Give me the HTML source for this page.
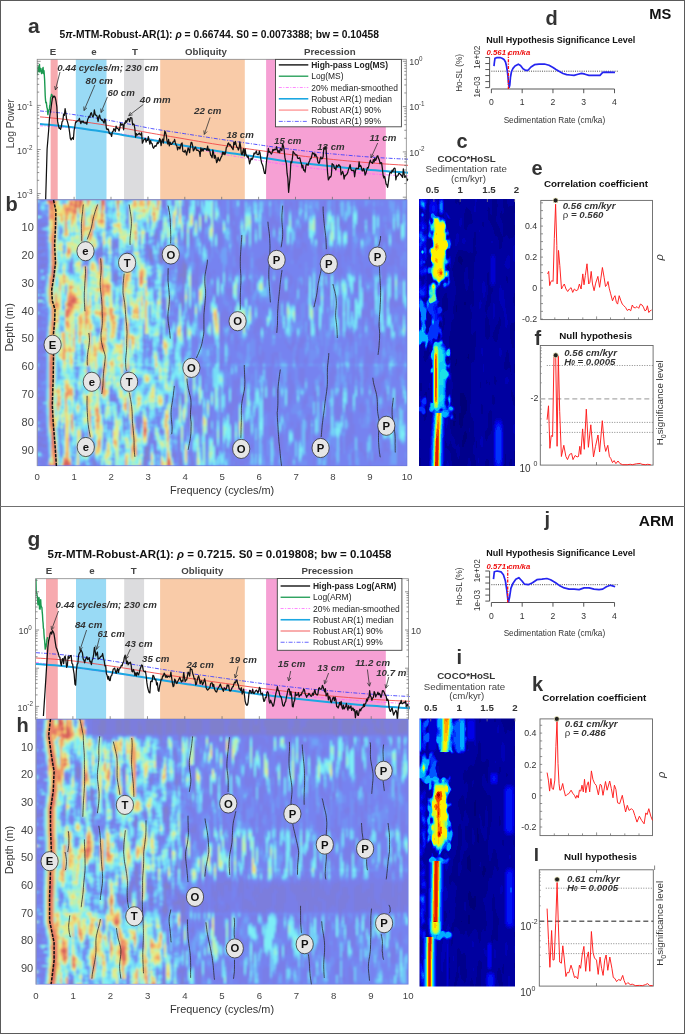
<!DOCTYPE html>
<html><head><meta charset="utf-8"><style>
html,body{margin:0;padding:0;background:#fff;}
body{width:685px;height:1034px;overflow:hidden;}
svg{display:block;font-family:"Liberation Sans",sans-serif;opacity:0.999;}
</style></head><body>
<svg width="685" height="1034" viewBox="0 0 685 1034">
<rect x="0.00" y="0.00" width="685.00" height="1034.00" fill="#fff"/>
<rect x="50.60" y="59.30" width="7.10" height="140.50" fill="#f7aaaf"/>
<rect x="75.80" y="59.30" width="30.70" height="140.50" fill="#99daf5"/>
<rect x="124.00" y="59.30" width="19.90" height="140.50" fill="#dcdcde"/>
<rect x="160.20" y="59.30" width="84.60" height="140.50" fill="#f9cba8"/>
<rect x="266.10" y="59.30" width="119.70" height="140.50" fill="#f6a0d4"/>
<text x="52.9" y="54.6" font-size="9.7" text-anchor="middle" font-weight="bold" font-style="normal" fill="#444">E</text>
<text x="94.0" y="54.6" font-size="9.7" text-anchor="middle" font-weight="bold" font-style="normal" fill="#444">e</text>
<text x="134.9" y="54.6" font-size="9.7" text-anchor="middle" font-weight="bold" font-style="normal" fill="#444">T</text>
<text x="206.0" y="54.6" font-size="9.7" text-anchor="middle" font-weight="bold" font-style="normal" fill="#444">Obliquity</text>
<text x="329.8" y="54.6" font-size="9.7" text-anchor="middle" font-weight="bold" font-style="normal" fill="#444">Precession</text>
<clipPath id="clipa"><rect x="37.2" y="59.3" width="371.6" height="140.5"/></clipPath>
<g clip-path="url(#clipa)">
<path d="M40.00,125.78 L44.66,126.00 L49.32,126.25 L53.97,126.55 L58.63,126.88 L63.29,127.24 L67.95,127.63 L72.61,128.05 L77.27,128.50 L81.92,128.98 L86.58,129.49 L91.24,130.01 L95.90,130.56 L100.56,131.13 L105.22,131.72 L109.87,132.33 L114.53,132.96 L119.19,133.60 L123.85,134.26 L128.51,134.98 L133.16,135.75 L137.82,136.57 L142.48,137.42 L147.14,138.32 L151.80,139.24 L156.46,140.19 L161.11,141.17 L165.77,142.16 L170.43,143.16 L175.09,144.18 L179.75,145.20 L184.41,146.22 L189.06,147.24 L193.72,148.25 L198.38,149.25 L203.04,150.23 L207.70,151.18 L212.35,152.11 L217.01,153.01 L221.67,153.88 L226.33,154.73 L230.99,155.58 L235.65,156.41 L240.30,157.24 L244.96,158.05 L249.62,158.86 L254.28,159.65 L258.94,160.42 L263.59,161.19 L268.25,161.94 L272.91,162.67 L277.57,163.39 L282.23,164.08 L286.89,164.77 L291.54,165.43 L296.20,166.07 L300.86,166.69 L305.52,167.30 L310.18,167.88 L314.84,168.44 L319.49,168.99 L324.15,169.52 L328.81,170.03 L333.47,170.53 L338.13,171.01 L342.78,171.47 L347.44,171.92 L352.10,172.34 L356.76,172.75 L361.42,173.14 L366.08,173.51 L370.73,173.86 L375.39,174.19 L380.05,174.50 L384.71,174.78 L389.37,175.04 L394.03,175.28 L398.68,175.49 L403.34,175.68 L408.00,175.84" stroke="#ff5cff" stroke-width="0.8" fill="none" stroke-linejoin="round" stroke-dasharray="3,1.5,1,1.5" stroke-linecap="butt"/>
<path d="M40.00,124.05 L44.66,124.40 L49.32,124.79 L53.97,125.21 L58.63,125.66 L63.29,126.14 L67.95,126.67 L72.61,127.25 L77.27,127.87 L81.92,128.53 L86.58,129.20 L91.24,129.90 L95.90,130.60 L100.56,131.30 L105.22,132.02 L109.87,132.77 L114.53,133.55 L119.19,134.33 L123.85,135.14 L128.51,135.94 L133.16,136.75 L137.82,137.55 L142.48,138.36 L147.14,139.17 L151.80,139.99 L156.46,140.81 L161.11,141.65 L165.77,142.49 L170.43,143.32 L175.09,144.15 L179.75,144.95 L184.41,145.75 L189.06,146.53 L193.72,147.32 L198.38,148.09 L203.04,148.85 L207.70,149.61 L212.35,150.35 L217.01,151.07 L221.67,151.79 L226.33,152.48 L230.99,153.15 L235.65,153.81 L240.30,154.47 L244.96,155.13 L249.62,155.79 L254.28,156.48 L258.94,157.18 L263.59,157.89 L268.25,158.60 L272.91,159.30 L277.57,159.99 L282.23,160.66 L286.89,161.29 L291.54,161.89 L296.20,162.46 L300.86,163.02 L305.52,163.55 L310.18,164.07 L314.84,164.57 L319.49,165.06 L324.15,165.55 L328.81,166.03 L333.47,166.51 L338.13,166.97 L342.78,167.43 L347.44,167.88 L352.10,168.31 L356.76,168.74 L361.42,169.16 L366.08,169.56 L370.73,169.95 L375.39,170.34 L380.05,170.70 L384.71,171.06 L389.37,171.41 L394.03,171.74 L398.68,172.06 L403.34,172.36 L408.00,172.65" stroke="#1ba7e2" stroke-width="2.0" fill="none" stroke-linejoin="round" stroke-linecap="butt"/>
<path d="M40.00,116.86 L44.66,117.27 L49.32,117.71 L53.97,118.18 L58.63,118.67 L63.29,119.19 L67.95,119.74 L72.61,120.33 L77.27,120.94 L81.92,121.58 L86.58,122.24 L91.24,122.92 L95.90,123.61 L100.56,124.32 L105.22,125.05 L109.87,125.81 L114.53,126.61 L119.19,127.42 L123.85,128.25 L128.51,129.09 L133.16,129.93 L137.82,130.77 L142.48,131.62 L147.14,132.47 L151.80,133.30 L156.46,134.11 L161.11,134.91 L165.77,135.71 L170.43,136.50 L175.09,137.28 L179.75,138.08 L184.41,138.88 L189.06,139.69 L193.72,140.50 L198.38,141.31 L203.04,142.12 L207.70,142.91 L212.35,143.68 L217.01,144.43 L221.67,145.15 L226.33,145.84 L230.99,146.50 L235.65,147.16 L240.30,147.80 L244.96,148.44 L249.62,149.08 L254.28,149.73 L258.94,150.38 L263.59,151.02 L268.25,151.66 L272.91,152.29 L277.57,152.92 L282.23,153.53 L286.89,154.14 L291.54,154.73 L296.20,155.31 L300.86,155.88 L305.52,156.44 L310.18,156.99 L314.84,157.53 L319.49,158.05 L324.15,158.56 L328.81,159.05 L333.47,159.53 L338.13,159.99 L342.78,160.45 L347.44,160.89 L352.10,161.31 L356.76,161.73 L361.42,162.13 L366.08,162.52 L370.73,162.90 L375.39,163.26 L380.05,163.60 L384.71,163.93 L389.37,164.25 L394.03,164.54 L398.68,164.82 L403.34,165.08 L408.00,165.33" stroke="#f24848" stroke-width="0.9" fill="none" stroke-linejoin="round" stroke-linecap="butt"/>
<path d="M40.00,110.95 L44.66,111.34 L49.32,111.76 L53.97,112.22 L58.63,112.71 L63.29,113.22 L67.95,113.80 L72.61,114.44 L77.27,115.12 L81.92,115.85 L86.58,116.59 L91.24,117.36 L95.90,118.13 L100.56,118.91 L105.22,119.69 L109.87,120.51 L114.53,121.35 L119.19,122.22 L123.85,123.10 L128.51,124.00 L133.16,124.90 L137.82,125.81 L142.48,126.77 L147.14,127.74 L151.80,128.59 L156.46,129.36 L161.11,130.10 L165.77,130.81 L170.43,131.50 L175.09,132.20 L179.75,132.92 L184.41,133.65 L189.06,134.39 L193.72,135.13 L198.38,135.87 L203.04,136.61 L207.70,137.34 L212.35,138.07 L217.01,138.78 L221.67,139.48 L226.33,140.17 L230.99,140.85 L235.65,141.52 L240.30,142.18 L244.96,142.84 L249.62,143.51 L254.28,144.17 L258.94,144.85 L263.59,145.52 L268.25,146.19 L272.91,146.86 L277.57,147.51 L282.23,148.14 L286.89,148.76 L291.54,149.35 L296.20,149.92 L300.86,150.48 L305.52,151.03 L310.18,151.57 L314.84,152.08 L319.49,152.58 L324.15,153.06 L328.81,153.53 L333.47,153.97 L338.13,154.40 L342.78,154.83 L347.44,155.24 L352.10,155.63 L356.76,156.02 L361.42,156.39 L366.08,156.74 L370.73,157.08 L375.39,157.41 L380.05,157.72 L384.71,158.01 L389.37,158.28 L394.03,158.54 L398.68,158.78 L403.34,159.00 L408.00,159.20" stroke="#4040ff" stroke-width="0.9" fill="none" stroke-linejoin="round" stroke-dasharray="4,1.5,1,1.5" stroke-linecap="butt"/>
<path d="M37.40,75.22 L37.70,68.30 L38.00,66.64 L38.30,67.38 L38.60,71.31 L38.90,71.07 L39.20,71.69 L39.50,64.35 L39.80,71.73 L40.10,67.89 L40.40,70.00 L40.70,68.58 L41.00,68.68 L41.30,72.00 L41.60,73.54 L41.90,70.81 L42.20,70.98 L42.50,72.90 L42.80,68.64 L43.10,67.49 L43.40,73.59 L43.70,72.34 L44.00,70.71 L44.30,74.71 L44.60,79.57 L44.90,86.91 L45.20,95.47 L45.50,99.80 L45.80,102.69 L46.10,102.10 L46.40,102.63 L46.70,105.94 L47.00,107.94 L47.30,108.52 L47.60,111.85 L47.90,114.61 L48.20,112.40 L48.50,110.18 L48.80,110.65 L49.10,109.82 L49.40,109.80 L49.70,105.64 L50.00,105.27 L50.30,101.73 L50.60,97.53 L50.90,96.93 L51.20,96.18 L51.50,94.32 L51.80,96.41 L52.10,95.42 L52.40,94.46" stroke="#1a9a50" stroke-width="1.4" fill="none" stroke-linejoin="round"/>
<path d="M45.60,201.00 L46.35,176.00 L47.10,149.00 L47.85,140.00 L48.60,131.00 L49.35,119.86 L50.10,113.75 L50.85,109.47 L51.60,103.37 L52.35,98.60 L53.10,96.01 L53.85,97.07 L54.60,96.20 L55.35,97.77 L56.10,101.70 L56.85,106.87 L57.60,121.40 L58.35,125.04 L59.10,128.32 L59.85,127.99 L60.60,129.41 L61.35,126.37 L62.10,121.66 L62.85,120.88 L63.60,114.05 L64.35,115.34 L65.10,108.68 L65.85,113.15 L66.60,119.10 L67.35,121.43 L68.10,124.09 L68.85,127.08 L69.60,132.40 L70.35,138.56 L71.10,139.97 L71.85,138.41 L72.60,137.64 L73.35,139.33 L74.10,130.42 L74.85,126.70 L75.60,121.98 L76.35,122.07 L77.10,120.80 L77.85,120.81 L78.60,120.15 L79.35,118.41 L80.10,121.29 L80.85,123.62 L81.60,121.18 L82.35,122.18 L83.10,120.95 L83.85,122.79 L84.60,122.77 L85.35,123.23 L86.10,122.40 L86.85,124.21 L87.60,119.74 L88.35,118.10 L89.10,116.23 L89.85,117.18 L90.60,113.63 L91.35,112.67 L92.10,115.23 L92.85,116.98 L93.60,115.75 L94.35,109.96 L95.10,114.06 L95.85,115.27 L96.60,115.31 L97.35,117.36 L98.10,121.33 L98.85,116.48 L99.60,115.05 L100.35,118.63 L101.10,119.21 L101.85,120.34 L102.60,119.89 L103.35,121.99 L104.10,123.04 L104.85,118.88 L105.60,120.76 L106.35,128.22 L107.10,129.78 L107.85,128.85 L108.60,129.92 L109.35,133.68 L110.10,133.71 L110.85,134.13 L111.60,136.44 L112.35,131.83 L113.10,131.37 L113.85,128.64 L114.60,129.75 L115.35,131.37 L116.10,126.09 L116.85,128.18 L117.60,128.40 L118.35,128.94 L119.10,130.91 L119.85,127.98 L120.60,123.11 L121.35,125.13 L122.10,123.98 L122.85,124.44 L123.60,129.78 L124.35,123.21 L125.10,123.41 L125.85,120.59 L126.60,122.29 L127.35,120.28 L128.10,118.52 L128.85,119.02 L129.60,121.54 L130.35,117.67 L131.10,117.76 L131.85,118.15 L132.60,124.77 L133.35,123.91 L134.10,124.38 L134.85,128.87 L135.60,137.08 L136.35,133.56 L137.10,135.05 L137.85,134.62 L138.60,133.81 L139.35,133.08 L140.10,134.65 L140.85,134.76 L141.60,132.74 L142.35,143.21 L143.10,141.39 L143.85,139.72 L144.60,139.12 L145.35,138.51 L146.10,142.02 L146.85,140.06 L147.60,140.35 L148.35,136.55 L149.10,140.37 L149.85,144.17 L150.60,140.58 L151.35,143.24 L152.10,143.56 L152.85,147.12 L153.60,148.25 L154.35,146.75 L155.10,145.65 L155.85,146.39 L156.60,144.81 L157.35,142.46 L158.10,143.53 L158.85,142.31 L159.60,138.50 L160.35,139.86 L161.10,145.55 L161.85,140.96 L162.60,139.10 L163.35,143.21 L164.10,136.47 L164.85,131.12 L165.60,132.81 L166.35,135.74 L167.10,141.54 L167.85,144.19 L168.60,139.49 L169.35,145.91 L170.10,142.17 L170.85,144.41 L171.60,144.48 L172.35,143.44 L173.10,141.89 L173.85,141.59 L174.60,139.40 L175.35,142.75 L176.10,144.97 L176.85,145.99 L177.60,149.87 L178.35,147.44 L179.10,147.00 L179.85,148.96 L180.60,146.50 L181.35,143.44 L182.10,142.95 L182.85,151.28 L183.60,151.52 L184.35,152.16 L185.10,150.14 L185.85,151.85 L186.60,155.01 L187.35,151.44 L188.10,147.84 L188.85,149.31 L189.60,152.66 L190.35,146.76 L191.10,142.27 L191.85,142.65 L192.60,145.70 L193.35,150.89 L194.10,149.90 L194.85,147.71 L195.60,147.07 L196.35,149.96 L197.10,150.44 L197.85,150.00 L198.60,151.02 L199.35,151.40 L200.10,156.38 L200.85,147.82 L201.60,151.06 L202.35,148.93 L203.10,151.12 L203.85,148.59 L204.60,148.62 L205.35,148.84 L206.10,149.00 L206.85,150.38 L207.60,146.17 L208.35,150.52 L209.10,149.19 L209.85,151.17 L210.60,155.01 L211.35,155.96 L212.10,157.73 L212.85,150.00 L213.60,153.23 L214.35,158.25 L215.10,155.25 L215.85,157.98 L216.60,162.71 L217.35,161.14 L218.10,157.34 L218.85,160.07 L219.60,160.95 L220.35,159.03 L221.10,157.16 L221.85,156.03 L222.60,152.04 L223.35,154.23 L224.10,152.30 L224.85,154.69 L225.60,152.65 L226.35,147.24 L227.10,146.98 L227.85,143.64 L228.60,142.86 L229.35,145.22 L230.10,144.52 L230.85,145.78 L231.60,147.56 L232.35,148.21 L233.10,149.66 L233.85,142.17 L234.60,144.64 L235.35,141.48 L236.10,144.63 L236.85,147.15 L237.60,147.65 L238.35,149.99 L239.10,148.24 L239.85,141.99 L240.60,146.43 L241.35,153.89 L242.10,154.85 L242.85,151.51 L243.60,148.76 L244.35,155.82 L245.10,148.92 L245.85,154.12 L246.60,155.61 L247.35,157.27 L248.10,155.96 L248.85,159.25 L249.60,163.94 L250.35,161.09 L251.10,158.05 L251.85,159.70 L252.60,158.60 L253.35,156.08 L254.10,153.01 L254.85,153.84 L255.60,152.52 L256.35,150.98 L257.10,154.35 L257.85,154.69 L258.60,154.69 L259.35,151.03 L260.10,153.55 L260.85,159.09 L261.60,162.98 L262.35,164.56 L263.10,166.81 L263.85,170.53 L264.60,173.50 L265.35,173.51 L266.10,165.47 L266.85,158.20 L267.60,155.10 L268.35,148.34 L269.10,152.16 L269.85,151.90 L270.60,152.94 L271.35,154.05 L272.10,152.68 L272.85,149.42 L273.60,150.65 L274.35,149.22 L275.10,149.74 L275.85,149.41 L276.60,146.56 L277.35,150.31 L278.10,152.47 L278.85,150.54 L279.60,152.78 L280.35,148.51 L281.10,149.24 L281.85,150.59 L282.60,143.56 L283.35,146.01 L284.10,149.35 L284.85,157.15 L285.60,160.79 L286.35,163.51 L287.10,173.47 L287.85,178.24 L288.60,192.33 L289.35,184.75 L290.10,177.54 L290.85,161.95 L291.60,162.87 L292.35,158.69 L293.10,151.34 L293.85,152.88 L294.60,153.21 L295.35,154.80 L296.10,154.77 L296.85,154.80 L297.60,158.16 L298.35,158.42 L299.10,157.98 L299.85,157.97 L300.60,161.50 L301.35,163.44 L302.10,167.81 L302.85,165.18 L303.60,170.28 L304.35,169.95 L305.10,172.06 L305.85,166.07 L306.60,164.09 L307.35,164.27 L308.10,165.34 L308.85,162.33 L309.60,160.96 L310.35,158.54 L311.10,158.59 L311.85,155.40 L312.60,152.64 L313.35,153.73 L314.10,153.24 L314.85,156.44 L315.60,154.17 L316.35,155.98 L317.10,157.28 L317.85,161.95 L318.60,163.10 L319.35,163.06 L320.10,159.18 L320.85,156.84 L321.60,158.91 L322.35,158.43 L323.10,156.81 L323.85,147.61 L324.60,149.18 L325.35,146.56 L326.10,149.51 L326.85,161.10 L327.60,173.17 L328.35,179.86 L329.10,178.74 L329.85,176.77 L330.60,177.16 L331.35,175.20 L332.10,163.61 L332.85,164.60 L333.60,164.88 L334.35,168.43 L335.10,167.99 L335.85,169.97 L336.60,165.18 L337.35,166.73 L338.10,165.82 L338.85,164.56 L339.60,166.24 L340.35,166.17 L341.10,174.82 L341.85,173.35 L342.60,171.37 L343.35,173.73 L344.10,179.03 L344.85,175.46 L345.60,175.83 L346.35,174.38 L347.10,173.99 L347.85,171.92 L348.60,169.13 L349.35,167.18 L350.10,164.67 L350.85,168.98 L351.60,170.52 L352.35,170.26 L353.10,170.89 L353.85,170.05 L354.60,176.78 L355.35,171.33 L356.10,168.47 L356.85,168.40 L357.60,168.61 L358.35,168.73 L359.10,161.90 L359.85,166.59 L360.60,165.49 L361.35,167.25 L362.10,170.82 L362.85,170.97 L363.60,168.41 L364.35,170.37 L365.10,175.03 L365.85,173.37 L366.60,170.71 L367.35,167.68 L368.10,168.12 L368.85,165.63 L369.60,162.10 L370.35,160.15 L371.10,162.38 L371.85,162.54 L372.60,163.37 L373.35,159.70 L374.10,162.03 L374.85,158.20 L375.60,160.40 L376.35,158.71 L377.10,156.08 L377.85,155.82 L378.60,158.58 L379.35,160.13 L380.10,163.70 L380.85,162.65 L381.60,162.92 L382.35,168.45 L383.10,175.29 L383.85,177.97 L384.60,176.31 L385.35,179.87 L386.10,184.02 L386.85,184.92 L387.60,187.30 L388.35,182.44 L389.10,176.33 L389.85,172.86 L390.60,172.31 L391.35,173.14 L392.10,170.08 L392.85,171.59 L393.60,168.82 L394.35,168.08 L395.10,168.55 L395.85,179.93 L396.60,176.15 L397.35,176.18 L398.10,175.29 L398.85,173.17 L399.60,173.63 L400.35,174.28 L401.10,175.01 L401.85,176.11 L402.60,177.47 L403.35,168.97 L404.10,173.81 L404.85,177.36 L405.60,175.92 L406.35,176.90 L407.10,180.55 L407.85,178.87" stroke="#111" stroke-width="1.25" fill="none" stroke-linejoin="round"/>
</g>
<rect x="37.2" y="59.3" width="369.1" height="140.5" fill="none" stroke="#888" stroke-width="0.8"/>
<line x1="37.20" y1="197.87" x2="39.20" y2="197.87" stroke="#666" stroke-width="0.7"/>
<line x1="37.20" y1="195.62" x2="39.20" y2="195.62" stroke="#666" stroke-width="0.7"/>
<line x1="37.20" y1="193.60" x2="40.70" y2="193.60" stroke="#666" stroke-width="0.7"/>
<line x1="37.20" y1="180.32" x2="39.20" y2="180.32" stroke="#666" stroke-width="0.7"/>
<line x1="37.20" y1="172.56" x2="39.20" y2="172.56" stroke="#666" stroke-width="0.7"/>
<line x1="37.20" y1="167.05" x2="39.20" y2="167.05" stroke="#666" stroke-width="0.7"/>
<line x1="37.20" y1="162.78" x2="39.20" y2="162.78" stroke="#666" stroke-width="0.7"/>
<line x1="37.20" y1="159.28" x2="39.20" y2="159.28" stroke="#666" stroke-width="0.7"/>
<line x1="37.20" y1="156.33" x2="39.20" y2="156.33" stroke="#666" stroke-width="0.7"/>
<line x1="37.20" y1="153.77" x2="39.20" y2="153.77" stroke="#666" stroke-width="0.7"/>
<line x1="37.20" y1="151.52" x2="39.20" y2="151.52" stroke="#666" stroke-width="0.7"/>
<line x1="37.20" y1="149.50" x2="40.70" y2="149.50" stroke="#666" stroke-width="0.7"/>
<line x1="37.20" y1="136.22" x2="39.20" y2="136.22" stroke="#666" stroke-width="0.7"/>
<line x1="37.20" y1="128.46" x2="39.20" y2="128.46" stroke="#666" stroke-width="0.7"/>
<line x1="37.20" y1="122.95" x2="39.20" y2="122.95" stroke="#666" stroke-width="0.7"/>
<line x1="37.20" y1="118.68" x2="39.20" y2="118.68" stroke="#666" stroke-width="0.7"/>
<line x1="37.20" y1="115.18" x2="39.20" y2="115.18" stroke="#666" stroke-width="0.7"/>
<line x1="37.20" y1="112.23" x2="39.20" y2="112.23" stroke="#666" stroke-width="0.7"/>
<line x1="37.20" y1="109.67" x2="39.20" y2="109.67" stroke="#666" stroke-width="0.7"/>
<line x1="37.20" y1="107.42" x2="39.20" y2="107.42" stroke="#666" stroke-width="0.7"/>
<line x1="37.20" y1="105.40" x2="40.70" y2="105.40" stroke="#666" stroke-width="0.7"/>
<line x1="37.20" y1="92.12" x2="39.20" y2="92.12" stroke="#666" stroke-width="0.7"/>
<line x1="37.20" y1="84.36" x2="39.20" y2="84.36" stroke="#666" stroke-width="0.7"/>
<line x1="37.20" y1="78.85" x2="39.20" y2="78.85" stroke="#666" stroke-width="0.7"/>
<line x1="37.20" y1="74.58" x2="39.20" y2="74.58" stroke="#666" stroke-width="0.7"/>
<line x1="37.20" y1="71.08" x2="39.20" y2="71.08" stroke="#666" stroke-width="0.7"/>
<line x1="37.20" y1="68.13" x2="39.20" y2="68.13" stroke="#666" stroke-width="0.7"/>
<line x1="37.20" y1="65.57" x2="39.20" y2="65.57" stroke="#666" stroke-width="0.7"/>
<line x1="37.20" y1="63.32" x2="39.20" y2="63.32" stroke="#666" stroke-width="0.7"/>
<line x1="37.20" y1="61.30" x2="40.70" y2="61.30" stroke="#666" stroke-width="0.7"/>
<line x1="406.30" y1="199.27" x2="404.30" y2="199.27" stroke="#666" stroke-width="0.7"/>
<line x1="406.30" y1="197.20" x2="402.80" y2="197.20" stroke="#666" stroke-width="0.7"/>
<line x1="406.30" y1="183.56" x2="404.30" y2="183.56" stroke="#666" stroke-width="0.7"/>
<line x1="406.30" y1="175.59" x2="404.30" y2="175.59" stroke="#666" stroke-width="0.7"/>
<line x1="406.30" y1="169.93" x2="404.30" y2="169.93" stroke="#666" stroke-width="0.7"/>
<line x1="406.30" y1="165.54" x2="404.30" y2="165.54" stroke="#666" stroke-width="0.7"/>
<line x1="406.30" y1="161.95" x2="404.30" y2="161.95" stroke="#666" stroke-width="0.7"/>
<line x1="406.30" y1="158.92" x2="404.30" y2="158.92" stroke="#666" stroke-width="0.7"/>
<line x1="406.30" y1="156.29" x2="404.30" y2="156.29" stroke="#666" stroke-width="0.7"/>
<line x1="406.30" y1="153.97" x2="404.30" y2="153.97" stroke="#666" stroke-width="0.7"/>
<line x1="406.30" y1="151.90" x2="402.80" y2="151.90" stroke="#666" stroke-width="0.7"/>
<line x1="406.30" y1="138.26" x2="404.30" y2="138.26" stroke="#666" stroke-width="0.7"/>
<line x1="406.30" y1="130.29" x2="404.30" y2="130.29" stroke="#666" stroke-width="0.7"/>
<line x1="406.30" y1="124.63" x2="404.30" y2="124.63" stroke="#666" stroke-width="0.7"/>
<line x1="406.30" y1="120.24" x2="404.30" y2="120.24" stroke="#666" stroke-width="0.7"/>
<line x1="406.30" y1="116.65" x2="404.30" y2="116.65" stroke="#666" stroke-width="0.7"/>
<line x1="406.30" y1="113.62" x2="404.30" y2="113.62" stroke="#666" stroke-width="0.7"/>
<line x1="406.30" y1="110.99" x2="404.30" y2="110.99" stroke="#666" stroke-width="0.7"/>
<line x1="406.30" y1="108.67" x2="404.30" y2="108.67" stroke="#666" stroke-width="0.7"/>
<line x1="406.30" y1="106.60" x2="402.80" y2="106.60" stroke="#666" stroke-width="0.7"/>
<line x1="406.30" y1="92.96" x2="404.30" y2="92.96" stroke="#666" stroke-width="0.7"/>
<line x1="406.30" y1="84.99" x2="404.30" y2="84.99" stroke="#666" stroke-width="0.7"/>
<line x1="406.30" y1="79.33" x2="404.30" y2="79.33" stroke="#666" stroke-width="0.7"/>
<line x1="406.30" y1="74.94" x2="404.30" y2="74.94" stroke="#666" stroke-width="0.7"/>
<line x1="406.30" y1="71.35" x2="404.30" y2="71.35" stroke="#666" stroke-width="0.7"/>
<line x1="406.30" y1="68.32" x2="404.30" y2="68.32" stroke="#666" stroke-width="0.7"/>
<line x1="406.30" y1="65.69" x2="404.30" y2="65.69" stroke="#666" stroke-width="0.7"/>
<line x1="406.30" y1="63.37" x2="404.30" y2="63.37" stroke="#666" stroke-width="0.7"/>
<line x1="406.30" y1="61.30" x2="402.80" y2="61.30" stroke="#666" stroke-width="0.7"/>
<line x1="74.10" y1="199.80" x2="74.10" y2="196.80" stroke="#666" stroke-width="0.7"/>
<line x1="111.00" y1="199.80" x2="111.00" y2="196.80" stroke="#666" stroke-width="0.7"/>
<line x1="147.90" y1="199.80" x2="147.90" y2="196.80" stroke="#666" stroke-width="0.7"/>
<line x1="184.80" y1="199.80" x2="184.80" y2="196.80" stroke="#666" stroke-width="0.7"/>
<line x1="221.70" y1="199.80" x2="221.70" y2="196.80" stroke="#666" stroke-width="0.7"/>
<line x1="258.60" y1="199.80" x2="258.60" y2="196.80" stroke="#666" stroke-width="0.7"/>
<line x1="295.50" y1="199.80" x2="295.50" y2="196.80" stroke="#666" stroke-width="0.7"/>
<line x1="332.40" y1="199.80" x2="332.40" y2="196.80" stroke="#666" stroke-width="0.7"/>
<line x1="369.30" y1="199.80" x2="369.30" y2="196.80" stroke="#666" stroke-width="0.7"/>
<rect x="275.50" y="59.40" width="125.90" height="67.40" fill="#fff" stroke="#444" stroke-width="0.9"/>
<line x1="278.80" y1="64.90" x2="308.30" y2="64.90" stroke="#000" stroke-width="1.3"/>
<text x="311.2" y="67.9" font-size="8.45" text-anchor="start" font-weight="bold" font-style="normal" fill="#222">High-pass Log(MS)</text>
<line x1="278.80" y1="76.20" x2="308.30" y2="76.20" stroke="#1a9a50" stroke-width="1.3"/>
<text x="311.2" y="79.2" font-size="8.45" text-anchor="start" font-weight="normal" font-style="normal" fill="#222">Log(MS)</text>
<line x1="278.80" y1="87.50" x2="308.30" y2="87.50" stroke="#ff6cff" stroke-width="0.8" stroke-dasharray="3,1.5,1,1.5"/>
<text x="311.2" y="90.5" font-size="8.45" text-anchor="start" font-weight="normal" font-style="normal" fill="#222">20% median-smoothed</text>
<line x1="278.80" y1="98.80" x2="308.30" y2="98.80" stroke="#1ba7e2" stroke-width="1.6"/>
<text x="311.2" y="101.8" font-size="8.45" text-anchor="start" font-weight="normal" font-style="normal" fill="#222">Robust AR(1) median</text>
<line x1="278.80" y1="110.10" x2="308.30" y2="110.10" stroke="#ffa0a0" stroke-width="1.5"/>
<text x="311.2" y="113.1" font-size="8.45" text-anchor="start" font-weight="normal" font-style="normal" fill="#222">Robust AR(1) 90%</text>
<line x1="278.80" y1="121.40" x2="308.30" y2="121.40" stroke="#4040ff" stroke-width="0.8" stroke-dasharray="4,1.5,1,1.5"/>
<text x="311.2" y="124.4" font-size="8.45" text-anchor="start" font-weight="normal" font-style="normal" fill="#222">Robust AR(1) 99%</text>
<text x="17.0" y="109.8" font-size="9.0" text-anchor="start" font-weight="normal" font-style="normal" fill="#444">10</text>
<text x="26.8" y="105.6" font-size="6.3" text-anchor="start" font-weight="normal" font-style="normal" fill="#444">-1</text>
<text x="17.0" y="153.9" font-size="9.0" text-anchor="start" font-weight="normal" font-style="normal" fill="#444">10</text>
<text x="26.8" y="149.7" font-size="6.3" text-anchor="start" font-weight="normal" font-style="normal" fill="#444">-2</text>
<text x="17.0" y="197.7" font-size="9.0" text-anchor="start" font-weight="normal" font-style="normal" fill="#444">10</text>
<text x="26.8" y="193.5" font-size="6.3" text-anchor="start" font-weight="normal" font-style="normal" fill="#444">-3</text>
<text x="409.2" y="65.0" font-size="9.0" text-anchor="start" font-weight="normal" font-style="normal" fill="#444">10</text>
<text x="419.0" y="60.8" font-size="6.3" text-anchor="start" font-weight="normal" font-style="normal" fill="#444">0</text>
<text x="409.2" y="110.0" font-size="9.0" text-anchor="start" font-weight="normal" font-style="normal" fill="#444">10</text>
<text x="419.0" y="105.8" font-size="6.3" text-anchor="start" font-weight="normal" font-style="normal" fill="#444">-1</text>
<text x="409.2" y="155.6" font-size="9.0" text-anchor="start" font-weight="normal" font-style="normal" fill="#444">10</text>
<text x="419.0" y="151.4" font-size="6.3" text-anchor="start" font-weight="normal" font-style="normal" fill="#444">-2</text>
<text x="57.2" y="70.7" font-size="9.7" text-anchor="start" font-weight="bold" font-style="italic" fill="#333">0.44 cycles/m; 230 cm</text>
<text x="85.5" y="83.8" font-size="9.7" text-anchor="start" font-weight="bold" font-style="italic" fill="#333">80 cm</text>
<text x="107.4" y="95.5" font-size="9.7" text-anchor="start" font-weight="bold" font-style="italic" fill="#333">60 cm</text>
<text x="139.8" y="103.1" font-size="9.7" text-anchor="start" font-weight="bold" font-style="italic" fill="#333">40 mm</text>
<text x="194.0" y="113.9" font-size="9.7" text-anchor="start" font-weight="bold" font-style="italic" fill="#333">22 cm</text>
<text x="226.4" y="138.1" font-size="9.7" text-anchor="start" font-weight="bold" font-style="italic" fill="#333">18 cm</text>
<text x="274.0" y="143.9" font-size="9.7" text-anchor="start" font-weight="bold" font-style="italic" fill="#333">15 cm</text>
<text x="317.2" y="149.8" font-size="9.7" text-anchor="start" font-weight="bold" font-style="italic" fill="#333">13 cm</text>
<text x="369.5" y="141.0" font-size="9.7" text-anchor="start" font-weight="bold" font-style="italic" fill="#333">11 cm</text>
<line x1="60.00" y1="72.00" x2="55.40" y2="90.00" stroke="#333" stroke-width="0.8"/>
<path d="M54.61,86.08 L55.40,90.00 L57.98,86.94" stroke="#333" stroke-width="0.8" fill="none" stroke-linejoin="round"/>
<line x1="94.80" y1="85.00" x2="84.00" y2="110.50" stroke="#333" stroke-width="0.8"/>
<path d="M83.80,106.50 L84.00,110.50 L87.01,107.86" stroke="#333" stroke-width="0.8" fill="none" stroke-linejoin="round"/>
<line x1="107.40" y1="96.90" x2="101.00" y2="112.50" stroke="#333" stroke-width="0.8"/>
<path d="M100.76,108.51 L101.00,112.50 L103.98,109.83" stroke="#333" stroke-width="0.8" fill="none" stroke-linejoin="round"/>
<line x1="143.30" y1="104.50" x2="128.70" y2="115.70" stroke="#333" stroke-width="0.8"/>
<path d="M130.50,112.13 L128.70,115.70 L132.62,114.89" stroke="#333" stroke-width="0.8" fill="none" stroke-linejoin="round"/>
<line x1="210.10" y1="117.50" x2="204.30" y2="134.40" stroke="#333" stroke-width="0.8"/>
<path d="M203.82,130.43 L204.30,134.40 L207.11,131.56" stroke="#333" stroke-width="0.8" fill="none" stroke-linejoin="round"/>
<line x1="377.70" y1="143.00" x2="371.00" y2="157.80" stroke="#333" stroke-width="0.8"/>
<path d="M370.90,153.80 L371.00,157.80 L374.07,155.24" stroke="#333" stroke-width="0.8" fill="none" stroke-linejoin="round"/>
<text x="28.0" y="32.6" font-size="21" text-anchor="start" font-weight="bold" font-style="normal" fill="#333">a</text>
<text x="59.4" y="38.2" font-size="10.3" text-anchor="start" font-weight="bold" font-style="normal" fill="#111">5<tspan font-style="italic">π</tspan>-MTM-Robust-AR(1): <tspan font-style="italic">ρ</tspan> = 0.66744. S0 = 0.0073388; bw = 0.10458</text>
<text x="13.7" y="123.6" font-size="10.3" text-anchor="middle" font-weight="normal" font-style="normal" fill="#444" transform="rotate(-90 13.7 123.6)">Log Power</text>
<defs><clipPath id="spb"><rect x="37" y="200" width="370" height="266"/></clipPath><filter id="blurspb" x="-2%" y="-2%" width="104%" height="104%"><feGaussianBlur stdDeviation="0.8"/></filter></defs>
<g clip-path="url(#spb)"><g filter="url(#blurspb)">
<rect x="35" y="198" width="374" height="270" fill="#7683f0"/>
<path stroke="#7f7fcd" stroke-width="2" d="M38 398v2M42 250v2M94 460v6M100 374v2M100 378v2M102 248v2M114 242v6M114 398v2M116 274v6M124 378v4M126 378v2M140 420v4M144 458v8M146 448v6M146 456v4M148 446v14M150 250v8M150 438v2M152 256v4M156 234v4M160 250v2M160 254v8M162 250v12M164 256v2M168 324v4M174 454v2M178 402v2M180 274v2M180 460v4M182 274v2M182 298v8M184 262v22M186 236v8M186 264v12M186 330v4M190 412v8"/>
<path stroke="#7c7ddd" stroke-width="2" d="M38 230v4M38 238v2M38 244v2M38 252v2M38 316v4M38 338v2M38 352v2M38 374v4M38 384v2M38 402v2M38 410v4M38 436v2M38 444v2M40 224v2M40 230v4M40 238v2M40 244v2M40 250v4M40 258v2M40 266v2M40 304v2M40 316v4M40 336v4M40 370v2M40 398v2M40 410v4M40 436v2M40 442v4M42 224v2M42 232v2M42 238v2M42 244v2M42 258v2M42 264v4M42 304v2M42 336v2M42 370v2M42 432v2M42 438v2M42 444v2M44 224v2M44 232v2M44 238v2M44 244v2M44 250v2M44 258v2M44 264v4M44 350v2M44 358v2M44 396v2M44 424v2M44 432v2M44 444v4M46 224v2M46 258v2M46 264v2M46 444v4M72 262v2M82 434v4M82 440v2M82 444v2M84 464v2M88 254v6M94 458v2M96 464v2M98 252v4M100 254v2M100 376v2M102 246v2M102 250v6M104 440v2M112 398v2M114 248v2M114 274v2M114 278v2M116 280v2M118 406v2M124 382v4M124 428v2M126 376v2M126 380v2M128 254v2M138 420v8M140 418v2M140 424v4M144 338v4M144 346v2M144 456v2M146 248v2M146 446v2M146 454v2M146 462v4M148 246v4M150 248v2M150 258v2M150 434v4M150 440v2M152 252v4M152 260v2M154 442v2M156 232v2M156 238v2M156 242v2M156 450v4M160 252v2M162 284v2M162 430v2M164 200v6M164 250v2M164 258v2M164 284v2M164 300v4M164 306v2M166 318v2M166 324v4M170 268v2M170 302v4M170 372v2M172 252v2M174 452v2M174 456v2M178 260v2M178 264v2M178 274v8M178 394v2M178 398v4M178 404v2M180 268v6M180 276v4M180 298v2M180 442v8M180 452v8M180 464v2M182 264v10M182 276v2M182 294v4M182 306v2M182 394v10M182 460v6M184 260v2M184 284v4M186 200v8M186 234v2M186 244v2M186 276v2M186 326v4M186 334v2M188 418v2M190 234v4M190 410v2M190 420v6M192 234v6M192 412v2M192 460v6M194 412v10M196 280v4M236 462v4"/>
<path stroke="#797ee8" stroke-width="2" d="M38 210v4M38 220v2M38 224v4M38 234v4M38 246v2M38 250v2M38 256v4M38 266v8M38 292v2M38 298v2M38 304v2M38 336v2M38 346v2M38 350v2M38 356v4M38 372v2M38 378v2M38 382v2M38 386v2M38 392v2M38 396v2M38 400v2M38 404v4M38 414v6M38 442v2M38 446v2M38 450v2M38 456v2M38 460v2M40 220v4M40 226v2M40 236v2M40 242v2M40 256v2M40 262v4M40 286v2M40 292v2M40 296v4M40 310v2M40 320v8M40 330v6M40 344v10M40 356v4M40 372v8M40 384v4M40 390v4M40 396v2M40 402v4M40 416v4M40 432v2M40 438v4M40 446v2M40 450v2M40 460v2M42 218v2M42 222v2M42 226v2M42 230v2M42 236v2M42 240v4M42 252v2M42 256v2M42 260v4M42 280v4M42 286v2M42 292v2M42 298v2M42 316v4M42 324v2M42 330v6M42 338v2M42 344v10M42 356v4M42 362v2M42 366v2M42 372v2M42 378v2M42 396v4M42 404v2M42 410v4M42 416v2M42 424v4M42 436v2M42 440v4M42 446v2M42 450v2M42 458v8M44 222v2M44 230v2M44 236v2M44 240v4M44 246v4M44 256v2M44 260v4M44 272v2M44 280v8M44 304v2M44 318v2M44 324v2M44 332v2M44 336v4M44 344v4M44 352v2M44 356v2M44 370v4M44 376v2M44 392v2M44 398v4M44 412v2M44 416v2M44 422v2M44 426v2M44 430v2M44 436v6M44 450v4M44 458v8M46 218v2M46 222v2M46 232v2M46 244v2M46 250v2M46 256v2M46 262v2M46 266v2M46 270v4M46 318v2M46 324v4M46 430v4M46 436v6M46 452v2M46 456v6M46 464v2M64 430v2M72 260v2M72 264v6M76 390v2M76 396v2M82 348v8M82 438v2M82 442v2M88 260v2M98 256v4M100 248v2M100 252v2M100 372v2M100 380v2M104 442v2M108 226v2M108 422v2M110 394v4M112 394v2M112 422v2M114 240v2M114 250v2M114 254v2M114 276v2M114 396v2M114 400v2M116 244v2M116 272v2M116 398v2M118 240v2M118 244v2M118 254v2M118 278v2M118 408v4M124 376v2M124 418v4M124 424v4M126 254v2M126 370v2M126 374v2M126 382v4M128 210v2M128 256v2M132 246v6M134 266v2M134 378v2M134 384v2M138 418v2M138 428v2M140 416v2M144 330v6M144 342v2M144 348v2M144 354v2M146 234v2M146 238v2M146 244v4M146 254v4M146 460v2M148 238v2M148 244v2M148 250v6M148 278v2M148 408v4M150 260v2M150 282v4M150 316v2M150 346v10M150 442v2M152 250v2M152 262v2M152 348v2M152 434v4M154 440v2M156 230v2M156 240v2M156 296v2M156 442v4M160 228v2M160 248v2M160 262v2M160 350v2M160 430v2M162 200v2M162 220v2M162 262v2M162 300v2M162 336v2M162 356v2M162 432v2M164 206v2M164 252v4M164 274v2M164 280v4M164 298v2M164 304v2M164 308v2M166 204v2M166 260v4M166 316v2M166 328v2M168 318v2M168 322v2M168 328v2M170 264v2M170 300v2M170 306v2M170 310v2M170 370v2M170 374v2M172 250v2M172 254v6M174 252v2M174 256v12M174 302v2M174 316v2M174 338v4M174 408v2M174 448v4M174 458v2M176 310v2M176 320v2M176 384v2M176 454v4M178 258v2M178 262v2M178 266v8M178 282v2M178 396v2M178 408v2M178 436v4M178 444v2M180 234v4M180 260v8M180 280v2M180 294v4M180 436v6M180 450v2M182 260v4M182 278v6M182 292v2M182 352v6M182 404v2M182 458v2M184 230v2M184 238v6M184 258v2M184 288v6M184 300v6M184 332v2M186 208v2M186 212v2M186 230v4M186 246v2M186 278v2M186 320v6M186 336v2M186 340v2M186 430v2M188 202v14M188 302v10M188 410v8M188 420v6M190 232v2M190 238v6M190 258v2M190 310v12M190 390v2M190 394v2M190 406v4M190 426v10M190 452v4M192 232v2M192 240v6M192 274v12M192 306v16M192 390v8M192 406v6M192 452v8M194 274v12M194 408v4M194 422v2M194 462v4M196 204v14M196 254v10M196 266v14M196 284v4M196 338v8M196 410v4M198 208v14M198 258v28M198 406v20M198 430v2M200 200v10M200 320v2M200 406v16M200 428v10M202 216v28M202 306v22M202 368v18M202 402v10M204 216v14M204 306v6M204 318v6M206 270v40M206 436v2M208 216v6M208 244v6M208 266v16M208 420v14M210 242v12M210 272v6M210 412v22M212 296v2M212 328v12M214 240v2M214 270v4M214 288v6M216 284v18M216 436v18M218 200v2M218 228v20M218 298v6M218 450v4M220 200v6M220 230v22M220 260v2M220 280v16M220 316v26M220 360v4M220 366v2M220 388v24M220 432v8M222 232v14M222 312v34M222 354v10M222 366v2M222 416v4M224 308v14M224 336v4M226 210v6M226 268v26M226 310v14M226 448v4M228 252v4M228 288v8M228 312v12M228 338v4M228 362v2M228 386v4M228 406v6M230 200v20M230 288v12M230 320v18M230 356v8M230 404v18M232 208v20M232 288v12M232 314v18M232 392v24M232 422v16M232 440v26M234 214v6M234 226v18M234 268v12M234 302v26M234 380v30M234 424v8M234 438v22M236 220v42M236 270v2M236 336v14M236 380v26M236 460v2M238 232v2M238 244v26M238 294v4M238 340v4M238 378v10M238 396v8M238 442v6M238 456v4M240 254v10M240 378v6M240 460v6M242 200v14M242 254v16M242 460v6M244 208v2M244 252v12M244 386v2M244 394v8M244 426v8M244 460v6M246 244v24M246 286v6M246 386v14M246 424v14M246 444v18M248 236v8M248 256v40M248 422v14M248 452v12M250 280v14M250 426v8M250 444v14M252 230v16M252 444v4M254 284v6M254 326v8M256 260v6M256 322v16M258 226v10M258 258v12M258 300v6M258 318v14M258 336v24M258 434v8M260 258v14M260 318v12M260 342v2M260 356v8M262 226v12M262 256v16M262 320v6M262 350v14M262 366v4M264 232v8M264 254v22M264 306v4M264 324v4M264 352v8M264 386v24M264 438v12M266 232v10M266 252v24M266 398v12M268 208v10M268 232v4M268 254v12M268 368v20M268 398v14M270 218v14M270 256v8M270 366v46M270 426v10M272 214v16M272 354v10M272 366v24M272 420v16M274 216v8M274 284v12M274 352v12M274 426v20M276 220v12M276 242v12M276 276v24M276 326v8M276 352v4M276 374v20M276 406v2M276 434v18M278 222v12M278 246v8M278 278v22M278 306v6M278 326v6M278 352v8M278 390v4M278 438v16M280 286v32M280 436v16M282 288v12M282 434v16M284 204v6M284 234v8M284 274v4M284 284v16M286 200v16M286 230v24M286 270v6M286 292v10M286 340v4M286 452v2M288 206v12M288 246v6M288 272v4M288 284v16M288 344v4M288 374v10M288 394v12M288 460v6M290 200v6M290 244v2M290 274v12M290 346v4M290 372v32M290 456v10M292 202v8M292 276v8M292 298v4M292 342v10M292 380v20M292 422v4M294 244v16M294 336v10M294 384v10M296 200v10M296 248v16M296 280v14M296 334v2M296 356v6M296 428v10M298 200v10M298 228v8M298 248v12M298 304v10M298 344v20M298 422v20M300 232v6M300 248v8M300 264v4M300 284v4M300 338v10M300 368v14M300 424v14M302 224v16M302 242v12M302 338v10M302 368v18M304 226v6M304 242v6M304 276v12M304 336v8M304 360v2M304 368v16M304 400v8M306 224v8M306 244v8M306 290v4M306 358v6M306 394v10M306 418v2M306 432v10M308 278v14M308 326v6M308 414v26M310 322v16M310 414v20M314 304v4M314 384v12M314 434v14M314 458v8M316 288v12M316 326v8M316 392v18M316 438v22M318 218v6M318 238v16M318 298v16M318 328v8M320 200v58M320 382v6M320 426v16M322 206v6M322 216v18M322 242v16M322 382v4M322 430v26M324 200v36M324 278v10M324 430v10M326 200v12M326 244v16M326 288v2M326 424v10M328 246v12M328 274v6M328 290v6M328 350v2M328 424v8M328 454v12M330 284v12M330 372v24M330 424v4M330 450v16M332 206v4M332 252v4M332 360v2M332 368v18M334 248v14M334 310v2M334 366v18M334 456v10M336 200v26M336 268v4M336 370v4M336 398v22M338 200v12M338 252v24M338 398v20M340 214v12M340 254v30M340 328v2M340 390v8M340 406v14M340 440v2M342 220v14M342 268v6M342 388v8M342 442v12M344 224v6M344 254v2M344 346v2M346 224v4M346 250v12M346 306v6M346 332v4M346 406v8M346 434v16M348 218v6M348 242v14M348 330v8M348 380v10M348 404v16M348 430v16M350 236v24M350 334v12M350 398v8M350 412v32M352 264v2M352 300v10M352 332v10M352 412v30M352 454v6M354 310v2M354 358v6M354 366v18M354 424v10M354 450v16M356 282v10M358 220v12M358 248v8M358 280v12M358 368v12M360 206v28M360 252v12M360 404v8M360 442v10M362 208v24M362 262v12M362 312v4M362 402v12M362 442v10M364 208v12M364 224v2M364 228v4M364 292v10M364 308v18M364 366v4M364 380v6M364 406v6M364 450v6M366 210v6M366 268v6M366 292v10M366 310v6M366 346v18M366 366v16M366 452v8M368 208v20M368 266v12M368 294v24M368 346v18M368 366v12M370 212v12M370 250v10M370 268v10M370 292v4M370 302v20M370 354v10M370 430v2M370 460v6M372 248v14M372 274v4M372 292v16M372 318v12M372 352v12M372 382v14M372 402v2M372 422v18M374 256v6M374 300v8M374 326v6M374 336v6M374 352v8M374 380v10M374 420v20M374 452v10M376 208v2M376 330v18M376 380v14M376 424v12M376 454v6M378 254v4M378 332v18M378 380v16M380 240v6M380 342v18M380 378v14M380 420v14M380 458v2M382 232v18M382 266v14M382 376v6M382 410v22M382 452v10M384 228v14M384 260v20M384 296v16M384 372v8M384 392v6M384 408v4M384 442v10M386 236v6M386 262v16M386 294v8M386 392v10M386 442v10M388 222v6M388 262v4M388 330v8M388 406v6M388 448v4M390 254v12M390 300v10M390 406v8M390 452v2M392 248v18M392 272v34M394 248v16M394 286v6M394 296v12M394 420v10M396 222v20M396 250v8M396 302v6M396 346v4M396 396v6M398 232v12M398 256v12M398 302v4M398 344v10M398 368v12M398 394v28M398 440v26M400 226v18M400 298v8M400 342v6M400 370v2M402 270v6M402 302v4M402 316v6M402 346v6M402 462v4M404 272v4M406 210v6M406 334v8M406 374v6M406 464v2"/>
<path stroke="#738ff3" stroke-width="2" d="M38 202v2M38 208v2M38 218v2M38 260v2M38 274v2M38 280v4M38 288v2M38 306v4M38 342v2M38 362v2M38 366v4M38 426v2M38 430v2M38 464v2M40 204v2M40 270v2M40 278v2M40 284v2M40 312v2M40 342v2M40 422v2M40 430v2M40 458v2M42 200v2M42 212v4M42 254v2M42 284v2M42 306v4M42 314v2M42 328v2M42 342v2M42 382v4M42 388v2M42 406v2M42 428v4M42 456v2M44 200v2M44 214v2M44 252v4M44 270v2M44 288v2M44 308v2M44 314v2M44 322v2M44 328v2M44 364v2M44 388v2M44 404v2M44 410v2M46 204v2M46 210v2M46 214v2M46 230v2M46 234v2M46 274v2M46 278v4M46 310v2M46 370v10M46 384v6M46 414v10M48 218v6M48 248v10M48 264v4M48 308v2M48 312v4M48 442v8M58 378v2M60 232v2M60 370v2M60 422v2M60 428v2M60 432v2M60 440v8M62 230v2M62 446v4M62 454v2M64 246v2M64 250v2M64 306v2M64 432v2M70 262v4M72 258v2M72 272v2M72 456v2M74 464v2M76 356v4M76 362v2M76 366v4M76 384v2M76 446v4M78 372v4M82 264v2M82 358v4M82 430v4M82 446v4M82 464v2M84 260v2M84 436v2M86 258v8M88 366v2M88 370v2M88 374v2M88 432v4M90 252v2M90 256v2M90 374v2M90 378v2M90 458v2M92 252v4M92 462v4M94 442v2M94 454v2M96 250v2M96 256v4M96 460v2M98 236v2M98 262v2M98 328v2M98 332v2M98 374v4M98 464v2M100 236v4M100 246v2M100 256v2M100 370v2M100 384v4M100 460v2M102 406v4M102 412v2M104 418v2M104 436v2M106 206v4M106 212v2M106 248v6M106 256v2M106 440v2M108 222v4M108 228v2M108 420v2M108 424v2M108 428v2M110 390v2M110 400v2M112 246v2M112 262v2M112 266v6M112 388v2M112 392v2M112 416v6M112 426v2M112 458v2M114 208v2M114 238v2M114 256v2M114 270v2M114 294v2M114 300v2M114 464v2M116 284v2M118 238v2M118 256v2M118 270v2M118 274v2M118 334v2M118 398v4M118 412v2M120 278v2M120 296v4M120 302v2M120 322v2M120 326v2M120 334v2M120 406v2M120 434v2M122 268v6M122 278v2M122 320v2M122 446v2M124 254v2M124 374v2M124 416v2M124 430v2M124 446v2M124 450v2M126 200v2M126 258v4M126 428v2M128 208v2M128 216v2M128 220v2M128 226v2M128 250v2M128 258v4M128 306v4M128 370v2M128 376v4M128 386v4M128 414v4M128 422v4M130 250v4M130 256v2M132 244v2M132 254v4M134 262v4M134 270v2M136 280v6M136 288v4M136 354v4M136 378v2M136 416v4M136 422v6M138 378v2M138 382v4M138 430v2M140 242v2M140 250v2M140 378v4M140 412v4M140 430v2M144 324v2M144 358v6M144 366v2M144 450v4M146 232v2M146 240v4M146 260v2M146 340v4M148 232v2M148 240v2M148 258v2M148 336v6M148 346v2M148 352v4M148 368v2M148 442v2M148 462v4M150 220v4M150 244v2M150 262v2M150 286v2M150 308v6M150 320v2M150 340v2M150 358v6M150 366v2M150 450v2M150 454v2M150 458v2M152 276v4M152 284v2M152 338v2M152 342v2M152 350v4M152 368v2M152 428v4M154 238v2M154 258v2M154 264v2M154 268v2M154 272v2M154 278v2M154 282v2M154 292v6M154 322v2M154 420v2M154 434v6M154 448v4M156 228v2M156 268v2M156 272v4M156 290v4M156 378v2M156 410v4M156 416v4M156 422v2M156 440v2M156 456v6M156 464v2M158 224v4M158 238v2M158 254v4M158 348v4M158 412v2M158 424v2M160 230v12M160 246v2M160 338v4M160 344v4M160 352v2M160 358v2M160 412v2M160 422v2M160 426v4M160 432v2M160 458v2M162 210v8M162 226v4M162 278v4M162 286v2M162 290v2M162 302v4M162 308v2M162 314v4M162 328v2M162 332v2M162 340v4M162 348v4M162 358v2M162 412v2M162 428v2M162 434v2M164 208v2M164 242v6M164 262v2M164 270v4M164 286v2M164 290v2M164 314v4M164 408v2M166 212v2M166 240v2M166 244v2M166 266v10M166 300v10M166 314v2M166 320v2M166 332v2M166 394v2M166 402v2M168 208v2M168 262v2M168 278v4M168 330v4M168 396v2M170 220v2M170 252v6M170 276v4M170 294v2M170 314v2M170 320v2M170 326v2M170 356v4M170 376v4M170 422v2M172 200v4M172 244v6M172 262v6M172 272v2M172 276v2M172 280v2M172 304v8M172 314v2M172 320v2M172 324v2M172 354v2M172 400v2M172 406v2M172 410v6M172 418v4M172 424v2M172 432v2M172 438v2M172 448v6M174 200v2M174 204v2M174 248v2M174 270v4M174 298v2M174 314v2M174 320v2M174 336v2M174 346v2M174 352v2M174 356v4M174 406v2M174 412v2M174 420v4M174 436v4M174 444v2M174 462v2M176 258v8M176 280v4M176 306v2M176 326v2M176 336v2M176 388v2M176 394v2M176 398v6M176 410v2M176 416v2M176 450v2M176 462v2M178 232v2M178 236v4M178 286v2M178 298v2M178 302v6M178 312v4M178 384v8M178 414v2M178 434v2M178 458v2M178 462v4M180 228v4M180 242v2M180 252v2M180 284v2M180 290v2M180 430v4M182 206v8M182 242v4M182 254v4M182 284v4M182 312v4M182 392v2M182 452v4M184 200v6M184 214v2M184 226v2M184 232v2M184 246v10M184 326v2M184 336v2M184 346v2M184 394v2M184 428v8M184 442v4M186 216v4M186 222v2M186 260v2M186 280v2M186 314v4M186 350v2M186 418v4M188 218v2M188 258v10M188 292v8M188 314v2M188 344v2M188 380v4M188 388v4M188 404v2M188 428v4M188 450v2M188 454v2M188 464v2M190 262v2M190 308v2M190 376v4M190 400v4M190 438v10M190 460v4M192 250v12M192 270v4M192 288v4M192 296v4M192 322v2M192 336v2M192 378v2M192 386v2M192 400v2M192 404v2M192 414v2M192 438v12M194 220v8M194 262v8M194 288v2M194 302v4M194 312v2M194 318v2M194 336v2M194 356v4M194 398v4M194 404v2M194 428v4M194 434v2M194 452v4M196 218v2M196 248v4M196 292v10M196 334v2M196 362v2M196 366v4M196 392v2M196 400v6M196 416v6M196 426v2M196 452v4M198 206v2M198 226v4M198 250v4M198 300v2M198 306v2M198 320v8M198 336v4M198 348v2M198 358v2M198 364v2M198 370v16M198 396v2M200 232v2M200 238v2M200 256v2M200 276v10M200 314v2M200 330v2M200 338v2M200 356v2M200 364v2M200 442v4M202 214v2M202 248v4M202 260v6M202 278v4M202 340v8M202 356v4M202 364v2M202 388v2M202 418v2M202 428v6M202 450v8M204 202v2M204 264v2M204 272v2M204 300v2M204 344v4M204 362v2M204 366v2M204 396v2M206 226v2M206 234v4M206 346v4M206 362v2M206 366v4M206 378v6M206 392v12M206 448v10M208 226v2M208 234v4M208 284v4M208 344v4M208 376v16M208 396v2M208 440v12M210 258v4M210 284v12M210 304v18M210 336v2M210 344v12M210 358v4M210 366v2M210 374v10M210 394v10M210 434v2M212 248v10M212 286v2M212 298v2M212 320v4M212 344v4M212 350v6M212 364v6M212 378v12M212 406v2M212 434v4M214 200v10M214 224v8M214 338v2M214 344v2M214 362v4M214 388v10M214 428v12M216 232v2M216 248v4M216 302v2M216 348v6M216 358v6M216 428v4M216 458v2M218 204v2M218 222v2M218 250v4M218 296v2M220 212v4M220 218v4M220 254v4M220 414v4M222 218v6M222 248v2M222 262v2M222 296v2M222 412v2M222 444v4M222 450v2M224 234v4M224 246v2M224 294v10M224 326v2M224 330v4M224 364v2M224 372v2M224 384v4M224 392v2M224 410v6M226 224v2M226 240v8M226 264v2M226 300v6M226 326v2M226 336v6M226 368v18M226 416v2M228 242v2M228 276v6M228 302v4M228 334v2M228 346v2M228 356v4M228 372v6M228 412v2M228 448v2M228 452v6M230 226v4M230 252v4M230 270v4M230 282v2M230 306v6M230 372v14M230 402v2M230 454v12M232 240v6M232 274v6M232 282v4M232 340v4M232 374v2M234 200v8M234 222v2M234 256v10M234 280v2M234 366v8M234 462v2M236 200v16M236 274v2M236 302v4M236 362v2M236 374v2M236 420v2M236 444v8M236 454v4M238 208v8M238 234v2M238 240v2M238 272v2M238 286v4M238 328v6M238 352v6M238 364v2M238 426v10M240 222v4M240 228v2M240 240v8M240 284v12M240 328v10M240 352v8M240 364v2M242 216v2M242 246v2M242 274v2M242 284v2M242 290v4M242 324v8M242 338v8M242 354v10M242 366v6M242 374v2M242 394v2M242 404v6M242 412v2M242 452v2M244 220v4M244 270v4M244 280v2M244 306v2M244 340v2M244 364v2M244 390v2M246 296v2M246 338v2M246 356v4M246 372v2M246 404v2M246 422v2M248 202v2M248 230v2M248 330v2M248 342v2M248 366v2M248 372v6M248 380v2M248 442v2M248 450v2M250 200v2M250 248v2M250 270v4M250 324v2M250 342v10M250 354v4M250 360v6M250 380v4M250 392v4M250 422v2M250 460v2M250 464v2M252 216v10M252 252v6M252 268v6M252 282v10M252 296v8M252 314v2M252 322v4M252 328v2M252 338v20M252 364v2M252 374v6M252 410v2M252 436v2M252 450v2M254 214v8M254 292v2M254 300v22M254 340v16M254 362v2M254 386v4M254 398v2M254 418v2M256 224v4M256 274v4M256 296v4M256 304v2M256 318v2M256 362v8M256 408v2M256 422v2M258 204v8M258 224v2M258 276v6M258 292v2M258 364v2M258 380v8M258 408v4M258 418v4M260 240v2M260 298v4M260 346v8M260 374v2M260 386v4M260 394v2M262 214v8M262 274v2M262 298v4M262 326v2M262 342v2M262 374v2M262 440v4M262 464v2M264 200v6M264 216v10M264 284v2M264 298v2M264 332v6M264 362v2M264 382v2M264 416v10M264 456v4M266 200v6M266 220v8M266 282v4M266 298v4M266 314v4M266 320v6M266 330v4M266 364v2M266 378v2M266 414v12M268 276v2M268 298v6M268 312v4M268 364v2M268 440v16M268 462v4M270 216v2M270 282v6M270 296v6M270 306v2M270 364v2M270 438v2M270 444v22M272 294v8M272 310v2M272 330v16M274 202v2M274 226v2M274 252v20M274 280v2M274 304v12M274 326v6M274 344v2M274 382v4M274 396v2M274 448v2M274 456v2M276 200v12M276 310v8M276 360v4M276 366v2M276 416v8M278 204v12M278 236v2M278 240v2M278 364v2M278 372v16M278 414v10M278 428v6M278 462v2M280 208v8M280 226v2M280 244v2M280 334v4M280 352v12M280 374v8M280 390v2M280 416v6M280 432v2M280 454v2M282 228v2M282 278v6M282 300v2M282 322v2M282 358v4M282 372v4M282 384v2M282 398v10M282 412v2M282 456v10M284 312v2M284 330v2M284 360v2M284 392v18M284 418v2M284 430v4M286 306v8M286 324v2M286 336v2M286 360v4M286 382v4M286 406v2M286 414v6M286 422v6M288 278v4M288 300v2M288 338v4M288 364v2M288 412v10M288 442v10M290 208v2M290 234v2M290 290v2M290 304v2M290 338v6M290 364v2M290 428v2M292 220v6M292 246v4M292 260v4M292 324v2M292 332v2M292 364v2M292 408v6M292 428v2M292 442v2M294 216v2M294 228v2M294 324v8M294 348v12M294 368v2M294 404v10M294 438v4M294 456v2M296 218v2M296 228v4M296 298v6M296 314v16M296 344v6M296 364v30M296 404v10M298 216v2M298 226v2M298 240v4M298 278v10M298 322v6M298 338v4M298 380v6M298 404v8M298 414v4M298 446v18M300 200v2M300 218v2M300 222v2M300 228v2M300 276v2M300 280v2M300 320v8M300 334v2M300 364v2M300 384v4M300 394v8M300 404v6M300 416v4M300 462v4M302 200v2M302 214v6M302 276v2M302 284v2M302 304v22M302 328v4M302 364v2M302 396v2M302 410v14M302 458v8M304 214v8M304 302v16M304 388v2M304 394v2M304 414v4M304 454v2M304 460v6M306 262v24M306 320v2M306 332v4M306 342v6M306 354v2M306 390v2M306 420v2M306 428v2M306 452v4M306 460v6M308 200v12M308 228v4M308 268v2M308 294v4M308 304v2M308 334v2M308 340v2M308 350v2M308 364v2M308 404v2M310 200v2M310 274v2M310 320v2M310 350v14M310 396v12M312 200v2M312 246v4M312 268v6M312 288v8M312 302v2M312 340v24M312 396v12M312 434v10M314 200v12M314 236v8M314 246v8M314 256v12M314 310v2M314 318v2M314 338v6M314 350v10M314 364v2M314 400v2M316 200v2M316 220v14M316 248v32M316 302v2M316 310v2M316 336v10M316 348v10M316 364v2M316 378v2M316 390v2M318 200v2M318 210v2M318 278v4M318 342v6M318 354v4M318 364v2M318 376v4M318 434v2M318 452v2M320 274v6M320 288v2M320 292v4M320 304v2M320 332v8M320 364v6M320 374v6M320 412v10M320 446v2M322 262v10M322 318v4M322 332v14M322 364v2M322 420v2M322 460v6M324 242v2M324 248v4M324 258v20M324 294v4M324 324v8M324 356v6M324 372v2M324 418v2M324 442v2M326 222v2M326 274v2M326 330v4M326 336v24M326 364v2M326 368v4M326 386v2M326 390v8M326 464v2M328 200v2M328 232v2M328 282v6M328 306v2M328 312v2M328 330v2M328 338v8M328 364v2M328 394v4M328 450v2M330 248v4M330 314v2M330 336v4M330 364v2M330 396v2M330 406v2M330 430v2M330 440v4M332 212v2M332 248v2M332 268v4M332 330v4M332 438v8M332 448v12M334 200v14M334 284v14M334 312v2M334 328v2M334 344v8M334 390v14M334 414v4M334 438v10M336 240v2M336 248v4M336 280v2M336 340v2M336 350v4M336 364v2M336 376v6M336 420v2M336 438v14M336 458v8M338 244v2M338 278v2M338 300v4M338 338v2M338 344v12M338 360v2M338 394v2M338 464v2M340 200v4M340 206v6M340 226v2M340 248v2M340 298v8M340 332v4M340 342v6M340 356v4M340 362v4M340 374v12M340 420v2M340 448v2M342 218v2M342 276v2M342 296v2M342 328v8M342 356v6M342 382v2M342 412v2M342 430v6M344 200v2M344 220v2M344 230v2M344 248v2M344 338v2M344 362v4M344 374v2M344 416v16M344 436v18M346 204v6M346 246v2M346 278v2M346 302v2M346 320v2M346 330v2M346 346v6M346 368v14M346 404v2M346 416v2M348 266v6M348 282v6M348 294v2M348 342v10M348 422v2M348 426v2M348 454v6M350 200v2M350 266v4M350 292v8M350 308v10M350 330v2M350 352v6M350 364v2M350 374v10M350 450v4M352 272v2M352 294v4M352 310v2M352 346v12M352 364v2M352 448v4M354 200v2M354 242v22M354 270v4M354 282v2M354 316v2M354 334v2M354 392v2M354 412v2M356 206v2M356 234v2M356 244v4M356 330v2M356 336v6M356 354v10M356 366v4M356 376v4M356 464v2M358 238v4M358 298v4M358 320v8M358 364v2M358 448v10M360 272v2M360 318v2M360 326v8M360 338v8M360 358v4M360 372v4M360 382v8M360 418v6M362 250v4M362 286v2M362 334v2M362 356v4M362 396v2M362 424v4M364 238v4M364 246v10M364 418v10M366 218v2M366 234v6M366 246v4M366 282v4M366 318v4M366 334v4M366 398v6M366 414v14M368 200v4M368 232v4M368 244v2M368 282v2M368 290v2M368 326v10M368 398v2M368 414v2M368 424v4M368 436v2M368 458v4M370 200v4M370 232v6M370 242v4M370 282v6M370 340v10M370 384v2M370 396v2M370 408v14M370 452v2M372 282v6M372 316v2M372 450v2M372 460v2M374 200v2M374 206v4M374 236v2M374 244v4M374 268v6M374 280v16M374 366v10M374 392v2M374 404v2M376 216v2M376 228v6M376 248v6M376 266v8M376 324v2M376 358v6M376 376v2M378 200v6M378 246v2M378 268v6M378 282v2M378 290v4M378 316v2M378 374v2M378 410v10M378 424v4M378 438v12M380 260v14M380 280v2M380 286v8M380 322v2M380 366v6M380 408v2M380 438v10M382 202v4M382 284v2M382 332v2M382 350v14M382 370v4M382 394v4M382 404v4M384 216v6M384 242v4M384 248v6M384 284v2M384 290v4M384 316v4M384 336v12M384 356v4M384 364v2M384 418v2M386 216v6M386 224v10M386 286v4M386 304v10M386 320v8M386 352v6M386 364v2M386 378v2M386 388v2M386 438v2M388 230v8M388 272v2M388 342v12M388 364v2M388 378v4M388 400v2M388 414v2M388 432v2M388 438v2M390 208v14M390 228v2M390 246v4M390 272v2M390 298v2M390 312v2M390 346v10M390 374v26M390 418v4M390 440v2M390 456v10M392 200v2M392 212v12M392 340v2M392 350v6M392 368v8M392 388v6M392 396v6M392 426v2M392 464v2M394 200v2M394 272v8M394 314v10M394 340v18M394 366v4M394 386v2M394 410v2M394 434v8M394 464v2M396 210v4M396 220v2M396 266v8M396 300v2M396 312v4M396 322v6M396 352v10M396 404v8M396 432v4M396 464v2M398 202v4M398 290v8M398 314v22M398 364v2M398 424v2M398 434v4M400 212v8M400 280v2M400 294v2M400 324v2M400 336v2M400 352v10M400 364v2M400 376v4M400 404v2M400 440v2M402 218v6M402 240v2M402 256v10M402 326v2M402 336v2M402 364v2M402 374v4M402 388v2M402 404v6M404 240v2M404 252v8M404 278v2M404 306v2M404 312v2M404 338v6M404 360v4M404 366v14M404 398v2M404 402v10M404 420v2M404 444v2M406 200v8M406 220v6M406 242v6M406 252v16M406 292v2M406 310v2M406 324v2M406 330v2M406 354v8M406 368v4M406 388v2M406 404v6M406 424v12M406 452v6"/>
<path stroke="#70a0f6" stroke-width="2" d="M38 290v2M38 302v2M38 328v4M38 388v2M38 394v2M40 200v4M40 206v4M40 290v2M40 294v2M40 428v2M42 210v2M42 216v2M42 228v2M42 272v2M42 454v2M44 210v4M44 296v2M44 300v2M44 306v2M44 354v2M44 382v2M46 206v4M46 212v2M46 226v2M46 282v4M46 300v4M46 306v2M46 354v2M46 380v4M46 390v12M46 404v10M48 204v2M48 210v4M48 216v2M48 232v2M48 236v4M48 242v6M48 268v6M48 310v2M48 316v10M48 436v6M48 462v4M58 362v16M58 428v2M60 226v6M60 234v6M60 270v2M60 368v2M60 376v2M60 424v2M60 448v8M62 228v2M62 232v2M62 326v6M62 444v2M62 456v2M64 202v2M64 248v2M64 252v2M64 308v2M64 318v2M64 424v4M64 434v2M66 286v8M68 270v2M70 272v2M70 434v4M70 440v2M72 438v2M72 458v4M72 464v2M74 272v2M74 418v2M74 452v2M74 456v6M76 332v2M76 352v4M76 372v6M76 386v4M76 400v2M76 416v4M76 424v2M76 450v4M78 366v2M78 370v2M78 376v2M78 390v6M80 464v2M82 356v2M82 450v2M82 462v2M84 248v2M84 256v4M84 262v2M84 352v2M84 432v2M84 438v2M84 460v2M86 256v2M86 464v2M88 250v2M88 268v6M88 378v2M88 382v4M88 430v2M88 460v2M90 250v2M90 258v2M90 372v2M90 380v2M90 438v2M90 454v4M90 462v4M92 250v2M92 376v4M92 442v4M92 448v2M92 456v2M94 252v2M94 376v4M94 426v2M94 446v4M94 452v2M96 328v4M98 232v4M98 238v2M98 334v2M98 380v4M98 462v2M100 240v6M100 328v4M100 368v2M100 388v2M100 456v2M100 462v2M102 242v2M102 256v2M102 368v4M102 404v2M102 410v2M104 252v4M104 404v10M104 424v2M104 432v4M104 464v2M106 202v4M106 228v2M106 258v6M106 422v2M106 438v2M108 208v2M108 218v4M108 230v2M108 234v2M108 254v2M108 258v2M110 222v2M110 228v2M110 388v2M110 392v2M110 424v6M112 220v2M112 240v6M112 248v2M112 254v2M112 258v4M112 272v10M112 386v2M112 430v8M114 210v2M114 258v12M114 282v2M114 290v4M114 302v2M114 390v4M114 454v2M114 460v4M116 238v2M116 248v2M116 252v4M116 268v2M116 392v2M116 402v2M118 248v4M118 258v2M118 272v2M118 280v6M118 328v2M118 332v2M118 336v4M118 414v2M120 276v2M120 282v2M120 294v2M120 304v2M120 312v2M120 318v2M120 330v4M120 336v4M120 404v2M120 408v4M120 432v2M120 436v4M120 446v2M120 452v2M122 258v2M122 266v2M122 274v2M122 280v4M122 300v2M122 318v2M122 322v4M122 328v2M122 444v2M124 256v4M124 338v2M124 432v2M124 444v2M124 448v2M126 220v4M126 250v2M126 262v2M126 418v4M126 426v2M128 200v2M128 206v2M128 224v2M128 246v2M128 264v2M128 310v2M128 374v2M128 380v2M128 384v2M128 426v4M130 312v2M130 324v2M132 252v2M134 260v2M134 268v2M134 328v2M134 354v2M134 376v2M134 386v4M136 286v2M136 358v4M136 366v2M136 380v6M138 380v2M138 432v2M140 236v6M140 244v2M140 248v2M140 252v2M140 382v4M140 432v2M142 256v2M142 366v2M142 378v2M142 412v2M142 416v4M142 422v2M144 222v4M144 244v2M144 248v4M144 254v4M144 364v2M144 368v2M144 392v2M144 446v4M144 454v2M146 222v8M146 262v2M146 334v2M146 338v2M146 344v2M146 348v10M146 366v2M146 388v6M146 408v2M148 242v2M148 260v2M148 276v2M148 286v2M148 334v2M148 344v2M148 350v2M148 356v2M148 366v2M148 388v2M148 406v2M148 416v4M148 438v4M150 216v4M150 224v4M150 238v2M150 264v2M150 276v2M150 306v2M150 318v2M150 322v2M150 422v2M150 426v2M150 430v2M150 452v2M150 456v2M150 460v2M152 236v4M152 242v6M152 268v4M152 274v2M152 280v2M152 286v2M152 322v4M152 354v2M152 420v2M152 426v2M154 234v2M154 240v2M154 244v2M154 254v4M154 266v2M154 270v2M154 280v2M154 286v6M154 298v2M154 318v2M154 324v2M154 368v2M154 372v2M154 418v2M154 424v10M154 452v2M156 246v4M156 260v8M156 270v2M156 276v4M156 300v4M156 322v2M156 376v2M156 414v2M156 420v2M156 462v2M158 222v2M158 240v2M158 258v6M158 290v2M158 346v2M158 378v2M158 382v4M158 408v4M158 414v2M158 426v2M158 450v2M158 458v2M160 242v4M160 264v2M160 334v2M160 414v2M160 450v2M160 456v2M160 460v4M162 208v2M162 218v2M162 246v2M162 264v2M162 274v4M162 288v2M162 292v6M162 312v2M162 326v2M162 330v2M162 352v2M162 360v2M162 408v4M162 414v4M164 210v4M164 264v6M164 288v2M164 294v2M164 406v2M164 430v4M164 454v2M166 214v2M166 246v6M166 254v2M166 276v6M166 298v2M166 334v2M166 404v2M168 210v6M168 220v2M168 260v2M168 264v4M168 276v2M168 378v2M168 394v2M168 398v4M170 218v2M170 224v2M170 250v2M170 280v2M170 328v2M170 354v2M170 360v6M170 420v2M170 436v2M172 204v2M172 238v2M172 242v2M172 270v2M172 274v2M172 278v2M172 282v2M172 300v2M172 312v2M172 326v2M172 350v2M172 356v8M172 398v2M172 402v4M172 416v2M172 426v6M172 440v8M172 456v2M174 238v2M174 242v6M174 274v4M174 280v4M174 296v2M174 332v2M174 364v4M174 384v2M174 398v8M174 424v4M174 434v2M174 442v2M176 228v2M176 256v2M176 266v4M176 272v8M176 284v16M176 302v4M176 328v6M176 342v2M176 378v2M176 390v4M176 396v2M176 404v4M176 418v2M176 436v4M176 444v6M176 464v2M178 208v8M178 240v6M178 248v4M178 288v4M178 300v2M178 316v6M178 380v4M178 416v2M178 430v4M180 246v6M180 286v4M180 302v2M180 388v8M180 428v2M182 214v2M182 240v2M182 246v8M182 346v2M182 362v2M182 408v2M184 220v2M184 224v2M184 310v2M184 320v2M184 324v2M184 338v8M184 358v4M184 424v4M184 446v4M184 464v2M186 252v2M186 258v2M186 282v2M186 312v2M186 352v4M186 440v2M188 256v2M188 268v2M188 288v4M188 316v4M188 340v4M188 346v6M188 392v6M188 402v2M188 432v4M188 456v8M190 200v6M190 228v2M190 264v2M190 324v2M190 348v2M190 356v2M190 362v2M190 366v2M190 372v4M192 262v8M192 292v4M192 324v2M192 334v2M192 358v2M192 376v2M192 402v2M194 216v2M194 236v2M194 290v2M194 298v4M194 320v2M194 360v2M194 396v2M194 402v2M194 432v2M194 436v2M196 236v12M196 302v2M196 330v4M196 364v2M196 370v14M196 390v2M196 428v6M196 456v10M198 230v8M198 246v4M198 302v4M198 328v8M198 350v2M198 356v2M198 394v2M198 432v2M200 212v2M200 240v2M200 254v2M200 312v2M200 332v6M200 340v4M200 354v2M200 374v2M200 404v2M200 446v2M202 212v2M202 252v8M202 282v2M202 304v2M202 348v8M202 420v8M202 434v2M202 444v6M202 458v2M204 204v2M204 214v2M204 244v2M204 262v2M204 298v2M204 348v14M204 364v2M206 222v2M206 228v6M206 248v2M206 260v2M206 350v12M206 364v2M206 384v8M206 404v12M206 458v8M208 228v6M208 348v2M208 356v8M208 366v10M208 398v2M208 452v14M210 218v2M210 224v2M210 240v2M210 362v4M210 436v2M212 246v2M212 278v2M212 284v2M212 300v2M212 314v6M212 348v2M212 370v8M212 390v2M212 420v2M212 428v2M212 464v2M214 294v2M214 336v2M214 366v2M214 444v2M216 220v2M216 246v2M216 344v2M216 410v2M218 206v2M218 218v4M218 276v2M218 310v2M218 412v8M218 446v2M220 216v2M220 370v2M220 450v2M220 464v2M222 250v12M222 282v2M222 294v2M222 370v2M222 452v2M224 248v24M224 286v8M224 328v2M224 374v10M224 408v2M224 416v2M224 444v8M224 464v2M226 226v2M226 238v2M226 248v16M226 328v2M226 332v4M226 342v2M226 362v4M226 418v2M226 438v2M226 458v2M228 200v14M228 224v4M228 240v2M228 326v2M228 330v4M228 348v8M228 458v8M230 230v14M230 248v4M230 274v4M230 280v2M230 386v2M230 442v2M232 280v2M232 334v6M232 364v4M234 298v2M234 364v2M236 300v2M236 364v2M236 372v2M236 442v2M236 452v2M238 206v2M238 236v4M238 274v2M238 284v2M238 300v2M240 226v2M240 304v2M240 402v2M240 438v2M242 218v2M242 236v10M242 276v2M242 282v2M242 332v6M242 364v2M242 376v2M242 446v6M244 224v8M244 246v2M244 274v2M244 338v2M246 200v2M246 234v2M246 320v12M246 336v2M246 360v4M246 366v6M246 406v2M248 204v4M248 306v4M248 344v20M248 382v2M248 444v6M250 202v4M250 246v2M250 274v2M250 278v2M250 304v2M250 358v2M250 384v8M250 396v4M250 418v4M250 462v2M252 258v10M252 274v8M252 316v6M252 412v4M252 434v2M252 452v2M252 464v2M254 200v2M254 294v6M254 364v2M254 400v2M254 416v2M254 458v8M256 200v2M256 222v2M256 228v2M256 242v2M256 290v6M256 306v2M256 370v18M256 424v4M256 440v14M256 464v2M258 212v6M258 222v2M258 290v2M258 406v2M260 200v2M260 278v2M260 294v4M260 376v4M260 382v4M260 396v2M262 200v2M262 212v2M262 296v2M262 338v4M262 436v4M262 444v20M264 286v2M264 296v2M264 366v4M264 380v2M264 460v6M266 286v2M266 296v2M266 318v2M266 380v6M268 278v2M268 288v10M268 326v2M270 200v2M270 206v10M270 288v8M270 322v2M270 440v4M272 312v18M272 436v2M274 228v2M274 236v2M274 272v4M274 316v10M274 334v2M274 338v6M274 386v2M274 450v6M276 364v2M278 238v2M278 424v4M280 242v2M280 364v2M280 382v8M280 456v4M280 462v4M282 200v4M282 222v6M282 302v2M282 316v6M282 362v2M282 366v6M282 386v2M282 396v2M282 414v2M282 424v2M284 314v2M284 328v2M284 362v2M284 366v26M284 420v10M286 276v2M286 290v2M286 326v2M286 334v2M286 366v16M286 386v2M288 224v2M288 244v2M288 336v2M290 210v2M290 232v2M290 336v2M290 444v2M292 226v2M292 244v2M292 304v2M292 318v2M292 326v6M292 430v2M294 230v2M294 240v2M294 304v2M294 322v2M294 360v4M294 366v2M294 458v2M294 464v2M296 220v8M296 440v2M296 456v2M298 218v2M298 224v2M298 288v2M298 298v2M298 336v2M298 386v4M298 402v2M298 412v2M300 202v6M300 216v2M300 224v4M300 278v2M300 328v6M300 388v6M300 410v6M300 440v2M302 202v8M302 212v2M302 278v6M302 326v2M302 388v2M302 394v2M302 424v22M302 456v2M304 390v4M304 418v2M306 200v4M306 220v2M306 322v10M306 348v6M306 378v4M306 388v2M306 422v6M308 298v6M308 336v4M308 342v8M310 202v4M310 208v8M310 238v2M310 364v2M312 202v14M312 244v2M312 304v2M312 336v4M312 364v2M312 420v4M312 426v8M314 212v2M314 244v2M314 268v4M314 300v2M314 312v6M314 320v4M314 336v2M314 414v2M316 202v6M316 238v2M316 246v2M316 304v6M316 346v2M316 380v10M316 416v2M316 434v2M318 202v8M318 348v6M318 380v6M318 396v6M318 432v2M318 454v12M320 280v2M320 286v2M320 330v2M320 448v10M320 464v2M322 272v2M322 314v4M324 244v4M324 362v2M324 366v6M324 400v2M324 416v2M324 444v16M326 224v2M326 236v2M326 284v2M326 334v2M326 372v14M326 440v2M326 452v12M328 202v10M328 308v4M328 332v6M328 438v4M328 448v2M330 200v10M330 230v2M330 246v2M330 316v20M330 398v2M330 402v4M330 432v8M332 214v2M332 246v2M332 272v2M332 310v8M332 388v2M332 436v2M334 214v2M334 240v2M334 314v2M334 326v2M334 418v10M334 436v2M336 242v6M336 282v2M336 336v4M336 342v8M336 382v6M336 394v2M336 436v2M336 452v6M338 214v2M338 280v2M338 296v2M338 316v2M338 336v2M338 362v2M338 368v20M338 392v2M338 420v2M338 462v2M340 204v2M340 228v2M340 246v2M340 348v8M340 434v2M342 200v2M342 216v2M342 278v2M342 294v2M342 362v2M342 366v16M342 414v2M342 428v2M344 202v18M344 246v2M344 278v2M344 336v2M344 376v12M344 412v4M344 432v4M346 210v2M346 220v2M346 230v2M346 244v2M346 280v2M346 300v2M346 322v8M346 352v10M346 366v2M346 382v6M346 418v2M346 428v2M348 200v2M348 216v2M348 272v2M348 280v2M348 296v2M348 326v2M348 352v10M348 368v4M348 424v2M350 202v4M350 214v2M350 270v4M350 288v4M350 300v8M350 318v4M350 328v2M350 454v12M352 274v2M352 326v2M354 202v4M354 236v6M354 274v2M354 318v2M354 332v2M354 410v2M356 208v2M356 224v2M356 236v8M356 342v12M356 364v2M356 380v6M356 396v2M356 436v2M356 450v14M358 318v2M358 458v8M360 274v2M360 334v4M360 362v2M360 366v6M362 238v2M362 248v2M362 308v2M362 360v4M362 366v22M362 394v2M364 242v4M366 200v6M366 232v2M366 240v6M366 322v4M366 332v2M368 236v8M368 284v2M368 288v2M368 400v14M368 416v8M368 438v4M368 452v6M370 238v4M370 386v4M370 394v2M370 434v2M370 450v2M372 310v6M372 452v8M374 202v4M374 210v4M374 234v2M374 274v6M374 364v2M374 394v10M376 218v10M376 234v2M376 246v2M376 274v2M376 314v10M376 366v10M378 214v2M378 228v18M378 274v2M378 294v2M378 314v2M378 364v10M378 420v4M380 274v2M380 278v2M380 294v2M380 364v2M380 396v2M380 404v4M382 286v2M382 364v6M382 398v6M384 246v2M384 286v4M384 320v6M384 332v4M384 348v8M384 420v4M384 438v2M386 380v8M386 424v2M388 274v4M388 326v2M388 382v4M388 394v6M388 416v2M388 434v4M390 200v8M390 230v4M390 274v2M390 356v6M390 370v4M390 422v2M390 438v2M392 202v10M392 322v2M392 338v2M392 356v4M392 366v2M392 394v2M392 450v14M394 202v12M394 230v2M394 330v2M394 338v2M394 358v6M394 408v2M394 442v22M396 214v6M396 316v6M396 362v4M396 412v6M396 426v6M396 436v28M398 206v4M398 228v2M398 426v8M400 282v12M400 326v10M400 406v2M402 328v2M402 334v2M402 378v10M402 442v2M404 200v14M404 238v2M404 304v2M404 314v2M404 336v2M404 364v2M404 380v6M404 422v2M404 442v2M406 294v2M406 308v2M406 326v4M406 362v2M406 366v2M406 390v2"/>
<path stroke="#71c4f7" stroke-width="2" d="M38 452v2M40 452v2M42 202v4M42 276v4M42 294v2M44 204v2M44 278v2M44 302v2M44 402v2M46 200v2M46 286v14M48 206v4M48 214v2M48 230v2M48 234v2M48 240v2M48 276v2M48 306v2M48 326v6M48 428v8M50 454v4M58 360v2M58 430v6M60 264v6M60 318v2M60 324v6M60 366v2M60 372v4M60 378v2M60 412v2M60 420v2M60 426v2M60 456v8M62 202v2M62 238v2M62 318v2M62 376v4M62 388v2M62 406v2M62 430v2M62 434v6M62 442v2M64 200v2M64 240v2M64 244v2M64 300v6M64 436v4M66 294v2M68 260v10M70 234v2M70 260v2M70 274v2M70 442v4M72 254v4M72 436v2M72 440v2M72 446v10M72 462v2M74 232v2M74 262v2M74 268v4M74 274v2M74 362v2M74 366v4M74 372v2M74 396v2M74 410v8M74 446v6M74 462v2M76 314v2M76 324v8M76 334v4M76 346v2M76 350v2M76 370v2M76 378v2M76 382v2M76 414v2M76 420v4M76 444v2M76 454v4M78 214v4M78 222v2M78 254v2M78 258v2M78 274v2M78 354v2M78 378v2M78 396v4M78 416v2M78 420v2M78 424v2M80 350v2M80 354v2M80 366v4M80 392v4M80 398v6M80 414v4M80 420v2M80 454v4M80 460v4M82 260v2M82 266v2M82 342v2M82 388v6M82 402v4M82 408v2M82 428v2M84 246v2M84 250v4M84 350v2M84 354v2M84 360v2M84 430v2M84 440v2M86 248v2M86 252v4M86 388v2M86 408v2M86 432v4M86 460v4M88 266v2M88 274v6M88 388v2M88 428v2M90 368v4M90 382v2M90 440v4M90 446v8M92 248v2M92 256v2M92 334v2M92 416v2M92 438v4M92 446v2M92 454v2M94 250v2M94 254v2M94 302v2M94 316v8M94 374v2M94 380v4M94 428v2M94 436v6M94 450v2M96 228v2M96 232v2M96 248v2M96 260v2M96 322v6M96 334v2M96 458v2M98 202v2M98 240v2M98 246v2M98 264v2M98 322v6M98 370v4M98 460v2M100 230v6M100 298v6M100 326v2M100 332v2M100 398v2M100 458v2M102 236v6M102 372v2M102 400v4M104 248v4M104 414v4M104 426v4M104 450v2M104 462v2M106 200v2M106 216v2M106 222v6M106 230v2M106 234v4M106 246v2M106 420v2M106 432v6M106 442v4M108 200v2M108 206v2M108 210v4M108 216v2M108 232v2M108 248v4M108 256v2M108 260v4M108 322v6M108 342v2M108 418v2M108 430v4M110 200v2M110 208v2M110 218v4M110 224v2M110 230v6M110 262v4M110 344v4M110 386v2M110 404v2M110 420v2M112 208v6M112 218v2M112 222v2M112 226v4M112 234v6M112 250v2M112 256v2M112 346v2M112 384v2M112 404v2M112 412v4M112 462v4M114 200v2M114 204v4M114 236v2M114 284v2M114 422v4M114 452v2M114 456v2M116 220v2M116 250v2M116 266v2M116 286v2M116 312v2M116 374v2M116 390v2M118 234v4M118 264v6M118 324v4M118 330v2M118 416v2M120 254v2M120 270v2M120 280v2M120 284v2M120 292v2M120 306v6M120 314v4M120 402v2M120 412v2M120 430v2M120 440v2M120 444v2M120 450v2M120 454v2M122 248v2M122 260v2M122 296v4M122 304v2M122 326v2M122 380v6M122 416v2M122 448v6M124 200v4M124 252v2M124 260v2M124 318v2M124 336v2M124 342v2M124 370v4M124 414v2M124 434v2M124 452v2M126 202v14M126 218v2M126 224v4M126 246v2M126 264v2M126 422v4M128 204v2M128 228v2M128 266v2M128 302v4M128 312v2M128 372v2M128 382v2M128 390v2M128 402v2M128 432v2M130 200v2M130 246v2M130 308v4M130 314v2M130 318v6M130 346v2M130 366v4M130 388v2M130 424v6M130 432v2M130 436v4M132 266v2M132 270v2M132 276v4M132 324v2M132 378v2M132 384v2M132 394v4M134 212v10M134 256v4M134 272v2M134 278v2M134 294v4M134 324v2M134 330v2M134 356v4M134 390v6M134 402v2M134 416v2M136 266v2M136 276v2M136 292v6M136 328v4M136 350v4M136 362v2M136 376v2M136 414v2M136 428v2M138 220v2M138 226v4M138 288v2M138 356v2M138 414v2M138 434v2M138 450v6M140 228v4M140 234v2M140 246v2M140 254v4M140 352v2M140 376v2M140 410v2M142 250v6M142 338v4M142 346v2M142 352v12M142 368v2M142 380v4M142 406v2M142 410v2M142 414v2M142 424v4M142 462v4M144 226v2M144 246v2M144 252v2M144 258v4M144 296v4M144 320v4M144 388v4M144 394v2M144 406v2M146 230v2M146 264v2M146 336v2M146 358v2M146 368v2M146 384v4M146 394v2M146 406v2M146 410v2M146 444v2M148 262v4M148 274v2M148 288v2M148 348v2M148 358v6M148 370v2M148 384v4M148 390v2M148 404v2M148 422v2M148 436v2M150 228v2M150 236v2M150 242v2M150 288v2M150 304v2M150 324v2M150 338v2M150 364v2M150 370v4M150 384v2M150 410v2M150 418v4M150 424v2M150 428v2M152 240v2M152 266v2M152 272v2M152 336v2M152 356v8M152 366v2M152 370v4M152 418v2M152 424v2M152 444v4M154 230v4M154 300v2M154 320v2M154 348v2M154 370v2M154 376v4M154 416v2M156 226v2M156 254v6M156 284v2M156 288v2M156 304v2M156 346v4M156 382v6M156 392v2M156 402v2M156 406v2M156 424v2M158 220v2M158 242v2M158 248v6M158 284v2M158 288v2M158 294v4M158 342v4M158 352v4M158 374v4M158 386v2M158 454v4M158 460v6M160 216v4M160 284v2M160 326v8M160 360v2M160 384v6M160 408v2M160 434v2M160 464v2M162 230v2M162 266v8M162 310v2M162 318v2M162 322v4M162 344v4M162 362v2M162 384v6M162 406v2M162 418v2M162 424v4M162 436v4M164 214v2M164 240v2M164 318v2M164 354v4M164 394v2M164 398v2M164 402v4M164 410v4M164 434v2M164 438v2M164 450v4M164 456v2M166 234v4M166 252v2M166 282v4M166 290v4M166 296v2M166 406v4M168 204v2M168 216v4M168 258v2M168 282v4M168 290v2M168 314v2M168 334v2M168 372v4M168 380v2M168 402v2M170 222v2M170 246v4M170 288v6M170 330v6M170 350v4M170 380v2M170 412v4M170 418v2M170 424v8M170 434v2M170 442v2M172 208v2M172 220v2M172 236v2M172 240v2M172 284v4M172 328v2M172 348v2M172 352v2M172 364v4M172 370v4M172 392v2M172 396v2M174 206v2M174 234v4M174 278v2M174 284v6M174 294v2M174 322v2M174 368v4M174 380v4M174 386v12M174 428v2M174 432v2M174 440v2M174 464v2M176 218v10M176 252v4M176 270v2M176 300v2M176 344v4M176 360v2M176 376v2M176 434v2M176 440v4M178 206v2M178 228v4M178 246v2M178 322v2M178 378v2M178 418v2M178 428v2M180 348v8M180 386v2M180 396v4M180 426v2M182 202v4M182 238v2M182 316v2M182 328v2M182 344v2M182 388v4M182 410v2M182 416v8M182 450v2M184 216v4M184 222v2M184 312v4M184 318v2M184 322v2M184 376v6M184 390v4M184 404v2M184 422v2M184 460v4M186 254v4M186 304v8M186 356v2M186 416v2M188 220v2M188 248v8M188 270v4M188 286v2M188 320v2M188 352v12M188 366v2M188 376v4M188 398v4M188 436v8M188 448v2M190 206v2M190 266v2M190 306v2M190 340v8M190 350v6M190 358v4M190 364v2M190 368v4M192 226v2M192 326v2M192 416v2M192 436v2M194 214v2M194 228v4M194 234v2M194 292v6M194 322v2M194 334v2M194 362v2M194 394v2M194 438v2M194 450v2M196 318v6M196 326v4M196 384v6M196 450v2M198 200v6M198 238v8M198 352v4M198 386v2M198 392v2M200 230v2M200 242v2M200 246v8M200 286v2M200 310v2M200 344v4M200 352v2M200 448v4M202 200v2M202 208v4M202 330v2M202 338v2M202 398v2M202 436v8M202 460v2M204 206v2M204 246v2M204 260v2M204 274v2M204 296v2M204 398v2M204 408v6M206 250v4M206 258v2M206 416v2M208 214v2M208 326v2M208 332v2M208 350v6M208 364v2M208 416v2M210 322v2M210 334v2M212 242v4M212 280v4M212 312v2M212 404v2M212 422v6M212 438v2M212 462v2M214 296v2M214 334v2M214 386v2M216 200v2M216 234v2M216 304v2M216 340v4M216 460v6M218 208v2M218 216v2M218 278v2M218 294v2M218 340v2M218 348v14M218 390v8M218 408v4M218 420v2M218 444v2M218 456v2M218 464v2M220 372v2M220 384v2M220 452v4M220 458v6M222 292v2M222 372v2M222 388v8M222 408v4M222 464v2M224 220v2M224 232v2M224 272v2M224 282v4M224 394v2M224 406v2M224 418v4M224 442v2M224 452v12M226 228v10M226 330v2M226 344v2M226 356v6M226 420v2M226 460v2M228 214v2M228 222v2M228 228v4M228 234v6M228 328v2M228 414v2M228 446v2M230 244v4M230 278v2M230 388v2M230 400v2M230 424v2M230 440v2M232 368v6M236 276v2M236 306v2M236 322v2M236 366v6M236 422v2M236 440v2M238 200v2M238 282v2M238 326v2M240 326v2M242 220v2M242 234v2M242 278v4M242 306v2M242 378v8M242 392v2M242 414v2M242 442v4M244 244v2M244 276v4M244 336v2M246 202v10M246 298v2M246 308v12M246 332v4M246 364v2M246 408v4M246 420v2M248 208v4M248 310v4M248 328v2M248 364v2M248 384v4M248 418v2M250 206v6M250 244v2M250 276v2M250 400v2M250 406v12M252 416v8M252 432v2M252 454v10M254 202v12M254 402v4M254 412v4M256 202v2M256 230v4M256 240v2M256 308v4M256 316v2M256 388v4M256 404v4M256 428v12M256 454v10M258 218v4M258 282v2M258 388v2M258 404v2M260 202v8M260 222v2M260 238v2M260 292v2M260 380v2M260 398v4M260 438v16M260 464v2M262 202v10M262 292v4M262 328v2M262 336v2M262 376v12M262 392v8M262 434v2M264 288v8M264 364v2M264 370v10M266 288v8M266 386v2M266 396v2M268 280v8M270 202v4M270 308v2M270 320v2M272 438v4M272 462v4M274 230v6M274 276v4M274 336v2M274 388v8M280 228v4M280 234v8M280 422v2M280 430v2M280 460v2M282 204v8M282 218v4M282 304v12M282 364v2M282 388v2M282 394v2M282 416v2M282 422v2M284 364v2M286 278v2M286 328v6M286 364v2M286 388v2M286 404v2M288 302v2M288 334v2M290 212v2M290 306v2M290 322v14M290 430v2M290 442v2M292 228v2M292 232v12M292 306v2M292 432v2M292 440v2M294 232v8M294 364v2M294 460v4M296 442v14M298 220v4M298 290v8M298 328v2M298 334v2M298 390v6M298 400v2M300 208v4M300 214v2M300 442v2M300 460v2M302 210v2M302 390v2M302 446v2M302 452v4M304 420v34M306 204v8M306 218v2M306 382v6M310 206v2M310 216v2M310 276v2M310 318v2M312 216v4M312 242v2M312 424v2M314 214v2M314 234v2M314 272v2M314 298v2M314 324v4M314 334v2M314 402v12M316 244v2M316 418v2M316 432v2M318 386v10M318 402v30M320 282v4M320 328v2M320 458v6M322 274v2M322 286v2M322 312v2M324 364v2M324 402v4M324 412v4M324 460v6M326 226v10M326 276v8M326 442v4M326 448v4M328 212v2M328 230v2M328 442v6M330 210v2M330 222v8M330 232v2M330 400v2M332 274v2M332 306v4M332 318v6M332 326v4M332 390v8M332 406v10M332 434v2M334 216v4M334 316v10M334 428v8M336 284v2M336 334v2M336 388v6M336 422v6M336 434v2M338 216v2M338 240v4M338 282v4M338 294v2M338 318v2M338 334v2M338 364v4M338 388v4M338 422v2M338 438v24M340 230v2M340 244v2M340 422v2M340 432v2M342 202v14M342 280v2M342 290v4M342 364v2M342 416v6M342 426v2M344 232v2M344 244v2M344 332v4M344 388v4M344 408v4M346 212v8M346 282v2M346 296v4M346 362v4M346 388v4M346 402v2M346 420v8M348 202v14M348 274v6M348 298v2M348 324v2M348 362v2M348 366v2M350 206v8M350 286v2M350 322v6M352 292v2M352 312v4M352 324v2M354 206v6M354 228v8M354 276v2M354 280v2M354 320v4M354 328v4M354 394v2M354 406v4M356 210v2M356 298v2M356 328v2M356 386v4M356 438v12M358 302v2M358 314v4M360 276v4M360 316v2M360 364v2M362 246v2M362 288v4M362 306v2M362 364v2M362 388v6M366 220v6M366 228v4M366 326v6M368 286v2M368 442v10M370 390v4M370 436v14M374 214v2M376 236v2M376 244v2M376 276v2M376 310v4M376 364v2M378 216v2M378 226v2M378 276v6M378 296v18M380 276v2M380 296v26M380 398v6M382 288v2M384 326v6M384 424v4M386 426v2M388 278v6M388 302v6M388 386v8M388 418v14M390 234v2M390 244v2M390 276v2M390 296v2M390 314v2M390 326v2M390 362v2M390 366v4M390 424v4M392 324v2M392 336v2M392 360v4M392 428v2M392 444v6M394 214v4M394 228v2M394 336v2M394 364v2M394 388v2M394 402v6M396 274v2M396 298v2M396 418v8M398 210v4M398 226v2M400 408v12M400 438v2M402 238v2M402 330v4M402 410v16M402 440v2M404 214v8M404 236v2M404 280v2M404 302v2M404 316v4M404 386v4M404 394v4M404 424v2M404 440v2M406 296v2M406 306v2M406 364v2M406 392v4M406 402v2"/>
<path stroke="#76ddf7" stroke-width="2" d="M38 364v2M38 422v2M38 454v2M42 208v2M42 270v2M44 202v2M44 206v4M44 228v2M44 276v2M44 294v2M46 228v2M46 402v2M48 226v2M48 274v2M48 278v4M48 302v4M48 332v56M48 416v12M50 250v14M50 266v2M50 310v4M50 442v12M56 280v6M56 380v4M56 410v6M58 234v6M58 252v4M58 270v2M58 352v2M58 380v4M58 426v2M58 436v10M60 224v2M60 262v2M60 272v2M60 316v2M60 322v2M60 330v4M60 336v2M60 362v4M60 418v2M60 464v2M62 200v2M62 226v2M62 234v4M62 262v4M62 270v4M62 302v2M62 306v2M62 316v2M62 320v6M62 382v4M62 390v2M62 394v2M62 400v4M62 408v2M62 428v2M62 432v2M62 440v2M64 238v2M64 242v2M64 298v2M64 316v2M64 320v2M64 326v6M64 376v4M64 418v2M64 422v2M64 440v2M64 446v8M66 200v4M66 240v2M66 246v2M66 260v2M66 270v2M66 284v2M68 222v2M68 272v2M68 360v2M68 368v6M70 232v2M70 258v2M70 372v2M70 402v4M70 408v4M70 432v2M70 446v2M72 274v2M72 376v4M72 442v4M74 234v2M74 254v2M74 258v4M74 266v2M74 276v2M74 358v2M74 364v2M74 370v2M74 374v4M74 382v4M74 398v2M74 408v2M74 454v2M76 258v2M76 274v2M76 320v4M76 338v2M76 344v2M76 348v2M76 360v2M76 364v2M76 380v2M76 402v2M76 412v2M76 426v4M76 436v8M76 458v6M78 220v2M78 224v2M78 256v2M78 276v6M78 350v2M78 358v2M78 362v2M78 380v2M78 388v2M78 414v2M78 418v2M78 422v2M80 222v4M80 352v2M80 358v2M80 370v4M80 390v2M80 396v2M80 404v2M80 412v2M80 418v2M80 424v2M80 450v4M80 458v2M82 248v2M82 256v4M82 262v2M82 268v2M82 362v2M82 366v2M82 380v2M82 384v4M82 398v4M82 406v2M82 410v8M82 420v8M82 452v2M82 460v2M84 240v2M84 244v2M84 254v2M84 344v2M84 348v2M84 356v4M84 388v2M84 408v2M84 428v2M84 458v2M86 214v2M86 236v12M86 250v2M86 354v2M86 384v2M86 392v2M86 406v2M86 426v6M86 436v2M88 248v2M88 280v6M88 294v8M88 386v2M88 426v2M88 438v2M88 462v4M90 260v2M90 272v2M90 366v2M90 444v2M92 296v4M92 302v4M92 316v2M92 332v2M92 338v2M92 342v2M92 374v2M92 380v2M92 418v6M92 450v4M94 230v4M94 256v4M94 296v2M94 300v2M94 304v2M94 384v2M94 392v2M94 396v2M94 416v2M94 422v4M94 434v2M96 226v2M96 230v2M96 234v4M96 320v2M96 332v2M96 374v6M98 200v2M98 230v2M98 242v4M98 266v4M98 320v2M98 336v2M98 368v2M98 384v4M98 458v2M100 228v2M100 322v4M100 366v2M100 390v2M100 394v4M100 400v2M100 406v2M102 228v4M102 366v2M102 398v2M102 414v2M102 446v6M102 456v2M104 430v2M104 452v2M104 460v2M106 214v2M106 218v4M106 232v2M106 238v2M106 244v2M106 264v2M106 268v2M106 380v2M106 400v2M106 404v2M106 424v6M106 446v4M108 202v4M108 214v2M108 236v2M108 252v2M108 264v2M108 302v4M108 330v2M108 336v2M108 344v2M108 358v2M108 366v2M108 372v2M108 434v4M110 206v2M110 210v4M110 258v2M110 342v2M110 348v4M110 402v2M110 416v4M110 430v8M110 458v2M112 214v4M112 232v2M112 252v2M112 348v2M112 378v4M112 402v2M112 408v4M112 438v6M112 446v4M112 454v4M112 460v2M114 202v2M114 212v2M114 220v2M114 286v4M114 304v2M114 388v2M114 402v2M114 416v6M114 450v2M116 208v2M116 218v2M116 236v2M116 256v10M116 290v2M116 294v4M116 310v2M116 366v2M116 370v4M116 388v2M116 404v6M118 260v4M118 286v2M118 300v4M118 312v2M118 320v2M118 340v2M118 372v4M118 394v4M120 256v2M120 266v2M120 272v4M120 286v6M120 372v4M120 380v2M120 414v4M120 442v2M120 448v2M120 456v2M122 216v2M122 250v4M122 262v4M122 284v2M122 302v2M122 312v6M122 330v2M122 378v2M122 386v2M122 404v4M122 410v6M122 418v4M122 426v6M122 442v2M122 454v2M124 204v6M124 226v2M124 248v4M124 266v6M124 316v2M124 320v4M124 340v2M124 344v16M124 362v2M124 368v2M124 390v2M124 412v2M124 440v4M124 454v2M124 460v6M126 216v2M126 244v2M126 248v2M126 266v2M126 390v2M126 416v2M126 430v4M126 450v2M128 202v2M128 242v4M128 248v2M128 298v4M128 400v2M128 404v10M128 430v2M130 248v2M130 258v2M130 306v2M130 326v4M130 344v2M130 348v2M130 370v2M130 378v2M130 386v2M130 390v2M130 430v2M130 434v2M130 440v2M130 462v2M132 200v2M132 272v2M132 282v2M132 322v2M132 326v6M132 358v2M132 376v2M132 382v2M132 392v2M132 398v2M134 248v4M134 274v4M134 282v2M134 290v2M134 322v2M134 326v2M134 332v2M134 360v2M134 396v6M134 418v4M136 264v2M136 268v8M136 320v4M136 326v2M136 332v2M136 344v2M136 348v2M136 364v2M136 374v2M136 386v4M136 412v2M138 222v4M138 242v2M138 250v2M138 278v2M138 286v2M138 290v2M138 328v4M138 352v4M138 358v4M138 366v2M138 374v4M138 386v4M138 412v2M138 444v4M140 220v2M140 224v4M140 310v2M140 318v4M140 340v2M140 350v2M140 354v4M140 366v4M140 374v2M140 386v4M140 434v2M140 450v4M142 220v6M142 248v2M142 258v4M142 336v2M142 342v4M142 348v2M142 370v2M142 374v4M142 388v6M142 408v2M142 444v4M142 458v4M144 220v2M144 228v2M144 288v2M144 292v4M144 300v2M144 370v2M144 384v4M144 396v4M144 404v2M146 220v2M146 266v2M146 360v6M146 412v4M148 228v4M148 364v2M148 372v2M148 392v2M148 420v2M148 424v4M148 434v2M150 212v4M150 230v6M150 240v2M150 270v2M150 274v2M150 290v2M150 298v4M150 336v2M150 382v2M150 386v4M150 408v2M150 412v4M150 464v2M152 222v2M152 288v2M152 316v6M152 326v2M152 330v4M152 364v2M152 374v2M152 410v2M152 414v4M152 448v2M154 246v8M154 302v2M154 306v2M154 314v4M154 326v2M154 336v6M154 346v2M154 366v2M154 374v2M154 408v8M154 454v2M154 460v2M154 464v2M156 222v4M156 250v4M156 280v2M156 286v2M156 306v4M156 318v4M156 324v2M156 336v10M156 350v2M156 374v2M156 380v2M156 388v4M156 394v2M156 398v2M156 404v2M156 426v2M156 436v4M158 244v4M158 268v2M158 272v2M158 276v4M158 286v2M158 292v2M158 336v2M158 356v4M158 372v2M158 380v2M158 388v2M158 430v2M158 444v2M158 448v2M160 210v6M160 266v4M160 312v4M160 322v4M160 382v2M160 410v2M160 448v2M162 232v2M162 242v4M162 320v2M162 364v4M162 382v2M162 390v2M162 420v2M162 452v4M164 216v2M164 238v2M164 328v2M164 332v2M164 358v4M164 372v2M164 388v6M164 396v2M164 400v2M164 414v4M164 428v2M164 436v2M164 448v2M166 216v2M166 286v2M166 294v2M166 336v2M166 392v2M166 448v10M168 200v4M168 206v2M168 222v2M168 238v2M168 242v4M168 256v2M168 286v4M168 292v2M168 336v2M168 356v2M168 376v2M168 382v2M168 392v2M170 200v6M170 216v2M170 226v2M170 238v2M170 242v4M170 282v6M170 336v4M170 348v2M170 382v2M170 396v2M170 416v2M170 432v2M170 438v4M170 444v2M170 448v2M172 206v2M172 210v10M172 222v4M172 288v2M172 296v4M172 330v4M172 338v2M172 368v2M172 374v2M172 394v2M172 458v2M174 208v2M174 240v2M174 290v4M174 324v2M174 330v2M174 372v2M174 378v2M174 430v2M176 230v2M176 250v2M176 348v4M176 362v2M176 366v4M176 374v2M176 420v10M176 432v2M178 202v4M178 216v4M178 324v2M178 350v2M178 360v2M178 366v2M178 370v2M178 376v2M178 424v4M180 226v2M180 304v4M180 344v4M180 356v2M180 378v4M180 384v2M180 400v4M182 200v2M182 216v4M182 236v2M182 318v4M182 324v4M182 330v2M182 364v4M182 370v2M182 374v8M182 412v4M182 444v6M184 316v2M184 362v2M184 372v4M184 382v8M184 450v10M186 284v4M186 302v2M186 358v2M186 414v2M188 246v2M188 274v2M188 280v6M188 322v2M188 338v2M188 364v2M188 368v8M188 444v4M190 208v4M190 226v2M190 268v2M190 304v2M190 326v2M190 338v2M192 200v6M192 328v6M192 360v2M192 374v2M192 418v2M192 434v2M194 210v4M194 232v2M194 324v10M194 392v2M194 440v2M196 220v2M196 304v2M196 316v2M196 324v2M196 434v2M196 446v4M198 388v4M198 434v2M200 214v2M200 244v2M200 308v2M200 348v4M200 376v4M200 452v4M202 202v6M202 336v2M202 390v2M202 462v4M204 208v6M204 248v4M204 256v4M204 276v2M204 294v2M204 400v2M204 406v2M206 254v4M206 432v2M208 200v2M208 328v4M210 200v2M210 216v2M210 226v2M210 238v2M210 438v2M210 464v2M212 240v2M212 302v2M212 392v2M212 460v2M214 298v6M214 332v2M214 368v18M214 446v2M216 202v6M216 236v2M216 244v2M216 338v2M216 364v20M216 408v2M218 210v2M218 280v2M218 292v2M218 312v2M218 338v2M218 342v6M218 362v2M218 366v8M218 384v6M218 398v10M218 422v4M218 442v2M218 458v6M220 456v2M222 284v2M222 290v2M222 374v2M222 386v2M222 396v12M222 454v4M222 462v2M224 274v8M224 396v10M224 422v2M224 440v2M226 346v10M226 422v2M226 434v4M226 462v4M228 216v6M228 232v2M228 416v4M228 440v6M230 390v10M230 426v2M230 438v2M234 282v2M234 296v2M236 298v2M236 308v2M236 320v2M236 424v2M236 438v2M238 202v4M238 276v6M238 302v2M240 306v2M240 324v2M240 404v2M242 222v2M242 232v2M242 322v2M242 386v6M242 416v2M242 440v2M244 232v2M244 334v2M246 212v2M246 232v2M246 306v2M246 412v8M248 212v2M248 228v2M248 314v2M248 326v2M248 388v2M248 414v4M250 212v2M250 232v12M250 402v4M252 424v8M254 406v6M256 204v6M256 220v2M256 234v6M256 312v4M256 392v12M258 284v6M258 390v2M258 402v2M260 210v4M260 218v4M260 224v14M260 402v20M260 430v8M260 454v4M262 276v2M262 330v2M262 334v2M262 388v4M262 400v18M262 430v4M266 388v8M268 316v2M268 324v2M270 310v2M272 442v20M280 232v2M280 424v6M282 212v6M282 390v4M282 418v4M284 316v6M284 324v4M286 280v10M286 390v14M288 226v2M288 242v2M288 320v8M288 332v2M290 214v2M290 230v2M290 308v2M290 318v4M290 432v2M290 440v2M292 230v2M292 308v2M292 316v2M292 434v6M294 306v2M294 320v2M298 330v4M298 396v4M300 212v2M300 444v4M300 458v2M302 392v2M302 448v4M306 212v6M310 218v2M310 236v2M310 278v4M312 238v4M312 306v2M312 334v2M314 232v2M314 274v16M314 292v6M314 328v6M316 240v4M316 420v12M320 306v2M320 326v2M322 276v2M322 280v6M322 288v4M322 306v6M324 406v6M326 446v2M328 214v2M328 228v2M330 212v2M330 234v2M330 244v2M332 216v2M332 244v2M332 300v6M332 324v2M332 398v8M332 416v18M334 220v6M334 238v2M336 286v14M336 330v4M336 428v6M338 218v22M338 286v8M338 320v14M338 424v4M338 436v2M340 232v4M340 242v2M340 424v8M342 282v2M342 286v4M342 422v4M344 234v2M344 242v2M344 280v2M344 298v14M344 316v16M344 392v6M344 402v6M346 232v2M346 242v2M346 284v4M346 294v2M346 392v10M348 300v24M348 364v2M350 274v2M350 282v4M352 276v2M352 290v2M352 316v8M354 212v2M354 222v6M354 278v2M354 324v4M354 396v10M356 212v2M356 220v4M356 324v4M356 390v6M358 304v2M358 308v6M360 280v20M360 314v2M362 240v2M362 244v2M362 292v14M366 226v2M374 230v4M376 238v6M376 278v12M376 300v10M378 218v8M382 290v2M382 300v14M382 330v2M384 428v10M386 428v2M386 436v2M388 284v18M388 308v8M388 324v2M390 236v4M390 242v2M390 278v18M390 316v2M390 324v2M390 364v2M390 428v2M390 436v2M392 326v10M392 364v2M392 430v2M392 440v4M394 218v10M394 332v4M394 390v12M396 276v2M396 290v8M398 214v12M400 420v18M402 224v2M402 236v2M402 426v4M402 438v2M404 222v14M404 298v4M404 320v4M404 334v2M404 390v4M404 426v6M404 436v4M406 298v8M406 396v6"/>
<path stroke="#7deef6" stroke-width="2" d="M38 294v2M38 300v2M38 312v2M40 216v2M40 454v2M42 206v2M42 300v2M46 202v2M48 228v2M48 282v2M48 388v12M48 408v8M50 244v6M50 264v2M50 268v4M50 308v2M50 314v6M50 438v4M56 278v2M56 350v8M56 360v20M56 384v4M56 398v2M58 226v8M58 242v2M58 250v2M58 256v4M58 272v2M58 278v8M58 350v2M58 356v4M58 422v4M58 446v6M60 200v4M60 252v2M60 256v6M60 320v2M60 360v2M60 380v4M60 410v2M60 414v4M62 240v2M62 260v2M62 266v4M62 290v12M62 304v2M62 308v2M62 360v6M62 368v8M62 380v2M62 386v2M62 392v2M62 398v2M62 404v2M62 410v2M62 424v2M62 458v4M64 254v8M64 294v4M64 310v2M64 322v4M64 390v2M64 402v2M64 406v2M64 442v4M66 244v2M66 248v4M66 262v2M66 266v4M66 272v2M66 296v4M66 372v2M68 236v6M68 274v2M68 364v4M68 400v4M70 228v2M70 236v6M70 276v4M70 368v4M70 374v6M70 400v2M70 406v2M70 412v2M70 426v6M70 448v4M70 456v2M72 232v4M72 276v2M72 372v4M72 382v2M74 228v2M74 256v2M74 264v2M74 278v2M74 356v2M74 378v2M74 386v2M74 390v2M74 400v4M74 406v2M74 420v2M74 436v6M74 444v2M76 232v2M76 254v4M76 260v2M76 272v2M76 276v6M76 316v4M76 340v4M76 404v2M76 410v2M76 430v6M76 464v2M78 218v2M78 250v4M78 272v2M78 314v2M78 344v4M78 352v2M78 356v2M78 384v4M78 400v2M80 226v4M80 232v4M80 250v2M80 254v2M80 274v2M80 278v4M80 344v6M80 356v2M80 360v4M80 374v2M80 408v4M80 422v2M80 446v4M82 250v6M82 270v2M82 308v2M82 336v2M82 340v2M82 368v6M82 382v2M82 394v4M82 418v2M82 454v2M82 458v2M84 242v2M84 292v6M84 336v2M84 346v2M84 366v2M84 372v2M84 376v2M84 380v2M84 384v4M84 404v4M84 426v2M84 442v4M86 212v2M86 350v4M86 356v2M86 380v2M86 386v2M86 390v2M86 410v2M86 424v2M88 212v2M88 286v8M88 390v4M88 424v2M88 440v2M88 456v4M90 208v2M90 212v2M90 248v2M90 262v2M90 276v6M90 284v2M90 384v2M92 258v2M92 300v2M92 308v2M92 314v2M92 318v2M92 336v2M92 340v2M92 410v4M92 424v2M94 234v2M94 260v2M94 294v2M94 298v2M94 306v4M94 314v2M94 324v2M94 334v2M94 368v4M94 386v6M94 398v2M94 418v2M94 430v4M96 200v4M96 222v4M96 262v2M96 318v2M96 380v4M96 396v2M96 436v4M96 442v4M96 456v2M98 228v2M98 302v2M98 318v2M98 338v4M98 356v8M98 456v2M100 206v2M100 296v2M100 320v2M100 354v2M100 358v2M100 362v4M100 392v2M100 402v4M100 454v2M102 232v2M102 354v2M102 358v8M102 374v2M102 416v6M102 440v6M102 452v4M102 464v2M104 246v2M104 256v4M104 262v2M104 268v2M104 400v4M106 240v2M106 270v2M106 274v2M106 376v4M106 402v2M106 406v2M106 418v2M106 430v2M106 464v2M108 244v4M108 316v2M108 320v2M108 332v4M108 338v4M108 352v6M108 360v2M108 364v2M108 368v2M108 374v2M108 396v2M108 416v2M110 202v4M110 214v4M110 254v2M110 260v2M110 268v2M110 352v4M110 358v2M110 408v2M110 440v2M112 200v2M112 204v4M112 224v2M112 230v2M112 282v2M112 288v2M112 344v2M112 350v2M112 382v2M112 406v2M112 444v2M112 450v4M114 214v6M114 234v2M114 306v2M114 346v2M114 404v2M114 414v2M114 426v2M114 448v2M116 210v4M116 216v2M116 234v2M116 288v2M116 292v2M116 298v2M116 302v2M116 336v6M116 354v4M116 360v4M116 368v2M116 376v2M116 380v2M116 410v2M118 232v2M118 292v6M118 310v2M118 322v2M118 342v2M118 368v4M118 392v2M118 418v2M120 204v8M120 240v2M120 244v2M120 248v2M120 252v2M120 268v2M120 340v4M120 368v4M120 376v4M120 398v4M120 426v4M120 458v6M122 206v10M122 218v6M122 226v2M122 240v8M122 286v4M122 292v4M122 308v4M122 332v8M122 388v2M122 402v2M122 408v2M122 422v4M122 432v4M122 440v2M122 456v2M122 462v4M124 210v4M124 222v2M124 228v2M124 262v2M124 272v2M124 314v2M124 324v12M124 360v2M124 366v2M124 392v2M124 436v2M124 456v4M126 228v2M126 268v2M126 352v12M126 392v2M126 434v2M126 448v2M128 230v4M128 236v4M128 296v2M128 314v2M128 398v2M128 434v4M128 450v2M130 202v2M130 244v2M130 260v2M130 316v2M130 330v2M130 340v4M130 350v4M130 358v6M130 374v4M130 382v4M130 420v4M130 442v4M130 448v6M130 458v4M130 464v2M132 258v4M132 264v2M132 274v2M132 280v2M132 294v2M132 308v2M132 320v2M132 332v2M132 366v2M132 374v2M132 380v2M132 386v4M132 400v2M134 210v2M134 222v2M134 240v4M134 246v2M134 254v2M134 280v2M134 284v2M134 288v2M134 292v2M134 298v2M134 320v2M134 350v4M134 362v2M134 366v2M134 374v2M134 404v2M134 408v2M134 414v2M136 212v2M136 220v2M136 250v2M136 260v4M136 298v2M136 324v2M136 334v2M136 346v2M136 368v2M136 372v2M136 390v4M136 402v2M136 430v2M136 462v2M138 212v2M138 230v2M138 234v2M138 240v2M138 244v6M138 266v4M138 280v6M138 322v6M138 332v2M138 350v2M138 362v4M138 368v2M138 436v2M138 442v2M138 448v2M138 456v8M140 222v2M140 232v2M140 288v4M140 302v8M140 314v2M140 322v4M140 338v2M140 342v8M140 358v6M140 370v2M140 390v2M140 406v4M140 436v2M140 444v2M142 218v2M142 226v2M142 244v2M142 288v2M142 324v2M142 328v8M142 350v2M142 364v2M142 384v4M142 394v2M142 400v2M142 404v2M142 428v4M142 436v2M142 440v4M142 448v6M142 456v2M144 218v2M144 238v6M144 262v2M144 284v2M144 290v2M144 302v2M144 318v2M144 372v2M144 382v2M144 400v2M144 408v2M144 444v2M146 200v2M146 206v2M146 218v2M146 278v2M146 370v4M146 396v4M146 404v2M148 224v4M148 268v6M148 290v2M148 306v12M148 394v2M148 402v2M148 432v2M150 210v2M150 268v2M150 294v4M150 326v2M150 330v4M150 380v2M150 390v2M150 406v2M150 416v2M150 462v2M152 220v2M152 224v2M152 230v2M152 290v12M152 314v2M152 328v2M152 334v2M152 376v8M152 412v2M152 450v2M154 228v2M154 304v2M154 308v2M154 312v2M154 328v6M154 342v4M154 350v2M154 358v8M154 380v4M154 456v4M154 462v2M156 200v4M156 282v2M156 310v2M156 314v4M156 326v2M156 372v2M156 396v2M156 400v2M158 264v4M158 274v2M158 280v4M158 298v2M158 320v4M158 326v2M158 338v4M158 360v2M158 368v4M158 392v2M158 406v2M158 428v2M158 442v2M158 446v2M160 280v4M160 286v2M160 306v6M160 316v6M160 362v2M160 390v4M160 406v2M160 436v4M160 446v2M162 240v2M162 372v4M162 380v2M162 392v2M162 422v2M162 450v2M164 220v2M164 324v4M164 330v2M164 334v4M164 350v4M164 362v2M164 366v2M164 374v2M164 380v8M164 458v2M166 230v4M166 288v2M166 390v2M168 224v2M168 240v2M168 246v10M168 294v2M168 310v4M168 338v4M168 350v2M168 354v2M168 358v2M168 366v6M170 208v2M170 212v4M170 228v4M170 236v2M170 340v2M170 346v2M170 384v2M170 392v4M170 398v4M170 408v4M170 446v2M172 226v4M172 234v2M172 290v2M172 294v2M172 334v4M172 340v8M172 376v4M172 390v2M174 232v2M174 326v4M174 374v4M176 216v2M176 232v4M176 248v2M176 352v8M176 364v2M176 370v4M176 430v2M178 200v2M178 220v2M178 226v2M178 338v12M178 352v8M178 362v2M178 368v2M178 372v4M178 420v4M180 224v2M180 308v2M180 342v2M180 358v4M180 374v4M180 382v2M180 424v2M182 220v2M182 232v4M182 322v2M182 332v2M182 342v2M182 368v2M182 372v2M182 382v6M182 424v2M182 442v2M184 364v4M184 370v2M184 406v2M186 288v2M186 360v2M186 412v2M186 442v2M186 464v2M188 222v2M188 234v12M188 276v4M188 324v4M188 336v2M190 212v2M190 270v2M190 300v4M192 206v6M192 362v2M192 420v2M194 200v10M194 390v2M194 442v8M196 234v2M196 314v2M196 436v4M196 442v4M198 436v2M200 228v2M200 306v2M200 380v6M200 402v2M200 456v4M200 464v2M202 284v2M202 302v2M202 332v4M202 392v6M204 252v4M204 278v2M204 288v6M204 402v4M204 414v2M204 436v6M204 464v2M206 200v12M206 220v2M208 202v12M208 400v2M208 414v2M210 202v12M210 324v2M210 332v2M210 440v6M210 462v2M212 200v2M212 238v2M212 304v2M212 310v2M212 394v2M212 402v2M212 440v2M212 458v2M214 304v4M214 328v4M214 448v12M214 462v4M216 208v4M216 218v2M216 238v6M216 306v2M216 336v2M216 384v4M216 406v2M218 212v4M218 282v10M218 336v2M218 364v2M218 374v10M218 426v4M218 438v4M220 374v2M220 382v2M222 286v4M222 376v2M222 382v4M222 458v4M224 222v2M224 230v2M224 424v2M224 436v4M226 424v4M226 430v4M228 420v20M230 428v10M234 284v2M234 294v2M236 278v2M236 296v2M236 310v4M236 318v2M236 426v6M236 436v2M238 304v2M240 308v2M240 406v2M240 436v2M242 224v2M242 228v4M242 308v2M242 418v2M242 434v6M244 234v2M244 242v2M244 308v2M246 214v2M246 230v2M246 300v6M248 214v2M248 226v2M248 316v10M248 390v10M248 406v8M250 214v2M250 228v4M250 306v2M250 322v2M256 210v4M256 218v2M258 392v10M260 214v4M260 280v2M260 290v2M260 422v8M260 458v6M262 278v4M262 290v2M262 332v2M262 418v12M268 322v2M270 312v8M284 322v2M288 228v14M288 304v2M288 318v2M288 328v4M290 216v4M290 228v2M290 310v2M290 314v4M290 434v6M292 310v6M294 308v2M300 448v10M310 220v2M310 230v6M310 282v22M310 316v2M312 220v4M312 230v8M312 320v14M314 216v2M314 290v2M320 308v18M322 278v2M322 292v4M322 300v6M328 216v6M328 224v4M330 214v2M330 220v2M330 236v8M332 218v4M332 242v2M332 276v24M334 226v12M336 300v30M338 428v8M340 236v6M342 284v2M344 236v6M344 282v2M344 292v6M344 312v4M344 398v4M346 234v2M346 238v4M346 288v6M350 276v6M352 278v12M354 214v8M356 214v6M356 300v24M358 306v2M360 300v14M362 242v2M374 216v14M376 290v10M382 292v8M382 314v16M386 430v6M388 316v8M390 240v2M390 318v6M390 430v6M392 432v8M396 278v2M396 286v4M402 226v10M402 430v8M404 282v16M404 324v4M404 332v2M404 432v4"/>
<path stroke="#9bf0d5" stroke-width="2" d="M38 200v2M38 216v2M40 300v2M48 284v4M48 296v6M48 400v8M50 232v2M50 242v2M50 272v2M50 306v2M50 320v2M50 434v4M50 458v2M54 288v6M56 276v2M56 286v2M56 330v4M56 348v2M56 358v2M56 388v2M56 394v4M56 400v4M56 406v4M56 416v2M56 428v4M58 216v10M58 240v2M58 246v2M58 260v4M58 266v4M58 276v2M58 286v2M58 290v4M58 328v4M58 342v4M58 384v2M58 420v2M58 452v6M60 222v2M60 240v2M60 254v2M60 310v2M60 314v2M60 334v2M60 338v6M60 358v2M60 384v2M60 406v2M62 204v2M62 224v2M62 246v2M62 252v2M62 258v2M62 286v4M62 310v2M62 314v2M62 344v4M62 366v2M62 396v2M62 412v2M62 422v2M62 462v2M64 222v2M64 226v2M64 230v2M64 236v2M64 262v2M64 286v2M64 292v2M64 312v4M64 372v4M64 382v4M64 388v2M64 398v4M64 404v2M64 408v2M64 416v2M64 420v2M64 454v2M66 238v2M66 242v2M66 256v4M66 264v2M66 274v2M66 300v2M66 332v2M66 336v4M66 360v2M66 368v4M66 376v4M68 200v2M68 220v2M68 224v4M68 258v2M68 332v2M68 338v6M68 352v8M68 362v2M68 374v4M68 404v2M70 220v8M70 230v2M70 380v4M70 418v2M70 422v4M70 452v4M72 252v2M72 278v2M72 334v4M72 340v6M72 368v4M72 380v2M72 384v2M72 406v6M72 434v2M74 226v2M74 230v2M74 236v2M74 240v2M74 252v2M74 280v2M74 314v2M74 352v4M74 360v2M74 380v2M74 388v2M74 392v4M74 404v2M74 422v4M74 432v2M74 442v2M76 234v2M76 240v2M76 268v2M76 282v2M76 290v2M76 310v4M76 406v4M78 212v2M78 226v4M78 232v2M78 242v2M78 248v2M78 260v2M78 282v2M78 312v2M78 336v4M78 342v2M78 348v2M78 360v2M78 364v2M78 382v2M78 402v2M78 412v2M78 426v4M80 230v2M80 236v4M80 248v2M80 252v2M80 256v4M80 282v2M80 364v2M80 376v6M80 386v4M80 406v2M80 426v4M80 442v4M82 242v6M82 272v2M82 282v2M82 286v4M82 304v2M82 310v2M82 338v2M82 364v2M82 374v6M82 456v2M84 238v2M84 286v2M84 290v2M84 298v8M84 338v2M84 362v2M84 368v2M84 374v2M84 382v2M84 390v4M84 410v8M84 424v2M84 450v2M84 456v2M86 200v4M86 208v4M86 216v10M86 336v2M86 348v2M86 358v2M86 366v4M86 382v2M86 394v2M86 402v4M86 414v4M86 458v2M88 214v2M88 244v4M88 302v4M88 330v2M88 422v2M88 450v2M88 454v2M90 206v2M90 210v2M90 264v2M90 270v2M90 282v2M90 286v2M90 290v2M90 388v2M92 200v4M92 242v2M92 246v2M92 260v2M92 272v2M92 276v4M92 284v2M92 290v2M92 294v2M92 306v2M92 310v4M92 320v4M92 330v2M92 344v2M92 348v2M92 370v4M92 382v2M92 402v4M92 408v2M92 426v4M94 200v4M94 236v2M94 248v2M94 272v2M94 276v4M94 284v4M94 290v4M94 326v8M94 362v6M94 372v2M94 394v2M94 400v6M94 412v2M94 420v2M96 220v2M96 238v2M96 278v4M96 284v4M96 302v2M96 316v2M96 336v6M96 370v2M96 384v2M96 392v2M96 400v2M96 434v2M96 440v2M98 226v2M98 270v2M98 292v2M98 298v4M98 306v2M98 316v2M98 352v4M98 364v4M98 388v2M100 200v6M100 208v4M100 294v2M100 304v6M100 318v2M100 334v2M100 352v2M100 356v2M100 360v2M100 408v6M102 234v2M102 356v2M102 376v2M102 396v2M102 422v2M102 438v2M102 458v6M104 228v4M104 260v2M104 264v2M104 272v6M104 356v2M104 398v2M104 454v6M106 242v2M106 272v2M106 296v10M106 386v2M106 396v4M106 408v4M108 238v2M108 268v4M108 296v6M108 306v2M108 318v2M108 328v2M108 346v4M108 362v2M108 370v2M108 376v6M108 394v2M108 398v4M108 404v2M108 414v2M108 438v4M108 458v2M108 464v2M110 236v2M110 256v2M110 266v2M110 270v2M110 280v2M110 326v6M110 338v2M110 356v2M110 366v2M110 372v2M110 378v2M110 384v2M110 406v2M110 410v6M110 438v2M110 442v2M110 456v2M112 202v2M112 284v4M112 290v10M112 342v2M112 352v6M112 374v4M114 222v2M114 228v2M114 312v2M114 338v6M114 354v4M114 374v2M114 384v4M114 406v8M114 428v2M116 204v4M116 214v2M116 222v2M116 228v2M116 232v2M116 300v2M116 304v6M116 314v2M116 332v4M116 342v2M116 358v2M116 364v2M116 378v2M116 382v6M116 412v4M116 456v10M118 220v2M118 288v4M118 298v2M118 304v6M118 314v2M118 318v2M118 354v2M118 362v2M118 366v2M118 378v4M118 388v4M118 460v6M120 216v2M120 220v2M120 238v2M120 242v2M120 246v2M120 250v2M120 258v2M120 264v2M120 362v2M120 382v6M120 418v2M120 464v2M122 202v4M122 224v2M122 290v2M122 306v2M122 374v4M122 398v4M122 436v4M122 458v4M124 214v8M124 224v2M124 244v4M124 264v2M124 394v2M124 410v2M124 438v2M126 242v2M126 292v4M126 348v4M126 366v4M126 414v2M126 436v2M126 444v4M126 452v2M128 240v2M128 268v2M128 294v2M128 316v2M128 396v2M128 448v2M130 224v8M130 262v2M130 266v2M130 282v2M130 286v2M130 294v2M130 332v2M130 354v4M130 364v2M130 380v2M130 446v2M130 454v4M132 202v2M132 262v2M132 268v2M132 284v4M132 290v2M132 296v2M132 306v2M132 312v2M132 318v2M132 354v4M132 360v4M132 368v2M132 390v2M132 402v2M132 440v2M132 462v2M134 244v2M134 286v2M134 300v2M134 334v2M134 348v2M134 406v2M134 412v2M134 422v2M134 462v2M136 214v6M136 248v2M136 256v4M136 340v4M136 370v2M136 394v8M136 404v2M136 408v4M136 432v2M136 458v4M138 200v2M138 208v2M138 236v4M138 264v2M138 270v8M138 294v2M138 320v2M138 334v2M138 370v4M138 390v2M138 410v2M140 212v2M140 258v4M140 294v4M140 300v2M140 312v2M140 316v2M140 328v6M140 336v2M140 364v2M140 372v2M140 392v2M140 446v4M140 454v4M142 212v2M142 228v2M142 246v2M142 262v2M142 320v4M142 326v2M142 372v2M142 396v4M142 402v2M142 432v4M142 438v2M144 234v4M144 266v2M144 286v2M144 304v6M144 314v2M144 374v2M144 378v4M144 402v2M144 410v4M146 202v2M146 214v4M146 268v2M146 284v2M146 382v2M146 416v2M146 442v2M148 214v4M148 222v2M148 266v2M148 296v6M148 318v10M148 382v2M148 396v6M148 428v2M150 208v2M150 266v2M150 272v2M150 292v2M150 302v2M150 328v2M150 334v2M150 374v4M150 402v4M152 200v2M152 216v2M152 226v4M152 232v4M152 304v10M152 384v2M152 402v8M154 200v2M154 226v2M154 310v2M154 352v4M154 402v6M156 204v4M156 312v2M156 328v4M156 368v4M156 430v2M156 434v2M158 218v2M158 270v2M158 310v2M158 318v2M158 324v2M158 328v4M158 362v2M158 366v2M158 390v2M158 394v2M158 404v2M158 432v2M158 440v2M160 206v4M160 270v4M160 276v4M160 288v4M160 296v2M160 304v2M160 364v2M160 380v2M160 444v2M162 234v6M162 368v4M162 378v2M162 394v2M162 440v2M162 448v2M164 218v2M164 222v8M164 232v6M164 320v4M164 338v2M164 364v2M164 370v2M164 376v4M164 418v2M164 440v4M164 446v2M164 460v2M166 218v4M166 226v4M166 338v2M166 356v6M166 366v2M166 372v4M166 378v2M166 438v2M166 442v2M166 446v2M166 458v4M168 226v2M168 296v2M168 342v2M168 348v2M168 352v2M168 360v6M168 384v4M168 390v2M168 404v2M168 422v2M170 206v2M170 210v2M170 232v4M170 240v2M170 342v4M170 386v2M170 390v2M170 402v2M170 450v2M172 230v4M172 292v2M172 380v2M172 384v6M172 460v2M174 210v2M174 228v4M176 200v6M176 236v2M176 244v4M178 222v4M178 336v2M178 364v2M180 206v2M180 310v12M180 340v2M180 362v2M180 366v2M180 370v4M180 404v2M180 422v2M182 222v2M182 228v4M182 334v8M182 438v4M184 368v2M184 420v2M186 290v4M186 300v2M186 384v6M186 402v10M188 224v6M188 232v2M188 328v8M190 214v2M190 218v2M190 272v4M190 286v14M190 328v2M190 336v2M192 212v2M192 370v4M192 422v6M192 430v4M194 364v2M194 378v8M194 388v2M196 222v2M196 232v2M196 306v2M196 440v2M198 438v10M198 450v2M200 216v2M200 226v2M200 288v2M200 304v2M200 386v2M200 398v4M200 460v4M202 286v2M202 300v2M204 280v8M204 432v4M204 442v22M206 212v4M206 218v2M206 418v2M206 426v6M208 402v2M208 410v4M210 214v2M210 228v2M210 236v2M210 326v6M210 446v6M210 458v4M212 202v22M212 236v2M212 306v4M212 396v6M212 442v10M212 454v4M214 324v4M214 460v2M216 212v6M216 334v2M216 388v18M218 314v4M218 334v2M218 430v8M220 376v6M222 378v4M224 224v4M224 426v10M226 428v2M234 286v8M236 280v4M236 288v8M236 314v4M236 432v4M238 306v12M238 324v2M240 310v4M240 322v2M240 408v12M240 434v2M242 226v2M242 310v2M242 420v2M242 428v6M244 236v6M244 332v2M246 216v8M246 226v4M248 216v10M248 400v6M250 216v4M250 224v4M250 308v4M250 320v2M256 214v4M260 282v2M262 282v2M268 318v4M288 306v2M288 314v4M290 220v8M290 312v2M294 310v2M294 316v4M310 222v8M310 304v12M312 224v6M312 308v2M312 318v2M314 218v2M314 230v2M322 296v4M328 222v2M330 216v4M332 222v10M332 240v2M344 284v8M346 236v2M396 280v6M404 328v4"/>
<path stroke="#baf1b2" stroke-width="2" d="M38 428v2M48 288v8M50 222v4M50 228v4M50 274v2M50 322v4M50 432v2M50 460v2M52 460v2M54 284v4M54 294v8M54 396v14M56 270v6M56 288v4M56 328v2M56 334v4M56 342v4M56 392v2M56 426v2M56 432v8M58 244v2M58 248v2M58 264v2M58 274v2M58 288v2M58 294v4M58 324v4M58 332v2M58 336v6M58 346v4M58 354v2M58 386v2M58 412v2M58 458v8M60 204v2M60 242v2M60 250v2M60 274v2M60 312v2M60 344v2M60 386v4M60 408v2M62 206v2M62 242v2M62 250v2M62 256v2M62 274v2M62 284v2M62 312v2M62 342v2M62 418v2M62 426v2M64 216v2M64 220v2M64 224v2M64 228v2M64 232v2M64 264v2M64 270v2M64 288v4M64 368v4M64 380v2M64 386v2M64 392v6M64 410v6M64 456v2M66 236v2M66 252v2M66 278v2M66 282v2M66 306v2M66 334v2M66 340v4M66 364v4M66 374v2M68 202v2M68 228v2M68 276v2M68 284v8M68 334v4M68 344v2M68 378v2M68 398v2M68 406v8M70 214v6M70 244v2M70 256v2M70 280v2M70 318v2M70 364v4M70 384v2M70 396v4M70 414v4M70 420v2M72 228v2M72 236v2M72 240v2M72 246v6M72 322v12M72 338v2M72 346v2M72 352v2M72 366v2M72 386v2M72 402v4M72 412v2M72 432v2M74 224v2M74 238v2M74 242v2M74 246v2M74 250v2M74 282v4M74 288v4M74 318v6M74 326v2M74 426v6M74 434v2M76 222v4M76 228v2M76 238v2M76 242v2M76 250v4M76 262v2M76 266v2M76 270v2M76 284v6M78 208v4M78 234v2M78 238v4M78 244v4M78 266v6M78 284v2M78 296v2M78 320v2M78 324v8M78 334v2M78 340v2M78 448v4M80 214v4M80 220v2M80 240v8M80 260v2M80 270v4M80 276v2M80 284v6M80 296v2M80 304v2M80 308v6M80 384v2M80 436v6M82 214v2M82 274v2M82 278v4M82 284v2M82 290v12M82 306v2M82 312v2M84 200v2M84 236v2M84 282v4M84 288v2M84 306v4M84 316v4M84 324v2M84 328v8M84 340v4M84 364v2M84 370v2M84 378v2M84 398v6M84 420v4M84 446v4M84 454v2M86 206v2M86 232v4M86 338v2M86 344v4M86 360v2M86 372v2M86 376v2M86 400v2M86 412v2M86 422v2M86 438v2M86 456v2M88 208v4M88 216v2M88 222v4M88 242v2M88 326v2M88 338v8M88 420v2M88 442v2M90 204v2M90 214v4M90 224v2M90 230v2M90 246v2M90 266v4M90 274v2M90 288v2M90 296v2M90 316v2M90 362v4M90 386v2M90 390v4M90 404v2M92 204v4M92 240v2M92 244v2M92 280v4M92 286v4M92 292v2M92 346v2M92 350v4M92 364v2M92 368v2M92 384v2M92 396v4M92 406v2M92 414v2M92 430v2M94 204v6M94 212v2M94 274v2M94 280v2M94 310v4M94 360v2M94 406v6M94 414v2M96 204v2M96 240v4M96 246v2M96 264v2M96 274v2M96 282v2M96 292v2M96 304v6M96 342v2M96 372v2M96 386v6M96 398v2M96 402v2M96 446v2M96 454v2M98 286v2M98 294v4M98 304v2M98 308v2M98 350v2M98 390v4M98 454v2M100 212v2M100 226v2M100 286v2M100 292v2M100 336v2M100 422v2M100 430v2M100 452v2M102 394v2M102 424v2M102 432v6M104 210v4M104 244v2M104 266v2M104 270v2M104 332v2M104 354v2M104 358v2M106 266v2M106 276v2M106 322v2M106 326v2M106 342v2M106 374v2M106 382v4M106 412v6M106 450v4M106 460v4M108 240v4M108 272v4M108 310v2M108 314v2M108 350v2M108 384v6M108 410v4M108 460v4M110 246v6M110 272v8M110 322v4M110 332v4M110 340v2M110 360v2M110 368v2M110 374v2M110 380v2M110 444v8M110 454v2M110 460v2M110 464v2M112 300v4M112 338v4M112 358v2M112 370v4M114 226v2M114 232v2M114 310v2M114 344v2M114 348v4M114 358v4M114 366v8M114 380v4M114 446v2M116 200v4M116 318v4M116 328v4M116 352v2M116 416v4M116 450v6M118 228v4M118 316v2M118 352v2M118 360v2M118 364v2M118 376v2M118 386v2M118 420v6M118 436v24M120 202v2M120 212v4M120 218v2M120 234v2M120 260v4M120 354v2M120 360v2M120 366v2M120 388v2M120 420v6M122 200v2M122 228v4M122 234v2M122 238v2M122 342v2M122 354v2M122 358v2M124 230v6M124 242v2M124 274v2M124 312v2M124 364v2M124 396v2M124 400v2M126 230v4M126 238v4M126 296v6M126 344v4M126 364v2M126 394v2M126 412v2M126 440v4M128 234v2M128 282v2M128 286v4M128 318v2M128 394v2M128 438v4M128 444v2M128 452v2M128 458v2M128 462v4M130 204v20M130 232v2M130 236v8M130 264v2M130 284v2M130 288v2M130 296v10M130 338v2M130 372v2M130 418v2M132 232v12M132 288v2M132 292v2M132 298v4M132 310v2M132 314v2M132 350v4M132 364v2M132 370v2M132 404v2M132 438v2M132 442v2M132 460v2M132 464v2M134 208v2M134 224v6M134 234v2M134 238v2M134 252v2M134 302v2M134 318v2M134 364v2M134 372v2M134 410v2M134 456v6M134 464v2M136 208v4M136 246v2M136 254v2M136 300v4M136 318v2M136 336v4M136 406v2M136 456v2M136 464v2M138 202v2M138 206v2M138 214v6M138 232v2M138 254v4M138 260v4M138 292v2M138 296v2M138 302v2M138 338v4M138 344v2M138 348v2M138 392v4M138 408v2M138 438v4M138 464v2M140 208v2M140 218v2M140 262v8M140 286v2M140 292v2M140 298v2M140 326v2M140 334v2M140 394v2M140 440v4M140 458v2M142 208v2M142 214v4M142 230v2M142 234v2M142 238v6M142 264v2M142 290v6M142 310v2M142 318v2M142 454v2M144 216v2M144 230v2M144 264v2M144 278v2M144 310v4M144 316v2M144 376v2M144 414v2M144 442v2M146 204v2M146 208v2M146 212v2M146 270v8M146 282v2M146 296v4M146 400v4M148 212v2M148 218v4M148 292v4M148 304v2M148 328v6M148 374v2M148 430v2M150 206v2M150 378v2M150 392v4M150 398v2M152 202v10M152 218v2M152 302v2M152 386v2M152 398v2M152 452v2M152 460v2M154 202v2M154 222v4M154 334v2M154 356v2M154 384v4M154 398v2M156 210v2M156 220v2M156 332v4M156 352v4M156 428v2M156 432v2M158 214v4M158 300v2M158 304v6M158 312v6M158 332v4M158 364v2M158 398v2M158 402v2M158 434v6M160 204v2M160 274v2M160 292v4M160 298v4M160 366v2M160 372v4M160 378v2M160 394v2M160 440v4M162 376v2M162 396v2M162 404v2M162 446v2M162 456v2M164 230v2M164 348v2M164 368v2M164 420v8M164 444v2M166 222v4M166 340v2M166 354v2M166 362v4M166 368v2M166 376v2M166 380v4M166 388v2M166 434v4M166 440v2M166 444v2M168 228v10M168 298v12M168 344v4M168 388v2M168 406v4M168 420v2M170 388v2M170 404v4M170 452v4M172 382v2M172 462v2M176 206v4M176 214v2M176 238v2M176 242v2M178 326v2M180 202v4M180 208v6M180 322v4M180 336v4M180 364v2M180 368v2M180 406v16M182 224v4M182 426v12M184 408v2M184 418v2M186 294v2M186 298v2M186 380v4M186 390v12M186 444v2M186 462v2M188 230v2M190 216v2M190 220v6M190 276v10M190 330v2M190 334v2M192 214v2M192 224v2M192 364v6M192 428v2M194 366v2M194 376v2M194 386v2M196 224v8M196 308v6M198 448v2M198 452v6M198 464v2M200 218v8M200 300v4M200 388v10M202 288v12M204 416v2M204 426v6M206 216v2M206 420v6M208 404v6M210 230v6M210 452v6M212 224v4M212 232v4M212 452v2M214 308v2M214 320v4M216 308v2M216 332v2M218 318v6M218 332v2M224 228v2M236 284v4M238 318v6M240 314v8M240 420v2M240 430v4M242 312v4M242 320v2M242 422v6M244 310v4M244 322v10M246 224v2M250 220v4M250 312v8M260 284v6M262 284v6M288 308v6M294 312v4M312 310v8M314 220v10M332 232v8"/>
<path stroke="#e0ed8c" stroke-width="2" d="M50 220v2M50 226v2M50 234v4M50 240v2M50 304v2M50 326v4M50 430v2M52 458v2M52 462v2M54 282v2M54 302v2M54 384v12M54 410v6M56 240v14M56 268v2M56 312v8M56 322v6M56 338v2M56 346v2M56 404v2M56 418v4M56 440v2M58 200v6M58 210v4M58 298v4M58 322v2M58 334v2M58 410v2M58 414v6M60 206v6M60 216v6M60 246v2M60 276v2M60 292v6M60 302v2M60 306v4M60 346v2M60 350v4M60 356v2M60 394v2M62 208v2M62 222v2M62 244v2M62 248v2M62 254v2M62 276v8M62 338v4M62 348v4M62 414v4M62 420v2M62 464v2M64 214v2M64 218v2M64 234v2M64 266v2M64 272v2M64 284v2M64 364v4M66 254v2M66 302v2M66 318v2M66 328v4M66 344v4M66 352v8M66 362v2M66 428v6M68 230v4M68 244v2M68 278v2M68 282v2M68 292v2M68 330v2M68 346v2M68 380v4M68 414v6M70 242v2M70 246v2M70 254v2M70 282v2M70 316v2M70 320v4M70 328v2M70 332v2M70 340v6M70 352v4M70 360v2M70 386v2M70 458v2M72 226v2M72 230v2M72 238v2M72 244v2M72 280v2M72 284v2M72 314v8M72 348v2M72 354v4M72 364v2M72 396v2M72 400v2M74 222v2M74 244v2M74 248v2M74 310v4M74 316v2M74 324v2M76 216v6M76 226v2M76 230v2M76 236v2M76 244v4M76 264v2M76 292v2M76 304v2M76 308v2M78 230v2M78 236v2M78 264v2M78 286v2M78 290v6M78 304v2M78 308v4M78 316v4M78 322v2M78 332v2M78 404v2M78 410v2M78 438v10M78 452v6M80 218v2M80 264v6M80 290v6M80 298v4M80 306v2M80 342v2M80 382v2M80 430v6M82 208v2M82 216v4M82 302v2M82 328v4M82 334v2M84 202v2M84 268v8M84 278v4M84 310v6M84 320v4M84 326v2M84 394v4M84 418v2M84 452v2M86 204v2M86 226v2M86 230v2M86 332v2M86 362v4M86 374v2M86 398v2M86 418v4M88 206v2M88 218v4M88 230v2M88 236v2M88 240v2M88 324v2M88 328v2M88 332v6M88 346v6M88 394v2M88 416v4M88 444v2M88 448v2M88 452v2M90 202v2M90 218v6M90 242v4M90 292v4M90 298v2M90 308v2M90 314v2M90 318v2M90 330v2M90 356v6M90 394v6M90 402v2M90 406v2M92 208v2M92 212v2M92 238v2M92 270v2M92 274v2M92 326v4M92 354v4M92 362v2M92 366v2M92 392v2M92 400v2M92 432v4M94 210v2M94 228v2M94 238v2M94 242v2M94 262v2M94 270v2M94 282v2M94 288v2M94 336v8M94 356v4M96 244v2M96 266v8M96 276v2M96 288v4M96 294v4M96 300v2M96 314v2M96 344v2M96 368v2M96 394v2M96 404v2M96 416v2M96 422v2M96 426v8M96 448v2M98 210v10M98 224v2M98 274v2M98 278v4M98 284v2M98 310v2M98 314v2M98 342v6M98 394v10M98 430v2M98 434v6M100 214v4M100 224v2M100 276v8M100 290v2M100 310v2M100 316v2M100 350v2M100 414v2M100 424v6M100 432v4M100 450v2M102 226v2M102 352v2M102 378v2M102 426v6M104 216v4M104 224v4M104 232v8M104 278v2M104 330v2M104 334v2M104 352v2M106 278v2M106 294v2M106 306v2M106 324v2M106 344v2M106 372v2M106 388v2M106 454v2M106 458v2M108 266v2M108 276v6M108 308v2M108 312v2M108 382v2M108 390v4M108 402v2M108 406v4M108 442v2M108 456v2M110 238v8M110 252v2M110 282v2M110 296v12M110 320v2M110 336v2M110 364v2M110 370v2M110 376v2M110 382v2M110 452v2M110 462v2M112 304v4M112 368v2M114 230v2M114 308v2M114 352v2M114 362v4M114 376v4M114 430v2M114 436v2M114 444v2M116 226v2M116 230v2M116 316v2M116 324v4M116 346v6M116 420v20M116 448v2M118 216v4M118 222v2M118 348v4M118 356v4M118 382v4M118 426v10M120 200v2M120 222v2M120 232v2M120 236v2M120 344v2M120 348v2M120 356v4M120 364v2M120 390v8M122 232v2M122 236v2M122 340v2M122 348v2M122 356v2M122 360v4M122 372v2M122 390v8M124 236v2M124 240v2M124 276v2M124 310v2M124 398v2M124 402v2M126 234v4M126 270v2M126 288v4M126 302v10M126 332v12M126 396v2M126 410v2M126 454v2M128 270v2M128 284v2M128 290v4M128 320v2M128 348v12M128 392v2M128 442v2M128 446v2M128 454v4M128 460v2M130 234v2M130 276v6M130 290v4M130 334v2M130 416v2M132 204v12M132 226v6M132 304v2M132 316v2M132 334v2M132 346v4M132 372v2M132 406v2M134 230v2M134 236v2M134 304v4M134 344v4M134 368v4M134 424v2M134 454v2M136 222v2M136 228v2M136 242v4M136 314v2M136 434v2M136 442v2M138 204v2M138 210v2M138 252v2M138 258v2M138 298v2M138 304v2M138 318v2M138 336v2M138 342v2M138 346v2M138 396v2M138 400v2M138 406v2M140 206v2M140 214v4M140 396v2M140 400v2M140 404v2M140 438v2M140 460v4M142 206v2M142 236v2M142 266v2M142 286v2M142 306v4M142 312v6M144 206v2M144 212v4M144 232v2M144 268v2M144 276v2M144 280v4M144 416v2M144 440v2M146 210v2M146 280v2M146 288v2M146 330v4M146 374v2M146 418v2M146 438v4M148 210v2M148 302v2M148 376v2M150 204v2M150 396v2M150 400v2M152 212v4M152 388v4M152 394v2M152 400v2M152 454v2M154 204v2M154 390v6M154 400v2M156 212v6M156 366v2M158 210v4M158 302v2M158 396v2M158 400v2M160 200v4M160 302v2M160 368v2M160 376v2M160 404v2M162 398v2M162 402v2M162 442v4M162 458v2M164 340v2M164 462v4M166 370v2M166 384v4M166 410v4M166 430v4M166 462v4M168 412v2M168 418v2M168 424v4M168 442v2M168 448v2M170 456v2M172 464v2M174 212v2M174 224v4M176 210v4M176 240v2M178 328v2M178 334v2M180 200v2M180 214v2M180 222v2M184 410v8M186 296v2M186 362v2M186 378v2M186 446v4M186 460v2M190 332v2M192 216v4M192 222v2M194 368v8M198 458v6M200 290v2M200 296v4M204 424v2M212 228v4M214 310v2M214 316v4M216 330v2M218 324v8M240 422v8M242 316v4M244 314v8"/>
<path stroke="#efd976" stroke-width="2" d="M48 202v2M50 238v2M50 276v2M50 330v2M50 334v12M50 428v2M52 220v8M52 456v2M54 280v2M54 380v4M54 416v4M56 204v6M56 234v6M56 254v4M56 266v2M56 292v2M56 310v2M56 340v2M56 390v2M56 422v4M56 442v2M58 206v4M58 214v2M58 310v2M58 316v4M58 388v2M58 394v2M60 212v2M60 244v2M60 248v2M60 278v4M60 290v2M60 298v4M60 304v2M60 348v2M60 390v4M60 400v2M62 210v4M62 332v6M62 352v8M64 210v4M64 268v2M64 360v4M66 276v2M66 280v2M66 308v2M66 326v2M66 348v2M66 380v4M66 390v2M66 412v16M66 434v18M68 204v2M68 216v4M68 234v2M68 242v2M68 246v2M68 256v2M68 280v2M68 294v2M68 318v2M68 328v2M68 348v4M68 396v2M68 420v18M70 212v2M70 284v2M70 324v4M70 330v2M70 336v4M70 346v2M70 356v4M70 362v2M70 460v2M72 214v2M72 224v2M72 242v2M72 282v2M72 288v4M72 312v2M72 350v2M72 358v2M72 362v2M72 398v2M72 430v2M74 220v2M74 286v2M74 292v2M74 308v2M74 328v10M74 346v6M76 214v2M76 248v2M76 294v2M76 306v2M78 262v2M78 288v2M78 300v2M78 306v2M78 408v2M78 430v8M78 458v8M80 262v2M80 302v2M80 314v2M82 206v2M82 210v4M82 220v4M82 276v2M82 314v4M82 324v4M82 332v2M84 204v4M84 232v4M84 266v2M84 276v2M86 288v12M86 328v4M86 334v2M86 340v4M86 370v2M86 378v2M86 396v2M86 440v2M86 454v2M88 226v2M88 232v4M88 238v2M88 306v4M88 316v2M88 352v2M88 412v4M88 446v2M90 200v2M90 226v4M90 240v2M90 300v6M90 310v4M90 320v4M90 348v8M90 400v2M90 408v2M90 428v10M92 210v2M92 236v2M92 262v2M92 324v2M92 358v4M92 386v6M92 394v2M92 436v2M94 214v2M94 240v2M94 246v2M94 264v6M94 344v2M94 352v2M96 218v2M96 298v2M96 310v2M96 346v2M96 356v12M96 406v2M96 418v2M96 424v2M96 450v4M98 222v2M98 272v2M98 276v2M98 282v2M98 290v2M98 348v2M98 404v4M98 432v2M98 452v2M100 218v2M100 274v2M100 284v2M100 338v4M100 416v6M100 436v2M100 448v2M102 224v2M102 334v2M102 380v2M104 206v4M104 214v2M104 222v2M104 240v4M104 280v4M104 296v4M104 326v4M104 336v2M104 340v2M104 360v4M104 396v2M106 280v4M106 292v2M106 310v2M106 316v6M106 332v2M106 336v2M106 340v2M106 346v14M106 368v4M106 392v4M106 456v2M108 282v2M108 294v2M108 444v6M108 452v4M110 292v4M110 316v4M110 362v2M112 322v14M112 360v2M112 366v2M114 224v2M114 314v2M114 334v4M114 432v4M114 438v2M116 224v2M116 322v2M116 344v2M116 446v2M118 210v4M118 226v2M118 344v4M120 224v8M120 346v2M120 350v4M122 346v2M122 350v4M122 368v4M124 238v2M124 278v4M124 308v2M124 406v4M126 272v2M126 312v6M126 330v2M126 400v2M126 438v2M128 272v2M128 280v2M128 322v2M128 346v2M128 360v4M130 270v4M130 336v2M130 392v12M130 412v4M132 216v10M132 302v2M132 344v2M132 408v6M132 436v2M132 444v2M132 458v2M134 206v2M134 232v2M134 308v2M134 314v2M134 336v2M134 340v2M134 426v2M134 452v2M136 200v2M136 206v2M136 226v2M136 240v2M136 252v2M136 304v4M136 316v2M136 436v4M136 444v2M138 300v2M138 306v2M138 314v2M138 402v4M140 210v2M140 270v2M140 402v2M142 210v2M142 232v2M142 268v2M142 284v2M142 296v6M144 200v4M144 208v2M144 270v6M144 418v4M144 438v2M146 286v2M146 292v4M146 318v12M146 376v6M146 420v2M146 436v2M148 206v4M148 380v2M150 200v4M152 392v2M152 396v2M152 456v4M152 464v2M154 206v2M154 210v2M154 388v2M154 396v2M156 208v2M156 218v2M156 356v8M160 370v2M160 396v4M160 402v2M162 400v2M162 460v2M164 342v6M166 342v2M166 348v6M166 428v2M168 410v2M168 414v2M168 428v2M168 444v4M168 450v2M174 214v2M174 218v6M178 330v4M180 218v4M180 326v4M180 332v4M186 364v4M186 376v2M186 450v10M192 220v2M200 292v4M204 418v6M214 312v4M216 310v2M216 326v4"/>
<path stroke="#f2b969" stroke-width="2" d="M50 210v4M50 218v2M50 278v2M50 302v2M50 332v2M50 346v10M50 426v2M50 462v2M52 228v4M52 262v2M52 288v12M52 452v4M52 464v2M54 304v2M54 332v20M54 360v20M54 420v4M56 200v2M56 210v8M56 228v6M56 258v8M56 294v2M56 306v4M56 320v2M56 444v4M58 302v2M58 308v2M58 312v4M58 392v2M58 396v6M58 406v2M60 214v2M60 282v8M60 354v2M60 396v4M60 402v4M62 214v4M62 220v2M64 204v6M64 274v2M64 278v2M64 282v2M64 332v2M66 204v4M66 304v2M66 320v2M66 324v2M66 350v2M66 384v6M66 404v8M66 452v6M68 206v2M68 214v2M68 254v2M68 296v2M68 320v2M68 384v4M68 438v20M70 200v2M70 248v2M70 290v2M70 314v2M70 334v2M70 388v2M70 394v2M72 206v2M72 212v2M72 216v8M72 292v2M72 310v2M72 360v2M72 388v2M72 414v2M72 418v2M72 428v2M74 200v4M74 218v2M74 304v4M74 340v6M76 296v2M78 202v2M78 298v2M78 302v2M78 406v2M80 212v2M80 324v8M80 336v6M82 224v6M82 318v6M84 208v4M84 230v2M86 228v2M86 266v2M86 282v6M86 300v4M86 324v4M86 450v2M88 204v2M88 310v6M88 318v6M88 354v4M88 396v2M88 406v6M90 232v2M90 324v6M90 338v10M90 410v2M90 422v6M92 214v2M92 222v2M92 264v6M94 216v2M94 226v2M94 244v2M94 346v6M94 354v2M96 206v2M96 216v2M96 348v6M96 412v4M96 420v2M98 204v6M98 220v2M98 288v2M98 312v2M98 428v2M98 440v12M100 222v2M100 270v4M100 288v2M100 314v2M100 344v2M100 438v2M100 446v2M102 322v12M102 336v2M102 340v2M102 382v4M104 220v2M104 288v2M104 300v6M104 310v2M104 322v4M104 342v2M104 348v2M104 366v4M106 288v2M106 308v2M106 330v2M106 334v2M106 338v2M106 360v4M106 366v2M106 390v2M108 292v2M108 450v2M110 284v2M110 288v4M110 314v2M112 320v2M112 336v2M112 364v2M114 318v4M114 324v2M114 328v6M114 440v4M116 440v2M116 444v2M118 208v2M118 214v2M118 224v2M122 344v2M122 366v2M124 282v26M124 404v2M126 284v4M126 318v12M126 398v2M126 402v2M126 456v4M128 276v2M128 324v4M128 342v4M128 364v6M130 268v2M130 274v2M130 404v8M132 338v6M132 414v8M132 434v2M132 446v2M132 452v6M134 200v4M134 312v2M134 316v2M134 338v2M134 342v2M134 428v10M134 450v2M136 202v4M136 224v2M136 230v2M136 234v2M136 308v6M136 440v2M136 446v2M138 308v4M138 398v2M140 200v6M140 272v4M140 284v2M140 398v2M140 464v2M142 200v6M142 302v4M144 204v2M144 424v2M144 436v2M146 290v2M146 300v18M146 424v2M148 378v2M152 462v2M154 208v2M154 216v2M154 220v2M156 364v2M158 206v2M160 400v2M162 462v4M166 344v4M166 414v6M166 422v2M166 426v2M168 416v2M168 430v2M168 434v4M168 440v2M168 452v2M170 458v2M174 216v2M180 216v2M180 330v2M186 372v4M216 312v2M216 320v6"/>
<path stroke="#f09e66" stroke-width="2" d="M50 204v2M50 208v2M50 214v4M50 280v22M50 356v6M50 422v4M52 210v4M52 218v2M52 232v4M52 254v8M52 264v2M52 286v2M52 300v20M52 330v16M52 448v4M54 204v30M54 278v2M54 306v16M54 328v4M54 352v8M54 424v4M56 202v2M56 218v10M56 296v6M56 448v2M58 304v4M58 320v2M58 390v2M58 408v2M62 218v2M64 276v2M64 280v2M64 334v14M64 458v4M66 212v6M66 220v2M66 232v4M66 316v2M66 322v2M66 392v2M66 398v6M68 210v4M68 248v2M68 298v4M68 306v2M68 326v2M68 388v4M68 394v2M68 458v2M70 206v2M70 210v2M70 250v4M70 288v2M70 312v2M70 348v4M70 390v4M72 200v2M72 208v4M72 294v2M72 308v2M72 390v6M72 416v2M74 206v4M74 214v4M74 294v2M74 338v2M78 200v2M78 204v4M80 210v2M80 316v8M80 334v2M82 204v2M82 230v12M84 212v8M84 226v4M86 268v6M86 278v4M86 304v4M86 316v2M86 452v2M88 202v2M88 228v2M88 358v8M88 398v8M90 306v2M90 332v6M90 412v10M92 216v6M92 224v2M92 232v4M94 218v8M96 208v8M96 312v2M96 354v2M96 408v4M98 408v2M98 412v2M98 422v6M100 220v2M100 258v4M100 264v6M100 312v2M100 342v2M100 346v4M100 440v2M100 444v2M102 210v2M102 218v2M102 222v2M102 258v2M102 304v8M102 318v4M102 338v2M102 350v2M102 386v4M104 204v2M104 284v4M104 290v6M104 306v4M104 316v6M104 338v2M104 350v2M104 364v2M104 370v8M104 390v6M106 284v2M106 290v2M106 312v4M106 328v2M106 364v2M110 286v2M110 308v6M112 308v8M112 318v2M112 362v2M114 316v2M114 326v2M116 442v2M118 206v2M122 364v2M126 274v10M126 406v4M126 460v6M128 274v2M128 278v2M128 328v14M132 336v2M132 422v12M132 448v4M134 204v2M134 310v2M134 438v12M136 236v4M136 448v8M138 312v2M138 316v2M140 276v8M142 270v2M144 210v2M144 422v2M144 426v2M146 422v2M146 426v2M146 434v2M148 200v2M148 204v2M154 218v2M158 204v2M158 208v2M166 420v2M166 424v2M168 432v2M168 438v2M168 454v4M186 368v4M216 314v6"/>
<path stroke="#eb8569" stroke-width="2" d="M50 206v2M50 362v22M50 388v14M50 418v4M50 464v2M52 204v4M52 214v4M52 236v18M52 266v4M52 282v4M52 320v10M52 346v10M52 444v4M54 234v6M54 242v18M54 276v2M54 322v6M54 428v4M54 448v18M56 302v2M56 450v14M58 402v2M64 348v12M66 208v4M66 218v2M66 222v10M66 310v4M66 394v4M66 458v2M68 250v4M68 308v2M68 316v2M68 322v4M68 392v2M70 202v4M70 208v2M70 286v2M70 292v4M70 298v2M70 306v6M70 462v4M72 202v4M72 286v2M72 296v2M72 424v4M74 204v2M74 212v2M76 208v2M76 212v2M76 300v4M80 208v2M80 332v2M82 202v2M84 220v6M86 274v4M86 308v8M86 318v6M86 442v4M86 448v2M90 234v6M92 226v6M98 410v2M98 414v6M100 262v2M100 442v2M102 212v2M102 216v2M102 260v8M102 272v12M102 300v4M102 314v4M102 342v2M102 348v2M102 390v4M104 202v2M104 312v4M104 344v4M104 378v4M104 388v2M106 286v2M108 284v2M108 288v4M112 316v2M114 322v2M118 204v2M126 404v2M136 232v2M142 272v4M142 280v4M144 428v2M144 432v4M146 432v2M148 202v2M154 212v4M158 200v4M170 460v2"/>
<path stroke="#e27263" stroke-width="2" d="M48 200v2M50 384v4M50 402v16M52 208v2M52 270v12M52 356v88M54 200v4M54 240v2M54 260v8M54 272v4M54 432v16M56 304v2M56 464v2M58 404v2M64 462v2M66 314v2M68 208v2M68 302v2M68 312v4M68 460v2M70 296v2M70 300v4M72 298v2M72 302v6M72 420v4M74 210v2M74 296v2M74 302v2M76 210v2M76 298v2M82 200v2M86 446v2M88 200v2M98 420v2M102 206v4M102 214v2M102 220v2M102 268v4M102 284v16M102 312v2M102 344v4M104 200v2M104 382v6M108 286v2M142 276v4M144 430v2M146 428v2M168 458v2M170 462v4"/>
<path stroke="#d6605a" stroke-width="2" d="M50 200v4M52 200v4M54 268v4M64 464v2M66 460v6M68 304v2M68 310v2M68 462v4M70 304v2M72 300v2M74 298v4M76 200v8M80 200v8M102 200v6M118 200v4M146 430v2M168 460v6"/>
</g></g>
<rect x="37.2" y="199.8" width="369.8" height="266" fill="none" stroke="#6a78d8" stroke-width="0.6"/>
<line x1="37.30" y1="199.50" x2="37.30" y2="466.00" stroke="#9a9aa8" stroke-width="0.9"/>
<g fill="none" stroke="#262626" stroke-width="0.75" stroke-linejoin="round">
<path d="M83.3,204.5 83.0,206.9 82.8,209.3 82.6,211.7 82.3,214.1 82.0,216.5 81.8,218.9 81.6,221.3 81.4,223.7 81.4,226.1 81.4,228.5 81.4,230.9 81.5,233.3 81.7,235.7 81.7,238.1 81.7,240.5 81.8,241.3"/>
<path d="M97.6,204.5 96.8,206.9 95.9,209.3 95.1,211.7 94.4,214.1 93.7,216.5 93.1,218.9 92.6,221.3 92.2,223.7 91.7,226.1 91.1,228.5 90.3,230.9 89.5,233.3 88.6,235.7 87.7,238.1 87.2,239.5"/>
<path d="M129.1,204.5 129.5,206.9 129.9,209.3 130.3,211.7 130.7,214.1 131.0,216.5 131.3,218.9 131.4,221.3 131.4,223.7 131.3,226.1 131.1,228.5 130.8,230.9 130.6,233.3 130.3,235.7 130.1,238.1 130.0,240.5 130.0,242.9 130.1,244.9"/>
<path d="M85.3,266.4 85.4,268.8 85.5,271.2 85.5,273.6 85.3,276.0 85.2,278.4 85.0,280.8 84.8,283.2 84.7,285.6 84.6,288.0 84.5,290.4 84.3,292.8 84.3,295.2 84.3,297.6 84.3,300.0 84.4,302.4 84.6,304.8 84.7,307.2 84.8,309.6 85.0,311.3"/>
<path d="M100.6,258.4 100.8,260.8 101.0,263.2 101.1,265.6 101.2,268.0 101.1,270.4 101.0,272.8 100.8,275.2 100.5,277.6 100.3,280.0 100.2,282.4 100.2,284.8 100.3,287.2 100.5,289.6 100.8,292.0 101.1,294.4 101.3,296.8 101.6,299.2 101.8,301.6 101.9,304.0 102.1,306.4 102.1,308.8 102.1,311.2 102.2,313.6 102.3,316.0 102.3,318.4 102.3,320.8 102.3,323.2 102.1,325.6 101.9,328.0 101.5,330.4 101.1,332.8 101.0,335.2 101.1,337.6 101.2,340.0 101.6,342.4 102.1,344.8 102.7,347.2 103.4,349.6 104.2,352.0 104.9,354.4 105.3,356.8 105.1,359.2 104.9,361.6 104.6,364.0 104.3,366.4 104.0,368.8 103.7,371.2 103.5,373.6 103.3,376.0 103.2,378.4 103.1,380.8 103.0,383.2 102.9,385.6 102.6,388.0 102.3,390.4 102.0,392.8 101.7,394.0"/>
<path d="M124.2,273.6 123.9,276.0 123.7,278.4 123.5,280.8 123.2,283.2 123.1,285.6 123.0,288.0 123.0,290.4 123.0,292.8 123.3,295.2 123.8,297.6 124.2,300.0 124.6,302.4 124.9,304.8 125.1,307.2 125.3,309.6 125.4,312.0 125.6,314.4 125.8,316.8 126.0,319.2 126.2,321.6 126.5,324.0 126.7,326.4 126.8,328.8 127.0,331.2 127.0,333.6 126.9,336.0 126.8,338.4 126.7,340.8 126.7,343.2 126.7,345.6 126.6,348.0 126.5,350.4 126.3,352.8 126.0,355.2 125.8,357.6 125.6,360.0 125.6,362.4 125.7,364.8 125.8,367.2 126.2,369.6 126.6,370.7"/>
<path d="M88.8,333.0 89.2,335.4 89.4,337.8 89.5,340.2 89.3,342.6 89.0,345.0 88.7,347.4 88.2,349.8 87.9,352.2 87.6,354.6 87.3,357.0 87.3,359.4 87.2,361.8 87.3,364.2 87.5,365.3"/>
<path d="M87.1,395.8 87.1,398.2 87.0,400.6 87.0,403.0 87.0,405.4 87.1,407.8 87.2,410.2 87.3,412.6 87.5,415.0 87.6,417.4 87.7,419.8 87.9,422.2 88.2,424.6 88.5,427.0 88.9,429.4 89.4,431.8 89.8,434.2 90.3,436.6 90.6,437.1"/>
<path d="M129.2,392.3 129.7,394.7 130.1,397.1 130.6,399.5 131.0,401.9 131.4,404.3 131.7,406.7 131.9,409.1 132.1,411.5 132.2,413.9 132.3,416.3 132.3,418.7 132.4,421.1 132.6,423.5 132.8,425.9 133.1,428.3 133.3,430.7 133.5,433.1 133.7,435.5 133.9,437.9 134.0,440.3 134.1,442.7 134.1,445.1 134.1,447.5 134.2,449.9 134.4,452.3 134.6,454.7 134.9,456.9"/>
<path d="M168.0,205.6 168.6,208.0 169.0,210.4 169.5,212.8 169.8,215.2 170.0,217.6 170.2,220.0 170.3,222.4 170.4,224.8 170.5,227.2 170.6,229.6 170.7,232.0 170.7,234.4 170.8,236.8 170.8,239.2 170.7,241.6 170.6,243.5"/>
<path d="M168.2,268.2 168.1,270.6 168.1,273.0 168.0,275.4 168.0,277.8 168.0,280.2 168.2,282.6 168.4,285.0 168.6,287.4 168.9,289.8 169.1,292.2 169.2,294.6 169.4,297.0 169.4,299.4 169.3,301.8 169.1,304.2 168.8,306.6 168.5,309.0 168.2,311.4 168.0,313.8 167.9,316.2 168.0,318.6 168.1,321.0 168.4,323.4 168.8,325.8 169.2,328.2 169.5,330.6 169.8,333.0 170.0,335.4 170.2,337.8 170.3,338.5"/>
<path d="M207.4,259.7 207.3,262.1 207.0,264.5 206.5,266.9 206.1,269.3 205.6,271.7 205.2,274.1 204.9,276.5 204.8,278.9 204.8,281.3 204.9,283.7 205.1,286.1 205.4,288.5 205.6,290.9 205.6,293.3 205.6,295.7 205.4,298.1 205.2,300.5 205.0,302.9 204.8,305.3 204.5,307.7 204.3,310.1 204.1,312.5 203.9,314.9 203.9,317.3 203.9,319.7 203.9,322.1 203.9,324.5 203.9,326.9 203.9,329.3 203.9,331.7 203.7,334.1 203.3,336.5 202.8,338.9 202.4,341.3 201.9,343.7 201.2,346.1 200.4,348.5 199.4,350.9 198.5,353.3 197.4,355.7 196.4,358.0"/>
<path d="M187.0,378.6 187.1,381.0 187.4,383.4 187.8,385.8 188.2,388.2 188.8,390.6 189.4,393.0 190.0,395.4 190.6,397.8 190.9,400.2 191.0,402.6 191.0,405.0 190.9,407.4 190.7,409.8 190.5,412.2 190.5,414.6 190.5,417.0 190.7,419.4 191.1,421.8 191.2,424.2 191.1,426.6 191.0,429.0 191.0,431.4 190.9,433.8 190.6,436.2 190.3,438.6 189.9,441.0 189.4,443.4 188.9,445.8 188.5,448.2 188.2,449.8"/>
<path d="M174.3,385.9 174.1,388.3 173.8,390.7 173.5,393.1 173.3,395.5 172.9,397.9 172.6,400.3 172.2,402.7 171.8,405.1 171.4,407.5 171.2,409.9 171.1,412.3 171.1,414.7 171.2,417.1 171.4,419.5 171.7,421.9 171.9,424.3 172.1,426.7 172.1,429.1 172.0,431.5 171.7,433.9 171.3,434.3"/>
<path d="M241.8,235.0 241.7,237.4 241.5,239.8 241.3,242.2 241.2,244.6 241.0,247.0 240.9,249.4 240.7,251.8 240.6,254.2 240.4,256.6 240.3,259.0 240.3,261.4 240.3,263.8 240.3,266.2 240.4,268.6 240.6,271.0 240.7,273.4 240.9,275.8 240.9,278.2 240.9,280.6 240.9,283.0 240.7,285.4 240.6,287.8 240.5,290.2 240.4,292.6 240.3,295.0 240.3,297.4 240.3,299.8 240.3,302.2 240.3,304.6 240.3,307.0 240.2,309.4 240.2,310.0"/>
<path d="M244.3,365.0 244.3,367.4 244.4,369.8 244.5,372.2 244.6,374.6 244.7,377.0 244.8,379.4 244.9,381.8 244.8,384.2 244.7,386.6 244.5,389.0 244.1,391.4 243.6,393.8 243.1,396.2 242.6,398.6 242.1,401.0 241.8,403.4 241.5,405.8 241.4,408.2 241.4,410.6 241.3,413.0 241.4,415.4 241.4,417.8 241.3,420.2 241.3,422.6 241.2,425.0 241.1,427.4 241.1,429.8 241.0,432.2 241.0,434.6 240.9,437.0 240.9,437.9"/>
<path d="M267.9,221.7 268.1,224.1 268.3,226.5 268.7,228.9 269.0,231.3 269.3,233.7 269.5,236.1 269.7,238.5 269.8,240.9 269.9,243.3 270.0,245.7 270.0,248.1 269.9,250.5 269.9,252.9 269.8,255.3 269.8,257.7 269.7,260.1 269.5,262.5 269.3,264.9 269.1,267.3 268.9,269.7 268.8,272.1 268.8,274.5 268.8,276.9 268.9,279.3 269.0,281.7 269.1,284.1 269.3,286.5 269.5,288.9 269.6,291.3 269.8,293.7 270.0,296.1 270.1,298.5 270.3,300.9 270.4,302.4"/>
<path d="M282.7,205.6 282.5,208.0 282.3,210.4 282.1,212.8 281.9,215.2 281.9,217.6 281.9,220.0 282.0,222.4 282.2,224.8 282.4,227.2 282.6,229.6 282.7,232.0 282.7,234.4 282.6,236.8 282.4,239.2 282.0,241.6 281.7,244.0 281.3,246.4 281.1,247.3"/>
<path d="M282.0,270.1 281.7,272.5 281.3,274.9 281.0,277.3 280.7,279.7 280.4,282.1 280.1,284.5 279.9,286.9 279.7,289.3 279.4,291.7 279.2,294.1 278.9,296.5 278.7,298.9 278.4,301.3 278.2,303.7 278.0,306.1 277.9,308.5 277.7,310.9 277.6,313.3 277.6,315.7 277.5,318.1 277.5,320.5 277.5,322.9 277.4,325.3 277.2,327.7 277.0,330.1 276.8,332.5 276.6,333.0"/>
<path d="M280.3,369.5 280.0,371.9 279.6,374.3 279.3,376.7 279.0,379.1 278.7,381.5 278.4,383.9 278.2,386.3 278.0,388.7 277.9,391.1 277.9,393.5 277.9,395.9 277.9,398.3 277.9,400.7 277.9,403.1 277.8,405.5 277.7,407.9 277.5,410.3 277.2,412.7 277.3,415.1 277.4,417.5 277.5,419.9 277.7,422.3 277.8,424.7 278.0,427.1 278.1,429.5 278.2,431.9 278.4,434.3 278.6,436.7 278.8,439.1 278.9,441.5 279.2,443.9 279.5,446.3 279.7,448.7 280.0,451.1 280.2,453.5 280.4,455.9 280.6,458.3 280.9,460.7 281.2,463.1 281.5,465.5 281.7,466.0"/>
<path d="M323.1,206.5 323.1,208.9 323.2,211.3 323.3,213.7 323.5,216.1 323.7,218.5 323.9,220.9 324.2,223.3 324.4,225.7 324.7,228.1 325.0,230.5 325.3,232.9 325.6,235.3 325.8,237.7 326.0,240.1 326.1,242.5 326.2,244.9 326.3,247.3 326.3,249.2"/>
<path d="M321.6,266.3 321.3,268.7 320.9,271.1 320.4,273.5 319.8,275.9 319.3,278.3 318.8,280.7 318.3,283.1 317.9,285.5 317.6,287.9 317.3,290.3 317.0,292.7 316.6,295.1 316.1,297.5 315.6,299.9 315.1,302.3 314.5,304.7 314.0,307.1 313.8,307.1"/>
<path d="M332.9,284.0 333.5,286.4 334.1,288.8 334.8,291.2 335.3,293.6 335.8,296.0 336.1,298.4 336.3,300.8 336.4,303.2 336.3,305.6 336.1,308.0 335.8,310.4 335.7,312.8 335.6,315.2 335.7,317.6 336.0,320.0 336.3,322.4 336.6,324.8 336.8,327.2 337.0,329.6 337.1,332.0 337.2,334.4 337.3,336.8 337.3,338.0"/>
<path d="M380.6,236.0 380.5,238.4 380.1,240.8 379.5,243.2 378.8,245.6 378.0,246.4"/>
<path d="M379.4,266.3 379.5,268.7 379.6,271.1 379.7,273.5 379.8,275.9 380.0,278.3 380.1,280.7 380.2,283.1 380.4,285.5 380.5,287.9 380.6,290.3 380.6,292.7 380.6,295.1 380.5,297.5 380.5,299.9 380.4,302.3 380.2,304.7 380.1,307.1 380.0,309.5 379.8,311.9 379.6,314.3 379.4,316.7 379.3,319.1 379.2,321.5 379.1,323.9 379.1,326.3 379.3,328.7 379.5,331.1 379.7,333.5 379.6,335.9 379.6,338.3 379.4,340.7 379.2,343.1 379.1,345.5 378.9,347.9 378.6,350.3 378.3,352.7 378.0,354.9"/>
<path d="M328.8,353.1 328.7,355.5 328.5,357.9 328.2,360.3 328.0,362.7 327.7,365.1 327.5,367.5 327.4,369.9 327.4,372.3 327.3,374.7 327.4,377.1 327.4,379.5 327.4,381.9 327.3,384.3 327.2,386.7 326.9,389.1 326.6,391.5 326.3,393.9 325.9,396.3 325.6,398.7 325.2,401.1 324.9,403.5 324.6,405.9 324.4,408.3 324.1,410.7 323.8,413.1 323.4,415.5 323.1,417.9 322.8,420.3 322.5,422.7 322.2,425.1 322.0,427.5 321.8,429.9 321.6,432.3 321.4,434.7 321.2,437.0"/>
<path d="M372.8,377.7 373.1,380.1 373.5,382.5 374.0,384.9 374.7,387.3 375.3,389.7 376.0,392.1 376.5,394.5 376.9,396.9 377.2,399.3 377.3,401.7 377.4,404.1 377.4,406.5 377.4,408.9 377.6,411.3 377.9,413.7 378.3,416.1 378.8,418.5 379.2,420.9 379.2,423.3 379.1,425.7 378.9,428.1 378.8,430.5 378.6,432.9 378.5,435.3 378.5,437.7 378.5,440.1 378.6,442.5 378.8,444.9 378.9,447.3 379.2,449.7 379.4,452.1 379.8,454.5 380.1,456.9 380.5,457.1"/>
<path d="M393.3,397.8 393.1,400.2 392.8,402.6 392.5,405.0 392.2,407.4 392.1,409.8 392.1,412.2 392.1,414.6 392.3,417.0 392.6,419.4 393.0,421.8 393.4,424.2 393.8,426.6 394.2,429.0 394.6,431.4 394.9,433.8 395.1,436.2 395.2,438.6 395.2,441.0 395.1,443.4 395.2,445.8 395.2,448.2 395.2,450.6 395.3,452.5"/>
</g>
<path d="M53.5,200.0 55.9,210.8 55.5,226.9 54.6,244.9 55.5,262.8 54.0,275.4 51.7,289.8 52.3,300.6 55.0,309.5 54.6,322.1 53.5,333.0 53.5,354.5 53.2,377.9 52.3,404.8 53.2,422.8 55.0,444.3 56.4,466.0" fill="none" stroke="#111" stroke-width="1.5" stroke-dasharray="3.3,1.1"/>
<ellipse cx="85.5" cy="251.2" rx="8.6" ry="9.6" fill="#e6e6e6" stroke="#333" stroke-width="0.8"/>
<text x="85.5" y="255.2" font-size="11.3" text-anchor="middle" font-weight="bold" font-style="normal" fill="#111">e</text>
<ellipse cx="127.1" cy="262.8" rx="8.6" ry="9.6" fill="#e6e6e6" stroke="#333" stroke-width="0.8"/>
<text x="127.1" y="266.8" font-size="11.3" text-anchor="middle" font-weight="bold" font-style="normal" fill="#111">T</text>
<ellipse cx="170.8" cy="254.5" rx="8.6" ry="9.6" fill="#e6e6e6" stroke="#333" stroke-width="0.8"/>
<text x="170.8" y="258.5" font-size="11.3" text-anchor="middle" font-weight="bold" font-style="normal" fill="#111">O</text>
<ellipse cx="276.6" cy="259.9" rx="8.6" ry="9.6" fill="#e6e6e6" stroke="#333" stroke-width="0.8"/>
<text x="276.6" y="263.9" font-size="11.3" text-anchor="middle" font-weight="bold" font-style="normal" fill="#111">P</text>
<ellipse cx="328.8" cy="263.9" rx="8.6" ry="9.6" fill="#e6e6e6" stroke="#333" stroke-width="0.8"/>
<text x="328.8" y="267.9" font-size="11.3" text-anchor="middle" font-weight="bold" font-style="normal" fill="#111">P</text>
<ellipse cx="377.4" cy="256.6" rx="8.6" ry="9.6" fill="#e6e6e6" stroke="#333" stroke-width="0.8"/>
<text x="377.4" y="260.6" font-size="11.3" text-anchor="middle" font-weight="bold" font-style="normal" fill="#111">P</text>
<ellipse cx="237.6" cy="321.2" rx="8.6" ry="9.6" fill="#e6e6e6" stroke="#333" stroke-width="0.8"/>
<text x="237.6" y="325.2" font-size="11.3" text-anchor="middle" font-weight="bold" font-style="normal" fill="#111">O</text>
<ellipse cx="52.6" cy="344.7" rx="8.6" ry="9.6" fill="#e6e6e6" stroke="#333" stroke-width="0.8"/>
<text x="52.6" y="348.7" font-size="11.3" text-anchor="middle" font-weight="bold" font-style="normal" fill="#111">E</text>
<ellipse cx="91.8" cy="381.8" rx="8.6" ry="9.6" fill="#e6e6e6" stroke="#333" stroke-width="0.8"/>
<text x="91.8" y="385.8" font-size="11.3" text-anchor="middle" font-weight="bold" font-style="normal" fill="#111">e</text>
<ellipse cx="129.1" cy="381.8" rx="8.6" ry="9.6" fill="#e6e6e6" stroke="#333" stroke-width="0.8"/>
<text x="129.1" y="385.8" font-size="11.3" text-anchor="middle" font-weight="bold" font-style="normal" fill="#111">T</text>
<ellipse cx="191.4" cy="367.9" rx="8.6" ry="9.6" fill="#e6e6e6" stroke="#333" stroke-width="0.8"/>
<text x="191.4" y="371.9" font-size="11.3" text-anchor="middle" font-weight="bold" font-style="normal" fill="#111">O</text>
<ellipse cx="386.3" cy="425.8" rx="8.6" ry="9.6" fill="#e6e6e6" stroke="#333" stroke-width="0.8"/>
<text x="386.3" y="429.8" font-size="11.3" text-anchor="middle" font-weight="bold" font-style="normal" fill="#111">P</text>
<ellipse cx="85.8" cy="447.0" rx="8.6" ry="9.6" fill="#e6e6e6" stroke="#333" stroke-width="0.8"/>
<text x="85.8" y="451.0" font-size="11.3" text-anchor="middle" font-weight="bold" font-style="normal" fill="#111">e</text>
<ellipse cx="241.2" cy="448.9" rx="8.6" ry="9.6" fill="#e6e6e6" stroke="#333" stroke-width="0.8"/>
<text x="241.2" y="452.9" font-size="11.3" text-anchor="middle" font-weight="bold" font-style="normal" fill="#111">O</text>
<ellipse cx="320.6" cy="448.0" rx="8.6" ry="9.6" fill="#e6e6e6" stroke="#333" stroke-width="0.8"/>
<text x="320.6" y="452.0" font-size="11.3" text-anchor="middle" font-weight="bold" font-style="normal" fill="#111">P</text>
<text x="33.8" y="231.2" font-size="11.0" text-anchor="end" font-weight="normal" font-style="normal" fill="#444">10</text>
<text x="33.8" y="259.0" font-size="11.0" text-anchor="end" font-weight="normal" font-style="normal" fill="#444">20</text>
<text x="33.8" y="286.8" font-size="11.0" text-anchor="end" font-weight="normal" font-style="normal" fill="#444">30</text>
<text x="33.8" y="314.6" font-size="11.0" text-anchor="end" font-weight="normal" font-style="normal" fill="#444">40</text>
<text x="33.8" y="342.4" font-size="11.0" text-anchor="end" font-weight="normal" font-style="normal" fill="#444">50</text>
<text x="33.8" y="370.2" font-size="11.0" text-anchor="end" font-weight="normal" font-style="normal" fill="#444">60</text>
<text x="33.8" y="398.0" font-size="11.0" text-anchor="end" font-weight="normal" font-style="normal" fill="#444">70</text>
<text x="33.8" y="425.8" font-size="11.0" text-anchor="end" font-weight="normal" font-style="normal" fill="#444">80</text>
<text x="33.8" y="453.6" font-size="11.0" text-anchor="end" font-weight="normal" font-style="normal" fill="#444">90</text>
<text x="37.2" y="480.2" font-size="9.6" text-anchor="middle" font-weight="normal" font-style="normal" fill="#444">0</text>
<text x="74.2" y="480.2" font-size="9.6" text-anchor="middle" font-weight="normal" font-style="normal" fill="#444">1</text>
<text x="111.2" y="480.2" font-size="9.6" text-anchor="middle" font-weight="normal" font-style="normal" fill="#444">2</text>
<text x="148.1" y="480.2" font-size="9.6" text-anchor="middle" font-weight="normal" font-style="normal" fill="#444">3</text>
<text x="185.1" y="480.2" font-size="9.6" text-anchor="middle" font-weight="normal" font-style="normal" fill="#444">4</text>
<text x="222.1" y="480.2" font-size="9.6" text-anchor="middle" font-weight="normal" font-style="normal" fill="#444">5</text>
<text x="259.1" y="480.2" font-size="9.6" text-anchor="middle" font-weight="normal" font-style="normal" fill="#444">6</text>
<text x="296.1" y="480.2" font-size="9.6" text-anchor="middle" font-weight="normal" font-style="normal" fill="#444">7</text>
<text x="333.0" y="480.2" font-size="9.6" text-anchor="middle" font-weight="normal" font-style="normal" fill="#444">8</text>
<text x="370.0" y="480.2" font-size="9.6" text-anchor="middle" font-weight="normal" font-style="normal" fill="#444">9</text>
<text x="407.0" y="480.2" font-size="9.6" text-anchor="middle" font-weight="normal" font-style="normal" fill="#444">10</text>
<text x="222.1" y="494.2" font-size="10.9" text-anchor="middle" font-weight="normal" font-style="normal" fill="#333">Frequency (cycles/m)</text>
<text x="12.6" y="327.4" font-size="10.9" text-anchor="middle" font-weight="normal" font-style="normal" fill="#333" transform="rotate(-90 12.6 327.4)">Depth (m)</text>
<text x="5.6" y="210.7" font-size="20" text-anchor="start" font-weight="bold" font-style="normal" fill="#333">b</text>
<defs><clipPath id="spc"><rect x="419" y="199" width="96" height="267"/></clipPath><filter id="blurspc" x="-2%" y="-2%" width="104%" height="104%"><feGaussianBlur stdDeviation="0.5"/></filter></defs>
<g clip-path="url(#spc)"><g filter="url(#blurspc)">
<rect x="417" y="197" width="100" height="271" fill="#0000a0"/>
<path stroke="#000078" stroke-width="1" d="M453.5 421v5M454.5 413v5M454.5 421v5M455.5 363v3M455.5 414v5M455.5 421v1M456.5 305v7M456.5 359v5M458.5 257v5M459.5 256v7M459.5 413v12M460.5 256v8M460.5 393v13M460.5 413v15M461.5 257v8M461.5 393v35M462.5 259v3M462.5 393v33M462.5 440v7M463.5 393v25M463.5 435v12M464.5 302v3M464.5 395v20M464.5 432v12M465.5 302v3M465.5 397v17M465.5 431v11M466.5 400v11M466.5 433v6M467.5 357v1M468.5 354v5"/>
<path stroke="#00008c" stroke-width="1" d="M419.5 383v7M419.5 438v3M419.5 457v9M420.5 383v8M420.5 439v1M420.5 458v8M421.5 383v8M423.5 356v2M423.5 415v2M424.5 351v10M424.5 394v1M424.5 415v6M425.5 351v11M425.5 392v3M425.5 414v6M426.5 351v9M426.5 392v5M426.5 406v11M427.5 348v11M428.5 347v9M428.5 388v2M429.5 352v2M430.5 385v2M430.5 388v1M438.5 336v2M439.5 323v3M439.5 335v3M440.5 322v5M441.5 323v4M442.5 298v10M442.5 326v5M443.5 296v17M443.5 315v15M444.5 294v18M444.5 318v7M445.5 293v18M445.5 441v7M446.5 293v18M446.5 443v5M447.5 268v1M447.5 298v12M447.5 357v4M447.5 446v3M448.5 265v5M448.5 357v4M448.5 446v4M449.5 267v1M449.5 336v11M449.5 444v7M450.5 331v17M450.5 358v2M450.5 420v9M450.5 441v12M451.5 322v51M451.5 420v14M451.5 444v17M452.5 268v3M452.5 320v62M452.5 389v13M452.5 420v16M452.5 447v19M453.5 265v12M453.5 306v8M453.5 319v87M453.5 412v3M453.5 420v1M453.5 426v11M453.5 448v18M454.5 262v19M454.5 301v106M454.5 411v2M454.5 418v3M454.5 426v13M454.5 449v17M455.5 199v4M455.5 257v29M455.5 295v68M455.5 366v48M455.5 419v2M455.5 422v22M455.5 449v17M456.5 199v5M456.5 254v51M456.5 312v47M456.5 364v82M456.5 453v13M457.5 199v3M457.5 252v193M457.5 457v9M458.5 199v4M458.5 250v7M458.5 262v182M458.5 459v7M459.5 199v6M459.5 250v6M459.5 263v150M459.5 425v22M459.5 456v10M460.5 199v5M460.5 250v6M460.5 264v129M460.5 406v7M460.5 428v38M461.5 250v7M461.5 265v128M461.5 428v38M462.5 250v9M462.5 262v131M462.5 426v14M462.5 447v19M463.5 251v142M463.5 418v17M463.5 447v19M464.5 213v16M464.5 251v21M464.5 284v18M464.5 305v90M464.5 415v17M464.5 444v22M465.5 209v21M465.5 251v17M465.5 289v13M465.5 305v92M465.5 414v17M465.5 442v24M466.5 207v23M466.5 251v16M466.5 291v109M466.5 411v22M466.5 439v27M467.5 208v19M467.5 252v15M467.5 290v67M467.5 358v106M468.5 209v16M468.5 253v26M468.5 286v68M468.5 359v99M469.5 210v14M469.5 253v175M469.5 432v26M470.5 211v13M470.5 252v53M470.5 309v95M470.5 413v48M471.5 214v10M471.5 253v51M471.5 312v7M471.5 334v29M471.5 417v49M472.5 220v3M472.5 253v54M472.5 335v27M472.5 418v48M473.5 238v41M473.5 291v15M473.5 333v29M473.5 421v24M473.5 454v12M474.5 232v30M474.5 332v28M474.5 437v5M474.5 455v11M475.5 232v13M475.5 247v9M475.5 331v16M475.5 460v6M476.5 251v3M476.5 441v7M480.5 382v6M481.5 404v10M482.5 222v4M482.5 405v9M483.5 222v5M485.5 305v7M485.5 318v19M485.5 431v8M485.5 461v5M486.5 301v13M486.5 315v24M486.5 380v4M486.5 430v11M486.5 459v7M487.5 210v1M487.5 273v12M487.5 295v15M487.5 317v23M487.5 382v1M487.5 428v11M487.5 459v7M488.5 207v13M488.5 272v35M488.5 319v20M488.5 413v23M488.5 460v6M489.5 208v13M489.5 285v21M489.5 325v12M489.5 382v3M489.5 411v24M490.5 214v9M490.5 287v16M490.5 410v24M491.5 215v10M491.5 288v6M491.5 411v20M492.5 199v28M492.5 288v4M492.5 336v1M492.5 395v9M493.5 199v31M493.5 332v7M493.5 395v10M494.5 199v35M494.5 330v11M494.5 376v8M494.5 397v7M495.5 199v37M495.5 327v15M495.5 377v8M496.5 199v17M496.5 222v14M496.5 325v17M496.5 380v2M497.5 204v3M497.5 224v13M497.5 324v16M498.5 226v14M498.5 321v13M499.5 228v21M499.5 317v12M500.5 213v5M500.5 232v17M500.5 319v7M501.5 211v9M501.5 234v14M502.5 214v9M502.5 236v6M503.5 199v9M503.5 213v24M504.5 199v38M504.5 362v7M504.5 464v2M505.5 199v37M505.5 357v13M505.5 454v12M506.5 199v36M506.5 276v5M506.5 352v18M507.5 204v32M507.5 277v6M507.5 350v19M508.5 207v31M508.5 353v15M509.5 206v33M509.5 362v6M509.5 462v4M510.5 206v32M510.5 325v14M510.5 365v7M510.5 459v7M511.5 206v32M511.5 323v21M511.5 374v1M511.5 390v7M511.5 459v7M512.5 206v32M512.5 323v25M512.5 392v9M513.5 205v32M513.5 297v6M513.5 323v25M513.5 395v10M514.5 203v10M514.5 225v10M514.5 293v13M514.5 322v9M514.5 364v9M514.5 397v9M514.5 451v12"/>
<path stroke="#0000b5" stroke-width="1" d="M419.5 206v2M419.5 222v2M419.5 226v5M419.5 259v1M419.5 273v2M419.5 279v2M419.5 310v1M419.5 346v5M419.5 396v4M419.5 406v1M420.5 208v1M420.5 214v2M420.5 217v5M420.5 275v1M420.5 279v2M420.5 314v3M420.5 321v1M420.5 326v1M420.5 345v3M420.5 396v3M420.5 402v1M420.5 405v1M420.5 412v1M421.5 212v1M421.5 276v1M421.5 281v4M421.5 398v1M421.5 413v1M422.5 209v2M422.5 276v1M422.5 284v2M422.5 298v2M422.5 397v1M422.5 414v1M423.5 211v2M423.5 275v1M423.5 284v1M423.5 298v1M424.5 212v10M424.5 231v3M424.5 264v2M424.5 275v1M424.5 279v5M424.5 297v1M424.5 344v1M424.5 346v1M424.5 396v1M424.5 414v1M425.5 210v4M425.5 215v4M425.5 221v2M425.5 230v4M425.5 260v1M425.5 263v1M425.5 265v1M425.5 275v8M425.5 297v1M425.5 302v1M425.5 349v1M425.5 396v1M425.5 409v1M425.5 413v1M426.5 204v6M426.5 222v3M426.5 229v5M426.5 242v5M426.5 259v2M426.5 265v1M426.5 274v6M426.5 281v5M426.5 290v1M426.5 294v3M426.5 300v1M426.5 327v2M426.5 332v1M426.5 349v1M426.5 398v1M426.5 404v1M427.5 199v4M427.5 233v6M427.5 255v2M427.5 267v1M427.5 273v1M427.5 299v1M427.5 346v1M428.5 219v2M428.5 225v2M428.5 250v4M428.5 266v1M428.5 284v1M428.5 343v1M429.5 200v5M429.5 212v6M429.5 248v1M429.5 254v1M429.5 266v1M429.5 343v2M429.5 355v4M429.5 383v5M429.5 402v2M429.5 448v13M430.5 199v2M430.5 260v1M430.5 274v1M430.5 324v1M430.5 345v1M430.5 353v1M430.5 359v1M430.5 368v1M430.5 374v1M430.5 401v1M430.5 412v1M430.5 431v6M431.5 199v1M431.5 219v3M431.5 282v1M431.5 345v1M431.5 362v1M431.5 418v6M432.5 199v1M433.5 199v1M433.5 281v1M433.5 339v4M434.5 199v1M434.5 281v1M434.5 339v2M435.5 199v1M435.5 340v1M436.5 199v2M436.5 282v1M436.5 340v1M437.5 199v6M437.5 212v4M437.5 298v1M437.5 339v2M438.5 200v4M438.5 209v4M438.5 300v1M438.5 303v1M438.5 306v1M438.5 334v1M438.5 340v1M439.5 214v1M439.5 301v1M439.5 306v1M439.5 315v1M439.5 326v1M439.5 339v1M440.5 285v1M440.5 306v1M440.5 314v2M440.5 327v1M441.5 316v1M441.5 321v1M441.5 328v1M441.5 338v1M442.5 214v1M442.5 282v1M442.5 284v3M442.5 309v2M442.5 320v1M442.5 333v4M442.5 339v1M443.5 199v1M443.5 213v1M443.5 342v1M444.5 210v9M444.5 288v1M444.5 435v26M445.5 212v7M445.5 288v1M445.5 345v1M445.5 419v5M446.5 212v1M446.5 215v6M446.5 225v1M446.5 267v1M446.5 281v1M446.5 287v1M446.5 347v1M446.5 357v1M446.5 384v11M446.5 400v1M446.5 404v1M446.5 418v10M446.5 464v2M447.5 213v1M447.5 217v1M447.5 238v1M447.5 249v1M447.5 279v2M447.5 369v1M447.5 380v1M447.5 396v1M447.5 400v1M447.5 405v1M447.5 418v7M447.5 461v5M448.5 218v1M448.5 238v1M448.5 286v1M448.5 370v1M448.5 417v1M448.5 463v3M449.5 216v1M449.5 233v2M449.5 237v1M449.5 249v1M449.5 256v1M449.5 264v2M449.5 270v1M449.5 285v1M449.5 347v1M449.5 357v1M449.5 368v1M449.5 371v1M449.5 379v1M449.5 417v1M450.5 218v1M450.5 238v1M450.5 248v1M450.5 256v2M450.5 264v4M450.5 280v3M450.5 349v1M450.5 356v1M450.5 363v3M450.5 373v2M450.5 379v1M450.5 394v1M450.5 419v1M451.5 240v6M451.5 398v4M452.5 412v2M452.5 419v1M453.5 406v1M453.5 416v3M454.5 408v2M455.5 239v7M456.5 234v12M457.5 233v11M458.5 234v8M459.5 220v6M460.5 218v9M461.5 218v7M462.5 239v4M463.5 238v6M464.5 238v6M465.5 240v2M474.5 206v6M475.5 199v13M476.5 199v3M478.5 458v5M479.5 230v2M479.5 302v7M480.5 300v8M480.5 439v6M481.5 302v2M481.5 348v6M481.5 436v11M482.5 283v10M482.5 348v8M482.5 437v10M483.5 281v17M483.5 364v8M484.5 282v15M485.5 286v6M490.5 256v28M491.5 241v2M491.5 254v4M491.5 282v4M492.5 241v2M492.5 254v2M492.5 284v2M493.5 254v2M493.5 284v2M493.5 303v16M493.5 425v40M494.5 254v4M494.5 282v4M494.5 304v13M494.5 421v3M495.5 256v28M495.5 419v2M496.5 418v2M497.5 418v2M498.5 418v2M499.5 288v13M499.5 348v8M499.5 418v2M500.5 285v19M500.5 348v9M500.5 418v2M501.5 288v18M501.5 350v5M501.5 419v2M502.5 290v18M502.5 421v3M503.5 290v21M503.5 425v40M504.5 264v1M504.5 299v18M505.5 261v6M505.5 308v19M505.5 378v6M506.5 258v10M506.5 314v14M506.5 377v7M507.5 256v13M507.5 320v5M507.5 377v7M508.5 255v14M508.5 379v3M509.5 256v12M513.5 246v15M513.5 425v8M514.5 245v17M514.5 424v10"/>
<path stroke="#0000cf" stroke-width="1" d="M419.5 199v2M419.5 204v2M419.5 224v2M419.5 231v1M419.5 249v10M419.5 260v3M419.5 264v9M419.5 281v7M419.5 296v2M419.5 329v1M419.5 411v1M420.5 207v1M420.5 222v2M420.5 226v4M420.5 250v2M420.5 267v2M420.5 274v1M420.5 281v5M420.5 317v1M420.5 320v1M420.5 327v2M420.5 399v3M421.5 208v1M421.5 217v5M421.5 248v2M421.5 267v1M421.5 275v1M421.5 285v2M421.5 297v2M421.5 399v1M422.5 212v1M422.5 217v4M422.5 246v3M422.5 255v3M422.5 266v3M422.5 275v1M422.5 286v1M422.5 297v1M422.5 398v1M423.5 210v1M423.5 217v6M423.5 231v3M423.5 245v1M423.5 254v6M423.5 264v4M423.5 274v1M423.5 285v1M423.5 297v1M423.5 301v1M423.5 397v1M423.5 414v1M424.5 210v2M424.5 222v2M424.5 229v2M424.5 234v1M424.5 255v5M424.5 266v1M424.5 274v1M424.5 284v1M424.5 296v1M424.5 302v1M424.5 343v1M425.5 199v1M425.5 209v1M425.5 223v2M425.5 228v2M425.5 234v1M425.5 243v2M425.5 258v2M425.5 261v2M425.5 266v1M425.5 274v1M425.5 283v3M425.5 295v2M425.5 303v2M425.5 405v1M425.5 410v1M426.5 199v5M426.5 225v4M426.5 234v2M426.5 239v3M426.5 247v2M426.5 253v6M426.5 266v1M426.5 273v1M426.5 286v4M426.5 291v3M426.5 314v4M426.5 320v1M426.5 348v1M426.5 399v1M426.5 403v1M427.5 310v1M427.5 345v1M428.5 221v4M428.5 227v5M428.5 238v1M428.5 285v1M428.5 296v1M428.5 331v1M428.5 342v1M429.5 205v7M429.5 218v1M429.5 238v1M429.5 253v1M429.5 313v1M429.5 341v2M429.5 404v3M429.5 411v1M429.5 461v5M430.5 201v3M430.5 213v2M430.5 217v4M430.5 256v4M430.5 266v1M430.5 283v1M430.5 344v1M430.5 354v1M430.5 358v1M430.5 373v1M430.5 437v10M431.5 200v2M431.5 246v1M431.5 264v2M431.5 276v1M431.5 317v2M431.5 344v1M431.5 360v2M431.5 424v6M432.5 200v1M432.5 243v1M432.5 279v1M432.5 343v2M432.5 413v4M433.5 200v1M434.5 200v1M434.5 341v1M435.5 200v2M435.5 215v1M435.5 281v2M436.5 201v3M436.5 213v3M436.5 283v1M436.5 290v5M437.5 205v7M437.5 288v1M437.5 299v1M437.5 304v3M437.5 338v1M438.5 204v5M438.5 287v1M438.5 302v1M438.5 315v2M439.5 199v1M439.5 213v1M439.5 216v1M439.5 286v1M439.5 314v1M439.5 316v1M439.5 321v1M439.5 333v1M439.5 340v1M440.5 214v1M440.5 284v1M440.5 313v1M440.5 316v1M440.5 320v1M440.5 335v5M441.5 214v1M441.5 217v1M441.5 282v1M441.5 307v1M441.5 312v1M441.5 317v1M441.5 320v1M441.5 329v1M441.5 337v1M441.5 339v1M441.5 409v1M442.5 217v1M442.5 281v1M443.5 200v2M443.5 211v2M443.5 281v2M443.5 287v1M443.5 462v4M444.5 344v1M444.5 423v12M445.5 219v1M445.5 279v3M445.5 418v1M446.5 213v2M446.5 226v1M446.5 266v1M446.5 268v1M446.5 278v1M446.5 348v1M446.5 383v1M446.5 395v2M446.5 399v1M446.5 405v1M447.5 214v1M447.5 216v1M447.5 229v1M447.5 235v1M447.5 258v1M447.5 278v1M447.5 281v1M447.5 286v1M447.5 348v1M447.5 364v1M447.5 368v1M447.5 379v1M447.5 417v1M448.5 215v1M448.5 230v1M448.5 235v1M448.5 258v1M448.5 368v1M448.5 378v1M448.5 395v1M449.5 217v2M449.5 238v1M449.5 257v1M449.5 263v1M449.5 271v1M449.5 284v1M449.5 363v1M449.5 372v1M449.5 378v1M449.5 394v1M450.5 239v1M450.5 258v6M450.5 355v1M450.5 375v4M450.5 395v1M450.5 413v2M451.5 405v1M451.5 412v2M451.5 419v1M452.5 411v1M452.5 414v1M453.5 410v1M491.5 258v24M492.5 256v28M493.5 256v28M494.5 258v24M494.5 424v8M494.5 458v8M495.5 421v3M496.5 420v2M497.5 420v2M498.5 420v1M499.5 420v2M500.5 420v2M501.5 421v3M502.5 424v8M502.5 458v8"/>
<path stroke="#0000e9" stroke-width="1" d="M419.5 201v3M419.5 232v1M419.5 239v4M419.5 246v3M419.5 263v1M419.5 288v3M419.5 293v3M419.5 298v1M419.5 309v1M419.5 345v1M420.5 199v1M420.5 206v1M420.5 224v2M420.5 230v1M420.5 248v2M420.5 252v9M420.5 265v2M420.5 269v2M420.5 272v2M420.5 286v2M420.5 296v2M420.5 313v1M420.5 318v2M420.5 406v1M420.5 411v1M421.5 207v1M421.5 213v1M421.5 216v1M421.5 222v9M421.5 246v2M421.5 254v5M421.5 266v1M421.5 268v2M421.5 274v1M421.5 287v2M421.5 296v1M421.5 343v1M421.5 400v1M421.5 402v4M421.5 412v1M422.5 199v1M422.5 208v1M422.5 221v3M422.5 229v3M422.5 244v2M422.5 249v1M422.5 254v1M422.5 258v2M422.5 264v2M422.5 269v1M422.5 273v2M422.5 287v2M422.5 296v1M422.5 300v1M423.5 199v1M423.5 209v1M423.5 213v1M423.5 216v1M423.5 223v2M423.5 229v2M423.5 234v1M423.5 243v2M423.5 246v4M423.5 260v1M423.5 263v1M423.5 268v1M423.5 273v1M423.5 286v2M423.5 296v1M423.5 342v1M424.5 199v1M424.5 209v1M424.5 224v5M424.5 235v1M424.5 242v5M424.5 253v2M424.5 260v1M424.5 263v1M424.5 267v1M424.5 273v1M424.5 285v2M424.5 289v2M424.5 295v1M424.5 303v1M424.5 397v1M424.5 405v3M425.5 200v2M425.5 206v3M425.5 225v3M425.5 235v1M425.5 241v2M425.5 245v2M425.5 254v4M425.5 267v1M425.5 273v1M425.5 286v9M425.5 305v2M425.5 321v3M425.5 348v1M425.5 397v1M425.5 404v1M425.5 411v2M426.5 236v3M426.5 249v4M426.5 267v2M426.5 272v1M426.5 301v1M426.5 313v1M426.5 318v2M426.5 333v1M426.5 400v3M427.5 268v1M427.5 272v1M427.5 333v1M428.5 232v1M428.5 237v1M428.5 286v4M428.5 294v2M428.5 297v1M428.5 311v1M429.5 219v1M429.5 284v1M429.5 327v1M430.5 204v9M430.5 215v2M430.5 221v1M430.5 238v1M430.5 247v1M430.5 255v1M430.5 314v1M430.5 325v1M430.5 342v2M430.5 355v1M430.5 357v1M430.5 447v12M431.5 202v11M431.5 218v1M431.5 222v1M431.5 239v1M431.5 263v1M431.5 275v1M431.5 315v2M431.5 319v1M431.5 343v1M431.5 351v1M431.5 367v1M431.5 373v1M431.5 412v1M431.5 430v6M432.5 201v5M432.5 211v2M432.5 220v1M432.5 242v1M432.5 244v2M432.5 339v4M432.5 345v2M432.5 417v6M433.5 201v4M433.5 212v1M433.5 280v1M433.5 338v1M434.5 201v5M434.5 211v3M435.5 202v13M435.5 307v3M435.5 339v1M436.5 204v9M436.5 284v1M436.5 289v1M436.5 295v1M436.5 306v7M436.5 339v1M437.5 287v1M437.5 300v1M437.5 303v1M437.5 307v1M437.5 314v5M437.5 337v1M437.5 341v1M438.5 286v1M438.5 301v1M438.5 307v1M438.5 314v1M438.5 317v1M438.5 333v1M438.5 341v1M439.5 200v1M439.5 212v1M439.5 317v4M439.5 327v1M440.5 199v1M440.5 213v1M440.5 217v1M440.5 317v3M440.5 328v1M440.5 334v1M440.5 409v2M441.5 199v1M441.5 213v1M441.5 318v2M441.5 330v2M441.5 335v2M441.5 410v1M442.5 199v1M442.5 213v1M442.5 340v1M443.5 202v9M443.5 218v1M443.5 343v1M443.5 437v25M444.5 280v2M444.5 287v1M444.5 345v1M444.5 418v5M445.5 220v1M445.5 278v1M445.5 287v1M445.5 346v2M445.5 401v3M446.5 227v4M446.5 250v8M446.5 265v1M446.5 269v1M446.5 282v1M446.5 286v1M446.5 349v1M446.5 363v1M446.5 382v1M446.5 397v2M446.5 406v1M447.5 215v1M447.5 264v1M447.5 282v1M447.5 356v1M447.5 367v1M447.5 370v1M447.5 378v1M447.5 397v3M447.5 406v2M448.5 216v2M448.5 231v1M448.5 263v1M448.5 270v1M448.5 285v1M448.5 364v1M448.5 371v1M448.5 377v1M448.5 402v3M449.5 258v1M449.5 262v1M449.5 272v6M449.5 356v1M449.5 367v1M449.5 373v1M449.5 377v1M449.5 416v1M450.5 240v1M450.5 247v1M450.5 350v2M450.5 354v1M450.5 396v1M450.5 403v3M450.5 412v1M450.5 415v2M450.5 418v1M451.5 414v1M452.5 406v1M452.5 418v1M453.5 407v1M494.5 432v26M495.5 424v4M495.5 462v4M496.5 422v3M496.5 465v1M497.5 422v2M498.5 421v2M499.5 422v2M500.5 422v3M500.5 465v1M501.5 424v4M501.5 462v4M502.5 432v26"/>
<path stroke="#0019f3" stroke-width="1" d="M419.5 233v1M419.5 237v2M419.5 243v3M419.5 291v2M419.5 299v2M419.5 308v1M420.5 200v1M420.5 205v1M420.5 231v1M420.5 241v1M420.5 246v2M420.5 261v4M420.5 271v1M420.5 288v2M420.5 294v2M420.5 298v1M420.5 312v1M420.5 329v1M420.5 344v1M421.5 199v1M421.5 231v1M421.5 244v2M421.5 250v1M421.5 253v1M421.5 259v2M421.5 264v2M421.5 270v4M421.5 289v1M421.5 295v1M421.5 299v1M421.5 323v4M421.5 401v1M421.5 406v1M421.5 411v1M422.5 207v1M422.5 224v3M422.5 232v3M422.5 242v2M422.5 260v4M422.5 270v3M422.5 289v2M422.5 295v1M422.5 342v1M422.5 399v1M422.5 403v4M422.5 413v1M423.5 200v1M423.5 208v1M423.5 225v2M423.5 235v1M423.5 242v1M423.5 250v1M423.5 253v1M423.5 269v4M423.5 288v4M423.5 295v1M423.5 302v1M423.5 398v1M423.5 404v4M424.5 200v2M424.5 208v1M424.5 236v1M424.5 241v1M424.5 247v1M424.5 252v1M424.5 268v2M424.5 272v1M424.5 287v2M424.5 291v4M424.5 304v2M424.5 342v1M424.5 404v1M424.5 408v1M424.5 413v1M425.5 202v4M425.5 236v5M425.5 247v1M425.5 253v1M425.5 268v1M425.5 272v1M425.5 320v1M425.5 324v1M425.5 330v3M426.5 269v3M426.5 302v1M426.5 304v4M426.5 312v1M426.5 347v1M427.5 269v3M427.5 300v1M427.5 309v1M427.5 344v1M428.5 233v1M428.5 267v1M428.5 273v1M428.5 290v4M428.5 332v1M428.5 341v1M429.5 225v6M429.5 273v1M430.5 254v1M430.5 273v1M430.5 284v1M430.5 340v2M430.5 356v1M430.5 369v1M430.5 372v1M430.5 402v1M430.5 459v7M431.5 213v1M431.5 223v1M431.5 232v2M431.5 238v1M431.5 262v1M431.5 266v1M431.5 314v1M431.5 320v5M431.5 341v2M431.5 359v1M431.5 402v1M431.5 436v9M432.5 206v5M432.5 219v1M432.5 221v2M432.5 232v2M432.5 241v1M432.5 246v1M432.5 278v1M432.5 282v1M432.5 316v2M432.5 347v3M432.5 373v30M432.5 412v1M432.5 423v6M433.5 205v7M433.5 306v5M433.5 343v1M433.5 413v2M434.5 206v5M434.5 214v1M434.5 280v1M434.5 282v1M434.5 304v10M434.5 338v1M435.5 283v1M435.5 304v3M435.5 310v11M435.5 341v1M436.5 281v1M436.5 288v1M436.5 296v1M436.5 304v2M436.5 313v8M436.5 341v1M437.5 283v2M437.5 301v2M437.5 308v6M437.5 319v1M437.5 336v1M438.5 216v1M438.5 313v1M438.5 318v2M438.5 324v3M438.5 332v1M439.5 201v3M439.5 209v3M439.5 285v1M439.5 313v1M439.5 328v1M439.5 332v1M440.5 200v1M440.5 212v1M440.5 218v1M440.5 283v1M440.5 333v1M440.5 340v1M441.5 218v1M441.5 281v1M441.5 308v1M441.5 311v1M441.5 332v3M442.5 200v1M442.5 212v1M442.5 218v1M442.5 409v1M442.5 464v2M443.5 280v1M443.5 283v1M443.5 286v1M443.5 344v2M443.5 426v11M444.5 219v1M444.5 279v1M444.5 282v1M444.5 346v1M445.5 221v2M445.5 266v2M445.5 282v1M445.5 348v2M445.5 359v2M445.5 390v2M445.5 399v2M445.5 404v1M446.5 231v1M446.5 236v3M446.5 258v1M446.5 277v1M446.5 356v1M446.5 380v2M446.5 407v1M447.5 230v1M447.5 239v1M447.5 259v1M447.5 277v1M447.5 285v1M447.5 408v1M448.5 234v1M448.5 239v1M448.5 259v1M448.5 348v1M448.5 356v1M448.5 367v1M448.5 396v1M448.5 405v1M448.5 416v1M449.5 239v1M449.5 248v1M449.5 259v3M449.5 278v3M449.5 283v1M449.5 348v1M449.5 364v1M449.5 366v1M449.5 374v3M449.5 395v1M449.5 413v3M450.5 241v1M450.5 246v1M450.5 352v2M450.5 397v1M450.5 402v1M450.5 411v1M450.5 417v1M451.5 411v1M451.5 415v1M452.5 415v1M453.5 408v2M495.5 428v34M496.5 425v5M496.5 460v5M497.5 424v3M497.5 463v3M498.5 423v3M498.5 464v2M499.5 424v3M499.5 463v3M500.5 425v5M500.5 460v5M501.5 428v34"/>
<path stroke="#0033fc" stroke-width="1" d="M419.5 234v3M419.5 301v3M419.5 307v1M419.5 330v1M419.5 407v4M420.5 201v4M420.5 232v2M420.5 238v3M420.5 242v4M420.5 290v4M420.5 299v1M420.5 407v4M421.5 200v1M421.5 206v1M421.5 214v2M421.5 232v2M421.5 240v4M421.5 261v3M421.5 290v5M421.5 321v2M421.5 407v4M422.5 200v1M422.5 213v1M422.5 216v1M422.5 227v2M422.5 235v2M422.5 241v1M422.5 291v4M422.5 400v3M422.5 407v6M423.5 201v1M423.5 207v1M423.5 214v2M423.5 227v2M423.5 236v2M423.5 241v1M423.5 261v2M423.5 292v3M423.5 303v1M423.5 399v5M423.5 408v6M424.5 202v1M424.5 207v1M424.5 237v4M424.5 248v4M424.5 261v2M424.5 270v2M424.5 306v1M424.5 398v6M424.5 409v4M425.5 248v5M425.5 269v3M425.5 307v1M425.5 325v1M425.5 329v1M425.5 333v1M425.5 347v1M425.5 398v6M426.5 303v1M426.5 308v4M426.5 334v1M427.5 308v1M427.5 334v1M427.5 343v1M428.5 234v1M428.5 236v1M428.5 298v1M428.5 307v4M428.5 333v6M428.5 340v1M429.5 220v1M429.5 224v1M429.5 231v1M429.5 237v1M429.5 249v1M429.5 252v1M429.5 267v1M429.5 285v1M429.5 303v10M429.5 328v13M429.5 407v1M429.5 410v1M430.5 222v1M430.5 230v3M430.5 237v1M430.5 267v1M430.5 304v10M430.5 326v14M430.5 370v2M431.5 231v1M431.5 234v1M431.5 247v1M431.5 274v1M431.5 283v1M431.5 304v10M431.5 325v16M431.5 445v15M432.5 231v1M432.5 234v1M432.5 240v1M432.5 303v13M432.5 318v1M432.5 325v14M432.5 365v2M432.5 429v7M433.5 213v1M433.5 282v1M433.5 303v3M433.5 311v8M433.5 325v13M433.5 411v2M433.5 415v7M434.5 302v2M434.5 314v24M435.5 280v1M435.5 302v2M435.5 321v18M436.5 216v1M436.5 285v3M436.5 301v3M436.5 321v18M437.5 216v1M437.5 282v1M437.5 285v2M437.5 320v16M438.5 285v1M438.5 308v5M438.5 320v4M438.5 327v5M439.5 204v5M439.5 217v1M439.5 307v6M439.5 329v3M439.5 341v1M439.5 410v1M440.5 201v1M440.5 211v1M440.5 219v1M440.5 282v1M440.5 307v6M440.5 329v4M440.5 411v1M441.5 200v1M441.5 212v1M441.5 219v1M441.5 309v2M441.5 340v1M441.5 408v1M442.5 201v2M442.5 210v2M442.5 341v1M442.5 344v2M442.5 410v1M442.5 438v26M443.5 219v1M443.5 285v1M443.5 346v1M443.5 417v9M444.5 220v1M444.5 347v1M445.5 265v1M445.5 268v2M445.5 277v1M445.5 286v1M445.5 350v1M445.5 357v2M445.5 361v1M445.5 388v2M445.5 392v7M445.5 405v1M446.5 235v1M446.5 264v1M446.5 270v1M446.5 283v1M446.5 285v1M446.5 350v1M446.5 364v1M446.5 367v3M446.5 379v1M446.5 408v2M446.5 417v1M447.5 231v1M447.5 234v1M447.5 263v1M447.5 270v1M447.5 283v2M447.5 349v1M447.5 365v2M447.5 409v1M448.5 232v2M448.5 248v1M448.5 260v3M448.5 277v4M448.5 284v1M448.5 376v1M448.5 401v1M448.5 406v2M449.5 281v2M449.5 365v1M449.5 404v3M449.5 411v2M450.5 242v1M450.5 245v1M450.5 398v4M451.5 406v1M451.5 416v1M451.5 418v1M452.5 410v1M452.5 416v2M496.5 430v30M497.5 427v36M498.5 426v38M499.5 427v36M500.5 430v30"/>
<path stroke="#0058ff" stroke-width="1" d="M419.5 304v3M419.5 344v1M420.5 234v4M420.5 300v1M420.5 311v1M421.5 201v1M421.5 205v1M421.5 234v6M421.5 300v1M421.5 316v1M421.5 320v1M421.5 327v2M421.5 342v1M422.5 201v1M422.5 206v1M422.5 237v2M422.5 301v1M422.5 322v3M422.5 341v1M423.5 238v1M423.5 304v3M423.5 341v1M424.5 203v4M424.5 307v1M424.5 320v4M424.5 331v2M424.5 341v1M425.5 308v1M425.5 319v1M425.5 326v1M425.5 328v1M425.5 342v3M425.5 346v1M426.5 346v1M427.5 301v1M427.5 306v2M428.5 235v1M428.5 268v1M428.5 272v1M428.5 299v1M428.5 301v2M428.5 305v2M428.5 339v1M429.5 221v1M429.5 223v1M429.5 232v1M429.5 250v2M429.5 286v1M429.5 296v1M429.5 408v1M430.5 223v1M430.5 228v2M430.5 233v1M430.5 253v1M430.5 285v1M430.5 403v1M430.5 411v1M431.5 217v1M431.5 235v3M431.5 267v1M431.5 303v1M431.5 352v1M431.5 358v1M431.5 368v1M431.5 372v1M431.5 460v6M432.5 213v1M432.5 218v1M432.5 235v1M432.5 264v2M432.5 277v1M432.5 319v1M432.5 324v1M432.5 360v5M432.5 367v1M432.5 372v1M432.5 411v1M432.5 436v14M433.5 279v1M433.5 302v1M433.5 319v1M433.5 324v1M433.5 344v1M433.5 410v1M433.5 422v9M434.5 342v1M434.5 410v6M435.5 284v1M435.5 301v1M436.5 297v2M436.5 300v1M439.5 218v1M439.5 284v1M439.5 409v1M439.5 411v2M440.5 202v2M440.5 209v2M440.5 408v1M440.5 412v1M441.5 201v2M441.5 210v2M441.5 345v1M441.5 411v1M441.5 453v13M442.5 203v7M442.5 219v1M442.5 280v1M442.5 342v2M442.5 346v1M442.5 408v1M442.5 424v14M443.5 284v1M443.5 347v1M443.5 409v1M444.5 286v1M444.5 348v2M444.5 401v4M444.5 409v1M444.5 417v1M445.5 223v1M445.5 229v3M445.5 264v1M445.5 270v1M445.5 351v1M445.5 356v1M445.5 362v1M445.5 381v7M445.5 406v4M445.5 417v1M446.5 232v1M446.5 234v1M446.5 239v1M446.5 259v1M446.5 284v1M446.5 355v1M446.5 366v1M447.5 232v2M447.5 260v1M447.5 371v1M447.5 377v1M447.5 416v1M448.5 276v1M448.5 281v3M448.5 365v2M448.5 372v1M448.5 397v1M448.5 400v1M448.5 408v4M448.5 414v2M449.5 240v1M449.5 396v1M449.5 403v1M449.5 410v1M450.5 243v2M450.5 406v1M450.5 410v1M451.5 410v1M451.5 417v1M452.5 407v1"/>
<path stroke="#0083ff" stroke-width="1" d="M419.5 331v1M420.5 301v10M420.5 330v1M421.5 202v3M421.5 251v2M421.5 301v15M421.5 317v3M421.5 329v2M422.5 202v1M422.5 205v1M422.5 214v2M422.5 239v2M422.5 250v1M422.5 253v1M422.5 302v20M422.5 325v2M423.5 202v1M423.5 206v1M423.5 239v2M423.5 251v2M423.5 307v23M424.5 308v12M424.5 324v7M425.5 309v10M425.5 327v1M425.5 334v1M425.5 341v1M425.5 345v1M426.5 345v1M427.5 302v4M427.5 335v2M427.5 342v1M428.5 269v3M428.5 300v1M428.5 303v2M429.5 222v1M429.5 233v4M429.5 268v5M429.5 287v3M429.5 295v1M429.5 297v1M429.5 409v1M430.5 224v4M430.5 234v3M430.5 248v1M430.5 252v1M430.5 268v5M430.5 286v1M430.5 303v1M430.5 404v3M431.5 214v3M431.5 224v1M431.5 230v1M431.5 273v1M431.5 284v1M431.5 411v1M432.5 214v4M432.5 223v1M432.5 230v1M432.5 236v1M432.5 239v1M432.5 320v1M432.5 323v1M432.5 350v1M432.5 450v13M433.5 214v3M433.5 231v2M433.5 320v1M433.5 323v1M433.5 345v1M433.5 431v7M434.5 215v2M434.5 283v1M434.5 409v1M434.5 416v2M434.5 420v4M435.5 216v2M435.5 290v4M435.5 410v3M436.5 217v1M436.5 299v1M436.5 411v2M437.5 217v1M437.5 342v1M437.5 411v2M438.5 217v1M438.5 283v2M438.5 342v1M438.5 410v3M439.5 219v1M439.5 283v1M440.5 204v5M440.5 220v1M440.5 341v1M441.5 203v7M441.5 341v1M441.5 344v1M441.5 346v1M441.5 407v1M441.5 412v1M441.5 434v19M442.5 347v1M442.5 407v1M442.5 411v1M442.5 416v8M443.5 220v1M443.5 279v1M443.5 348v2M443.5 407v2M443.5 410v1M444.5 278v1M444.5 283v3M444.5 350v3M444.5 388v7M444.5 398v3M444.5 405v4M444.5 410v2M445.5 283v3M445.5 352v4M445.5 363v1M445.5 380v1M445.5 410v2M446.5 233v1M446.5 249v1M446.5 263v1M446.5 351v1M446.5 365v1M446.5 370v1M446.5 378v1M446.5 410v2M446.5 416v1M447.5 240v1M447.5 248v1M447.5 261v2M447.5 271v1M447.5 276v1M447.5 410v3M447.5 415v1M448.5 240v8M448.5 271v5M448.5 373v1M448.5 375v1M448.5 398v2M448.5 412v2M449.5 241v7M449.5 349v1M449.5 355v1M449.5 397v1M449.5 402v1M449.5 409v1M452.5 409v1"/>
<path stroke="#00afff" stroke-width="1" d="M419.5 332v12M420.5 331v13M421.5 331v11M422.5 203v2M422.5 327v1M422.5 332v9M423.5 203v3M423.5 330v11M424.5 333v8M425.5 335v6M426.5 335v10M427.5 337v5M429.5 290v1M429.5 294v1M430.5 249v1M430.5 287v2M430.5 407v4M431.5 261v1M431.5 268v1M431.5 353v1M431.5 357v1M431.5 403v1M431.5 410v1M432.5 237v2M432.5 247v1M432.5 263v1M432.5 266v1M432.5 276v1M432.5 283v1M432.5 321v2M432.5 359v1M432.5 368v1M432.5 410v1M432.5 463v3M433.5 217v1M433.5 219v3M433.5 230v1M433.5 233v2M433.5 321v2M433.5 346v1M433.5 409v1M433.5 438v4M434.5 217v1M434.5 279v1M434.5 301v1M434.5 418v2M434.5 424v3M435.5 285v1M435.5 288v2M435.5 294v1M436.5 280v1M439.5 342v1M439.5 408v1M440.5 344v3M440.5 406v2M441.5 220v1M441.5 343v1M441.5 347v2M441.5 406v1M441.5 429v5M442.5 348v2M442.5 404v3M442.5 412v4M443.5 350v4M443.5 387v8M443.5 399v8M443.5 411v6M444.5 221v1M444.5 353v10M444.5 379v9M444.5 395v3M444.5 412v5M445.5 224v1M445.5 228v1M445.5 232v1M445.5 251v3M445.5 255v4M445.5 263v1M445.5 271v1M445.5 364v1M445.5 366v4M445.5 379v1M445.5 412v5M446.5 260v1M446.5 276v1M446.5 352v1M446.5 354v1M446.5 412v4M447.5 241v1M447.5 275v1M447.5 355v1M447.5 376v1M447.5 413v2M448.5 374v1M449.5 398v1M449.5 400v2M449.5 407v2M450.5 407v3M451.5 407v3M452.5 408v1"/>
<path stroke="#0bccf5" stroke-width="1" d="M422.5 328v4M429.5 291v3M429.5 302v1M430.5 250v2M430.5 289v1M430.5 295v3M431.5 225v1M431.5 229v1M431.5 269v1M431.5 272v1M431.5 285v1M431.5 354v3M431.5 369v3M431.5 404v6M432.5 224v1M432.5 229v1M432.5 267v1M432.5 302v1M432.5 351v8M432.5 369v3M432.5 403v7M433.5 229v1M433.5 235v1M433.5 243v3M433.5 278v1M433.5 283v1M433.5 347v62M433.5 442v6M434.5 343v3M434.5 408v1M434.5 427v3M435.5 279v1M435.5 286v2M435.5 295v1M435.5 300v1M435.5 342v3M435.5 409v1M435.5 413v3M436.5 342v3M436.5 409v2M437.5 281v1M437.5 343v3M437.5 408v3M438.5 218v1M438.5 343v4M438.5 407v3M439.5 220v1M439.5 343v5M439.5 363v16M439.5 385v12M439.5 402v6M440.5 281v1M440.5 342v2M440.5 347v2M440.5 362v10M440.5 385v10M440.5 402v4M440.5 456v10M441.5 280v1M441.5 342v1M441.5 349v1M441.5 362v8M441.5 385v9M441.5 401v5M441.5 424v5M442.5 220v1M442.5 350v4M442.5 361v8M442.5 385v10M442.5 400v4M443.5 354v15M443.5 379v8M443.5 395v4M444.5 263v8M444.5 363v1M444.5 365v4M445.5 227v1M445.5 254v1M445.5 259v4M445.5 272v1M445.5 276v1M445.5 365v1M445.5 378v1M446.5 261v2M446.5 271v1M446.5 353v1M446.5 377v1M447.5 272v1M447.5 350v2M447.5 372v1M448.5 349v3M448.5 354v2M449.5 350v5M449.5 399v1"/>
<path stroke="#1de2e6" stroke-width="1" d="M422.5 251v2M429.5 298v1M430.5 290v2M430.5 294v1M431.5 226v3M431.5 270v2M431.5 286v6M431.5 295v2M432.5 225v1M432.5 228v1M432.5 275v1M433.5 218v1M433.5 222v1M433.5 228v1M433.5 236v1M433.5 242v1M433.5 246v1M433.5 264v2M433.5 448v8M434.5 284v1M434.5 430v4M435.5 296v1M435.5 345v1M435.5 408v1M435.5 416v4M436.5 345v1M436.5 408v1M438.5 282v1M438.5 347v3M438.5 404v3M439.5 282v1M439.5 348v15M439.5 379v6M439.5 397v5M440.5 221v1M440.5 349v13M440.5 372v13M440.5 395v7M440.5 442v14M441.5 350v12M441.5 370v15M441.5 394v7M441.5 418v6M442.5 279v1M442.5 354v7M442.5 369v16M442.5 395v5M443.5 221v1M443.5 369v10M444.5 222v1M444.5 261v2M444.5 271v2M444.5 277v1M444.5 364v1M444.5 369v10M445.5 225v2M445.5 233v1M445.5 250v1M445.5 370v8M446.5 371v6M447.5 247v1M447.5 273v2M447.5 352v3M447.5 373v3M448.5 352v2"/>
<path stroke="#3df2c5" stroke-width="1" d="M430.5 292v2M430.5 298v1M431.5 248v1M431.5 254v2M431.5 292v3M431.5 297v1M431.5 302v1M432.5 226v2M432.5 262v1M432.5 268v2M432.5 274v1M432.5 284v1M432.5 290v6M433.5 223v5M433.5 237v1M433.5 241v1M433.5 263v1M433.5 266v1M433.5 277v1M433.5 293v1M433.5 301v1M433.5 456v10M434.5 230v1M434.5 278v1M434.5 289v6M434.5 346v1M434.5 407v1M434.5 434v4M435.5 297v3M435.5 420v4M436.5 279v1M437.5 346v1M437.5 407v1M438.5 219v1M438.5 350v54M439.5 221v1M440.5 434v8M441.5 221v1M441.5 413v5M443.5 278v1M444.5 258v3M444.5 273v2M444.5 276v1M445.5 234v6M445.5 273v3M446.5 240v1M447.5 242v1"/>
<path stroke="#7af684" stroke-width="1" d="M429.5 299v3M430.5 299v4M431.5 253v1M431.5 256v1M431.5 260v1M431.5 298v4M432.5 248v1M432.5 270v4M432.5 288v2M432.5 296v6M433.5 238v1M433.5 240v1M433.5 247v1M433.5 267v1M433.5 276v1M433.5 289v4M433.5 294v7M434.5 218v1M434.5 227v3M434.5 231v2M434.5 277v1M434.5 285v1M434.5 288v1M434.5 295v6M434.5 347v6M434.5 403v4M434.5 438v12M435.5 218v1M435.5 278v1M435.5 346v2M435.5 406v2M435.5 424v6M436.5 218v1M436.5 346v1M436.5 407v1M436.5 413v2M437.5 218v1M437.5 347v2M437.5 405v2M439.5 453v13M440.5 425v9M441.5 279v1M442.5 221v1M443.5 262v7M444.5 223v1M444.5 229v4M444.5 256v2M444.5 275v1M446.5 272v1M446.5 275v1"/>
<path stroke="#b6fa44" stroke-width="1" d="M432.5 285v1M432.5 287v1M433.5 239v1M433.5 248v1M433.5 268v2M433.5 275v1M433.5 284v1M433.5 288v1M434.5 219v8M434.5 233v3M434.5 263v4M434.5 286v2M434.5 353v1M434.5 402v1M434.5 450v10M435.5 277v1M435.5 348v4M435.5 404v2M435.5 430v7M436.5 278v1M436.5 347v5M436.5 404v3M436.5 415v10M437.5 280v1M437.5 349v9M437.5 398v7M438.5 220v1M439.5 222v1M439.5 436v17M440.5 222v1M440.5 280v1M440.5 413v12M441.5 222v1M442.5 222v1M442.5 278v1M443.5 222v1M443.5 258v4M443.5 269v5M443.5 276v2M444.5 228v1M444.5 233v1M444.5 250v3M444.5 254v2M447.5 243v1M447.5 246v1"/>
<path stroke="#daf522" stroke-width="1" d="M431.5 252v1M431.5 257v1M431.5 259v1M432.5 286v1M433.5 262v1M433.5 270v5M434.5 236v3M434.5 242v5M434.5 262v1M434.5 267v2M434.5 275v2M434.5 354v2M434.5 400v2M434.5 460v3M435.5 223v9M435.5 264v4M435.5 276v1M435.5 352v1M435.5 403v1M435.5 437v1M436.5 276v2M436.5 352v1M436.5 403v1M436.5 425v1M437.5 278v2M437.5 358v40M438.5 221v1M438.5 281v1M439.5 223v1M439.5 281v1M439.5 433v3M440.5 223v2M440.5 279v1M441.5 223v2M441.5 278v1M442.5 223v1M442.5 258v11M442.5 277v1M443.5 223v1M443.5 230v3M443.5 236v5M443.5 255v3M443.5 274v2M444.5 224v1M444.5 227v1M444.5 234v7M444.5 253v1M445.5 240v1M445.5 249v1M446.5 248v1M446.5 273v2"/>
<path stroke="#fef001" stroke-width="1" d="M431.5 249v3M431.5 258v1M432.5 249v13M433.5 249v13M433.5 285v1M433.5 287v1M434.5 239v3M434.5 247v15M434.5 269v6M434.5 356v44M434.5 463v3M435.5 219v4M435.5 232v12M435.5 250v8M435.5 262v2M435.5 268v8M435.5 438v1M436.5 219v14M436.5 235v8M436.5 251v7M436.5 263v13M436.5 353v1M436.5 402v1M436.5 426v2M437.5 219v24M437.5 250v9M437.5 263v7M437.5 274v4M437.5 413v3M438.5 222v23M438.5 249v20M438.5 276v5M439.5 224v44M439.5 277v4M439.5 429v4M440.5 225v43M440.5 277v2M441.5 225v43M441.5 276v2M442.5 224v34M442.5 269v2M442.5 275v2M443.5 224v6M443.5 233v3M443.5 241v14M444.5 225v2M444.5 241v9M445.5 241v8M446.5 241v7M447.5 244v2"/>
<path stroke="#ffc900" stroke-width="1" d="M433.5 286v1M435.5 244v2M435.5 248v2M435.5 258v2M435.5 261v1M435.5 353v1M435.5 402v1M435.5 439v2M436.5 233v2M436.5 243v1M436.5 249v2M436.5 258v1M436.5 262v1M436.5 428v1M437.5 243v2M437.5 248v2M437.5 259v4M437.5 270v4M437.5 416v4M438.5 245v4M438.5 269v3M438.5 273v3M439.5 268v2M439.5 275v2M439.5 416v13M440.5 268v1M440.5 275v2M441.5 268v2M441.5 275v1M442.5 271v1M442.5 273v2"/>
<path stroke="#ffa200" stroke-width="1" d="M435.5 246v2M435.5 260v1M435.5 354v1M435.5 401v1M435.5 441v5M436.5 244v2M436.5 248v1M436.5 259v3M436.5 354v2M436.5 400v2M436.5 429v3M437.5 245v3M437.5 420v4M438.5 272v1M438.5 413v9M438.5 460v6M439.5 270v2M439.5 273v2M439.5 413v3M440.5 269v2M441.5 270v1M442.5 272v1"/>
<path stroke="#fb7600" stroke-width="1" d="M435.5 355v4M435.5 397v4M435.5 446v6M436.5 246v2M436.5 356v12M436.5 388v12M436.5 432v2M437.5 424v5M438.5 422v8M438.5 450v10M439.5 272v1M440.5 271v1M440.5 274v1M441.5 271v1M441.5 274v1"/>
<path stroke="#f24700" stroke-width="1" d="M435.5 359v38M435.5 452v10M436.5 368v20M436.5 434v4M437.5 429v7M438.5 430v20M440.5 272v2M441.5 272v2"/>
<path stroke="#e31a00" stroke-width="1" d="M435.5 462v4M436.5 438v28M437.5 436v30"/>
</g></g>
<text x="462.0" y="148.1" font-size="20" text-anchor="middle" font-weight="bold" font-style="normal" fill="#333">c</text>
<text x="466.5" y="161.5" font-size="9.7" text-anchor="middle" font-weight="bold" font-style="normal" fill="#333">COCO*HoSL</text>
<text x="466.2" y="172.3" font-size="9.7" text-anchor="middle" font-weight="normal" font-style="normal" fill="#444">Sedimentation rate</text>
<text x="468.6" y="182.2" font-size="9.7" text-anchor="middle" font-weight="normal" font-style="normal" fill="#444">(cm/kyr)</text>
<text x="432.4" y="193.4" font-size="9.7" text-anchor="middle" font-weight="bold" font-style="normal" fill="#333">0.5</text>
<line x1="433.90" y1="199.00" x2="433.90" y2="202.00" stroke="#888" stroke-width="0.7"/>
<text x="460.3" y="193.4" font-size="9.7" text-anchor="middle" font-weight="bold" font-style="normal" fill="#333">1</text>
<line x1="460.20" y1="199.00" x2="460.20" y2="202.00" stroke="#888" stroke-width="0.7"/>
<text x="489.0" y="193.4" font-size="9.7" text-anchor="middle" font-weight="bold" font-style="normal" fill="#333">1.5</text>
<line x1="487.40" y1="199.00" x2="487.40" y2="202.00" stroke="#888" stroke-width="0.7"/>
<text x="516.5" y="193.4" font-size="9.7" text-anchor="middle" font-weight="bold" font-style="normal" fill="#333">2</text>
<line x1="514.60" y1="199.00" x2="514.60" y2="202.00" stroke="#888" stroke-width="0.7"/>
<text x="560.8" y="42.6" font-size="9.0" text-anchor="middle" font-weight="bold" font-style="normal" fill="#111">Null Hypothesis Significance Level</text>
<line x1="489.60" y1="57.50" x2="489.60" y2="87.60" stroke="#444" stroke-width="0.9"/>
<line x1="485.30" y1="57.50" x2="489.60" y2="57.50" stroke="#444" stroke-width="0.9"/>
<line x1="485.30" y1="63.52" x2="489.60" y2="63.52" stroke="#444" stroke-width="0.9"/>
<line x1="485.30" y1="69.54" x2="489.60" y2="69.54" stroke="#444" stroke-width="0.9"/>
<line x1="485.30" y1="75.56" x2="489.60" y2="75.56" stroke="#444" stroke-width="0.9"/>
<line x1="485.30" y1="81.58" x2="489.60" y2="81.58" stroke="#444" stroke-width="0.9"/>
<line x1="485.30" y1="87.60" x2="489.60" y2="87.60" stroke="#444" stroke-width="0.9"/>
<line x1="491.40" y1="89.00" x2="614.50" y2="89.00" stroke="#444" stroke-width="0.9"/>
<line x1="491.40" y1="89.00" x2="491.40" y2="93.20" stroke="#444" stroke-width="0.9"/>
<text x="491.4" y="105.4" font-size="8.6" text-anchor="middle" font-weight="normal" font-style="normal" fill="#333">0</text>
<line x1="522.18" y1="89.00" x2="522.18" y2="93.20" stroke="#444" stroke-width="0.9"/>
<text x="522.2" y="105.4" font-size="8.6" text-anchor="middle" font-weight="normal" font-style="normal" fill="#333">1</text>
<line x1="552.96" y1="89.00" x2="552.96" y2="93.20" stroke="#444" stroke-width="0.9"/>
<text x="553.0" y="105.4" font-size="8.6" text-anchor="middle" font-weight="normal" font-style="normal" fill="#333">2</text>
<line x1="583.74" y1="89.00" x2="583.74" y2="93.20" stroke="#444" stroke-width="0.9"/>
<text x="583.7" y="105.4" font-size="8.6" text-anchor="middle" font-weight="normal" font-style="normal" fill="#333">3</text>
<line x1="614.52" y1="89.00" x2="614.52" y2="93.20" stroke="#444" stroke-width="0.9"/>
<text x="614.5" y="105.4" font-size="8.6" text-anchor="middle" font-weight="normal" font-style="normal" fill="#333">4</text>
<text x="554.4" y="122.7" font-size="8.2" text-anchor="middle" font-weight="normal" font-style="normal" fill="#333">Sedimentation Rate (cm/ka)</text>
<text x="461.7" y="72.9" font-size="8.2" text-anchor="middle" font-weight="normal" font-style="normal" fill="#333" transform="rotate(-90 461.7 72.9)">Ho-SL (%)</text>
<text x="479.8" y="57.2" font-size="8.2" text-anchor="middle" font-weight="normal" font-style="normal" fill="#333" transform="rotate(-90 479.8 57.2)">1e+02</text>
<text x="479.8" y="87.0" font-size="8.2" text-anchor="middle" font-weight="normal" font-style="normal" fill="#333" transform="rotate(-90 479.8 87.0)">1e-03</text>
<line x1="491.40" y1="71.20" x2="619.00" y2="71.20" stroke="#222" stroke-width="0.8" stroke-dasharray="1,1.2"/>
<path d="M494.0,66.2 494.3,63.0 495.0,58.2 497.0,57.6 500.0,57.5 502.0,58.3 504.0,59.5 505.5,62.0 506.5,66.0 507.3,71.0 508.0,77.0 508.6,84.0 509.2,87.2 509.8,85.0 510.5,77.0 511.5,71.5 513.0,68.4 515.0,66.0 518.3,64.2 520.5,65.5 523.0,68.8 525.8,70.4 528.0,70.3 531.0,67.0 534.5,64.7 539.0,64.2 544.4,64.0 549.0,65.3 553.0,67.5 556.0,69.5 559.0,71.3 563.0,73.5 566.7,74.6 570.0,75.0 574.0,75.4 578.0,74.3 581.6,73.4 585.0,74.2 589.0,75.4 595.0,75.4 600.0,75.3 602.7,72.4 606.0,72.2 615.0,72.3" fill="none" stroke="#2525f0" stroke-width="1.7" stroke-linejoin="round"/>
<line x1="508.40" y1="52.50" x2="508.40" y2="89.00" stroke="#ff1111" stroke-width="1.3" stroke-dasharray="3,1.3,1.2,1.3"/>
<text x="486.5" y="55.2" font-size="7.8" text-anchor="start" font-weight="bold" font-style="italic" fill="#ee1111">0.561 cm/ka</text>
<text x="551.5" y="25.3" font-size="20" text-anchor="middle" font-weight="bold" font-style="normal" fill="#333">d</text>
<text x="660.3" y="19.2" font-size="14.7" text-anchor="middle" font-weight="bold" font-style="normal" fill="#111">MS</text>
<rect x="540.8" y="200.4" width="111.70000000000005" height="119.20000000000002" fill="none" stroke="#666" stroke-width="0.9"/>
<line x1="540.80" y1="319.10" x2="543.00" y2="319.10" stroke="#666" stroke-width="0.7"/>
<line x1="540.80" y1="311.35" x2="543.00" y2="311.35" stroke="#666" stroke-width="0.7"/>
<line x1="540.80" y1="303.60" x2="543.00" y2="303.60" stroke="#666" stroke-width="0.7"/>
<line x1="540.80" y1="295.85" x2="543.00" y2="295.85" stroke="#666" stroke-width="0.7"/>
<line x1="540.80" y1="288.10" x2="543.00" y2="288.10" stroke="#666" stroke-width="0.7"/>
<line x1="540.80" y1="280.35" x2="543.00" y2="280.35" stroke="#666" stroke-width="0.7"/>
<line x1="540.80" y1="272.60" x2="543.00" y2="272.60" stroke="#666" stroke-width="0.7"/>
<line x1="540.80" y1="264.85" x2="543.00" y2="264.85" stroke="#666" stroke-width="0.7"/>
<line x1="540.80" y1="257.10" x2="543.00" y2="257.10" stroke="#666" stroke-width="0.7"/>
<line x1="540.80" y1="249.35" x2="543.00" y2="249.35" stroke="#666" stroke-width="0.7"/>
<line x1="540.80" y1="241.60" x2="543.00" y2="241.60" stroke="#666" stroke-width="0.7"/>
<line x1="540.80" y1="233.85" x2="543.00" y2="233.85" stroke="#666" stroke-width="0.7"/>
<line x1="540.80" y1="226.10" x2="543.00" y2="226.10" stroke="#666" stroke-width="0.7"/>
<line x1="540.80" y1="218.35" x2="543.00" y2="218.35" stroke="#666" stroke-width="0.7"/>
<line x1="540.80" y1="210.60" x2="543.00" y2="210.60" stroke="#666" stroke-width="0.7"/>
<line x1="540.80" y1="202.85" x2="543.00" y2="202.85" stroke="#666" stroke-width="0.7"/>
<text x="537.2" y="229.3" font-size="8.8" text-anchor="end" font-weight="normal" font-style="normal" fill="#333">0.4</text>
<text x="537.2" y="260.3" font-size="8.8" text-anchor="end" font-weight="normal" font-style="normal" fill="#333">0.2</text>
<text x="537.2" y="291.3" font-size="8.8" text-anchor="end" font-weight="normal" font-style="normal" fill="#333">0</text>
<text x="537.2" y="322.3" font-size="8.8" text-anchor="end" font-weight="normal" font-style="normal" fill="#333">-0.2</text>
<line x1="554.80" y1="319.60" x2="554.80" y2="317.40" stroke="#666" stroke-width="0.7"/>
<line x1="568.50" y1="319.60" x2="568.50" y2="317.40" stroke="#666" stroke-width="0.7"/>
<line x1="582.80" y1="319.60" x2="582.80" y2="317.40" stroke="#666" stroke-width="0.7"/>
<line x1="596.60" y1="319.60" x2="596.60" y2="316.40" stroke="#666" stroke-width="0.7"/>
<line x1="610.50" y1="319.60" x2="610.50" y2="317.40" stroke="#666" stroke-width="0.7"/>
<line x1="624.40" y1="319.60" x2="624.40" y2="317.40" stroke="#666" stroke-width="0.7"/>
<line x1="638.50" y1="319.60" x2="638.50" y2="317.40" stroke="#666" stroke-width="0.7"/>
<path d="M547.6,273.9 548.7,271.4 549.7,285.6 550.9,281.5 552.1,280.6 553.1,281.5 554.3,238.6 555.6,204.2 556.8,245.4 557.1,284.0 558.5,250.4 559.8,265.5 561.5,289.0 562.7,286.5 564.3,284.0 566.0,289.0 567.7,291.5 569.4,289.0 571.1,287.7 572.7,292.4 574.4,289.0 576.1,290.7 577.8,289.8 579.4,284.0 581.1,289.0 582.8,273.9 584.0,284.8 585.3,275.6 587.0,263.8 588.7,284.0 589.9,282.3 591.2,271.4 592.5,284.0 594.1,290.7 595.7,283.1 597.9,276.4 599.6,287.3 600.8,278.9 602.4,267.5 604.1,277.3 605.5,286.5 606.8,284.8 608.0,281.5 609.2,288.2 610.5,293.2 612.5,300.8 613.9,297.4 615.0,295.7 616.4,302.4 617.6,304.1 619.2,295.7 620.9,300.8 622.3,304.1 623.9,305.8 625.6,307.5 627.3,310.5 629.0,309.2 630.7,310.8 632.3,305.0 633.7,307.5 635.4,307.8 637.0,306.6 638.7,308.3 640.4,304.1 642.1,305.0 643.4,307.1 644.9,310.8 646.3,310.0 647.4,305.8 648.8,312.5 650.1,310.8 651.6,310.0" fill="none" stroke="#ff1a1a" stroke-width="0.95" stroke-linejoin="round"/>
<circle cx="555.6" cy="200.4" r="2.5" fill="#222" stroke="#f3efc0" stroke-width="0.7"/>
<text x="562.7" y="208.8" font-size="9.7" text-anchor="start" font-weight="bold" font-style="italic" fill="#333">0.56 cm/kyr</text>
<text x="562.7" y="217.7" font-size="9.7" text-anchor="start" font-weight="bold" font-style="italic" fill="#333"><tspan font-weight="normal" font-style="normal">ρ</tspan> = 0.560</text>
<text x="663.5" y="257.3" font-size="11" text-anchor="middle" font-weight="normal" font-style="italic" fill="#333" transform="rotate(-90 663.5 257.3)">ρ</text>
<text x="537.1" y="175.1" font-size="20" text-anchor="middle" font-weight="bold" font-style="normal" fill="#333">e</text>
<text x="596.0" y="187.1" font-size="9.8" text-anchor="middle" font-weight="bold" font-style="normal" fill="#111">Correlation coefficient</text>
<rect x="540.3" y="345.5" width="112.80000000000007" height="119.60000000000002" fill="none" stroke="#666" stroke-width="0.9"/>
<line x1="546.80" y1="365.50" x2="653.10" y2="365.50" stroke="#555" stroke-width="0.7" stroke-dasharray="1,1.5"/>
<line x1="546.80" y1="422.40" x2="653.10" y2="422.40" stroke="#555" stroke-width="0.7" stroke-dasharray="1,1.5"/>
<line x1="546.80" y1="432.40" x2="653.10" y2="432.40" stroke="#555" stroke-width="0.7" stroke-dasharray="1,1.5"/>
<line x1="540.30" y1="398.90" x2="653.10" y2="398.90" stroke="#aaa" stroke-width="1.4" stroke-dasharray="5,3"/>
<line x1="540.30" y1="382.82" x2="541.90" y2="382.82" stroke="#777" stroke-width="0.6"/>
<line x1="540.30" y1="373.42" x2="541.90" y2="373.42" stroke="#777" stroke-width="0.6"/>
<line x1="540.30" y1="366.75" x2="541.90" y2="366.75" stroke="#777" stroke-width="0.6"/>
<line x1="540.30" y1="361.58" x2="541.90" y2="361.58" stroke="#777" stroke-width="0.6"/>
<line x1="540.30" y1="357.35" x2="541.90" y2="357.35" stroke="#777" stroke-width="0.6"/>
<line x1="540.30" y1="353.77" x2="541.90" y2="353.77" stroke="#777" stroke-width="0.6"/>
<line x1="540.30" y1="350.67" x2="541.90" y2="350.67" stroke="#777" stroke-width="0.6"/>
<line x1="540.30" y1="347.94" x2="541.90" y2="347.94" stroke="#777" stroke-width="0.6"/>
<line x1="540.30" y1="445.17" x2="541.90" y2="445.17" stroke="#777" stroke-width="0.6"/>
<line x1="540.30" y1="433.51" x2="541.90" y2="433.51" stroke="#777" stroke-width="0.6"/>
<line x1="540.30" y1="425.24" x2="541.90" y2="425.24" stroke="#777" stroke-width="0.6"/>
<line x1="540.30" y1="418.83" x2="541.90" y2="418.83" stroke="#777" stroke-width="0.6"/>
<line x1="540.30" y1="413.59" x2="541.90" y2="413.59" stroke="#777" stroke-width="0.6"/>
<line x1="540.30" y1="409.15" x2="541.90" y2="409.15" stroke="#777" stroke-width="0.6"/>
<line x1="540.30" y1="405.32" x2="541.90" y2="405.32" stroke="#777" stroke-width="0.6"/>
<line x1="540.30" y1="401.93" x2="541.90" y2="401.93" stroke="#777" stroke-width="0.6"/>
<line x1="596.50" y1="465.10" x2="596.50" y2="462.10" stroke="#666" stroke-width="0.8"/>
<path d="M547.1,419.7 548.5,405.8 549.9,448.3 551.2,435.6 552.6,436.5 554.0,355.9 555.7,356.3 557.1,446.3 558.3,355.9 559.7,411.5 561.4,456.5 563.8,445.3 565.9,456.5 567.5,459.6 569.6,454.4 571.6,453.4 573.0,459.6 575.1,455.5 577.1,456.9 578.5,456.5 579.8,446.3 580.8,454.4 582.6,428.9 584.3,449.3 586.3,409.1 588.4,447.3 590.8,424.8 593.5,456.9 595.5,446.3 598.0,435.0 599.6,452.0 602.3,420.7 604.3,444.2 605.7,451.4 607.8,445.3 609.4,456.5 610.8,458.5 612.5,462.6 614.1,460.6 615.9,463.6 618.0,461.0 620.0,463.6 622.7,464.7 627.2,464.7 630.3,464.3 632.3,464.7 636.4,463.8 640.5,463.4 641.9,464.3 645.6,464.7 647.6,464.3 650.7,464.7" fill="none" stroke="#ff1a1a" stroke-width="0.95" stroke-linejoin="round"/>
<circle cx="555.7" cy="355.3" r="2.5" fill="#222" stroke="#f3efc0" stroke-width="0.7"/>
<text x="564.2" y="355.6" font-size="9.7" text-anchor="start" font-weight="bold" font-style="italic" fill="#333">0.56 cm/kyr</text>
<text x="564.2" y="364.5" font-size="9.7" text-anchor="start" font-weight="bold" font-style="italic" fill="#333">H<tspan font-size="6.5">0</tspan> = 0.0005</text>
<text x="663.3" y="402.8" font-size="9.8" text-anchor="middle" font-weight="normal" font-style="normal" fill="#333" transform="rotate(-90 663.3 402.8)">H<tspan font-size="7" dy="3">0</tspan><tspan dy="-3">significance level</tspan></text>
<text x="537.8" y="344.8" font-size="20" text-anchor="middle" font-weight="bold" font-style="normal" fill="#333">f</text>
<text x="595.7" y="338.5" font-size="9.8" text-anchor="middle" font-weight="bold" font-style="normal" fill="#111">Null hypothesis</text>
<text x="538.3" y="401.1" font-size="8.8" text-anchor="end" font-weight="normal" font-style="normal" fill="#333">-2</text>
<text x="519.5" y="471.8" font-size="10" text-anchor="start" font-weight="normal" font-style="normal" fill="#333">10</text>
<text x="533.6" y="466.3" font-size="7" text-anchor="start" font-weight="normal" font-style="normal" fill="#333">0</text>
<rect x="46.00" y="578.70" width="11.80" height="140.50" fill="#f7aaaf"/>
<rect x="76.00" y="578.70" width="30.10" height="140.50" fill="#99daf5"/>
<rect x="124.20" y="578.70" width="19.90" height="140.50" fill="#dcdcde"/>
<rect x="160.10" y="578.70" width="84.70" height="140.50" fill="#f9cba8"/>
<rect x="266.10" y="578.70" width="119.70" height="140.50" fill="#f6a0d4"/>
<text x="49.0" y="573.5" font-size="9.7" text-anchor="middle" font-weight="bold" font-style="normal" fill="#444">E</text>
<text x="91.9" y="573.5" font-size="9.7" text-anchor="middle" font-weight="bold" font-style="normal" fill="#444">e</text>
<text x="133.6" y="573.5" font-size="9.7" text-anchor="middle" font-weight="bold" font-style="normal" fill="#444">T</text>
<text x="202.3" y="573.5" font-size="9.7" text-anchor="middle" font-weight="bold" font-style="normal" fill="#444">Obliquity</text>
<text x="327.3" y="573.5" font-size="9.7" text-anchor="middle" font-weight="bold" font-style="normal" fill="#444">Precession</text>
<clipPath id="clipg"><rect x="35.6" y="578.7" width="375.4" height="140.5"/></clipPath>
<g clip-path="url(#clipg)">
<path d="M36.00,662.47 L40.73,663.12 L45.47,663.77 L50.20,664.42 L54.94,665.07 L59.67,665.73 L64.41,666.38 L69.14,667.03 L73.87,667.68 L78.61,668.34 L83.34,668.99 L88.08,669.64 L92.81,670.30 L97.54,670.95 L102.28,671.60 L107.01,672.26 L111.75,672.92 L116.48,673.59 L121.22,674.25 L125.95,674.92 L130.68,675.58 L135.42,676.24 L140.15,676.90 L144.89,677.55 L149.62,678.20 L154.35,678.84 L159.09,679.47 L163.82,680.10 L168.56,680.71 L173.29,681.32 L178.03,681.91 L182.76,682.51 L187.49,683.09 L192.23,683.68 L196.96,684.25 L201.70,684.83 L206.43,685.39 L211.16,685.95 L215.90,686.51 L220.63,687.06 L225.37,687.61 L230.10,688.15 L234.84,688.69 L239.57,689.22 L244.30,689.75 L249.04,690.27 L253.77,690.79 L258.51,691.30 L263.24,691.81 L267.97,692.31 L272.71,692.81 L277.44,693.31 L282.18,693.80 L286.91,694.29 L291.65,694.77 L296.38,695.25 L301.11,695.73 L305.85,696.21 L310.58,696.67 L315.32,697.13 L320.05,697.57 L324.78,697.99 L329.52,698.39 L334.25,698.78 L338.99,699.16 L343.72,699.54 L348.46,699.90 L353.19,700.26 L357.92,700.60 L362.66,700.94 L367.39,701.27 L372.13,701.59 L376.86,701.89 L381.59,702.19 L386.33,702.47 L391.06,702.74 L395.80,703.00 L400.53,703.25 L405.27,703.48 L410.00,703.69" stroke="#ff5cff" stroke-width="0.8" fill="none" stroke-linejoin="round" stroke-dasharray="3,1.5,1,1.5" stroke-linecap="butt"/>
<path d="M36.00,664.03 L40.73,664.31 L45.47,664.63 L50.20,664.98 L54.94,665.35 L59.67,665.75 L64.41,666.18 L69.14,666.66 L73.87,667.20 L78.61,667.77 L83.34,668.38 L88.08,669.01 L92.81,669.65 L97.54,670.29 L102.28,670.93 L107.01,671.59 L111.75,672.27 L116.48,672.97 L121.22,673.69 L125.95,674.42 L130.68,675.16 L135.42,675.91 L140.15,676.66 L144.89,677.43 L149.62,678.19 L154.35,678.95 L159.09,679.70 L163.82,680.46 L168.56,681.20 L173.29,681.93 L178.03,682.67 L182.76,683.41 L187.49,684.15 L192.23,684.88 L196.96,685.61 L201.70,686.32 L206.43,687.02 L211.16,687.71 L215.90,688.39 L220.63,689.06 L225.37,689.72 L230.10,690.38 L234.84,691.03 L239.57,691.67 L244.30,692.30 L249.04,692.93 L253.77,693.55 L258.51,694.16 L263.24,694.76 L267.97,695.35 L272.71,695.93 L277.44,696.51 L282.18,697.08 L286.91,697.63 L291.65,698.18 L296.38,698.71 L301.11,699.24 L305.85,699.75 L310.58,700.24 L315.32,700.73 L320.05,701.21 L324.78,701.67 L329.52,702.13 L334.25,702.57 L338.99,703.01 L343.72,703.43 L348.46,703.85 L353.19,704.25 L357.92,704.64 L362.66,705.03 L367.39,705.40 L372.13,705.76 L376.86,706.10 L381.59,706.44 L386.33,706.76 L391.06,707.06 L395.80,707.36 L400.53,707.63 L405.27,707.90 L410.00,708.15" stroke="#1ba7e2" stroke-width="2.0" fill="none" stroke-linejoin="round" stroke-linecap="butt"/>
<path d="M36.00,658.01 L40.73,658.27 L45.47,658.56 L50.20,658.88 L54.94,659.23 L59.67,659.60 L64.41,660.01 L69.14,660.49 L73.87,661.02 L78.61,661.60 L83.34,662.22 L88.08,662.86 L92.81,663.51 L97.54,664.17 L102.28,664.81 L107.01,665.48 L111.75,666.17 L116.48,666.88 L121.22,667.61 L125.95,668.36 L130.68,669.11 L135.42,669.88 L140.15,670.64 L144.89,671.41 L149.62,672.18 L154.35,672.95 L159.09,673.70 L163.82,674.45 L168.56,675.18 L173.29,675.90 L178.03,676.61 L182.76,677.32 L187.49,678.02 L192.23,678.72 L196.96,679.41 L201.70,680.09 L206.43,680.77 L211.16,681.44 L215.90,682.11 L220.63,682.78 L225.37,683.44 L230.10,684.10 L234.84,684.75 L239.57,685.40 L244.30,686.04 L249.04,686.68 L253.77,687.31 L258.51,687.93 L263.24,688.54 L267.97,689.14 L272.71,689.73 L277.44,690.31 L282.18,690.88 L286.91,691.44 L291.65,691.98 L296.38,692.52 L301.11,693.04 L305.85,693.54 L310.58,694.04 L315.32,694.52 L320.05,694.99 L324.78,695.44 L329.52,695.88 L334.25,696.30 L338.99,696.72 L343.72,697.12 L348.46,697.51 L353.19,697.89 L357.92,698.26 L362.66,698.61 L367.39,698.96 L372.13,699.28 L376.86,699.59 L381.59,699.89 L386.33,700.17 L391.06,700.44 L395.80,700.69 L400.53,700.93 L405.27,701.14 L410.00,701.34" stroke="#f24848" stroke-width="0.9" fill="none" stroke-linejoin="round" stroke-linecap="butt"/>
<path d="M36.00,652.71 L40.73,653.01 L45.47,653.35 L50.20,653.71 L54.94,654.10 L59.67,654.51 L64.41,654.95 L69.14,655.43 L73.87,655.95 L78.61,656.51 L83.34,657.09 L88.08,657.70 L92.81,658.32 L97.54,658.95 L102.28,659.59 L107.01,660.26 L111.75,660.97 L116.48,661.71 L121.22,662.47 L125.95,663.25 L130.68,664.05 L135.42,664.85 L140.15,665.66 L144.89,666.47 L149.62,667.28 L154.35,668.08 L159.09,668.86 L163.82,669.62 L168.56,670.36 L173.29,671.08 L178.03,671.78 L182.76,672.46 L187.49,673.14 L192.23,673.82 L196.96,674.48 L201.70,675.15 L206.43,675.81 L211.16,676.47 L215.90,677.14 L220.63,677.81 L225.37,678.47 L230.10,679.14 L234.84,679.81 L239.57,680.47 L244.30,681.12 L249.04,681.77 L253.77,682.41 L258.51,683.04 L263.24,683.66 L267.97,684.27 L272.71,684.87 L277.44,685.45 L282.18,686.01 L286.91,686.56 L291.65,687.09 L296.38,687.60 L301.11,688.10 L305.85,688.57 L310.58,689.04 L315.32,689.49 L320.05,689.93 L324.78,690.37 L329.52,690.80 L334.25,691.22 L338.99,691.63 L343.72,692.03 L348.46,692.43 L353.19,692.81 L357.92,693.19 L362.66,693.55 L367.39,693.90 L372.13,694.24 L376.86,694.57 L381.59,694.89 L386.33,695.19 L391.06,695.49 L395.80,695.77 L400.53,696.04 L405.27,696.29 L410.00,696.53" stroke="#4040ff" stroke-width="0.9" fill="none" stroke-linejoin="round" stroke-dasharray="4,1.5,1,1.5" stroke-linecap="butt"/>
<path d="M35.90,577.35 L36.20,591.87 L36.50,592.49 L36.80,593.16 L37.10,595.68 L37.40,597.12 L37.70,601.67 L38.00,604.91 L38.30,603.88 L38.60,602.32 L38.90,597.44 L39.20,599.42 L39.50,608.91 L39.80,607.70 L40.10,609.11 L40.40,604.97 L40.70,599.79 L41.00,605.61 L41.30,606.06 L41.60,607.18 L41.90,607.46 L42.20,611.92 L42.50,614.94 L42.80,620.49 L43.10,623.11 L43.40,628.57 L43.70,628.75 L44.00,634.20 L44.30,638.10 L44.60,640.12 L44.90,644.64 L45.20,649.17 L45.50,648.42 L45.80,647.14 L46.10,646.69 L46.40,643.40 L46.70,642.19 L47.00,639.30 L47.30,638.30 L47.60,637.18" stroke="#1a9a50" stroke-width="1.4" fill="none" stroke-linejoin="round"/>
<path d="M43.40,716.00 L44.15,704.59 L44.90,693.17 L45.65,681.76 L46.40,669.73 L47.15,657.66 L47.90,647.05 L48.65,640.50 L49.40,637.78 L50.15,633.52 L50.90,632.09 L51.65,634.11 L52.40,630.72 L53.15,631.82 L53.90,633.45 L54.65,638.14 L55.40,643.15 L56.15,647.52 L56.90,649.29 L57.65,651.53 L58.40,653.51 L59.15,656.90 L59.90,657.09 L60.65,663.23 L61.40,665.44 L62.15,659.15 L62.90,658.55 L63.65,663.71 L64.40,657.04 L65.15,656.02 L65.90,660.44 L66.65,667.33 L67.40,665.17 L68.15,656.05 L68.90,658.29 L69.65,657.12 L70.40,655.63 L71.15,655.50 L71.90,663.31 L72.65,664.10 L73.40,669.75 L74.15,674.15 L74.90,684.05 L75.65,685.19 L76.40,670.52 L77.15,664.52 L77.90,663.27 L78.65,655.03 L79.40,653.02 L80.15,652.17 L80.90,649.52 L81.65,651.14 L82.40,652.70 L83.15,658.87 L83.90,660.14 L84.65,662.78 L85.40,659.72 L86.15,658.44 L86.90,656.77 L87.65,659.54 L88.40,659.21 L89.15,657.64 L89.90,661.56 L90.65,661.48 L91.40,664.60 L92.15,660.29 L92.90,658.70 L93.65,654.35 L94.40,647.49 L95.15,651.00 L95.90,655.85 L96.65,653.99 L97.40,652.05 L98.15,659.20 L98.90,658.29 L99.65,658.37 L100.40,656.83 L101.15,656.21 L101.90,656.08 L102.65,653.51 L103.40,658.02 L104.15,660.43 L104.90,665.86 L105.65,665.60 L106.40,673.79 L107.15,675.58 L107.90,679.24 L108.65,676.37 L109.40,680.33 L110.15,680.63 L110.90,676.02 L111.65,675.70 L112.40,672.96 L113.15,669.33 L113.90,668.79 L114.65,668.05 L115.40,670.88 L116.15,673.41 L116.90,670.51 L117.65,668.29 L118.40,672.49 L119.15,669.14 L119.90,668.58 L120.65,666.98 L121.40,665.27 L122.15,665.90 L122.90,662.66 L123.65,661.77 L124.40,657.13 L125.15,655.19 L125.90,658.57 L126.65,663.62 L127.40,661.22 L128.15,664.75 L128.90,662.80 L129.65,663.16 L130.40,662.21 L131.15,665.12 L131.90,671.28 L132.65,671.89 L133.40,669.51 L134.15,671.26 L134.90,675.41 L135.65,672.92 L136.40,675.80 L137.15,672.34 L137.90,673.99 L138.65,674.79 L139.40,672.00 L140.15,669.02 L140.90,667.00 L141.65,664.91 L142.40,665.42 L143.15,669.68 L143.90,671.17 L144.65,671.77 L145.40,671.21 L146.15,675.76 L146.90,682.90 L147.65,687.51 L148.40,690.40 L149.15,692.63 L149.90,692.79 L150.65,681.42 L151.40,680.94 L152.15,681.69 L152.90,675.43 L153.65,675.76 L154.40,678.08 L155.15,679.88 L155.90,679.71 L156.65,684.99 L157.40,682.77 L158.15,690.46 L158.90,691.34 L159.65,685.98 L160.40,683.02 L161.15,679.25 L161.90,679.44 L162.65,675.98 L163.40,676.05 L164.15,673.21 L164.90,674.35 L165.65,677.22 L166.40,675.68 L167.15,677.40 L167.90,675.94 L168.65,676.35 L169.40,676.89 L170.15,676.73 L170.90,672.14 L171.65,677.75 L172.40,682.97 L173.15,686.64 L173.90,685.75 L174.65,679.05 L175.40,680.27 L176.15,682.96 L176.90,683.49 L177.65,681.50 L178.40,680.28 L179.15,678.72 L179.90,677.42 L180.65,680.02 L181.40,681.99 L182.15,680.42 L182.90,681.20 L183.65,672.54 L184.40,676.96 L185.15,681.54 L185.90,679.89 L186.65,679.89 L187.40,676.02 L188.15,672.10 L188.90,673.13 L189.65,676.06 L190.40,668.54 L191.15,669.34 L191.90,669.42 L192.65,673.17 L193.40,675.48 L194.15,678.95 L194.90,678.46 L195.65,684.79 L196.40,684.04 L197.15,680.47 L197.90,677.63 L198.65,675.76 L199.40,678.83 L200.15,683.74 L200.90,681.01 L201.65,680.75 L202.40,684.61 L203.15,683.55 L203.90,681.44 L204.65,678.75 L205.40,682.08 L206.15,687.70 L206.90,689.27 L207.65,690.08 L208.40,689.37 L209.15,688.40 L209.90,687.60 L210.65,683.68 L211.40,682.85 L212.15,682.82 L212.90,686.61 L213.65,684.41 L214.40,688.75 L215.15,690.64 L215.90,691.64 L216.65,692.02 L217.40,689.56 L218.15,688.02 L218.90,687.11 L219.65,685.56 L220.40,684.14 L221.15,686.86 L221.90,688.11 L222.65,689.43 L223.40,691.35 L224.15,687.87 L224.90,688.32 L225.65,689.53 L226.40,688.87 L227.15,684.86 L227.90,685.95 L228.65,685.05 L229.40,690.67 L230.15,691.03 L230.90,690.62 L231.65,688.87 L232.40,686.95 L233.15,686.75 L233.90,683.97 L234.65,682.11 L235.40,682.95 L236.15,680.42 L236.90,680.10 L237.65,683.62 L238.40,685.34 L239.15,688.85 L239.90,688.77 L240.65,690.61 L241.40,687.74 L242.15,694.02 L242.90,691.95 L243.65,689.02 L244.40,694.55 L245.15,701.09 L245.90,703.89 L246.65,705.16 L247.40,705.23 L248.15,702.02 L248.90,694.12 L249.65,690.36 L250.40,690.68 L251.15,693.11 L251.90,692.90 L252.65,689.18 L253.40,693.13 L254.15,693.53 L254.90,691.92 L255.65,690.91 L256.40,690.09 L257.15,691.07 L257.90,693.08 L258.65,691.07 L259.40,687.31 L260.15,688.58 L260.90,694.03 L261.65,693.97 L262.40,693.05 L263.15,698.03 L263.90,701.46 L264.65,700.62 L265.40,697.36 L266.15,697.72 L266.90,692.71 L267.65,691.70 L268.40,693.33 L269.15,701.17 L269.90,703.22 L270.65,700.11 L271.40,702.37 L272.15,703.80 L272.90,706.33 L273.65,705.43 L274.40,701.71 L275.15,697.24 L275.90,693.46 L276.65,690.44 L277.40,686.56 L278.15,690.62 L278.90,690.97 L279.65,694.68 L280.40,696.54 L281.15,696.88 L281.90,700.34 L282.65,704.63 L283.40,706.09 L284.15,705.74 L284.90,702.64 L285.65,701.63 L286.40,697.33 L287.15,694.03 L287.90,690.12 L288.65,688.70 L289.40,689.54 L290.15,695.22 L290.90,691.63 L291.65,696.06 L292.40,706.33 L293.15,706.91 L293.90,701.97 L294.65,700.45 L295.40,692.28 L296.15,695.30 L296.90,695.06 L297.65,694.92 L298.40,692.71 L299.15,696.77 L299.90,695.49 L300.65,694.55 L301.40,694.89 L302.15,692.03 L302.90,691.95 L303.65,688.89 L304.40,689.69 L305.15,693.80 L305.90,695.38 L306.65,697.32 L307.40,695.25 L308.15,695.21 L308.90,693.29 L309.65,694.46 L310.40,695.28 L311.15,696.46 L311.90,695.60 L312.65,693.22 L313.40,695.15 L314.15,691.86 L314.90,689.70 L315.65,693.79 L316.40,694.20 L317.15,695.05 L317.90,693.96 L318.65,688.43 L319.40,687.75 L320.15,689.08 L320.90,689.03 L321.65,688.91 L322.40,685.29 L323.15,686.98 L323.90,689.42 L324.65,691.88 L325.40,688.66 L326.15,695.98 L326.90,694.19 L327.65,693.24 L328.40,699.81 L329.15,696.69 L329.90,697.19 L330.65,701.65 L331.40,702.56 L332.15,699.97 L332.90,697.96 L333.65,697.11 L334.40,700.59 L335.15,697.06 L335.90,699.88 L336.65,706.37 L337.40,706.86 L338.15,708.02 L338.90,705.77 L339.65,702.38 L340.40,704.88 L341.15,701.35 L341.90,706.96 L342.65,709.02 L343.40,705.02 L344.15,708.93 L344.90,707.59 L345.65,706.59 L346.40,703.34 L347.15,707.61 L347.90,710.07 L348.65,705.56 L349.40,708.13 L350.15,707.90 L350.90,705.84 L351.65,710.49 L352.40,708.19 L353.15,708.22 L353.90,710.81 L354.65,709.45 L355.40,717.79 L356.15,711.58 L356.90,710.54 L357.65,715.17 L358.40,715.32 L359.15,711.12 L359.90,709.19 L360.65,710.87 L361.40,708.56 L362.15,707.73 L362.90,707.51 L363.65,704.07 L364.40,706.51 L365.15,703.52 L365.90,703.18 L366.65,699.10 L367.40,700.99 L368.15,697.35 L368.90,697.65 L369.65,690.64 L370.40,695.89 L371.15,697.06 L371.90,700.35 L372.65,697.93 L373.40,697.25 L374.15,691.52 L374.90,693.09 L375.65,696.89 L376.40,695.07 L377.15,694.35 L377.90,692.11 L378.65,694.66 L379.40,693.34 L380.15,694.74 L380.90,697.40 L381.65,695.51 L382.40,690.92 L383.15,690.57 L383.90,691.84 L384.65,693.41 L385.40,695.43 L386.15,696.05 L386.90,700.54 L387.65,699.12 L388.40,701.12 L389.15,707.88 L389.90,710.78 L390.65,711.43 L391.40,708.87 L392.15,707.92 L392.90,712.07 L393.65,715.04 L394.40,712.94 L395.15,711.81 L395.90,710.24 L396.65,712.16 L397.40,720.17 L398.15,710.13 L398.90,706.21 L399.65,703.15 L400.40,703.53 L401.15,700.39 L401.90,703.52 L402.65,703.59 L403.40,703.00 L404.15,702.18 L404.90,702.92 L405.65,701.11 L406.40,706.77 L407.15,705.37 L407.90,704.08 L408.65,706.75 L409.40,707.27" stroke="#111" stroke-width="1.25" fill="none" stroke-linejoin="round"/>
</g>
<rect x="35.6" y="578.7" width="372.9" height="140.5" fill="none" stroke="#888" stroke-width="0.8"/>
<line x1="35.60" y1="717.90" x2="37.60" y2="717.90" stroke="#666" stroke-width="0.7"/>
<line x1="35.60" y1="714.87" x2="37.60" y2="714.87" stroke="#666" stroke-width="0.7"/>
<line x1="35.60" y1="712.32" x2="37.60" y2="712.32" stroke="#666" stroke-width="0.7"/>
<line x1="35.60" y1="710.10" x2="37.60" y2="710.10" stroke="#666" stroke-width="0.7"/>
<line x1="35.60" y1="708.15" x2="37.60" y2="708.15" stroke="#666" stroke-width="0.7"/>
<line x1="35.60" y1="706.40" x2="39.10" y2="706.40" stroke="#666" stroke-width="0.7"/>
<line x1="35.60" y1="694.90" x2="37.60" y2="694.90" stroke="#666" stroke-width="0.7"/>
<line x1="35.60" y1="688.17" x2="37.60" y2="688.17" stroke="#666" stroke-width="0.7"/>
<line x1="35.60" y1="683.40" x2="37.60" y2="683.40" stroke="#666" stroke-width="0.7"/>
<line x1="35.60" y1="679.70" x2="37.60" y2="679.70" stroke="#666" stroke-width="0.7"/>
<line x1="35.60" y1="676.67" x2="37.60" y2="676.67" stroke="#666" stroke-width="0.7"/>
<line x1="35.60" y1="674.12" x2="37.60" y2="674.12" stroke="#666" stroke-width="0.7"/>
<line x1="35.60" y1="671.90" x2="37.60" y2="671.90" stroke="#666" stroke-width="0.7"/>
<line x1="35.60" y1="669.95" x2="37.60" y2="669.95" stroke="#666" stroke-width="0.7"/>
<line x1="35.60" y1="668.20" x2="39.10" y2="668.20" stroke="#666" stroke-width="0.7"/>
<line x1="35.60" y1="656.70" x2="37.60" y2="656.70" stroke="#666" stroke-width="0.7"/>
<line x1="35.60" y1="649.97" x2="37.60" y2="649.97" stroke="#666" stroke-width="0.7"/>
<line x1="35.60" y1="645.20" x2="37.60" y2="645.20" stroke="#666" stroke-width="0.7"/>
<line x1="35.60" y1="641.50" x2="37.60" y2="641.50" stroke="#666" stroke-width="0.7"/>
<line x1="35.60" y1="638.47" x2="37.60" y2="638.47" stroke="#666" stroke-width="0.7"/>
<line x1="35.60" y1="635.92" x2="37.60" y2="635.92" stroke="#666" stroke-width="0.7"/>
<line x1="35.60" y1="633.70" x2="37.60" y2="633.70" stroke="#666" stroke-width="0.7"/>
<line x1="35.60" y1="631.75" x2="37.60" y2="631.75" stroke="#666" stroke-width="0.7"/>
<line x1="35.60" y1="630.00" x2="39.10" y2="630.00" stroke="#666" stroke-width="0.7"/>
<line x1="35.60" y1="618.50" x2="37.60" y2="618.50" stroke="#666" stroke-width="0.7"/>
<line x1="35.60" y1="611.77" x2="37.60" y2="611.77" stroke="#666" stroke-width="0.7"/>
<line x1="35.60" y1="607.00" x2="37.60" y2="607.00" stroke="#666" stroke-width="0.7"/>
<line x1="35.60" y1="603.30" x2="37.60" y2="603.30" stroke="#666" stroke-width="0.7"/>
<line x1="35.60" y1="600.27" x2="37.60" y2="600.27" stroke="#666" stroke-width="0.7"/>
<line x1="35.60" y1="597.72" x2="37.60" y2="597.72" stroke="#666" stroke-width="0.7"/>
<line x1="35.60" y1="595.50" x2="37.60" y2="595.50" stroke="#666" stroke-width="0.7"/>
<line x1="35.60" y1="593.55" x2="37.60" y2="593.55" stroke="#666" stroke-width="0.7"/>
<line x1="35.60" y1="591.80" x2="39.10" y2="591.80" stroke="#666" stroke-width="0.7"/>
<line x1="35.60" y1="580.30" x2="37.60" y2="580.30" stroke="#666" stroke-width="0.7"/>
<line x1="408.50" y1="717.90" x2="406.50" y2="717.90" stroke="#666" stroke-width="0.7"/>
<line x1="408.50" y1="714.87" x2="406.50" y2="714.87" stroke="#666" stroke-width="0.7"/>
<line x1="408.50" y1="712.32" x2="406.50" y2="712.32" stroke="#666" stroke-width="0.7"/>
<line x1="408.50" y1="710.10" x2="406.50" y2="710.10" stroke="#666" stroke-width="0.7"/>
<line x1="408.50" y1="708.15" x2="406.50" y2="708.15" stroke="#666" stroke-width="0.7"/>
<line x1="408.50" y1="706.40" x2="405.00" y2="706.40" stroke="#666" stroke-width="0.7"/>
<line x1="408.50" y1="694.90" x2="406.50" y2="694.90" stroke="#666" stroke-width="0.7"/>
<line x1="408.50" y1="688.17" x2="406.50" y2="688.17" stroke="#666" stroke-width="0.7"/>
<line x1="408.50" y1="683.40" x2="406.50" y2="683.40" stroke="#666" stroke-width="0.7"/>
<line x1="408.50" y1="679.70" x2="406.50" y2="679.70" stroke="#666" stroke-width="0.7"/>
<line x1="408.50" y1="676.67" x2="406.50" y2="676.67" stroke="#666" stroke-width="0.7"/>
<line x1="408.50" y1="674.12" x2="406.50" y2="674.12" stroke="#666" stroke-width="0.7"/>
<line x1="408.50" y1="671.90" x2="406.50" y2="671.90" stroke="#666" stroke-width="0.7"/>
<line x1="408.50" y1="669.95" x2="406.50" y2="669.95" stroke="#666" stroke-width="0.7"/>
<line x1="408.50" y1="668.20" x2="405.00" y2="668.20" stroke="#666" stroke-width="0.7"/>
<line x1="408.50" y1="656.70" x2="406.50" y2="656.70" stroke="#666" stroke-width="0.7"/>
<line x1="408.50" y1="649.97" x2="406.50" y2="649.97" stroke="#666" stroke-width="0.7"/>
<line x1="408.50" y1="645.20" x2="406.50" y2="645.20" stroke="#666" stroke-width="0.7"/>
<line x1="408.50" y1="641.50" x2="406.50" y2="641.50" stroke="#666" stroke-width="0.7"/>
<line x1="408.50" y1="638.47" x2="406.50" y2="638.47" stroke="#666" stroke-width="0.7"/>
<line x1="408.50" y1="635.92" x2="406.50" y2="635.92" stroke="#666" stroke-width="0.7"/>
<line x1="408.50" y1="633.70" x2="406.50" y2="633.70" stroke="#666" stroke-width="0.7"/>
<line x1="408.50" y1="631.75" x2="406.50" y2="631.75" stroke="#666" stroke-width="0.7"/>
<line x1="408.50" y1="630.00" x2="405.00" y2="630.00" stroke="#666" stroke-width="0.7"/>
<line x1="408.50" y1="618.50" x2="406.50" y2="618.50" stroke="#666" stroke-width="0.7"/>
<line x1="408.50" y1="611.77" x2="406.50" y2="611.77" stroke="#666" stroke-width="0.7"/>
<line x1="408.50" y1="607.00" x2="406.50" y2="607.00" stroke="#666" stroke-width="0.7"/>
<line x1="408.50" y1="603.30" x2="406.50" y2="603.30" stroke="#666" stroke-width="0.7"/>
<line x1="408.50" y1="600.27" x2="406.50" y2="600.27" stroke="#666" stroke-width="0.7"/>
<line x1="408.50" y1="597.72" x2="406.50" y2="597.72" stroke="#666" stroke-width="0.7"/>
<line x1="408.50" y1="595.50" x2="406.50" y2="595.50" stroke="#666" stroke-width="0.7"/>
<line x1="408.50" y1="593.55" x2="406.50" y2="593.55" stroke="#666" stroke-width="0.7"/>
<line x1="408.50" y1="591.80" x2="405.00" y2="591.80" stroke="#666" stroke-width="0.7"/>
<line x1="408.50" y1="580.30" x2="406.50" y2="580.30" stroke="#666" stroke-width="0.7"/>
<line x1="72.89" y1="719.20" x2="72.89" y2="716.20" stroke="#666" stroke-width="0.7"/>
<line x1="110.18" y1="719.20" x2="110.18" y2="716.20" stroke="#666" stroke-width="0.7"/>
<line x1="147.47" y1="719.20" x2="147.47" y2="716.20" stroke="#666" stroke-width="0.7"/>
<line x1="184.76" y1="719.20" x2="184.76" y2="716.20" stroke="#666" stroke-width="0.7"/>
<line x1="222.05" y1="719.20" x2="222.05" y2="716.20" stroke="#666" stroke-width="0.7"/>
<line x1="259.34" y1="719.20" x2="259.34" y2="716.20" stroke="#666" stroke-width="0.7"/>
<line x1="296.63" y1="719.20" x2="296.63" y2="716.20" stroke="#666" stroke-width="0.7"/>
<line x1="333.92" y1="719.20" x2="333.92" y2="716.20" stroke="#666" stroke-width="0.7"/>
<line x1="371.21" y1="719.20" x2="371.21" y2="716.20" stroke="#666" stroke-width="0.7"/>
<rect x="277.30" y="578.50" width="124.60" height="71.80" fill="#fff" stroke="#444" stroke-width="0.9"/>
<line x1="280.60" y1="586.00" x2="310.10" y2="586.00" stroke="#000" stroke-width="1.3"/>
<text x="313.0" y="589.0" font-size="8.45" text-anchor="start" font-weight="bold" font-style="normal" fill="#222">High-pass Log(ARM)</text>
<line x1="280.60" y1="597.25" x2="310.10" y2="597.25" stroke="#1a9a50" stroke-width="1.3"/>
<text x="313.0" y="600.2" font-size="8.45" text-anchor="start" font-weight="normal" font-style="normal" fill="#222">Log(ARM)</text>
<line x1="280.60" y1="608.50" x2="310.10" y2="608.50" stroke="#ff6cff" stroke-width="0.8" stroke-dasharray="3,1.5,1,1.5"/>
<text x="313.0" y="611.5" font-size="8.45" text-anchor="start" font-weight="normal" font-style="normal" fill="#222">20% median-smoothed</text>
<line x1="280.60" y1="619.75" x2="310.10" y2="619.75" stroke="#1ba7e2" stroke-width="1.6"/>
<text x="313.0" y="622.8" font-size="8.45" text-anchor="start" font-weight="normal" font-style="normal" fill="#222">Robust AR(1) median</text>
<line x1="280.60" y1="631.00" x2="310.10" y2="631.00" stroke="#f24848" stroke-width="0.9"/>
<text x="313.0" y="634.0" font-size="8.45" text-anchor="start" font-weight="normal" font-style="normal" fill="#222">Robust AR(1) 90%</text>
<line x1="280.60" y1="642.25" x2="310.10" y2="642.25" stroke="#4040ff" stroke-width="0.8" stroke-dasharray="4,1.5,1,1.5"/>
<text x="313.0" y="645.2" font-size="8.45" text-anchor="start" font-weight="normal" font-style="normal" fill="#222">Robust AR(1) 99%</text>
<text x="18.5" y="634.2" font-size="9.0" text-anchor="start" font-weight="normal" font-style="normal" fill="#444">10</text>
<text x="28.3" y="630.0" font-size="6.3" text-anchor="start" font-weight="normal" font-style="normal" fill="#444">0</text>
<text x="17.5" y="710.5" font-size="9.0" text-anchor="start" font-weight="normal" font-style="normal" fill="#444">10</text>
<text x="27.3" y="706.3" font-size="6.3" text-anchor="start" font-weight="normal" font-style="normal" fill="#444">-2</text>
<text x="55.6" y="608.0" font-size="9.7" text-anchor="start" font-weight="bold" font-style="italic" fill="#333">0.44 cycles/m; 230 cm</text>
<text x="74.9" y="628.0" font-size="9.7" text-anchor="start" font-weight="bold" font-style="italic" fill="#333">84 cm</text>
<text x="97.4" y="636.8" font-size="9.7" text-anchor="start" font-weight="bold" font-style="italic" fill="#333">61 cm</text>
<text x="125.1" y="647.3" font-size="9.7" text-anchor="start" font-weight="bold" font-style="italic" fill="#333">43 cm</text>
<text x="142.0" y="661.6" font-size="9.7" text-anchor="start" font-weight="bold" font-style="italic" fill="#333">35 cm</text>
<text x="186.4" y="668.3" font-size="9.7" text-anchor="start" font-weight="bold" font-style="italic" fill="#333">24 cm</text>
<text x="229.3" y="663.0" font-size="9.7" text-anchor="start" font-weight="bold" font-style="italic" fill="#333">19 cm</text>
<text x="277.8" y="667.4" font-size="9.7" text-anchor="start" font-weight="bold" font-style="italic" fill="#333">15 cm</text>
<text x="317.2" y="670.6" font-size="9.7" text-anchor="start" font-weight="bold" font-style="italic" fill="#333">13 cm</text>
<text x="355.2" y="666.2" font-size="9.7" text-anchor="start" font-weight="bold" font-style="italic" fill="#333">11.2 cm</text>
<text x="376.2" y="675.6" font-size="9.7" text-anchor="start" font-weight="bold" font-style="italic" fill="#333">10.7 m</text>
<line x1="58.50" y1="611.00" x2="51.50" y2="629.90" stroke="#333" stroke-width="0.8"/>
<path d="M51.12,625.92 L51.50,629.90 L54.38,627.13" stroke="#333" stroke-width="0.8" fill="none" stroke-linejoin="round"/>
<line x1="86.60" y1="630.00" x2="79.90" y2="650.30" stroke="#333" stroke-width="0.8"/>
<path d="M79.38,646.33 L79.90,650.30 L82.68,647.42" stroke="#333" stroke-width="0.8" fill="none" stroke-linejoin="round"/>
<line x1="99.40" y1="638.00" x2="96.50" y2="649.40" stroke="#333" stroke-width="0.8"/>
<path d="M95.70,645.48 L96.50,649.40 L99.07,646.34" stroke="#333" stroke-width="0.8" fill="none" stroke-linejoin="round"/>
<line x1="130.40" y1="649.00" x2="125.70" y2="659.00" stroke="#333" stroke-width="0.8"/>
<path d="M125.66,655.00 L125.70,659.00 L128.81,656.48" stroke="#333" stroke-width="0.8" fill="none" stroke-linejoin="round"/>
<line x1="238.10" y1="666.40" x2="235.20" y2="678.00" stroke="#333" stroke-width="0.8"/>
<path d="M234.39,674.08 L235.20,678.00 L237.76,674.93" stroke="#333" stroke-width="0.8" fill="none" stroke-linejoin="round"/>
<line x1="290.70" y1="671.00" x2="288.60" y2="681.00" stroke="#333" stroke-width="0.8"/>
<path d="M287.64,677.12 L288.60,681.00 L291.04,677.83" stroke="#333" stroke-width="0.8" fill="none" stroke-linejoin="round"/>
<line x1="328.60" y1="673.00" x2="324.50" y2="683.90" stroke="#333" stroke-width="0.8"/>
<path d="M324.14,679.92 L324.50,683.90 L327.40,681.14" stroke="#333" stroke-width="0.8" fill="none" stroke-linejoin="round"/>
<line x1="367.40" y1="669.50" x2="369.50" y2="686.20" stroke="#333" stroke-width="0.8"/>
<path d="M367.32,682.84 L369.50,686.20 L370.78,682.41" stroke="#333" stroke-width="0.8" fill="none" stroke-linejoin="round"/>
<line x1="388.80" y1="677.00" x2="385.80" y2="688.20" stroke="#333" stroke-width="0.8"/>
<path d="M385.05,684.27 L385.80,688.20 L388.41,685.17" stroke="#333" stroke-width="0.8" fill="none" stroke-linejoin="round"/>
<text x="411.0" y="634.2" font-size="9.0" text-anchor="start" font-weight="normal" font-style="normal" fill="#444">10</text>
<text x="27.5" y="545.5" font-size="21" text-anchor="start" font-weight="bold" font-style="normal" fill="#333">g</text>
<text x="47.5" y="557.6" font-size="11.5" text-anchor="start" font-weight="bold" font-style="normal" fill="#111">5<tspan font-style="italic">π</tspan>-MTM-Robust-AR(1): <tspan font-style="italic">ρ</tspan> = 0.7215. S0 = 0.019808; bw = 0.10458</text>
<defs><clipPath id="sph"><rect x="36" y="719" width="372" height="265"/></clipPath><filter id="blursph" x="-2%" y="-2%" width="104%" height="104%"><feGaussianBlur stdDeviation="0.8"/></filter></defs>
<g clip-path="url(#sph)"><g filter="url(#blursph)">
<rect x="34" y="717" width="376" height="270" fill="#7683f0"/>
<path stroke="#7f7fcd" stroke-width="2" d="M37 815v2M37 861v2M37 887v2M39 815v2M39 861v2M65 809v6M71 981v4M73 981v4M77 767v10M79 767v12M87 943v2M91 789v12M93 791v2M93 813v4M93 819v2M95 719v2M97 831v2M99 725v8M101 719v16M103 719v16M105 719v14M105 901v8M111 737v2M113 803v8M117 719v14M119 719v14M119 895v8M121 719v14M123 901v4M125 719v14M127 719v16M129 719v16M129 891v8M131 731v2M131 885v12M135 821v6M135 871v2M137 867v2M137 871v16M139 721v14M139 891v22M139 915v2M141 725v8M141 903v2M141 907v6M141 915v4M143 731v2M147 719v14M149 719v14M151 719v14M151 779v2M151 887v2M151 899v2M151 903v2M153 719v16M155 719v6M157 719v14M159 719v16M159 837v2M161 719v16M161 737v4M163 909v2M163 979v2M163 983v2M165 807v14M165 883v30M165 983v2M167 719v16M167 807v6M167 883v6M167 907v6M169 719v14M169 829v2M169 885v4M171 719v14M175 753v2M175 903v2M177 719v14M177 779v6M177 867v2M177 901v2M179 719v16M179 895v2M179 899v6M181 719v16M181 737v2M181 983v2M183 719v14M183 861v8M183 871v4M183 899v14M183 915v8M183 977v8M185 719v14M185 855v4M185 901v2M191 719v14M193 719v16M195 719v16M197 719v14M199 719v12M201 719v14M211 719v16M213 719v16M215 719v16M217 719v16M219 719v16M221 719v16M223 719v14M225 731v2M229 725v8M231 719v16M233 719v16M235 719v16M237 719v16M239 727v6M243 719v14M245 719v16M247 719v16M249 719v14M253 719v14M255 725v8M257 725v8M259 719v14M265 719v8M267 719v16M269 719v16M271 719v16M273 719v16M275 719v16M277 719v16M279 719v16M281 719v16M283 719v14M285 719v16M287 719v14M289 729v4M293 727v6M295 719v16M297 719v14M299 719v14M303 727v6M305 727v6M305 887v4M307 721v12M309 719v14M311 719v14M313 719v14M315 719v14M317 719v14M319 719v14M321 719v14M323 719v12M325 719v14M327 719v14M329 719v14M333 719v14M335 719v16M337 719v16M343 719v14M345 719v14M347 719v16M349 719v16M351 719v14M353 719v6M357 719v14M359 719v14M363 727v6M365 723v12M367 727v6M373 719v4M375 719v12M377 727v6M379 729v4M381 719v14M383 719v16M385 729v6M389 731v2M391 723v10M399 723v10M401 719v14M403 719v14M405 719v12M407 719v14"/>
<path stroke="#7c7ddd" stroke-width="2" d="M37 723v2M37 727v4M37 741v2M37 747v2M37 759v4M37 809v2M37 813v2M37 827v4M37 863v2M37 869v2M37 889v2M37 933v4M37 963v2M39 721v4M39 727v4M39 813v2M39 827v2M39 855v2M39 881v2M39 887v4M39 933v4M41 721v2M41 727v2M41 773v2M41 801v2M41 813v4M41 861v2M41 867v2M41 895v2M41 935v2M41 955v2M41 967v2M43 755v2M43 801v2M43 955v2M43 967v2M43 973v2M45 781v2M45 967v2M65 815v2M67 775v4M79 763v4M79 789v2M79 795v4M87 939v4M89 719v2M89 725v2M93 719v16M93 793v2M93 797v4M93 805v4M93 811v2M93 817v2M93 821v2M93 825v4M95 721v14M97 719v16M97 827v4M97 833v2M99 719v6M99 733v2M101 735v2M101 877v2M103 735v4M103 927v2M105 733v2M105 891v2M105 899v2M105 909v2M107 719v16M107 737v2M107 887v2M107 891v2M109 719v16M109 737v2M111 719v16M111 823v2M111 827v2M113 719v16M113 799v4M113 811v2M115 719v16M117 733v2M119 733v2M119 845v2M119 893v2M121 733v2M123 719v16M123 769v6M123 905v2M125 733v2M125 771v4M127 899v4M129 889v2M129 899v2M129 975v4M129 981v2M131 719v12M131 733v2M131 881v4M131 897v2M133 719v16M133 839v2M133 881v4M135 719v16M135 819v2M135 839v2M135 867v2M135 873v2M135 877v2M135 881v2M137 719v16M137 819v4M137 865v2M137 869v2M139 719v2M139 887v4M139 913v2M141 719v6M141 733v2M141 791v2M141 901v2M141 905v2M141 913v2M143 719v12M143 733v2M143 911v2M145 719v16M145 811v6M145 907v2M147 733v2M147 887v2M149 733v2M149 887v2M151 733v2M151 781v4M151 879v2M151 885v2M151 889v4M153 773v2M153 811v2M153 887v2M153 899v2M153 903v2M155 725v10M157 733v2M157 973v2M159 757v4M159 839v2M159 843v2M161 735v2M161 741v4M163 719v16M163 839v2M163 907v2M163 911v2M163 971v4M163 981v2M165 719v16M165 743v4M165 821v2M165 881v2M165 913v4M165 979v4M167 805v2M167 813v4M167 821v2M167 825v2M167 829v2M167 881v2M167 905v2M167 937v2M169 733v2M169 785v2M169 811v6M169 821v6M169 889v2M169 893v2M171 733v2M173 719v16M173 901v4M175 719v16M175 749v4M175 755v4M175 781v2M175 889v4M175 901v2M175 905v4M177 733v2M177 759v2M177 775v4M177 785v6M177 863v4M177 893v2M177 903v2M177 907v2M179 735v6M179 891v4M179 897v2M179 969v4M181 735v2M181 739v2M181 775v4M181 867v2M181 895v2M181 899v10M181 911v2M181 969v4M183 733v2M183 855v6M183 869v2M183 875v2M183 895v4M183 913v2M183 923v2M183 969v8M185 733v2M185 849v6M185 859v4M185 897v4M185 903v10M185 915v6M185 957v2M185 969v2M187 719v16M187 855v2M189 719v22M189 889v16M191 733v4M191 799v6M191 807v2M191 829v4M193 827v6M193 927v6M195 781v12M195 825v8M197 733v2M199 731v4M199 887v10M199 971v14M201 733v2M201 885v22M201 971v6M203 719v16M203 895v16M205 719v16M207 719v16M207 903v8M209 719v16M213 885v12M215 891v10M215 905v8M217 881v32M219 883v8M219 909v2M221 883v12M223 733v2M223 883v14M223 911v2M225 719v12M225 733v2M225 881v4M225 909v2M227 719v16M227 881v4M227 903v8M229 719v6M229 733v2M229 881v10M229 905v4M231 881v10M239 719v8M239 733v2M239 883v14M241 719v16M241 879v14M243 733v2M243 881v30M245 899v10M247 881v8M247 899v10M249 733v2M249 887v2M249 901v10M251 719v16M251 901v12M253 733v2M253 891v6M253 905v6M255 719v6M255 733v2M255 885v16M255 907v4M257 719v6M257 733v2M257 887v8M257 897v16M259 733v2M259 883v28M261 719v16M261 893v18M263 719v16M263 889v24M265 727v8M265 887v26M267 889v20M269 887v22M271 885v22M273 881v12M275 885v4M275 905v4M277 883v8M277 893v20M279 887v24M281 885v24M283 733v2M283 885v28M285 887v16M287 733v2M289 719v10M289 733v2M291 719v16M291 883v8M293 719v8M293 733v2M293 883v10M295 885v10M297 733v2M297 883v18M299 733v2M299 885v26M301 719v16M301 881v32M303 719v8M303 733v2M303 881v32M305 719v8M305 733v2M305 881v6M305 891v20M307 719v2M307 733v2M307 879v22M309 733v2M309 881v30M311 733v2M311 883v28M313 733v2M313 885v4M313 897v14M315 733v2M315 883v22M317 733v2M317 881v26M319 733v2M319 881v16M319 901v10M321 733v2M321 889v10M321 901v10M323 731v4M323 885v14M325 733v2M325 891v10M327 733v2M327 895v16M329 733v2M329 895v14M331 719v16M331 889v18M333 733v2M333 885v20M335 883v24M337 883v10M339 719v16M339 881v10M339 899v14M341 719v16M341 895v18M343 733v2M343 887v22M345 733v2M345 887v22M347 887v16M349 895v4M351 733v2M353 725v10M355 719v16M355 887v24M357 733v2M357 885v26M359 733v2M359 885v26M361 719v16M361 883v26M363 719v8M363 733v2M363 893v16M365 719v4M365 891v18M367 719v8M367 733v2M367 889v22M369 719v16M369 889v8M369 903v4M371 719v16M371 883v26M373 723v12M373 883v28M375 731v4M375 899v10M377 719v8M377 733v2M377 903v6M379 719v10M379 733v2M379 905v4M381 733v2M381 893v20M383 885v14M385 719v10M385 881v20M387 719v16M387 881v24M389 719v12M389 733v2M389 883v22M391 719v4M391 733v2M391 881v28M393 719v16M393 897v12M395 719v16M395 885v26M397 719v16M397 883v24M399 719v4M399 733v2M399 893v2M401 733v2M401 891v20M403 733v2M403 883v28M405 731v4M405 879v26M407 733v2M407 879v28"/>
<path stroke="#797ee8" stroke-width="2" d="M37 721v2M37 725v2M37 731v10M37 745v2M37 753v4M37 763v2M37 769v2M37 781v2M37 805v2M37 817v2M37 821v2M37 835v2M37 841v2M37 855v2M37 859v2M37 865v4M37 873v12M37 903v2M37 915v2M37 939v6M37 947v6M37 955v2M37 961v2M37 967v2M39 735v6M39 747v2M39 753v4M39 759v6M39 769v2M39 773v2M39 779v4M39 801v2M39 809v4M39 821v2M39 829v2M39 841v2M39 847v4M39 863v8M39 873v8M39 883v2M39 893v6M39 901v2M39 915v2M39 937v8M39 947v2M39 951v2M39 955v2M39 961v4M39 967v2M39 973v4M41 723v2M41 729v2M41 735v6M41 747v4M41 753v4M41 761v2M41 767v6M41 779v4M41 797v2M41 803v2M41 809v4M41 821v2M41 827v4M41 841v4M41 847v4M41 855v2M41 859v2M41 863v2M41 869v2M41 873v2M41 881v2M41 887v4M41 893v2M41 897v2M41 901v2M41 907v2M41 915v2M41 921v2M41 929v2M41 933v2M41 937v8M41 949v2M41 961v4M41 973v6M41 981v2M43 753v2M43 761v2M43 767v4M43 773v4M43 781v2M43 795v4M43 803v2M43 807v4M43 813v4M43 827v4M43 835v2M43 841v2M43 847v2M43 855v2M43 861v4M43 867v4M43 929v2M43 935v2M43 949v2M43 961v4M43 969v2M43 975v4M43 981v4M45 761v2M45 767v4M45 775v2M45 783v8M45 795v2M45 935v2M45 949v2M45 955v2M45 963v2M45 969v2M61 893v4M63 813v2M65 777v2M65 819v2M67 773v2M67 779v2M69 983v2M71 761v2M71 817v6M71 979v2M73 819v2M73 979v2M77 763v4M77 777v2M77 805v2M77 839v2M77 843v2M79 791v2M79 799v2M81 773v2M81 803v4M81 809v2M87 719v2M87 795v6M87 947v2M89 721v4M89 727v6M91 719v14M91 903v2M93 789v2M93 795v2M93 809v2M93 823v2M95 807v2M95 811v2M95 827v6M95 865v4M95 875v2M95 881v2M95 889v2M97 825v2M97 893v2M99 735v2M99 827v2M99 851v2M101 881v6M103 739v2M103 801v2M103 825v4M105 893v6M107 735v2M107 875v4M107 881v6M107 889v2M109 795v2M109 933v4M111 735v2M111 795v2M111 825v2M113 813v2M113 819v6M113 873v2M115 771v2M115 779v2M115 819v2M115 823v2M119 823v4M119 841v4M119 847v4M119 903v2M121 901v2M123 775v2M123 841v6M123 897v4M123 907v6M125 765v2M125 769v2M125 775v4M125 793v4M125 901v2M127 801v2M127 897v2M129 887v2M129 901v2M131 899v4M133 845v2M133 877v4M133 885v2M135 837v2M135 869v2M135 875v2M135 879v2M135 883v2M137 823v4M137 887v2M137 913v2M139 735v4M139 877v4M139 885v2M139 917v2M143 735v4M143 791v2M143 915v2M145 817v2M145 901v6M145 909v4M147 817v2M147 885v2M149 779v2M149 829v2M149 879v4M149 885v2M149 891v2M149 899v2M149 903v2M151 777v2M151 881v4M151 893v2M151 897v2M151 901v2M151 905v6M153 775v6M153 809v2M153 813v2M153 817v2M153 889v4M153 897v2M153 905v2M157 755v6M157 867v2M157 875v2M157 881v2M159 735v2M159 755v2M159 763v4M159 773v6M159 835v2M159 841v2M159 845v6M161 745v2M161 757v4M161 837v2M163 735v2M163 743v2M163 807v6M163 837v2M163 841v2M163 885v2M163 905v2M163 913v4M163 919v4M163 925v4M163 967v4M163 975v4M165 735v8M165 747v2M165 805v2M165 877v4M165 971v2M165 975v4M167 735v2M167 783v4M167 801v4M167 817v4M167 823v2M167 877v4M167 889v2M167 897v2M167 903v2M167 913v4M167 929v2M167 933v2M167 939v2M169 783v2M169 807v4M169 817v4M169 827v2M169 831v2M169 883v2M169 891v2M169 895v4M169 937v8M171 849v2M171 885v10M173 899v2M173 905v4M173 951v2M175 737v2M175 747v2M175 759v2M175 773v8M175 783v2M175 875v2M175 885v4M175 893v8M175 909v2M177 755v4M177 761v2M177 773v2M177 845v6M177 861v2M177 869v2M177 873v4M177 889v4M177 895v6M177 905v2M179 775v8M179 905v4M179 973v4M181 741v2M181 773v2M181 779v6M181 789v2M181 835v4M181 861v6M181 897v2M181 909v2M181 937v16M181 967v2M181 973v10M183 797v2M183 815v2M183 829v12M183 853v2M183 877v2M183 925v2M183 937v8M183 967v2M185 845v4M185 863v6M185 895v2M185 913v2M185 921v2M185 947v10M185 959v10M185 971v4M187 799v4M187 805v4M187 829v2M187 857v6M187 897v14M187 915v10M187 927v2M187 981v4M189 741v2M189 807v4M189 827v4M189 861v12M189 875v2M189 887v2M189 905v6M189 919v2M189 923v2M189 927v6M191 793v6M191 805v2M191 809v4M191 823v6M191 833v12M191 855v2M191 861v2M191 889v2M191 929v4M191 935v4M193 735v2M193 765v2M193 779v6M193 809v8M193 823v4M193 833v6M193 901v8M193 921v6M193 933v4M195 735v2M195 751v2M195 755v14M195 771v10M195 793v4M195 807v18M195 833v4M195 901v8M195 965v14M197 735v4M197 749v16M197 823v18M197 919v4M197 949v2M197 969v16M199 735v4M199 749v14M199 819v2M199 831v18M199 877v10M199 897v4M199 923v2M199 967v4M201 739v2M201 843v12M201 871v14M201 907v6M201 915v10M201 967v4M201 977v8M203 749v2M203 803v6M203 843v10M203 889v6M203 911v2M205 737v2M205 771v40M205 867v2M205 871v16M205 901v4M205 967v10M207 773v14M207 795v14M207 871v20M207 895v8M207 911v2M207 915v2M207 945v10M207 969v8M209 735v12M209 775v30M209 925v16M209 971v6M211 735v6M211 799v4M211 811v18M211 883v28M211 943v2M211 973v6M213 735v6M213 783v14M213 823v16M213 881v4M213 897v12M213 973v10M215 735v6M215 785v18M215 885v6M215 901v4M215 915v6M215 929v6M215 977v4M217 735v10M217 777v16M217 801v10M217 859v10M217 871v10M217 915v26M217 977v8M219 735v20M219 769v2M219 877v6M219 891v6M219 903v6M219 911v2M219 915v28M219 975v6M221 743v8M221 779v12M221 875v8M221 895v6M221 905v8M221 915v28M221 975v10M223 735v20M223 767v22M223 791v42M223 873v10M223 897v4M223 905v6M223 915v30M225 735v4M225 755v28M225 791v38M225 841v4M225 867v2M225 871v10M225 885v24M225 911v2M225 929v14M227 761v6M227 793v18M227 823v4M227 879v2M227 885v18M227 911v2M227 915v2M227 957v16M229 735v6M229 771v8M229 793v8M229 827v22M229 879v2M229 891v14M229 909v4M229 915v32M229 961v10M231 735v14M231 807v16M231 831v22M231 865v4M231 871v10M231 891v22M231 965v6M233 771v20M233 811v16M233 835v18M233 901v8M235 757v36M235 807v20M235 881v6M235 897v14M235 937v12M235 967v14M237 755v14M237 799v10M237 851v2M237 887v16M237 933v26M237 961v18M239 753v6M239 801v6M239 875v8M239 897v12M239 919v8M239 937v48M241 735v2M241 835v2M241 877v2M241 893v18M241 919v2M241 939v20M241 967v18M243 735v4M243 803v16M243 877v4M243 911v2M243 943v6M243 967v16M245 735v2M245 741v12M245 773v12M245 803v18M245 857v12M245 871v2M245 883v16M245 909v4M245 977v8M247 735v16M247 765v22M247 801v2M247 851v18M247 871v10M247 889v10M247 909v4M247 971v14M249 735v14M249 767v2M249 777v10M249 795v10M249 851v10M249 883v4M249 889v12M249 911v2M249 961v12M251 773v12M251 819v6M251 879v22M251 915v6M253 735v4M253 741v56M253 819v10M253 883v8M253 897v8M253 911v2M253 915v10M253 947v16M253 977v6M255 735v20M255 779v22M255 813v8M255 883v2M255 901v6M255 911v2M255 915v6M255 949v2M257 735v14M257 769v8M257 883v4M257 895v2M257 915v16M257 951v2M259 735v10M259 773v4M259 789v54M259 879v4M259 911v2M259 925v8M261 737v8M261 787v16M261 815v12M261 839v6M261 883v10M261 911v2M261 927v10M263 735v18M263 785v30M263 827v14M263 879v10M263 913v8M263 937v8M263 953v6M263 969v16M265 739v8M265 779v14M265 805v6M265 847v4M265 871v2M265 881v6M265 913v10M265 965v20M267 735v2M267 743v6M267 801v14M267 883v6M267 909v4M267 915v6M267 967v16M269 735v26M269 807v12M269 847v4M269 883v4M269 909v4M269 953v10M269 967v14M271 735v20M271 777v6M271 821v6M271 883v2M271 907v4M273 735v2M273 771v6M273 861v6M273 877v4M273 893v18M273 977v8M275 773v26M275 881v4M275 889v16M275 909v4M275 977v8M277 735v2M277 755v8M277 777v18M277 809v28M277 879v4M277 891v2M277 927v6M277 967v14M279 735v2M279 755v4M279 815v22M279 881v6M279 911v2M279 915v18M279 953v2M279 963v8M281 755v24M281 805v18M281 881v4M281 909v4M281 915v4M281 949v22M283 759v14M283 843v4M283 863v6M283 883v2M283 915v2M283 961v20M285 735v2M285 755v16M285 811v18M285 847v2M285 857v8M285 883v4M285 903v8M285 945v10M285 959v20M287 735v2M287 741v38M287 883v30M287 945v10M289 735v6M289 743v18M289 873v4M289 883v30M289 943v6M291 735v8M291 825v14M291 843v12M291 877v6M291 891v22M291 941v14M291 981v4M293 827v8M293 847v14M293 877v6M293 893v20M293 963v2M295 735v2M295 747v2M295 777v12M295 811v6M295 845v12M295 883v2M295 895v18M295 915v6M295 963v2M297 777v10M297 795v8M297 815v12M297 849v2M297 879v4M297 901v12M297 915v8M299 741v14M299 767v4M299 851v6M299 881v4M299 911v2M299 919v10M301 741v2M301 877v4M301 913v10M301 981v4M303 741v6M303 833v10M303 877v4M303 913v14M305 743v14M305 769v12M305 801v6M305 821v20M305 857v12M305 871v10M305 911v2M305 961v16M307 735v20M307 767v8M307 853v16M307 871v8M307 901v12M307 915v24M309 789v8M309 849v20M309 871v4M309 877v4M309 911v2M309 919v16M309 953v14M311 755v10M311 847v12M311 877v6M311 911v2M311 953v12M313 751v18M313 881v4M313 889v8M313 911v2M313 915v4M313 969v8M315 749v20M315 799v12M315 879v4M315 905v8M315 967v6M317 815v14M317 851v14M317 875v6M317 907v6M317 947v4M319 735v2M319 815v16M319 861v6M319 871v10M319 897v4M319 911v2M319 915v6M321 735v2M321 785v10M321 805v28M321 883v6M321 899v2M321 911v2M323 751v6M323 785v14M323 819v12M323 867v2M323 871v14M323 899v12M325 735v4M325 747v8M325 793v4M325 835v6M325 881v10M325 901v12M325 923v22M325 953v6M327 795v10M327 829v10M327 853v16M327 871v24M327 911v2M327 915v46M329 789v22M329 851v6M329 885v10M329 909v4M329 921v12M329 945v14M331 827v6M331 849v18M331 881v8M331 907v6M333 793v8M333 829v2M333 855v6M333 881v4M333 905v8M335 735v2M335 759v6M335 779v20M335 819v14M335 859v8M335 875v8M335 907v6M335 935v16M335 963v12M337 735v2M337 807v30M337 857v12M337 871v2M337 879v4M337 893v18M337 959v14M339 777v10M339 827v14M339 875v6M339 891v8M339 913v6M339 959v26M341 769v22M341 881v14M341 913v6M343 753v16M343 881v6M343 909v4M343 953v4M343 969v12M345 743v14M345 769v4M345 809v4M345 833v2M345 847v22M345 881v6M345 909v4M345 915v8M345 947v12M345 977v8M347 807v8M347 847v12M347 883v4M347 903v10M347 917v22M347 955v4M349 735v16M349 807v6M349 841v24M349 881v14M349 899v12M349 925v12M349 967v18M351 735v14M351 845v22M351 879v34M351 923v22M351 965v20M353 735v10M353 881v32M353 921v26M353 971v14M355 757v2M355 803v10M355 839v24M355 879v8M355 911v2M355 915v8M355 929v28M357 755v36M357 801v24M357 851v10M357 881v4M357 911v2M357 951v6M359 757v28M359 827v22M359 877v8M359 911v2M359 915v4M361 735v46M361 807v34M361 871v12M361 909v4M361 915v2M363 735v10M363 765v12M363 789v2M363 811v32M363 871v2M363 881v12M363 909v4M363 959v6M365 773v2M365 791v20M365 819v12M365 839v4M365 883v8M365 909v2M365 921v18M367 749v4M367 793v20M367 839v14M367 883v6M367 911v2M367 915v12M369 743v8M369 763v8M369 831v14M369 879v10M369 897v6M369 907v4M369 915v16M371 745v4M371 761v8M371 805v4M371 873v10M371 909v4M373 741v24M373 873v10M373 911v2M375 743v20M375 769v2M375 877v22M375 909v2M375 939v2M377 749v30M377 829v4M377 879v24M377 909v2M379 775v6M379 835v2M379 879v26M379 909v4M381 735v2M381 765v12M381 795v8M381 833v6M381 851v18M381 877v16M381 913v4M381 951v4M383 735v10M383 829v10M383 849v20M383 879v6M383 899v14M383 915v16M385 735v10M385 765v24M385 825v10M385 851v2M385 877v4M385 901v10M385 915v22M387 763v28M387 875v6M387 905v8M387 915v6M389 771v14M389 875v4M389 881v2M389 905v8M389 915v2M391 871v10M391 909v2M391 933v6M391 949v14M393 735v12M393 821v6M393 847v22M393 883v14M393 909v4M393 947v18M395 787v4M395 815v8M395 847v4M395 867v2M395 881v4M395 911v2M395 915v4M395 947v16M397 763v6M397 787v32M397 871v12M397 907v6M399 757v12M399 861v2M399 873v2M399 881v12M399 895v16M399 933v10M401 735v4M401 743v28M401 811v24M401 881v10M401 911v2M401 931v14M403 735v4M403 743v8M403 821v18M403 851v12M403 881v2M403 911v2M405 787v6M405 813v20M405 853v8M405 873v6M405 905v6M405 951v2M407 781v20M407 875v4M407 907v4M407 971v4"/>
<path stroke="#738ff3" stroke-width="2" d="M37 767v2M37 779v2M37 785v2M37 791v2M37 799v4M37 819v2M37 837v2M37 893v2M37 905v4M37 917v4M37 925v2M37 929v2M37 959v2M39 745v2M39 765v2M39 775v4M39 785v4M39 791v4M39 799v2M39 807v2M39 831v2M39 839v2M39 905v2M39 911v2M39 917v4M39 925v2M39 945v2M39 959v2M39 969v2M39 977v2M39 981v2M41 741v2M41 757v2M41 785v2M41 817v2M41 831v2M41 845v2M41 871v2M41 879v2M41 905v2M41 909v2M41 925v2M41 965v2M43 725v4M43 741v4M43 765v2M43 825v2M43 831v2M43 839v2M43 845v2M43 879v2M43 887v18M43 907v16M43 925v2M43 939v2M43 951v2M45 755v6M45 771v2M45 799v4M45 929v4M45 939v2M45 947v2M45 957v6M45 977v4M47 767v4M47 775v4M47 781v4M47 939v6M47 947v2M47 955v2M47 963v2M59 837v2M59 901v2M61 815v4M61 891v2M61 899v2M61 903v4M63 809v4M63 815v4M63 821v2M63 825v2M63 837v2M63 893v2M65 773v2M65 779v2M65 797v4M65 821v4M67 781v2M67 901v2M69 773v2M69 777v2M69 781v2M69 817v4M69 975v2M69 979v4M71 751v4M71 757v4M71 763v2M71 769v2M71 813v2M71 823v2M71 977v2M73 761v2M73 811v2M73 815v2M73 823v2M73 975v2M75 719v2M75 723v2M75 755v6M75 765v2M75 771v4M75 777v2M75 839v2M75 843v2M77 779v2M77 809v6M77 845v2M79 761v2M79 783v2M79 805v2M79 949v2M81 763v2M81 775v4M81 789v2M81 795v8M81 819v4M83 819v2M83 823v2M83 951v8M83 981v2M85 719v4M85 823v2M85 831v4M85 947v6M85 955v4M87 733v2M87 791v2M87 803v2M87 807v2M87 887v2M87 935v4M87 945v2M89 797v2M89 865v4M89 883v2M89 889v2M89 943v2M89 947v2M89 967v2M89 971v2M89 981v2M91 771v2M91 775v2M91 801v4M91 867v4M91 889v2M91 899v2M91 905v2M93 735v4M93 869v4M93 893v2M93 907v2M95 735v2M95 791v2M95 797v2M95 815v2M95 837v4M95 847v2M95 853v2M95 863v2M95 873v2M95 891v2M97 735v6M97 807v2M97 819v2M97 823v2M97 839v2M97 907v2M99 819v2M99 823v2M99 833v2M99 845v4M99 855v2M101 815v4M101 823v2M101 829v2M101 887v2M101 891v4M101 911v2M101 981v4M103 759v2M103 789v2M103 793v2M103 797v2M103 803v4M103 817v8M103 831v8M103 921v2M105 803v2M105 809v6M105 819v2M105 825v2M105 885v4M107 741v2M107 871v4M107 879v2M107 895v2M107 905v4M107 951v2M109 739v2M109 793v2M109 931v2M109 937v4M111 741v2M111 753v2M111 759v2M111 793v2M111 801v4M111 873v2M113 737v2M113 775v4M113 781v4M113 793v2M113 825v2M113 831v2M113 877v2M115 767v2M115 773v4M115 781v4M115 799v6M115 807v12M115 821v2M115 825v4M117 737v2M117 823v2M117 827v4M117 841v2M117 893v2M117 897v4M119 879v2M119 883v4M121 845v4M121 883v2M121 905v2M123 765v2M123 779v6M123 787v6M123 795v2M123 849v2M123 915v2M125 755v2M125 785v2M125 797v4M125 897v2M125 903v2M125 907v4M127 735v2M127 805v2M127 823v2M127 891v2M127 903v4M127 975v2M129 801v2M129 805v4M129 971v4M131 735v2M131 839v2M131 903v2M131 951v2M133 821v2M133 825v2M133 837v2M133 841v2M133 871v6M133 889v2M133 955v2M135 735v2M135 843v4M135 861v2M135 887v4M135 955v6M137 791v2M137 815v2M137 827v2M137 831v2M137 891v2M137 895v2M137 909v2M137 917v2M137 921v2M137 953v8M139 767v4M139 773v2M139 791v2M139 863v2M139 875v2M139 881v4M139 945v4M141 789v2M141 795v2M141 863v6M141 871v4M141 877v4M141 941v2M141 947v2M143 741v2M143 793v4M143 811v2M143 815v2M143 907v2M143 917v2M143 941v2M143 945v2M145 807v2M145 819v2M147 813v2M147 819v2M147 891v2M147 907v2M149 753v2M149 781v2M149 785v6M149 825v2M149 833v4M149 877v2M149 893v4M149 907v2M151 735v2M151 749v4M151 773v2M151 789v2M151 855v2M151 875v2M153 737v2M153 807v2M153 881v4M153 895v2M155 781v4M155 811v2M155 817v2M155 873v4M155 881v2M155 887v2M155 903v4M155 935v4M157 737v2M157 749v2M157 765v2M157 769v2M157 775v2M157 781v2M157 791v2M157 837v2M157 853v2M157 877v2M157 883v2M157 887v2M157 897v6M157 905v4M157 977v2M159 739v2M159 743v4M159 749v2M159 771v2M159 781v2M159 789v2M159 793v2M159 797v2M159 833v2M159 897v12M159 973v2M161 747v6M161 767v2M161 835v2M161 845v6M161 865v4M161 907v2M161 913v10M163 749v8M163 759v2M163 803v4M163 819v4M163 845v2M163 873v2M163 887v2M163 891v4M163 903v2M163 949v2M163 963v4M165 753v2M165 827v4M165 833v2M165 875v2M165 921v10M167 739v2M167 743v4M167 749v4M167 755v2M167 761v2M167 781v2M167 789v2M167 795v4M167 835v2M167 873v2M167 917v4M167 923v6M167 943v2M169 735v2M169 751v4M169 781v2M169 789v2M169 795v4M169 833v2M169 847v4M169 853v2M169 881v2M169 901v2M169 907v2M169 913v4M169 923v6M169 931v6M171 783v2M171 789v2M171 793v6M171 803v2M171 811v2M171 853v2M171 859v2M171 867v2M171 881v2M171 905v2M173 739v2M173 747v2M173 755v4M173 783v2M173 787v2M173 895v4M173 911v2M173 915v4M173 927v4M173 933v4M173 943v4M173 957v2M173 967v2M173 971v6M173 981v2M175 743v4M175 765v2M175 785v2M175 841v6M175 865v2M175 869v2M175 915v2M175 925v2M175 929v4M175 935v2M175 949v4M177 743v2M177 747v4M177 767v6M177 795v2M177 841v4M177 851v6M177 877v6M177 911v2M177 925v2M177 929v4M177 935v2M177 947v4M177 969v2M177 975v4M179 745v2M179 755v8M179 771v2M179 887v2M179 909v2M179 945v8M179 965v2M179 979v6M181 747v2M181 751v10M181 767v2M181 793v2M181 799v2M181 803v2M181 813v2M181 817v4M181 831v4M181 841v2M181 879v2M181 891v2M181 921v2M181 929v4M181 963v2M183 735v2M183 787v2M183 793v2M183 801v8M183 811v2M183 819v4M183 847v2M183 881v2M183 947v2M183 965v2M185 773v6M185 787v2M185 793v8M185 803v4M185 809v10M185 821v6M185 877v6M185 893v2M185 945v2M185 977v2M185 981v2M187 759v2M187 767v4M187 813v8M187 867v10M187 881v2M187 885v4M187 891v4M187 933v12M187 947v4M189 745v2M189 763v2M189 799v2M189 803v2M189 819v4M189 879v2M189 939v8M189 953v2M189 961v4M191 765v2M191 819v4M191 881v6M191 897v10M191 919v4M191 943v10M193 789v2M193 803v4M193 843v2M193 849v14M193 885v4M193 913v6M193 939v2M193 951v2M193 965v2M195 745v4M195 851v6M195 887v10M195 911v2M195 921v2M195 935v2M195 983v2M197 743v4M197 811v2M197 849v4M197 881v4M197 891v6M197 913v4M197 929v4M197 941v4M197 965v2M199 813v2M199 851v4M199 873v2M199 909v4M199 921v2M199 929v2M199 947v4M199 963v2M201 747v2M201 753v2M201 761v6M201 771v2M201 783v6M201 825v14M201 857v8M201 929v2M201 961v2M203 755v2M203 767v2M203 787v2M203 793v2M203 815v24M203 853v2M203 883v2M203 913v10M203 927v2M203 947v6M203 977v8M205 747v2M205 763v4M205 815v12M205 839v2M205 849v2M205 911v2M205 919v2M205 923v4M205 943v2M205 981v4M207 749v2M207 753v12M207 789v4M207 813v8M207 841v8M207 869v2M207 935v2M207 959v6M207 981v4M209 749v2M209 765v6M209 815v2M209 819v2M209 827v4M209 839v4M209 875v2M209 909v2M209 957v4M209 965v2M209 977v2M211 741v2M211 761v10M211 797v2M211 875v2M211 913v10M211 959v8M211 979v2M211 983v2M213 747v8M213 811v4M213 843v6M213 865v4M213 871v6M213 911v2M213 957v2M215 747v6M215 803v2M215 843v12M215 881v2M217 745v2M217 769v4M217 829v2M217 843v2M217 847v2M217 961v2M217 967v2M219 757v6M219 773v2M219 817v4M219 831v6M219 841v2M219 943v2M219 955v16M221 735v2M221 741v2M221 751v2M221 771v6M221 811v6M221 841v2M221 849v2M221 871v2M221 943v2M225 829v2M225 837v2M225 847v2M225 917v2M225 927v2M225 945v2M225 955v2M225 963v2M227 735v2M227 767v2M227 829v2M227 841v2M227 851v4M227 875v2M227 917v2M227 955v2M229 749v4M229 877v2M229 949v8M231 767v4M231 801v4M231 857v4M231 931v8M231 957v4M231 977v8M233 767v2M233 855v4M233 861v4M233 875v2M233 911v2M233 953v8M233 967v2M233 973v2M235 735v2M235 931v4M237 735v2M237 785v2M237 813v6M237 835v2M237 861v8M237 871v6M237 881v2M237 913v2M237 917v6M239 743v2M239 789v6M239 809v4M239 911v2M241 759v6M241 773v4M241 785v26M241 815v6M241 833v2M241 853v10M241 875v2M241 913v4M241 925v4M241 935v2M241 961v4M243 763v2M243 789v10M243 823v4M243 871v2M243 919v20M245 763v6M245 791v2M245 799v2M245 823v4M245 875v4M245 913v4M245 923v18M245 951v6M245 975v2M247 753v2M247 789v4M247 795v2M247 809v22M247 913v4M247 923v2M247 935v4M247 947v10M247 967v2M249 751v2M249 759v4M249 809v10M249 823v4M249 841v2M249 869v4M249 879v2M249 917v4M249 951v8M249 977v2M249 983v2M251 735v2M251 769v2M251 789v2M251 807v10M251 851v16M251 871v4M251 983v2M253 797v20M253 879v2M253 963v2M253 973v2M255 755v2M255 777v2M255 857v2M255 879v2M255 943v2M257 779v4M257 801v4M257 813v14M257 841v4M257 879v2M257 931v2M257 941v4M257 955v4M259 747v4M259 769v2M259 779v4M259 785v2M259 849v8M259 865v4M259 871v4M259 923v2M259 941v2M259 965v2M259 979v6M261 763v18M261 805v6M261 847v4M261 855v4M261 867v2M261 871v2M261 913v2M261 957v2M263 767v12M263 819v4M263 849v12M263 869v2M263 921v2M263 935v2M265 751v2M265 815v10M265 831v4M265 839v4M265 853v2M265 861v2M265 923v2M267 789v2M267 829v4M267 859v4M267 869v2M267 875v6M267 921v2M269 767v8M269 829v2M269 841v2M269 855v2M269 881v2M269 913v2M269 951v2M271 791v12M271 841v2M273 749v6M273 777v8M273 799v4M273 813v12M273 841v2M273 855v2M273 941v4M273 973v2M275 815v12M275 877v2M275 935v8M275 973v2M277 741v10M277 773v2M277 797v10M277 841v8M277 875v2M277 917v2M277 923v2M277 937v6M279 741v4M279 749v2M279 761v2M279 787v22M279 841v14M279 875v4M279 939v8M279 973v4M279 983v2M281 749v4M281 827v2M281 851v4M281 861v4M281 869v2M281 873v4M281 939v4M281 973v2M281 983v2M283 735v2M283 791v6M283 815v12M283 841v2M283 853v8M283 873v2M283 959v2M285 751v2M285 797v8M285 833v2M285 843v2M285 865v2M285 929v2M287 799v2M287 807v6M287 821v6M287 879v2M287 913v2M287 961v4M287 983v2M289 763v2M289 791v2M289 807v22M289 863v4M289 869v2M289 879v2M289 913v2M289 917v2M289 981v2M291 755v2M291 791v2M291 913v2M291 967v4M291 975v4M293 737v2M293 785v2M293 869v2M293 913v4M293 951v4M293 969v4M293 975v4M295 755v2M295 767v4M295 861v8M295 873v8M295 959v2M295 967v2M295 983v2M297 735v2M297 765v2M297 835v10M297 853v2M297 859v10M297 875v2M297 925v2M297 959v2M297 975v2M297 983v2M299 799v6M299 807v6M299 837v8M299 879v2M299 913v6M299 931v2M299 981v4M301 745v4M301 757v2M301 787v8M301 801v6M301 815v8M301 871v4M301 923v2M301 947v4M303 749v2M303 799v2M303 853v2M303 865v10M303 929v8M303 945v4M303 967v2M305 741v2M305 785v4M305 791v6M305 841v2M305 855v2M305 913v2M305 921v10M305 959v2M305 983v2M307 797v12M307 813v14M307 851v2M307 943v4M307 959v10M309 737v4M309 777v2M309 827v2M309 841v2M309 913v2M309 937v2M309 969v2M311 737v12M311 773v12M311 821v4M311 833v10M311 859v2M311 873v2M311 913v4M311 949v2M311 967v18M313 737v2M313 745v4M313 777v14M313 825v6M313 843v2M313 877v2M313 923v2M313 959v4M313 981v4M315 737v2M315 745v2M315 775v14M315 831v2M315 871v6M315 913v4M315 951v2M315 955v8M315 975v2M317 737v2M317 745v2M317 749v6M317 805v8M317 833v16M317 869v2M317 913v2M317 931v2M317 945v2M317 955v4M317 981v2M319 739v16M319 783v2M319 797v6M319 807v6M319 847v2M319 857v2M319 935v4M319 949v6M319 959v12M319 975v2M319 979v6M321 743v6M321 757v2M321 775v2M321 863v2M321 869v2M321 879v2M321 917v2M321 927v4M321 933v6M321 951v34M323 761v2M323 775v4M323 837v4M323 851v2M323 973v6M323 981v4M325 789v2M325 805v2M325 815v2M325 877v2M325 913v10M327 773v2M327 777v10M327 809v18M327 845v2M327 963v10M327 983v2M329 755v4M329 775v4M329 815v14M329 857v2M329 881v2M329 913v4M329 919v2M329 961v2M329 971v4M331 781v2M331 793v4M331 799v16M331 835v2M331 869v2M331 875v2M331 913v2M331 941v4M331 957v10M333 743v2M333 763v2M333 767v4M333 775v4M333 791v2M333 865v6M333 913v2M333 921v2M333 929v2M333 957v8M335 737v16M335 769v8M335 847v6M335 925v4M337 753v4M337 779v2M337 783v6M337 801v4M337 839v2M337 937v2M339 735v2M339 773v2M339 789v2M339 803v22M339 869v2M339 923v6M339 933v14M341 735v2M341 761v2M341 791v2M341 803v8M341 833v4M341 879v2M341 921v2M341 935v6M341 983v2M343 751v2M343 769v2M343 777v4M343 795v8M343 819v8M343 859v2M343 877v2M343 913v2M343 927v10M343 941v2M345 737v2M345 777v4M345 795v8M345 819v12M345 875v4M345 923v2M345 943v2M347 737v4M347 769v2M347 817v10M347 837v2M347 861v2M347 879v2M349 751v2M349 775v4M349 833v2M349 865v6M349 913v4M349 959v2M351 777v6M351 791v36M351 913v6M351 957v2M353 745v2M353 783v4M353 799v16M353 827v2M353 839v2M353 849v2M353 879v2M353 961v8M355 735v2M355 773v2M355 779v4M355 791v6M355 925v4M355 965v2M355 983v2M357 741v10M357 849v2M357 867v2M357 871v6M357 913v2M357 937v8M357 963v22M359 737v2M359 741v10M359 801v4M359 817v8M359 859v10M359 871v2M359 921v2M359 927v8M359 943v4M359 965v18M361 785v2M361 801v4M361 845v4M361 861v6M361 921v4M361 965v2M361 969v14M363 791v2M363 799v6M363 849v16M363 875v4M363 933v2M363 947v4M363 973v12M365 771v2M365 779v6M365 843v2M365 879v2M365 959v2M365 973v12M367 747v2M367 865v2M367 879v2M367 927v2M367 941v6M367 961v2M367 967v12M367 981v4M369 793v12M369 807v8M369 823v4M369 851v6M369 869v2M369 913v2M369 933v2M369 955v28M371 737v2M371 775v4M371 815v12M371 855v4M371 869v2M371 913v2M371 921v4M371 933v8M371 951v14M373 773v8M373 843v10M373 855v2M373 865v2M373 869v2M373 919v2M373 945v6M373 955v6M375 785v14M375 807v6M375 815v8M375 827v4M375 845v2M375 849v4M375 859v4M375 867v4M375 937v2M375 945v4M375 967v2M375 977v2M375 983v2M377 737v2M377 743v4M377 789v6M377 801v4M377 817v4M377 845v14M377 941v6M377 957v10M377 969v6M379 737v2M379 745v8M379 773v2M379 811v2M379 831v2M379 913v2M379 939v10M379 959v2M381 755v4M381 811v20M381 917v2M381 935v6M381 943v4M381 967v2M383 779v2M383 809v14M383 945v4M383 957v6M383 973v10M385 747v4M385 759v2M385 805v14M385 855v2M385 867v2M385 913v2M385 941v2M385 951v12M385 979v4M387 745v6M387 757v2M387 805v4M387 813v14M387 837v2M387 855v4M387 867v4M387 949v4M387 979v6M389 735v2M389 741v2M389 745v4M389 759v2M389 793v6M389 827v2M389 855v16M389 925v2M389 941v6M389 949v2M389 967v4M391 735v2M391 747v4M391 757v2M391 775v2M391 787v12M391 825v4M391 865v2M391 923v2M391 975v4M391 983v2M393 767v10M393 837v2M393 871v2M393 879v2M393 927v2M393 979v6M395 747v2M395 777v4M395 793v4M395 799v8M395 829v4M395 835v6M395 863v2M395 877v2M395 937v6M395 969v4M397 737v10M397 773v2M397 781v4M397 823v2M397 855v2M397 913v2M397 917v10M397 939v2M397 953v2M397 981v4M399 735v2M399 753v2M399 779v4M399 801v26M399 917v10M399 947v4M399 957v16M401 775v2M401 781v4M401 793v2M401 803v4M401 839v2M401 847v2M401 879v2M401 983v2M403 755v2M403 783v2M403 797v8M403 841v8M403 867v4M403 917v8M403 959v4M405 735v2M405 833v2M405 869v2M405 923v2M405 939v4M405 953v2M407 741v2M407 755v4M407 775v2M407 803v22M407 833v2M407 855v2M407 865v4M407 871v2M407 913v2M407 925v2M407 935v10M407 981v4"/>
<path stroke="#70a0f6" stroke-width="2" d="M37 765v2M37 797v2M37 843v2M37 911v2M37 931v2M37 969v2M37 977v2M37 981v2M39 891v2M39 971v2M39 979v2M39 983v2M41 765v2M41 791v4M41 805v4M41 839v2M41 851v2M41 947v2M43 729v4M43 737v4M43 763v2M43 789v2M43 817v2M43 823v2M43 905v2M45 753v2M45 803v4M45 841v20M45 927v2M45 981v2M47 765v2M47 773v2M47 785v8M47 937v2M47 953v2M47 967v2M59 835v2M59 839v6M59 847v2M59 889v10M59 903v4M61 811v2M61 819v2M61 889v2M63 805v4M63 839v4M63 899v4M65 795v2M65 801v2M67 783v2M67 899v2M67 905v2M69 783v2M69 815v2M69 821v2M69 973v2M71 749v2M71 771v6M71 807v2M71 973v2M73 749v2M73 753v2M73 809v2M73 829v2M75 725v2M75 753v2M75 779v2M75 801v2M75 805v4M75 819v2M75 837v2M75 841v2M75 845v2M77 721v2M77 759v2M77 781v2M77 789v2M77 793v4M77 815v2M77 971v2M79 759v2M79 807v2M79 837v4M79 843v2M79 945v2M79 951v2M81 765v2M81 779v8M81 791v2M81 817v2M83 817v2M83 949v2M83 959v2M83 977v2M85 723v2M85 821v2M85 825v4M85 871v2M85 875v6M85 903v2M85 941v2M85 961v4M85 967v2M85 975v2M85 979v2M87 735v2M87 805v2M87 809v2M87 879v4M87 889v2M87 903v2M87 949v6M87 961v2M87 965v2M87 975v2M89 791v2M89 795v2M89 799v2M89 869v4M89 891v2M89 903v2M89 939v4M89 945v2M89 969v2M89 973v2M89 977v2M89 983v2M91 767v2M91 777v2M91 805v2M91 815v2M91 821v2M91 825v2M91 863v2M91 871v2M91 887v2M91 891v2M91 901v2M91 907v4M91 979v6M93 831v2M93 863v2M93 875v2M93 887v2M93 891v2M93 895v2M93 899v4M93 981v4M95 737v2M95 789v2M95 793v2M95 799v6M95 819v6M95 835v2M95 845v2M95 849v4M95 855v2M95 861v2M95 879v2M95 897v2M95 905v4M97 741v2M97 759v4M97 789v4M97 797v2M97 809v6M97 845v4M97 881v2M97 885v2M97 889v4M97 897v2M97 905v2M97 923v2M99 835v2M99 897v2M99 905v6M99 981v2M101 813v2M101 831v2M101 873v2M103 741v2M103 795v2M103 807v2M103 815v2M103 889v6M103 909v4M103 919v2M103 931v2M105 739v2M105 799v2M105 827v2M105 875v4M105 881v4M105 913v2M105 925v4M107 901v4M107 955v6M109 741v2M109 799v2M109 821v4M109 827v2M109 871v8M109 971v2M111 751v2M111 757v2M111 765v2M111 787v2M111 791v2M111 805v4M111 819v2M111 829v2M111 875v2M113 785v4M113 871v2M113 879v2M115 737v2M115 795v4M115 831v2M115 839v4M115 873v2M115 929v2M115 933v2M115 937v2M115 983v2M117 739v2M117 819v2M117 839v2M117 843v4M117 901v2M119 735v2M119 831v2M119 835v4M119 851v2M119 867v2M119 871v4M119 877v2M119 881v2M119 905v2M121 735v2M121 769v2M121 823v2M121 841v4M121 849v2M121 879v4M121 887v4M121 893v2M121 983v2M123 785v2M123 839v2M123 893v2M123 913v2M123 917v2M123 979v2M123 983v2M125 753v2M125 757v4M125 801v2M125 825v2M125 895v2M125 905v2M125 911v2M127 765v2M127 793v2M127 803v2M127 821v2M127 889v2M127 911v2M127 973v2M129 735v2M129 799v2M129 803v2M129 827v8M129 881v4M129 967v2M131 773v2M131 807v2M131 845v4M131 875v2M131 905v2M131 945v2M131 955v2M133 891v2M133 921v2M133 947v4M133 953v2M133 957v2M135 961v2M137 765v2M137 775v2M137 787v4M137 829v2M137 833v6M137 899v6M137 919v2M137 951v2M137 961v2M139 765v2M139 787v4M139 819v2M139 943v2M141 739v8M141 785v4M141 813v2M141 817v2M141 861v2M141 869v2M141 885v4M141 891v10M141 923v2M141 935v6M143 743v4M143 787v4M143 797v4M143 817v2M143 903v4M143 919v2M143 939v2M143 947v2M145 739v2M145 913v2M147 735v2M147 787v4M147 811v2M147 821v2M147 853v2M147 873v6M147 901v6M147 909v2M149 735v2M149 755v2M149 773v4M149 827v2M149 853v4M149 873v4M151 741v4M151 747v2M151 755v4M151 825v2M151 861v2M151 871v2M151 911v2M153 741v2M153 819v2M153 879v2M153 911v2M153 921v2M155 737v2M155 775v2M155 809v2M155 815v2M155 871v2M155 879v2M155 883v4M155 889v2M155 897v2M155 907v2M155 927v2M157 745v2M157 767v2M157 783v4M157 789v2M157 797v4M157 813v2M157 817v2M157 835v2M157 839v2M157 855v2M157 861v6M157 869v2M157 885v2M157 895v2M157 967v2M157 979v2M159 741v2M159 783v2M159 799v2M159 817v2M159 821v4M159 827v2M159 831v2M159 893v4M159 913v2M159 969v4M161 789v4M161 851v4M161 861v4M161 875v2M161 901v2M161 905v2M161 923v2M161 971v4M161 979v2M161 983v2M163 757v2M163 761v2M163 801v2M163 847v2M163 865v4M163 871v2M163 889v2M163 895v6M163 931v2M163 951v4M163 957v2M163 961v2M165 755v2M165 801v2M165 843v2M165 873v2M165 963v4M167 741v2M167 747v2M167 753v2M167 757v4M167 763v6M167 773v2M167 791v4M167 837v2M167 841v2M167 869v4M167 921v2M169 749v2M169 757v2M169 791v4M169 857v2M169 917v6M169 953v2M171 781v2M171 791v2M171 805v2M171 809v2M171 813v2M171 843v4M171 869v4M171 877v4M171 907v6M171 929v2M171 951v4M171 959v4M171 981v4M173 741v6M173 759v2M173 781v2M173 785v2M173 789v2M173 871v2M173 875v2M173 889v6M173 919v8M173 931v2M173 937v6M173 965v2M173 969v2M173 977v4M173 983v2M175 741v2M175 787v4M175 811v8M175 847v2M175 917v2M175 923v2M175 933v2M175 937v10M175 955v2M177 741v2M177 745v2M177 765v2M177 805v8M177 821v2M177 827v2M177 839v2M177 883v2M177 923v2M177 933v2M177 937v2M177 945v2M177 951v2M177 955v2M177 967v2M177 979v4M179 747v2M179 751v4M179 767v4M179 785v2M179 859v10M179 885v2M179 933v4M179 939v2M179 943v2M179 953v4M179 963v2M181 749v2M181 761v2M181 765v2M181 801v2M181 805v8M181 821v10M181 843v4M181 859v2M181 881v2M181 889v2M181 923v6M181 955v2M181 961v2M183 783v4M183 883v4M183 889v4M183 949v2M185 737v4M185 767v6M185 779v8M185 801v2M185 819v2M185 883v10M185 923v2M185 979v2M187 757v2M187 771v2M187 787v2M187 877v4M187 883v2M189 747v2M189 759v2M189 771v2M189 787v12M189 833v2M189 947v6M189 965v2M189 981v4M191 875v6M191 907v4M191 969v2M193 791v2M193 801v2M193 845v4M193 863v4M193 883v2M193 941v10M195 741v4M195 841v10M195 857v6M195 883v4M195 919v2M195 937v18M197 793v2M197 803v8M197 853v4M197 879v2M197 933v8M197 959v6M199 769v2M199 855v2M199 919v2M199 931v16M199 959v4M201 749v4M201 773v4M201 779v4M201 789v2M201 811v2M201 931v2M201 945v16M203 757v10M203 789v4M203 881v2M203 929v4M203 943v4M203 959v2M203 975v2M205 749v2M205 827v2M205 927v6M205 939v4M205 945v2M205 955v2M207 735v2M207 821v2M207 837v4M207 849v4M209 763v2M209 817v2M209 831v8M209 873v2M209 911v2M209 919v2M209 941v2M209 961v4M211 759v2M211 773v2M211 795v2M211 841v2M211 857v6M211 927v2M211 981v2M213 767v2M213 799v2M213 807v4M213 869v2M215 771v2M215 783v2M215 805v4M215 813v14M215 837v2M215 861v2M215 935v2M217 747v2M217 763v6M217 841v2M219 775v2M219 809v8M219 953v2M221 769v2M221 817v8M221 955v2M223 957v2M223 977v2M225 831v2M225 835v2M225 863v2M225 919v8M225 953v2M225 965v2M227 831v4M227 837v4M227 855v2M227 873v2M229 851v2M231 773v2M231 799v2M231 941v2M231 955v2M233 765v2M233 859v2M233 877v4M233 969v4M235 755v2M235 831v2M235 877v2M235 913v4M235 927v4M237 751v2M237 783v2M237 819v8M237 869v2M237 877v4M239 737v2M239 787v2M239 813v8M239 837v2M239 859v2M239 867v4M241 765v8M241 821v8M241 929v6M243 775v2M243 827v2M243 869v2M245 793v2M245 797v2M245 827v2M245 855v2M245 917v6M245 957v2M247 755v2M247 759v4M247 793v2M247 917v6M247 965v2M249 753v6M249 827v2M249 873v2M249 923v2M249 935v2M249 979v4M251 827v2M251 867v4M251 939v2M251 981v2M253 835v2M253 925v2M253 939v2M253 965v8M255 859v4M255 925v2M255 941v2M255 951v2M255 983v2M257 749v2M257 765v2M257 783v4M257 799v2M257 827v6M257 845v2M257 865v4M257 871v4M257 877v2M257 933v2M257 939v2M257 959v14M257 983v2M259 751v4M259 783v2M259 869v2M259 913v2M259 951v2M259 961v4M261 851v4M261 869v2M261 879v2M261 915v2M261 923v2M261 947v2M261 953v4M263 923v2M265 777v2M265 835v4M265 855v6M267 757v2M267 785v4M267 833v4M267 857v2M267 955v2M269 777v2M269 793v2M271 879v2M271 977v2M273 803v10M273 825v4M273 839v2M273 843v2M273 853v2M273 939v2M273 945v2M273 971v2M275 827v2M275 837v4M275 873v4M275 913v2M275 933v2M275 969v4M277 765v2M277 771v2M277 849v20M277 871v4M277 919v4M277 943v2M277 963v2M279 745v4M279 785v2M279 855v14M279 871v4M279 977v6M281 747v2M281 829v2M281 845v2M281 855v6M281 975v8M283 749v2M283 827v2M283 879v2M283 943v2M283 957v2M285 743v2M285 749v2M285 795v2M285 835v2M285 841v2M285 867v2M285 879v2M285 913v4M285 927v2M287 801v6M287 827v2M287 877v2M287 965v4M287 979v4M289 765v4M289 829v2M289 861v2M289 939v2M289 967v2M289 979v2M291 757v4M291 787v4M291 875v2M291 937v2M291 971v4M293 739v4M293 837v2M293 843v2M293 949v2M293 973v2M295 757v10M295 869v4M295 957v2M295 969v2M295 981v2M297 763v2M297 855v4M297 869v6M297 927v2M297 957v2M297 977v6M299 773v2M299 797v2M299 859v2M299 933v2M299 967v14M301 759v2M301 785v2M301 823v6M301 941v6M303 751v2M303 779v8M303 795v4M303 845v2M303 949v18M305 737v2M305 789v2M305 915v6M305 931v8M305 957v2M307 793v4M307 809v4M307 827v2M307 947v12M309 755v2M309 775v2M309 829v2M309 939v2M309 949v2M309 983v2M311 825v4M311 831v2M311 861v8M311 871v2M311 917v6M313 739v6M313 831v4M313 841v2M313 857v2M313 925v2M313 955v4M315 739v6M315 833v2M315 841v2M315 869v2M315 949v2M315 983v2M317 739v6M317 755v10M317 787v18M317 933v2M317 943v2M317 959v2M317 975v2M319 755v2M319 803v4M319 849v8M319 955v4M319 971v4M321 759v2M321 773v2M321 835v2M321 861v2M321 871v2M321 931v2M323 841v10M323 913v2M323 933v2M323 955v2M323 979v2M325 757v2M325 787v2M325 807v8M325 843v2M325 873v4M325 959v4M325 981v4M327 757v2M327 973v6M327 981v2M329 829v2M329 845v2M329 859v2M329 879v2M329 917v2M329 963v8M331 739v2M331 797v2M331 837v8M333 761v2M333 771v4M333 779v12M333 923v6M337 757v4M337 777v2M337 789v4M337 797v4M337 841v2M337 853v2M337 913v2M337 983v2M339 769v4M339 791v12M339 929v4M341 793v10M341 837v16M341 877v2M341 923v12M341 941v2M341 957v4M341 977v6M343 741v2M343 771v6M343 827v2M343 847v2M343 875v2M343 915v2M343 943v8M345 939v4M347 741v4M347 827v2M347 863v2M347 877v2M349 769v6M349 939v2M349 957v2M351 827v2M351 839v2M351 947v2M351 955v2M353 781v2M353 829v2M353 851v2M355 745v2M355 775v4M355 865v2M355 877v2M355 981v2M357 737v4M357 837v2M357 869v2M357 915v2M357 935v2M359 739v2M359 789v2M359 799v2M359 869v2M359 923v4M359 935v8M361 797v4M361 849v12M361 925v10M361 943v6M361 961v4M363 745v2M363 761v2M363 793v6M363 913v2M363 931v2M363 935v12M365 747v6M365 769v2M365 913v6M365 947v2M365 957v2M367 939v2M367 947v4M367 957v4M367 979v2M369 815v8M369 953v2M371 835v2M371 915v6M373 813v6M373 821v8M373 841v2M373 857v2M373 863v2M373 921v4M373 937v2M373 951v4M375 813v2M375 843v2M375 853v6M375 913v2M375 931v6M375 949v6M375 963v4M375 979v4M377 739v4M377 805v12M377 859v6M377 867v4M377 913v2M377 947v10M377 975v4M377 983v2M379 739v6M379 753v2M379 813v18M379 841v2M379 863v2M379 915v2M379 961v12M379 983v2M381 747v8M381 919v4M381 927v4M381 941v2M381 969v2M381 983v2M383 749v4M383 775v4M383 933v2M385 751v8M385 857v2M385 865v2M385 943v8M387 751v6M387 809v4M387 827v4M387 859v8M387 923v2M389 739v2M389 749v4M389 755v4M389 829v2M389 853v2M389 927v2M389 939v2M389 951v2M389 957v10M391 745v2M391 751v6M391 767v4M391 773v2M391 829v2M391 839v8M391 863v2M391 913v4M391 919v4M391 979v4M393 749v2M393 777v2M393 797v4M393 829v2M393 873v6M393 913v2M395 775v2M395 797v2M395 833v2M395 853v2M395 861v2M397 775v6M397 825v4M397 843v12M397 941v2M397 949v4M397 963v2M397 977v4M399 749v4M399 783v18M399 827v4M399 857v2M399 913v4M401 777v4M401 795v8M401 841v6M401 855v2M401 877v2M401 947v2M401 981v2M403 757v4M403 963v4M403 983v2M405 745v4M405 835v2M405 849v2M405 919v4M405 955v2M405 983v2M407 737v4M407 759v2M407 835v2M407 853v2M407 869v2M407 915v2M407 953v2M407 963v6"/>
<path stroke="#71c4f7" stroke-width="2" d="M37 749v2M37 803v2M37 823v2M37 891v2M37 909v2M37 979v2M39 837v2M39 909v2M39 913v2M39 921v2M41 789v2M43 733v4M43 749v2M43 791v2M43 837v2M43 965v2M45 751v2M45 779v2M45 793v2M45 807v2M45 829v12M45 861v10M45 925v2M45 983v2M47 763v2M47 771v2M47 793v2M47 935v2M47 945v2M47 959v2M47 969v4M57 741v2M59 817v2M59 833v2M59 845v2M59 887v2M59 899v2M61 791v2M61 807v2M61 821v4M61 835v4M61 887v2M61 907v4M63 829v2M63 833v4M63 891v2M63 983v2M65 771v2M65 781v4M65 825v2M65 897v2M67 819v2M67 853v2M67 885v2M67 897v2M67 903v2M67 907v2M69 771v2M69 811v4M69 823v2M69 907v2M69 953v2M69 965v4M69 971v2M69 977v2M71 745v4M71 755v2M71 767v2M71 777v2M71 801v2M71 875v6M71 885v4M71 971v2M73 743v6M73 751v2M73 755v6M73 763v2M73 769v2M73 801v2M73 807v2M73 813v2M73 825v4M73 831v2M75 781v2M75 797v4M75 803v2M75 809v10M75 831v2M75 835v2M75 937v2M77 755v4M77 785v4M77 819v2M77 835v2M77 847v2M77 937v2M77 943v6M77 969v2M77 973v2M79 757v2M79 809v2M79 813v4M79 841v2M79 943v2M79 953v4M79 971v2M81 757v2M81 761v2M81 787v2M81 823v2M81 951v2M83 829v2M83 973v4M83 983v2M85 725v2M85 817v4M85 835v4M85 867v4M85 873v2M85 881v2M85 899v4M85 905v2M85 939v2M85 945v2M85 965v2M85 977v2M85 981v2M87 787v4M87 871v2M87 891v2M87 899v2M87 959v2M87 963v2M87 969v2M87 979v2M89 735v2M89 753v2M89 757v4M89 767v2M89 793v2M89 819v2M89 863v2M89 905v2M89 965v2M91 735v2M91 753v2M91 765v2M91 769v2M91 773v2M91 785v2M91 807v2M91 813v2M91 817v2M91 823v2M91 885v2M91 893v4M93 775v4M93 787v2M93 833v2M93 873v2M93 883v4M93 911v2M93 979v2M95 739v10M95 773v6M95 795v2M95 817v2M95 841v4M95 859v2M95 895v2M95 903v2M95 909v2M97 743v2M97 757v2M97 773v2M97 777v2M97 785v2M97 793v2M97 803v4M97 815v4M97 841v2M97 849v6M97 875v4M97 887v2M97 895v2M97 903v2M97 909v4M97 925v2M97 961v4M99 813v6M99 837v6M99 857v6M99 877v2M99 891v2M99 895v2M99 899v2M99 903v2M99 979v2M101 833v2M101 871v2M101 909v2M101 913v2M101 965v4M101 977v4M103 743v2M103 755v4M103 781v2M103 785v4M103 809v6M103 885v4M103 905v4M103 913v2M105 793v2M105 797v2M105 829v2M105 871v4M105 919v6M105 929v2M105 951v2M107 743v2M107 821v4M107 867v2M107 897v4M107 909v2M107 953v2M107 961v2M109 791v2M109 801v2M109 825v2M109 891v2M109 925v6M109 941v2M109 951v2M109 973v6M111 743v8M111 763v2M111 767v2M111 781v6M111 789v2M111 833v2M111 871v2M111 877v2M111 927v2M113 769v6M113 789v4M113 833v2M113 869v2M113 927v4M113 981v4M115 739v2M115 761v2M115 765v2M115 785v4M115 793v2M115 829v2M115 837v2M115 859v2M115 867v6M115 875v4M115 893v2M115 905v2M115 931v2M115 935v2M115 939v6M115 981v2M117 821v2M117 831v2M117 835v4M117 847v2M117 867v2M117 903v2M119 755v2M119 819v4M119 869v2M119 981v4M121 767v2M121 771v4M121 825v2M121 871v4M121 877v2M121 885v2M121 891v2M121 907v2M121 979v4M123 755v2M123 763v2M123 797v2M123 889v4M123 919v6M123 981v2M125 737v2M125 749v2M125 761v2M125 827v2M125 887v4M125 893v2M125 915v4M125 931v2M125 979v2M127 763v2M127 807v2M127 887v2M127 913v6M127 933v4M127 971v2M129 773v2M129 797v2M129 809v4M129 825v2M129 835v2M129 903v2M129 965v2M129 969v2M131 809v4M131 815v2M131 823v2M131 837v2M131 841v4M131 849v2M131 871v4M131 907v2M131 917v2M131 943v2M131 947v4M131 953v2M131 965v2M131 981v2M133 815v2M133 827v2M133 835v2M133 849v2M133 867v4M133 917v4M133 925v2M133 945v2M133 959v2M135 813v2M135 847v2M135 891v2M135 951v2M135 963v4M137 767v2M137 777v2M137 793v4M137 839v2M137 861v2M137 923v6M137 947v4M139 739v2M139 763v2M139 775v2M139 785v2M139 793v2M139 815v4M139 831v2M139 835v4M139 861v2M139 919v4M139 935v8M139 949v2M139 983v2M141 771v2M141 797v2M141 811v2M141 815v2M141 819v2M141 831v2M141 835v2M141 875v2M141 889v2M141 925v2M141 933v2M143 783v4M143 801v2M143 805v2M143 809v2M143 819v2M143 901v2M143 921v2M143 935v4M145 741v2M145 791v2M145 795v6M145 805v2M145 821v2M145 915v2M147 753v2M147 779v2M147 783v4M147 795v2M147 823v2M147 851v2M147 855v2M147 871v2M147 893v2M147 899v2M147 911v2M149 757v2M149 771v2M149 795v2M149 821v4M149 837v2M149 911v2M149 949v2M149 953v4M149 965v2M149 969v2M149 973v4M151 737v4M151 745v2M151 791v2M151 809v4M151 817v2M151 821v4M151 827v4M151 853v2M151 857v4M151 863v2M151 913v4M153 739v2M153 769v4M153 785v2M153 805v2M153 821v2M153 825v2M153 873v4M153 913v4M153 925v10M153 969v2M155 785v2M155 791v2M155 799v2M155 807v2M155 835v4M155 853v4M155 859v4M155 867v2M155 877v2M155 891v2M155 899v4M155 909v2M155 921v6M155 939v2M155 969v2M155 973v2M157 739v6M157 771v2M157 787v2M157 793v2M157 801v2M157 833v2M157 843v2M157 849v4M157 859v2M157 889v6M157 909v4M157 933v4M157 981v2M159 747v2M159 785v4M159 801v2M159 819v2M159 825v2M159 855v2M159 881v2M159 891v2M159 915v2M159 967v2M161 769v8M161 787v2M161 797v8M161 807v2M161 859v2M161 871v4M161 877v10M161 891v6M161 899v2M161 925v4M161 969v2M161 977v2M161 981v2M163 763v4M163 793v4M163 823v2M163 831v4M163 869v2M163 941v4M163 947v2M163 955v2M163 959v2M165 783v4M165 845v4M165 871v2M165 931v2M165 961v2M167 769v4M167 775v6M167 839v2M167 843v2M167 847v2M167 863v6M167 945v8M167 983v2M169 773v8M169 835v2M169 845v2M169 879v2M169 983v2M171 737v2M171 755v4M171 815v2M171 821v2M171 829v2M171 841v2M171 875v2M171 915v2M171 927v2M171 931v8M171 941v10M171 955v4M171 963v2M173 779v2M173 791v4M173 815v8M173 865v6M173 873v2M173 877v6M173 885v4M173 913v2M175 807v4M175 819v4M175 839v2M175 849v2M175 861v4M175 913v2M175 919v4M175 953v2M175 957v4M177 797v2M177 813v8M177 823v4M177 829v2M177 835v4M177 939v6M177 953v2M177 957v2M177 983v2M179 749v2M179 763v4M179 787v4M179 797v2M179 803v6M179 845v8M179 857v2M179 883v2M179 911v2M179 929v4M179 937v2M179 941v2M179 957v6M181 763v2M181 883v6M181 957v4M183 775v4M183 781v2M183 887v2M183 951v4M183 961v4M185 741v2M185 943v2M187 737v2M187 753v4M187 773v2M187 833v2M187 847v2M187 965v2M189 749v10M189 785v2M189 835v2M189 857v2M189 967v2M191 737v4M191 869v6M191 911v2M191 917v2M193 793v2M193 799v2M193 867v2M193 967v2M195 739v2M195 863v6M195 881v2M195 913v6M197 767v2M197 789v4M197 795v8M197 857v2M197 871v8M199 793v20M199 871v2M199 913v6M199 951v2M199 957v2M201 777v2M201 791v2M201 803v8M201 933v2M201 939v6M203 879v2M203 933v4M203 939v4M203 973v2M205 751v2M205 761v2M205 837v2M205 851v2M205 863v2M205 913v6M205 933v6M205 947v2M207 747v2M207 823v4M207 833v4M207 853v2M207 867v2M207 919v2M209 751v2M209 953v2M209 979v6M211 793v2M211 863v2M211 873v2M211 939v2M213 781v2M213 801v6M213 955v2M215 781v2M215 809v4M215 827v2M215 879v2M215 961v2M217 761v2M217 831v2M217 959v2M219 777v8M219 801v8M219 869v2M219 945v2M219 949v4M221 767v2M221 825v4M221 839v2M221 851v2M221 945v2M223 835v2M223 959v2M225 833v2M225 849v2M225 947v6M225 967v4M225 983v2M227 783v2M227 835v2M227 871v2M227 953v2M231 775v2M231 795v4M233 737v2M233 763v2M233 913v2M233 951v2M235 875v2M235 917v10M237 775v2M237 779v4M237 827v2M239 741v2M239 777v2M239 785v2M239 821v8M239 861v2M239 865v2M239 913v4M241 829v4M241 863v2M241 873v2M243 765v2M243 773v2M243 829v2M243 865v4M245 795v2M245 829v2M245 959v2M245 973v2M247 757v2M247 957v8M249 839v2M249 875v4M251 737v2M251 767v2M251 829v2M251 849v2M251 923v2M251 937v2M251 941v2M251 961v10M251 977v4M253 877v2M255 757v2M255 775v2M255 927v2M255 939v2M255 953v2M255 967v16M257 787v12M257 863v2M257 869v2M257 875v2M257 935v4M257 973v6M259 755v2M259 767v2M259 915v2M259 921v2M259 953v8M261 873v2M261 917v6M261 949v4M263 925v2M263 933v2M265 925v4M265 951v2M267 781v4M267 853v4M267 923v2M267 953v2M269 779v10M269 791v2M269 839v2M269 857v2M269 879v2M269 915v2M269 949v2M271 843v2M271 913v2M271 955v22M273 829v2M273 837v2M273 845v8M273 913v2M273 947v2M273 959v12M275 829v8M275 841v4M275 871v2M275 915v2M275 931v2M275 943v2M275 965v4M277 767v4M277 869v2M277 945v2M277 961v2M279 763v2M279 781v4M279 869v2M281 831v2M283 829v2M283 839v2M283 875v2M283 945v2M283 955v2M285 745v4M285 777v2M285 793v2M285 837v4M285 917v4M285 925v2M287 829v2M287 969v10M289 769v6M289 781v10M289 857v4M289 919v2M289 937v2M289 977v2M291 761v16M291 781v6M291 857v2M291 915v2M293 743v2M293 783v2M293 839v4M293 917v4M293 947v2M295 929v2M295 955v2M295 971v4M295 977v4M297 929v4M297 955v2M299 775v22M299 861v2M299 877v2M299 935v2M299 959v8M301 761v2M301 783v2M301 829v2M301 867v4M301 925v4M301 935v6M303 753v2M303 775v4M303 787v2M303 793v2M303 847v6M305 739v2M305 843v2M305 853v2M305 939v4M305 955v2M307 775v2M307 781v12M307 829v2M307 849v2M309 757v2M309 773v2M309 831v2M309 837v4M309 941v2M309 947v2M309 971v2M309 979v4M311 829v2M311 869v2M311 923v4M311 947v2M313 835v6M313 859v2M313 927v28M315 835v6M315 843v2M315 917v2M315 945v4M315 977v6M317 765v2M317 783v4M317 935v8M317 961v2M317 967v8M319 781v2M321 761v2M321 837v2M321 859v2M321 873v6M323 763v2M323 773v2M323 915v2M323 931v2M323 957v4M323 971v2M325 771v6M325 779v8M325 845v4M325 855v14M325 871v2M325 963v8M325 977v4M327 771v2M327 979v2M329 759v2M329 773v2M329 831v2M329 861v8M329 871v4M331 779v2M337 761v6M337 773v4M337 793v4M337 843v2M337 851v2M337 915v2M337 975v8M339 737v2M339 765v4M341 759v2M341 853v4M341 875v2M341 943v14M341 961v16M343 743v8M343 829v4M343 845v2M343 861v2M343 873v2M343 917v4M343 923v4M345 925v4M345 935v4M347 745v2M347 767v2M347 829v8M347 865v4M347 871v6M349 753v2M349 765v4M349 955v2M351 749v2M351 775v2M351 829v2M351 949v2M351 953v2M353 747v2M353 779v2M353 831v8M353 853v2M353 877v2M355 743v2M355 867v2M355 967v14M357 839v10M357 917v2M359 791v8M361 787v10M361 935v8M361 949v12M363 747v2M363 759v2M363 915v2M365 737v2M365 741v6M365 753v4M365 767v2M365 845v2M365 875v4M365 949v8M367 737v2M367 745v2M367 867v2M367 877v2M367 929v4M367 935v4M367 951v6M369 935v2M369 945v8M371 837v4M371 851v4M373 819v2M373 829v2M373 859v4M373 925v4M373 935v2M375 831v2M375 841v2M375 915v2M375 927v4M375 955v8M377 865v2M377 915v2M377 933v2M377 979v4M379 755v2M379 771v2M379 843v2M379 861v2M379 917v4M379 937v2M379 973v6M379 981v2M381 923v4M381 971v4M381 981v2M383 753v16M383 771v4M383 935v2M385 859v6M387 831v2M387 835v2M387 925v4M387 947v2M389 737v2M389 753v2M389 831v2M389 847v6M389 929v10M389 953v4M391 737v2M391 743v2M391 771v2M391 831v8M391 847v10M391 861v2M391 917v2M393 765v2M393 779v18M393 831v6M393 915v2M393 925v2M395 855v6M395 975v2M395 983v2M397 841v2M397 943v6M397 965v4M397 973v4M399 743v6M399 831v2M399 851v6M401 857v8M401 873v4M401 949v2M401 977v4M403 761v6M403 781v2M403 967v16M405 737v2M405 743v2M405 749v4M405 777v2M405 837v2M405 847v2M405 913v6M405 957v26M407 773v2M407 837v2M407 955v8"/>
<path stroke="#76ddf7" stroke-width="2" d="M37 775v2M41 837v2M41 913v2M41 945v2M43 947v2M45 719v4M45 745v6M45 809v20M45 871v14M45 923v2M45 951v2M45 965v2M47 761v2M47 779v2M47 795v4M47 933v2M47 951v2M47 957v2M47 961v2M47 965v2M47 973v4M49 943v2M49 947v10M57 739v2M57 743v4M57 879v14M59 737v2M59 755v2M59 813v4M59 849v2M59 865v4M59 907v2M61 793v4M61 805v2M61 809v2M61 825v2M61 833v2M61 839v4M61 847v2M61 855v2M61 859v2M61 863v4M61 931v2M63 803v2M63 827v2M63 843v2M63 903v2M63 969v2M63 975v2M63 981v2M65 887v2M65 893v4M65 899v4M67 747v2M67 769v2M67 813v6M67 821v4M67 845v4M67 851v2M67 855v2M67 867v4M67 883v2M67 887v2M67 895v2M67 965v4M69 747v6M69 769v2M69 809v2M69 877v4M69 885v2M69 901v6M69 909v4M69 945v6M69 955v2M69 963v2M69 969v2M71 743v2M71 765v2M71 779v6M71 803v4M71 825v4M71 883v2M71 909v4M71 937v2M71 953v2M73 741v2M73 767v2M73 803v2M73 833v4M73 839v4M73 845v2M73 971v4M75 749v4M75 783v8M75 793v4M75 821v2M75 833v2M75 847v2M75 927v10M75 939v6M77 723v4M77 749v2M77 753v2M77 783v2M77 791v2M77 817v2M77 831v4M77 931v2M77 935v2M77 939v4M77 949v6M77 975v4M79 811v2M79 819v2M79 845v2M79 885v2M79 941v2M79 969v2M79 973v2M81 755v2M81 759v2M81 793v2M81 837v2M81 867v2M81 947v4M81 953v6M83 743v12M83 825v4M83 837v2M83 943v2M83 947v2M85 895v2M85 973v2M87 737v2M87 751v4M87 867v2M87 877v2M87 893v4M87 901v2M87 905v2M87 921v2M87 933v2M87 955v4M87 971v4M87 977v2M87 981v2M89 751v2M89 755v2M89 761v6M89 771v2M89 789v2M89 807v2M89 813v6M89 879v4M89 893v8M89 949v4M91 751v2M91 755v10M91 781v2M91 827v2M91 861v2M91 873v4M91 883v2M91 939v2M93 739v4M93 859v4M93 877v2M93 881v2M93 939v2M95 749v2M95 759v4M95 769v2M95 781v2M95 857v2M95 899v4M95 911v2M95 979v6M97 755v2M97 765v6M97 775v2M97 779v6M97 787v2M97 795v2M97 799v4M97 855v2M97 879v2M97 883v2M97 899v4M97 957v2M97 965v4M97 973v2M97 977v6M99 875v2M99 881v2M99 885v2M99 889v2M99 901v2M99 913v2M99 977v2M99 983v2M101 835v2M101 907v2M101 915v4M101 929v2M101 969v2M103 753v2M103 761v2M103 779v2M103 783v2M103 875v4M103 881v4M103 895v2M103 899v2M103 903v2M103 915v4M103 933v2M105 741v2M105 781v2M105 789v4M105 795v2M105 831v2M105 835v6M105 845v2M105 849v8M105 865v4M105 879v2M105 915v2M105 949v2M107 745v4M107 759v4M107 865v2M107 869v2M107 911v2M107 949v2M107 963v2M107 971v2M107 977v2M109 747v2M109 803v2M109 867v4M109 887v4M109 893v2M109 907v2M109 943v2M109 959v2M109 963v8M109 979v4M111 779v2M111 869v2M111 925v2M111 963v6M111 971v4M111 977v2M111 981v2M113 739v2M113 755v2M113 761v2M113 765v4M113 829v2M113 881v2M113 931v2M113 937v2M113 961v6M115 763v2M115 789v4M115 833v4M115 843v10M115 861v2M115 865v2M115 879v2M115 887v2M115 891v2M115 895v2M115 903v2M115 907v2M115 927v2M117 799v12M117 813v6M117 833v2M117 849v2M117 859v2M117 865v2M117 869v4M117 887v6M117 905v2M117 933v2M117 937v2M119 753v2M119 757v2M119 817v2M119 833v2M119 853v10M119 865v2M119 875v2M119 965v2M119 973v8M121 775v2M121 779v2M121 817v6M121 839v2M121 851v2M121 875v2M121 909v4M121 977v2M123 737v2M123 757v4M123 799v4M123 825v2M123 837v2M123 851v2M123 855v2M123 861v2M123 887v2M123 925v8M125 739v4M125 745v4M125 751v2M125 821v4M125 865v10M125 883v2M125 891v2M125 913v2M125 919v4M125 925v2M125 929v2M125 981v4M127 767v2M127 791v2M127 809v2M127 817v4M127 925v2M127 929v4M127 967v4M129 737v4M129 765v4M129 795v2M129 823v2M129 837v4M129 867v10M129 905v4M129 917v2M131 771v2M131 775v4M131 801v6M131 821v2M131 825v2M131 835v2M131 851v2M131 913v2M131 919v4M131 957v4M131 963v2M131 967v2M131 975v4M133 797v2M133 817v4M133 829v6M133 851v2M133 861v4M133 893v4M133 923v2M133 927v2M133 943v2M133 961v4M135 797v2M135 849v2M135 859v2M135 893v6M135 953v2M135 967v2M137 739v2M137 763v2M137 769v2M137 779v2M137 783v4M137 813v2M137 929v6M137 945v2M137 963v2M139 741v2M139 777v2M139 783v2M139 795v2M139 813v2M139 821v2M139 833v2M139 951v4M139 957v4M139 965v2M139 979v4M141 747v4M141 761v2M141 769v2M141 773v6M141 783v2M141 799v2M141 833v2M141 857v4M141 881v4M141 927v2M141 931v2M141 949v2M143 771v2M143 775v4M143 781v2M143 803v2M143 807v2M143 923v2M143 933v2M143 949v2M145 743v4M145 787v4M145 793v2M145 801v4M147 737v2M147 755v2M147 791v4M147 809v2M147 895v4M147 913v4M147 919v2M149 737v2M149 751v2M149 791v4M149 817v2M149 841v2M149 849v4M149 857v2M149 871v2M149 915v2M149 931v4M149 951v2M149 957v2M149 963v2M149 977v4M151 759v2M151 771v2M151 813v4M151 819v2M151 831v2M153 743v2M153 749v6M153 757v2M153 767v2M153 787v4M153 803v2M153 823v2M153 827v2M153 871v2M153 877v2M153 917v4M153 923v2M153 935v4M155 739v4M155 751v2M155 787v4M155 797v2M155 805v2M155 819v2M155 825v4M155 833v2M155 839v2M155 843v2M155 849v2M155 857v2M155 863v2M155 869v2M155 893v4M155 911v10M155 967v2M155 971v2M157 747v2M157 795v2M157 803v10M157 815v2M157 819v4M157 827v2M157 841v2M157 845v4M157 857v2M157 913v2M157 929v4M157 937v4M157 965v2M157 983v2M159 803v2M159 813v2M159 829v2M159 867v2M159 883v8M159 917v2M159 975v6M161 777v10M161 805v2M161 809v4M161 817v2M161 833v2M161 855v4M161 869v2M161 889v2M161 897v2M161 903v2M161 929v2M161 949v2M161 967v2M161 975v2M163 767v2M163 789v2M163 825v2M163 849v2M163 861v4M163 939v2M163 945v2M165 787v4M165 859v4M165 865v2M165 869v2M165 933v2M165 959v2M167 845v2M167 857v6M167 953v2M167 981v2M169 747v2M169 759v4M169 767v4M169 837v2M169 841v4M169 859v6M169 955v2M169 981v2M171 739v2M171 751v4M171 779v2M171 817v4M171 823v6M171 873v2M171 913v2M171 917v4M171 923v4M171 939v2M171 965v4M171 975v6M173 761v8M173 777v2M173 795v2M173 807v2M173 811v4M173 841v2M173 845v4M173 861v4M173 883v2M175 791v4M175 805v2M175 823v2M175 961v2M175 971v6M177 799v6M177 831v2M177 913v6M177 921v2M177 959v8M179 795v2M179 799v4M179 809v2M179 835v2M179 841v4M179 853v4M179 879v4M181 847v2M181 855v4M183 737v2M183 769v6M183 779v2M183 955v6M185 925v2M187 751v2M187 775v2M187 785v2M187 951v10M187 963v2M189 773v2M189 781v4M189 969v2M189 979v2M191 741v2M191 913v4M191 971v2M193 795v4M193 881v2M193 969v10M193 981v4M195 737v2M197 783v6M197 859v4M197 867v4M199 771v2M199 789v4M199 953v4M201 793v2M201 801v2M201 935v4M203 855v2M203 937v2M203 961v12M205 759v2M205 829v2M205 861v2M205 949v6M207 745v2M207 827v6M207 855v2M207 865v2M207 933v2M209 843v2M209 871v2M209 943v2M211 775v2M211 781v12M211 843v2M211 855v2M211 865v2M211 871v2M211 929v2M213 913v2M215 829v2M217 749v4M217 757v4M217 833v2M217 837v4M217 941v2M219 785v8M219 799v2M219 843v2M219 947v2M221 737v4M221 753v2M221 947v2M221 953v2M223 869v2M223 961v16M225 851v2M225 861v2M225 971v4M227 753v2M227 769v2M227 781v2M227 857v2M227 865v6M227 919v2M227 945v2M227 949v4M229 853v4M229 875v2M231 777v18M231 943v2M231 953v2M233 915v2M233 929v8M235 833v2M235 851v4M235 873v2M237 749v2M237 777v2M237 829v2M237 833v2M239 739v2M239 779v6M239 829v2M239 863v2M241 865v2M241 871v2M243 767v6M243 831v4M243 861v4M245 961v12M249 829v2M249 925v2M249 933v2M251 739v2M251 925v2M251 935v2M251 943v2M251 955v6M251 971v6M253 875v2M253 927v2M253 937v2M255 759v4M255 771v4M255 877v2M255 929v4M255 955v12M257 751v2M257 763v2M257 847v2M257 979v4M259 757v2M259 765v2M259 917v4M261 875v4M263 927v6M265 753v2M265 929v10M265 947v4M267 759v2M267 779v2M267 837v2M267 843v10M267 925v4M267 951v2M269 789v2M269 831v2M271 877v2M271 915v2M271 951v4M273 831v6M273 915v2M273 937v2M273 949v10M275 737v2M275 749v2M275 845v2M275 865v6M275 917v2M275 925v6M275 945v2M275 963v2M277 947v4M277 955v6M279 765v2M279 779v2M281 737v2M281 833v12M283 747v2M283 831v8M283 877v2M283 947v8M285 779v14M285 869v4M285 877v2M285 921v4M287 831v2M287 837v14M287 873v4M289 775v6M289 831v4M289 851v6M289 921v2M289 935v2M289 969v8M291 777v4M291 859v2M291 871v4M291 917v4M291 935v2M293 745v2M293 781v2M293 921v6M293 939v8M295 931v2M295 951v4M295 975v2M297 737v2M297 761v2M297 933v2M297 953v2M299 863v2M299 875v2M299 937v4M299 955v4M301 763v4M301 781v2M301 831v4M301 861v6M301 929v6M303 755v4M303 767v8M303 789v4M305 845v8M305 943v12M307 777v4M307 831v4M307 847v2M309 759v4M309 765v8M309 833v4M309 943v4M309 973v6M311 927v20M313 861v2M313 875v2M315 845v12M315 867v2M315 933v12M317 767v8M317 779v4M317 963v4M319 757v2M321 763v2M321 771v2M321 839v20M323 765v2M323 917v14M323 961v10M325 759v4M325 767v4M325 777v2M325 849v6M325 869v2M325 971v6M327 759v2M327 769v2M329 833v12M329 869v2M329 875v4M331 741v4M333 745v2M333 759v2M337 767v6M337 845v6M337 917v2M337 935v2M339 739v2M339 761v4M341 737v2M341 755v4M341 857v12M341 871v4M343 833v12M343 863v6M343 871v2M343 921v2M345 929v6M347 747v4M347 869v2M349 755v10M349 941v4M349 953v2M351 773v2M351 831v8M351 951v2M353 749v2M353 773v6M353 855v14M353 871v6M355 737v2M355 741v2M355 871v6M357 919v16M363 749v10M363 917v4M363 929v2M365 739v2M365 757v10M365 847v14M365 865v4M365 871v4M367 739v6M367 869v8M367 933v2M369 937v8M371 841v10M373 831v4M373 837v4M373 929v6M375 833v8M375 917v2M375 923v4M377 931v2M379 757v14M379 845v16M379 921v2M379 935v2M379 979v2M381 975v6M383 769v2M383 937v2M383 943v2M387 833v2M387 929v10M389 833v14M391 739v4M391 857v4M393 763v2M393 917v8M395 749v2M395 773v2M395 977v6M397 829v2M397 839v2M397 969v4M399 737v6M399 833v18M401 865v4M401 871v2M401 951v12M401 971v6M403 767v8M403 779v2M405 739v4M405 753v2M405 839v2M405 845v2M407 761v4M407 771v2M407 839v2M407 851v2M407 917v2M407 923v2"/>
<path stroke="#7deef6" stroke-width="2" d="M39 845v2M43 793v2M45 723v6M45 741v4M45 885v38M45 945v2M47 755v6M47 799v4M47 929v4M47 977v4M49 781v4M49 939v4M49 945v2M57 747v4M57 807v14M57 823v16M57 865v14M57 893v4M57 901v2M57 905v4M59 751v4M59 761v2M59 793v6M59 807v6M59 853v2M59 883v4M59 909v2M59 975v2M59 983v2M61 797v4M61 827v2M61 843v4M61 849v2M61 853v2M61 857v2M61 861v2M61 867v2M61 883v2M61 911v8M61 965v2M63 797v6M63 831v2M63 887v4M63 905v4M63 915v2M63 919v2M63 923v2M63 965v4M63 971v4M63 977v4M65 747v2M65 785v2M65 793v2M65 883v4M65 891v2M65 905v4M65 919v2M65 973v4M65 983v2M67 745v2M67 749v4M67 785v4M67 795v2M67 811v2M67 841v4M67 849v2M67 857v10M67 871v12M67 889v2M67 893v2M67 919v2M69 745v2M69 753v2M69 757v2M69 785v6M69 801v2M69 825v2M69 829v2M69 875v2M69 881v4M69 887v2M69 899v2M69 941v4M69 951v2M69 959v4M71 741v2M71 799v2M71 829v2M71 871v4M71 881v2M71 889v2M71 907v2M71 939v14M71 969v2M73 719v2M73 765v2M73 771v4M73 795v6M73 805v2M73 837v2M73 843v2M73 887v2M73 909v4M75 727v2M75 823v2M75 829v2M75 887v2M75 909v2M75 925v2M75 945v4M75 975v4M75 981v4M77 719v2M77 739v10M77 751v2M77 893v2M77 907v6M77 929v2M77 933v2M77 955v2M77 967v2M77 979v4M79 739v6M79 755v2M79 817v2M79 821v2M79 833v4M79 847v2M79 875v2M79 879v6M79 957v2M79 979v4M81 747v8M81 825v2M81 829v6M81 859v8M81 869v8M81 943v2M81 959v2M81 969v2M83 741v2M83 755v6M83 831v4M83 913v4M83 961v12M85 839v2M85 865v2M85 883v4M85 893v2M85 897v2M85 907v2M85 911v6M85 969v4M85 983v2M87 741v2M87 749v2M87 785v2M87 811v2M87 823v4M87 829v2M87 865v2M87 869v2M87 873v4M87 897v2M87 915v2M87 919v2M87 923v2M89 737v2M89 769v2M89 787v2M89 801v4M89 809v2M89 821v4M89 873v4M89 901v2M89 907v4M89 919v4M89 935v4M89 953v2M89 959v4M91 737v2M91 779v2M91 809v4M91 829v2M91 859v2M91 943v4M91 967v2M93 745v2M93 771v4M93 781v2M93 785v2M93 853v2M93 879v2M93 913v2M93 937v2M93 945v2M95 751v6M95 765v4M95 771v2M95 779v2M95 785v4M97 745v2M97 763v2M97 771v2M97 843v2M97 861v2M97 865v10M97 921v2M97 927v2M97 959v2M97 969v4M97 975v2M99 843v2M99 863v2M99 867v2M99 871v4M99 879v2M99 883v2M99 887v2M99 915v4M99 967v2M99 973v2M101 757v4M101 799v14M101 837v2M101 895v6M101 905v2M101 927v2M101 971v6M103 745v2M103 773v2M103 871v4M103 897v2M103 901v2M103 939v8M105 743v2M105 783v2M105 833v2M105 841v4M105 847v2M105 857v2M105 861v4M105 869v2M105 917v2M105 931v2M105 947v2M105 953v2M105 977v8M107 793v6M107 801v2M107 807v2M107 815v2M107 819v2M107 825v2M107 933v2M107 947v2M107 965v4M107 973v4M107 979v4M109 743v4M109 761v2M109 787v4M109 805v4M109 819v2M109 829v4M109 865v2M109 881v2M109 885v2M109 895v2M109 923v2M109 945v4M109 953v6M109 961v2M109 983v2M111 769v2M111 775v4M111 809v2M111 813v2M111 837v6M111 849v2M111 923v2M111 929v2M111 969v2M111 975v2M111 979v2M111 983v2M113 753v2M113 759v2M113 837v4M113 851v2M113 865v4M113 925v2M113 933v4M113 939v2M113 979v2M115 759v2M115 857v2M115 863v2M115 881v2M115 885v2M115 889v2M115 897v6M115 909v2M115 965v2M115 979v2M117 781v4M117 795v4M117 811v2M117 851v2M117 861v4M117 873v2M117 907v2M117 929v4M117 935v2M117 939v6M119 737v2M119 759v2M119 797v2M119 801v2M119 815v2M119 907v2M119 967v2M119 971v2M121 763v4M121 777v2M121 795v4M121 801v2M121 815v2M121 827v2M121 837v2M121 855v2M121 867v4M121 925v2M121 975v2M123 747v8M123 807v2M123 821v4M123 827v6M123 853v2M123 859v2M123 865v4M123 883v4M125 743v2M125 803v4M125 817v4M125 859v6M125 875v2M125 879v4M125 885v2M125 923v2M125 927v2M125 933v4M127 737v2M127 759v4M127 787v4M127 811v6M127 919v4M127 927v2M127 937v2M127 965v2M129 763v2M129 769v4M129 775v8M129 785v2M129 793v2M129 813v4M129 821v2M129 877v4M129 909v2M129 925v4M129 933v4M129 945v2M129 951v2M129 963v2M131 769v2M131 779v2M131 799v2M131 813v2M131 827v8M131 853v2M131 867v4M131 909v2M131 915v2M131 923v6M131 941v2M131 961v2M131 969v6M131 983v2M133 799v4M133 853v2M133 857v4M133 865v2M133 897v2M133 965v4M135 737v2M135 855v4M135 921v2M135 925v4M137 741v2M137 781v2M137 797v2M137 841v2M137 935v2M137 943v2M137 965v2M139 743v4M139 761v2M139 779v4M139 797v2M139 823v8M139 839v2M139 859v2M139 923v2M139 933v2M139 955v2M139 961v4M139 967v2M139 977v2M141 751v2M141 763v6M141 781v2M141 801v2M141 837v2M141 843v2M141 929v2M141 963v4M143 747v4M143 769v2M143 773v2M143 779v2M143 831v2M143 981v4M145 753v6M145 783v4M145 853v6M145 899v2M147 739v2M147 757v2M147 777v2M147 781v2M147 797v4M147 807v2M147 825v2M147 829v2M147 849v2M147 857v6M147 869v2M147 917v2M147 921v2M149 739v2M149 747v4M149 759v2M149 763v2M149 769v2M149 819v2M149 839v2M149 843v6M149 859v6M149 913v2M149 917v6M149 927v4M149 947v2M149 959v2M149 967v2M149 981v2M151 763v2M151 769v2M151 793v4M151 807v2M151 833v2M151 867v4M151 917v2M151 921v2M151 927v2M151 931v4M153 745v4M153 755v2M153 759v2M153 763v2M153 791v2M153 797v6M153 829v2M153 963v6M155 743v4M155 749v2M155 753v2M155 769v2M155 801v4M155 821v2M155 829v4M155 841v2M155 845v2M155 865v2M155 941v2M155 975v2M157 823v4M157 829v4M157 915v2M159 805v8M159 815v2M159 861v6M159 919v2M159 929v2M159 965v2M161 813v4M161 819v6M161 831v2M161 887v2M161 951v4M161 963v4M163 787v2M163 791v2M163 797v4M163 827v4M163 853v2M163 933v2M165 757v2M165 795v2M165 799v2M165 857v2M165 863v2M165 867v2M165 935v6M165 957v2M167 851v6M169 737v2M169 763v4M169 771v2M169 839v2M169 865v2M169 877v2M169 957v4M171 749v2M171 759v2M171 777v2M171 831v2M171 837v4M171 921v2M171 969v6M173 769v2M173 773v4M173 797v6M173 809v2M173 823v6M173 843v2M173 849v2M175 795v4M175 801v4M175 827v4M175 837v2M175 859v2M175 963v2M175 967v4M175 977v2M177 833v2M177 919v2M179 791v4M179 811v2M179 837v4M179 869v2M179 873v6M179 927v2M181 849v6M183 739v2M183 755v8M183 767v2M185 743v4M185 765v2M185 927v2M185 941v2M187 739v2M187 749v2M187 783v2M187 835v2M187 961v2M189 775v2M189 837v4M189 855v2M189 971v2M189 975v4M191 743v2M191 973v2M191 981v4M193 763v2M193 979v2M195 879v2M197 781v2M197 863v4M199 785v4M199 857v2M199 867v4M201 795v6M203 877v2M205 753v6M205 835v2M205 853v2M205 859v2M207 737v2M209 753v2M209 761v2M209 913v2M209 917v2M209 945v2M209 951v2M211 743v2M211 777v4M211 845v2M211 851v4M211 867v4M211 931v2M211 935v4M213 915v2M213 953v2M215 773v2M215 779v2M215 831v2M215 835v2M215 863v2M215 877v2M215 937v2M215 959v2M217 753v4M217 835v2M217 943v2M217 957v2M219 793v6M219 867v2M221 755v2M221 765v2M221 829v2M221 837v2M221 853v2M221 869v2M221 949v4M223 837v2M223 847v14M223 865v4M225 853v2M225 975v2M225 981v2M227 737v2M227 779v2M227 859v6M227 921v2M227 937v8M227 947v2M229 873v2M231 945v2M233 739v2M233 761v2M233 927v2M233 937v4M235 737v2M235 753v2M235 835v2M235 847v4M235 855v2M235 871v2M237 737v2M237 747v2M237 831v2M239 831v2M239 835v2M241 867v4M243 835v2M243 857v4M245 831v4M245 853v2M249 831v2M249 837v2M249 927v6M251 741v6M251 763v4M251 831v2M251 847v2M251 927v8M251 945v10M253 837v4M253 929v8M255 763v8M255 863v2M255 933v6M257 753v2M257 761v2M257 849v2M257 861v2M259 759v6M265 775v2M265 939v8M267 839v4M267 929v22M269 833v6M269 859v2M269 917v32M271 845v2M271 859v8M271 875v2M271 917v34M273 917v20M275 739v2M275 747v2M275 847v2M275 859v6M275 919v6M275 947v2M275 955v8M277 951v4M279 767v4M281 745v2M283 737v2M285 873v4M287 833v4M287 851v18M287 871v2M289 835v16M289 923v2M289 933v2M291 861v10M291 921v14M293 747v2M293 779v2M293 927v12M295 933v4M295 941v10M297 739v14M297 759v2M297 935v6M297 947v6M299 865v4M299 871v4M299 941v2M299 951v4M301 767v14M301 835v8M301 845v16M303 759v8M307 835v12M309 763v2M313 863v4M313 873v2M315 857v10M315 919v14M317 775v4M319 759v2M319 779v2M321 765v6M323 767v6M325 763v4M327 761v2M327 765v4M329 761v2M329 771v2M331 745v2M331 753v8M331 777v2M333 755v4M337 919v16M339 741v10M339 757v4M341 739v16M341 869v2M343 869v2M347 751v6M347 765v2M349 945v8M351 751v22M353 751v22M353 869v2M355 739v2M355 869v2M363 921v8M365 861v4M365 869v2M373 835v2M375 919v4M377 917v4M379 923v4M379 933v2M383 939v4M387 939v8M393 751v2M393 759v4M395 751v2M395 761v12M397 831v2M397 835v4M401 869v2M401 963v8M403 775v4M405 755v8M405 775v2M405 841v4M407 765v6M407 841v2M407 849v2M407 919v4"/>
<path stroke="#9bf0d5" stroke-width="2" d="M37 777v2M37 983v2M43 945v2M45 729v12M47 751v4M47 803v4M47 835v26M47 863v4M47 927v2M47 981v4M49 777v4M49 785v10M49 935v4M49 957v2M49 963v2M55 741v2M55 895v18M55 917v4M57 721v2M57 751v6M57 801v6M57 821v2M57 839v18M57 897v2M57 903v2M57 909v2M57 981v4M59 747v4M59 757v4M59 763v2M59 785v2M59 791v2M59 799v2M59 805v2M59 819v2M59 827v6M59 851v2M59 855v2M59 863v2M59 869v2M59 881v2M59 977v6M61 801v4M61 829v4M61 851v2M61 885v2M61 919v2M61 923v2M61 929v2M61 933v4M61 961v2M61 969v2M63 747v4M63 783v4M63 795v2M63 909v4M63 917v2M63 921v2M63 931v2M65 719v2M65 749v2M65 769v2M65 787v6M65 827v4M65 837v2M65 841v2M65 877v2M65 889v2M65 911v2M65 915v4M65 935v2M65 965v8M65 977v2M65 981v2M67 743v2M67 789v4M67 797v4M67 809v2M67 839v2M67 891v2M67 909v4M67 917v2M67 935v4M67 963v2M67 969v2M67 973v2M69 743v2M69 761v2M69 791v2M69 795v2M69 799v2M69 803v2M69 827v2M69 871v4M69 889v2M69 897v2M69 917v4M69 935v6M69 957v2M71 785v6M71 795v2M71 869v2M71 891v2M71 905v2M71 931v6M71 955v2M71 965v4M73 721v4M73 775v2M73 787v4M73 793v2M73 847v2M73 879v2M73 885v2M73 905v4M73 937v2M75 729v4M75 739v10M75 791v2M75 825v4M75 849v6M75 859v4M75 867v2M75 871v10M75 885v2M75 889v2M75 905v4M75 911v2M75 949v6M75 971v2M75 979v2M77 727v2M77 737v2M77 821v2M77 849v6M77 861v2M77 885v6M77 895v2M77 899v2M77 903v4M77 925v4M79 737v2M79 745v6M79 831v2M79 877v2M79 887v4M79 893v2M79 909v4M79 939v2M79 959v2M79 965v4M79 975v4M81 741v6M81 827v2M81 835v2M81 839v4M81 877v14M81 915v6M81 945v2M81 971v4M81 979v4M83 761v8M83 835v2M83 839v4M83 857v4M83 907v2M83 911v2M83 917v2M83 941v2M83 945v2M85 735v2M85 841v2M85 887v2M85 917v2M85 935v4M87 739v2M87 745v4M87 755v4M87 813v10M87 827v2M87 831v2M87 907v6M87 917v2M87 925v2M87 929v4M87 983v2M89 773v2M89 805v2M89 825v2M89 861v2M89 877v2M89 923v2M89 955v2M89 963v2M91 747v4M91 783v2M91 877v6M91 911v2M91 937v2M91 941v2M91 947v2M91 969v4M93 743v2M93 747v4M93 767v2M93 779v2M93 835v6M93 855v4M93 915v2M93 941v4M93 947v2M95 757v2M95 763v2M95 783v2M95 915v2M95 923v2M95 977v2M97 747v4M97 753v2M97 857v4M97 863v2M97 913v4M97 955v2M97 983v2M99 865v2M99 869v2M99 965v2M99 969v4M99 975v2M101 737v20M101 761v6M101 793v6M101 903v2M101 957v8M103 747v2M103 751v2M103 763v2M103 771v2M103 775v4M103 879v2M103 947v4M103 977v8M105 745v2M105 759v2M105 779v2M105 785v2M105 859v2M105 945v2M107 749v2M107 755v2M107 765v2M107 799v2M107 803v4M107 809v6M107 817v2M107 827v2M107 863v2M107 913v2M107 931v2M107 935v2M107 969v2M107 983v2M109 749v2M109 753v4M109 759v2M109 813v4M109 863v2M109 879v2M109 883v2M109 905v2M109 909v4M109 921v2M109 949v2M111 771v2M111 811v2M111 815v4M111 835v2M111 845v4M111 851v2M111 865v4M111 879v2M111 921v2M111 931v4M111 961v2M113 741v2M113 751v2M113 757v2M113 763v2M113 835v2M113 841v2M113 849v2M113 863v2M113 885v4M113 941v2M113 957v4M113 967v2M115 757v2M115 853v4M115 911v2M115 945v2M115 949v2M115 955v4M115 961v4M117 779v2M117 785v2M117 789v2M117 793v2M117 857v2M117 879v2M117 885v2M117 965v2M119 739v2M119 751v2M119 761v2M119 795v2M119 799v2M119 803v8M119 813v2M119 863v2M119 963v2M119 969v2M121 755v6M121 781v4M121 799v2M121 803v6M121 813v2M121 829v2M121 853v2M121 861v2M121 865v2M121 913v6M121 923v2M121 927v2M121 973v2M123 739v8M123 761v2M123 803v4M123 817v4M123 833v4M123 857v2M123 869v2M125 807v2M125 855v4M125 937v2M125 967v6M127 755v2M127 769v6M127 785v2M127 829v12M127 885v2M127 923v2M129 741v2M129 755v2M129 759v4M129 783v2M129 789v2M129 817v2M129 841v2M129 865v2M129 911v6M129 919v4M129 937v2M129 941v2M129 953v4M129 961v2M131 767v2M131 781v2M131 797v2M131 817v4M131 863v2M131 911v2M131 939v2M131 979v2M133 803v2M133 811v4M133 855v2M133 899v4M133 915v2M133 941v2M133 969v4M133 981v2M135 739v2M135 799v2M135 851v4M135 899v4M135 905v2M135 913v8M135 923v2M135 947v4M135 969v2M137 745v6M137 761v2M137 843v2M137 859v2M137 937v6M139 759v2M139 799v2M139 811v2M139 841v4M139 925v2M139 931v2M139 971v6M141 753v8M141 779v2M141 805v2M141 821v2M141 827v4M141 839v4M141 845v2M141 855v2M141 957v2M141 983v2M143 751v6M143 761v2M143 767v2M143 821v2M143 833v4M143 925v8M143 951v2M143 979v2M145 759v4M145 779v2M145 823v2M145 849v4M145 859v4M145 871v2M145 893v6M145 917v4M147 741v12M147 759v2M147 801v2M147 827v2M147 831v2M147 845v4M147 863v2M147 923v2M147 927v8M147 939v2M147 951v6M149 741v4M149 767v2M149 797v2M149 813v4M149 923v2M149 935v12M149 961v2M149 971v2M149 983v2M151 767v2M151 835v2M151 849v2M151 865v2M151 919v2M151 929v2M151 935v2M151 957v2M151 963v4M151 969v2M153 765v2M153 793v4M153 831v2M153 855v2M153 861v2M153 971v4M155 747v2M155 755v6M155 771v2M155 793v2M155 823v2M155 847v2M155 851v2M155 965v2M157 917v2M157 941v2M159 857v4M159 875v2M159 879v2M159 921v4M159 931v2M159 981v4M161 955v4M161 961v2M163 783v4M163 851v2M163 857v4M163 935v4M165 759v4M165 781v2M165 791v4M165 797v2M165 849v8M165 941v2M167 849v2M167 955v8M167 979v2M169 743v4M169 961v2M169 979v2M171 741v2M171 747v2M171 761v6M171 773v4M171 833v4M173 771v2M173 803v4M173 829v2M173 839v2M173 859v2M175 799v2M175 825v2M175 835v2M175 851v2M175 855v4M175 965v2M175 979v6M179 813v8M179 827v2M179 831v4M179 871v2M183 741v2M183 753v2M183 763v4M185 747v18M185 929v2M185 939v2M187 741v8M187 777v2M187 781v2M187 845v2M189 777v4M189 973v2M191 745v6M191 975v6M193 739v2M193 759v4M193 879v2M195 869v2M197 769v2M199 773v2M199 783v2M203 857v2M203 873v4M205 831v4M205 855v4M207 743v2M207 857v2M207 861v4M207 921v2M207 931v2M209 755v2M209 845v2M209 915v2M209 947v4M211 757v2M211 847v4M211 933v2M213 779v2M213 949v4M215 775v4M215 833v2M215 865v2M215 875v2M215 939v4M215 955v4M217 945v4M217 953v4M219 845v2M221 757v2M221 763v2M221 831v6M221 855v4M223 839v8M223 861v4M225 855v6M225 977v4M227 751v2M227 771v8M227 923v14M229 857v12M229 871v2M233 741v4M233 759v2M233 917v10M233 941v10M235 837v2M235 841v6M235 857v4M235 865v6M237 743v4M239 833v2M243 837v2M243 851v6M245 835v8M245 851v2M249 833v4M251 747v16M251 833v14M253 841v16M253 873v2M255 875v2M257 755v6M257 851v10M265 755v4M265 773v2M267 761v2M267 777v2M269 861v8M269 871v8M271 847v2M271 855v4M271 867v8M275 741v6M275 849v10M275 949v6M279 771v8M281 739v6M283 743v4M287 869v2M289 925v8M293 749v12M295 937v4M297 753v6M297 941v6M299 869v2M299 943v8M301 843v2M313 867v2M313 871v2M319 761v4M319 777v2M327 763v2M329 763v8M331 747v6M331 761v4M333 747v8M339 751v6M347 757v8M377 921v2M377 927v4M379 927v6M393 753v6M395 753v8M397 833v2M405 763v12M407 843v6"/>
<path stroke="#baf1b2" stroke-width="2" d="M37 921v2M37 971v2M47 719v2M47 747v4M47 807v28M47 861v2M47 867v10M47 925v2M49 775v2M49 795v2M49 933v2M49 959v4M49 965v4M49 971v2M55 743v2M55 885v10M55 921v2M57 719v2M57 737v2M57 757v2M57 799v2M57 859v2M57 911v2M57 977v4M59 745v2M59 765v2M59 787v4M59 801v2M59 821v6M59 859v4M59 871v6M59 911v2M59 927v2M59 931v2M59 941v2M59 971v4M61 881v2M61 921v2M61 927v2M61 939v4M61 963v2M61 967v2M61 971v2M63 751v2M63 779v4M63 787v2M63 913v2M63 929v2M63 935v2M63 963v2M65 721v2M65 741v6M65 751v2M65 831v4M65 839v2M65 843v2M65 871v6M65 879v4M65 903v2M65 909v2M65 921v4M65 937v2M65 979v2M67 753v2M67 767v2M67 793v2M67 801v4M67 825v2M67 829v2M67 837v2M67 933v2M67 971v2M67 975v2M69 741v2M69 755v2M69 759v2M69 767v2M69 793v2M69 807v2M69 869v2M69 893v4M69 915v2M71 791v4M71 797v2M71 831v2M71 839v4M71 893v2M71 899v2M71 915v2M71 919v2M71 927v4M71 957v8M73 725v2M73 739v2M73 777v2M73 849v4M73 871v8M73 883v2M73 889v4M73 899v6M73 941v4M75 735v4M75 855v4M75 863v4M75 869v2M75 883v2M75 891v4M75 899v6M75 923v2M75 973v2M77 731v2M77 735v2M77 855v2M77 859v2M77 863v2M77 891v2M77 897v2M77 901v2M77 915v2M77 923v2M77 963v4M79 721v2M79 751v4M79 823v2M79 871v4M79 891v2M79 895v4M79 905v4M79 915v2M79 937v2M79 961v4M81 843v2M81 891v14M81 909v6M81 921v6M81 961v8M83 739v2M83 769v10M83 803v14M83 843v2M83 853v4M83 861v8M83 871v10M83 909v2M85 727v2M85 755v6M85 809v8M85 843v2M85 859v6M85 889v4M85 909v2M85 921v2M87 759v2M87 763v2M87 927v2M89 749v2M89 775v4M89 785v2M89 811v2M89 859v2M89 911v2M89 915v4M89 957v2M91 741v2M91 745v2M91 831v2M91 857v2M91 935v2M91 949v2M91 965v2M91 973v2M93 751v4M93 765v2M93 769v2M93 783v2M93 843v2M93 847v6M93 935v2M95 913v2M95 921v2M95 925v2M95 931v4M95 937v4M95 973v4M97 751v2M97 917v4M97 929v2M97 953v2M99 737v12M99 755v18M99 799v14M99 957v2M99 961v4M101 767v8M101 787v6M101 901v2M101 925v2M101 931v2M101 943v2M101 947v4M103 749v2M103 935v4M103 951v2M103 967v2M105 747v2M105 787v2M105 933v2M105 941v4M105 955v6M105 971v6M107 751v4M107 757v2M107 763v2M107 767v2M107 781v2M107 791v2M107 829v2M107 925v6M107 937v10M109 751v2M109 757v2M109 785v2M109 811v2M109 897v2M109 903v2M109 913v2M111 773v2M111 843v2M111 863v2M111 881v2M111 935v4M111 959v2M113 743v2M113 847v2M113 859v4M113 883v2M113 889v6M113 905v2M113 943v2M113 955v2M113 977v2M115 755v2M115 883v2M115 947v2M115 951v4M115 959v2M115 967v2M115 977v2M117 777v2M117 787v2M117 791v2M117 853v4M117 875v4M117 881v2M117 909v2M117 967v2M117 971v4M119 763v2M119 811v2M119 909v2M119 941v4M119 959v2M121 737v2M121 761v2M121 785v2M121 809v4M121 831v2M121 857v4M121 919v4M121 965v2M121 971v2M123 813v4M123 863v2M123 871v4M123 879v4M123 933v2M125 813v4M125 841v14M125 877v2M125 973v2M127 739v2M127 757v2M127 781v4M127 841v8M127 883v2M129 743v2M129 747v2M129 753v2M129 757v2M129 787v2M129 791v2M129 819v2M129 843v4M129 863v2M129 923v2M129 929v4M129 939v2M129 943v2M129 947v4M129 957v4M131 765v2M131 783v2M131 795v2M131 855v8M131 865v2M131 935v2M133 807v4M133 913v2M133 929v2M133 939v2M133 973v8M135 741v2M135 801v4M135 811v2M135 903v2M135 907v2M135 911v2M135 929v2M135 971v2M135 979v2M137 743v2M137 759v2M137 799v2M137 811v2M137 845v2M137 967v2M139 747v4M139 845v2M139 857v2M139 927v4M139 969v2M141 803v2M141 807v4M141 823v4M141 853v2M141 951v4M141 959v4M141 967v2M141 971v4M141 977v6M143 757v4M143 763v4M143 827v2M143 837v2M143 953v2M143 957v2M143 963v4M143 973v6M145 747v6M145 777v2M145 781v2M145 825v2M145 863v8M145 873v10M145 885v8M145 923v2M145 983v2M147 773v4M147 803v2M147 833v4M147 841v2M147 865v2M147 935v4M147 941v10M147 963v4M149 745v2M149 761v2M149 765v2M149 799v2M149 809v4M149 869v2M149 925v2M151 761v2M151 765v2M151 797v2M151 801v6M151 837v2M151 847v2M151 851v2M151 923v4M151 937v2M151 953v4M151 961v2M151 967v2M151 973v2M151 979v4M153 761v2M153 833v6M153 849v2M153 853v2M153 857v4M153 863v2M153 867v4M153 961v2M153 975v2M155 767v2M155 795v2M155 949v2M155 977v2M157 919v6M157 927v2M157 949v2M157 963v2M159 871v4M159 877v2M159 927v2M159 933v4M159 949v2M159 963v2M161 825v4M161 931v2M161 947v2M161 959v2M163 769v4M163 855v2M165 763v2M165 779v2M165 943v2M165 953v2M167 963v2M167 977v2M169 739v4M169 867v4M169 875v2M169 963v2M171 743v4M171 767v4M173 831v2M173 835v4M173 855v4M175 831v2M175 853v2M179 821v6M179 829v2M179 913v2M179 925v2M183 743v6M183 751v2M185 931v8M187 779v2M187 837v2M187 843v2M189 841v4M189 847v8M191 751v6M193 737v2M193 741v18M193 869v4M193 875v4M195 871v2M195 875v4M197 771v2M197 779v2M199 781v2M199 859v2M199 863v4M203 859v14M207 739v4M207 859v2M207 923v8M209 757v4M209 847v2M209 867v4M211 745v4M213 769v2M213 777v2M213 917v2M213 931v18M215 867v2M215 871v4M215 943v12M217 949v4M219 847v20M221 759v4M221 859v2M221 867v2M227 739v2M229 869v2M231 947v6M233 745v4M233 757v2M235 739v14M235 839v2M235 861v4M237 739v4M243 839v12M245 843v8M253 857v2M255 865v2M255 873v2M265 759v14M267 763v6M267 775v2M269 869v2M271 849v6M283 739v4M293 761v18M313 869v2M319 765v12M331 765v4M331 775v2M377 923v4"/>
<path stroke="#e0ed8c" stroke-width="2" d="M47 721v4M47 745v2M47 877v12M47 923v2M49 797v4M49 931v2M49 975v4M51 771v4M51 941v4M51 951v2M51 955v8M55 719v6M55 739v2M55 745v4M55 873v12M55 913v4M57 723v2M57 759v2M57 797v2M57 857v2M57 863v2M57 899v2M57 973v4M59 741v4M59 767v2M59 783v2M59 803v2M59 857v2M59 879v2M59 913v2M59 917v4M59 929v2M59 933v2M59 939v2M59 943v20M59 969v2M61 869v2M61 925v2M61 937v2M61 943v4M61 957v4M61 975v2M61 983v2M63 753v4M63 777v2M63 789v2M63 793v2M63 845v6M63 883v4M63 925v4M63 933v2M63 961v2M65 723v2M65 739v2M65 835v2M65 913v2M65 927v8M67 741v2M67 755v4M67 765v2M67 833v4M67 915v2M67 921v2M67 925v8M67 939v2M67 961v2M69 763v4M69 797v2M69 805v2M69 867v2M69 891v2M69 913v2M69 921v2M69 925v4M69 931v4M71 739v2M71 833v4M71 843v4M71 867v2M71 895v4M71 901v4M71 913v2M71 917v2M71 925v2M73 727v2M73 737v2M73 779v8M73 791v2M73 853v2M73 865v6M73 881v2M73 893v2M73 913v2M73 939v2M73 945v10M73 969v2M75 733v2M75 881v2M75 895v4M75 955v2M75 969v2M77 729v2M77 733v2M77 823v2M77 829v2M77 857v2M77 865v4M77 871v2M77 879v2M77 883v2M77 913v2M77 919v4M77 957v6M77 983v2M79 723v4M79 735v2M79 829v2M79 849v6M79 861v2M79 867v4M79 899v2M79 903v2M79 917v2M81 739v2M81 857v2M81 905v4M81 927v2M81 941v2M81 975v4M83 735v4M83 779v2M83 785v18M83 845v4M83 869v2M83 881v6M83 903v4M83 919v14M83 935v2M83 939v2M85 737v18M85 761v4M85 803v6M85 845v2M85 923v2M85 931v4M87 743v2M87 761v2M87 765v4M87 783v2M87 833v2M87 863v2M87 913v2M89 741v2M89 747v2M89 781v2M89 827v4M89 925v4M91 739v2M91 833v2M91 915v2M91 951v2M91 959v6M93 755v2M93 759v2M93 841v2M93 845v2M93 917v2M93 931v4M93 949v4M95 917v2M95 927v4M95 941v4M97 931v4M99 749v6M99 773v12M99 789v10M99 959v2M101 775v12M101 923v2M101 945v2M101 951v6M103 765v6M103 965v2M103 969v8M105 749v2M105 753v6M105 761v2M105 773v6M105 967v2M107 769v2M107 783v4M107 789v2M107 831v2M107 861v2M107 921v4M109 765v2M109 781v4M109 809v2M109 817v2M109 833v6M109 899v4M109 915v4M111 853v2M111 861v2M111 891v2M111 917v2M111 939v2M111 957v2M113 745v6M113 845v2M113 853v2M113 857v2M113 907v2M113 923v2M113 945v2M113 951v4M113 969v8M115 913v2M115 925v2M115 971v6M117 769v8M117 883v2M117 911v2M117 927v2M117 945v6M117 955v4M117 963v2M117 969v2M117 975v10M119 741v2M119 745v2M119 765v2M119 911v2M119 925v2M119 939v2M119 957v2M119 961v2M121 751v4M121 787v6M121 835v2M121 929v2M121 961v2M121 967v4M123 809v4M123 875v2M123 935v2M125 809v4M125 829v12M125 965v2M125 975v4M127 741v2M127 753v2M127 775v6M127 849v14M127 881v2M127 939v2M127 951v2M127 961v4M129 745v2M129 749v4M129 847v4M131 785v2M131 789v6M131 929v2M131 933v2M131 937v2M133 795v2M133 805v2M133 903v4M133 935v2M133 983v2M135 809v2M135 909v2M135 945v2M135 981v2M137 751v8M139 751v2M139 757v2M139 855v2M141 847v6M141 955v2M141 969v2M141 975v2M143 823v2M143 829v2M143 841v2M143 875v8M143 967v2M143 971v2M145 763v4M145 775v2M145 827v6M145 883v2M145 921v2M145 931v14M145 981v2M147 761v4M147 771v2M147 805v2M147 837v2M147 843v2M147 867v2M147 925v2M147 957v2M147 969v2M147 973v2M149 801v4M149 807v2M149 865v4M151 799v2M151 841v6M151 949v2M151 959v2M151 975v4M153 839v2M153 843v2M153 865v2M153 939v2M153 949v2M153 953v8M155 761v4M155 951v4M155 963v2M155 979v2M157 925v2M157 943v2M157 951v2M157 961v2M159 869v2M159 925v2M159 937v4M159 951v2M159 961v2M161 829v2M163 773v2M163 779v4M165 765v2M165 949v4M165 955v2M167 965v8M167 975v2M169 871v4M169 965v4M169 977v2M171 771v2M173 833v2M173 851v4M175 833v2M179 915v2M183 749v2M187 839v4M189 845v2M191 757v8M193 873v2M195 873v2M197 773v6M199 775v2M199 779v2M199 861v2M209 849v4M209 861v6M211 749v2M211 755v2M213 771v6M213 919v6M213 927v4M215 869v2M221 861v6M227 741v2M227 749v2M233 749v8M253 859v4M253 871v2M255 867v2M255 871v2M267 769v6M331 769v6"/>
<path stroke="#efd976" stroke-width="2" d="M47 725v4M47 741v4M47 889v34M49 755v4M49 763v2M49 771v4M49 801v2M49 849v4M49 929v2M49 969v2M49 973v2M49 979v4M51 767v4M51 775v12M51 939v2M51 949v2M51 953v2M51 963v4M53 735v2M55 749v4M55 807v32M55 859v14M55 923v2M57 735v2M57 761v4M57 793v4M57 861v2M57 917v4M57 969v4M59 739v2M59 877v2M59 915v2M59 921v6M59 935v2M59 965v4M61 787v4M61 875v6M61 947v2M61 955v2M61 973v2M61 977v2M63 745v2M63 757v2M63 775v2M63 791v2M63 851v10M63 881v2M65 725v2M65 731v2M65 755v2M65 767v2M65 925v2M65 939v2M65 963v2M67 739v2M67 761v2M67 805v4M67 827v2M67 831v2M67 913v2M67 923v2M67 941v6M67 959v2M69 719v2M69 739v2M69 853v4M69 923v2M69 929v2M71 837v2M71 847v2M71 851v4M71 857v2M71 863v4M71 921v4M73 729v2M73 857v8M73 895v4M73 919v14M75 913v4M75 921v2M77 825v2M77 869v2M77 873v6M77 881v2M77 917v2M79 719v2M79 727v2M79 731v4M79 825v4M79 859v2M79 863v4M79 901v2M79 913v2M79 919v2M79 935v2M79 983v2M81 737v2M81 845v4M81 853v4M81 983v2M83 719v2M83 733v2M83 781v4M83 851v2M83 893v10M83 933v2M83 937v2M85 765v4M85 785v18M85 847v2M85 857v2M85 919v2M85 925v6M87 769v2M87 781v2M87 835v2M89 739v2M89 745v2M89 779v2M89 783v2M89 857v2M89 913v2M89 929v6M91 743v2M91 835v6M91 853v4M91 913v2M91 917v6M91 953v6M91 975v4M93 757v2M93 761v4M93 921v2M93 927v4M93 953v2M95 919v2M95 935v2M95 945v2M95 971v2M97 935v8M97 951v2M99 785v4M99 919v6M99 937v4M99 943v6M99 951v6M101 853v18M101 921v2M101 933v2M101 939v4M103 839v2M103 953v2M103 959v2M105 751v2M105 771v2M105 935v2M105 939v2M105 961v6M105 969v2M107 771v4M107 779v2M107 787v2M107 835v6M107 845v2M107 915v6M109 763v2M109 767v2M109 839v4M109 861v2M109 919v2M111 883v8M111 893v2M111 915v2M111 919v2M111 955v2M113 843v2M113 855v2M113 895v4M113 903v2M113 909v4M113 915v4M113 921v2M113 947v4M115 751v4M115 969v2M117 741v4M117 759v10M117 951v4M117 959v4M119 743v2M119 747v4M119 767v6M119 793v2M119 945v4M119 955v2M121 739v2M121 747v2M121 793v2M121 833v2M121 863v2M121 931v2M121 963v2M123 877v2M123 937v2M127 743v8M127 863v6M127 871v6M127 879v2M127 941v2M127 945v2M127 949v2M127 953v8M129 851v2M129 859v4M131 737v8M131 747v2M131 763v2M131 787v2M131 931v2M133 791v4M133 911v2M133 931v4M135 743v4M135 805v4M135 931v2M135 973v6M135 983v2M137 809v2M137 847v2M137 857v2M137 979v2M139 753v4M139 801v2M139 805v6M139 847v2M139 853v2M143 825v2M143 839v2M143 843v2M143 855v20M143 883v8M143 897v4M143 955v2M143 959v4M143 969v2M145 767v8M145 833v4M145 845v4M145 925v6M145 945v10M145 979v2M147 765v6M147 839v2M147 959v2M147 967v2M151 839v2M151 951v2M151 971v2M151 983v2M153 841v2M153 845v4M153 851v2M153 941v2M153 951v2M153 979v2M155 765v2M155 943v2M155 947v2M155 955v2M155 959v4M155 981v2M157 945v4M157 953v2M157 959v2M159 941v2M159 953v2M161 941v6M163 775v2M165 767v2M165 771v4M165 777v2M165 945v4M167 973v2M169 969v4M169 975v2M179 917v2M179 921v4M199 777v2M209 853v8M211 751v4M213 925v2M227 743v6M253 863v8M255 869v2"/>
<path stroke="#f2b969" stroke-width="2" d="M37 845v2M47 729v2M47 739v2M49 753v2M49 761v2M49 765v6M49 803v2M49 837v12M49 853v12M51 787v4M51 937v2M51 945v4M51 967v4M53 737v4M55 725v2M55 753v2M55 805v2M55 839v12M55 853v6M55 925v4M55 983v2M57 725v2M57 765v2M57 781v12M57 913v4M57 921v2M57 927v2M57 931v4M57 965v4M59 731v4M59 781v2M59 937v2M59 963v2M61 737v2M61 749v8M61 781v6M61 871v4M61 953v2M61 979v4M63 719v2M63 741v4M63 761v2M63 771v4M63 861v4M63 871v2M63 877v2M63 937v4M65 727v4M65 753v2M65 855v14M65 941v2M65 945v2M67 947v2M67 953v4M69 721v6M69 837v8M69 857v10M71 719v2M71 737v2M71 849v2M71 855v2M71 859v4M73 731v2M73 735v2M73 855v2M73 915v4M73 933v4M73 967v2M75 919v2M75 961v2M75 967v2M77 827v2M79 729v2M79 855v4M79 921v6M81 735v2M81 849v4M81 939v2M83 721v2M83 731v2M83 849v2M83 887v6M85 729v2M85 769v4M85 783v2M85 853v2M87 771v2M87 837v4M87 861v2M89 743v2M89 831v2M91 841v6M91 851v2M91 923v2M91 927v2M91 931v4M93 919v2M93 923v4M93 955v2M93 977v2M95 947v10M95 967v4M97 943v8M99 925v12M99 941v2M99 949v2M101 839v14M101 919v2M101 937v2M103 841v10M103 955v4M103 961v4M107 775v4M107 833v2M107 841v4M107 849v2M107 857v4M109 779v2M109 843v4M109 849v2M111 857v4M111 907v2M111 913v2M111 941v2M111 951v4M113 899v4M113 913v2M113 919v2M115 741v10M115 915v2M117 745v14M117 913v2M119 773v20M119 913v6M119 923v2M119 927v2M119 937v2M119 949v2M119 953v2M121 741v2M121 745v2M121 749v2M121 933v4M121 959v2M123 971v6M125 939v2M127 751v2M127 869v2M127 877v2M127 943v2M127 947v2M129 853v2M131 745v2M131 749v2M131 753v4M131 759v4M133 737v10M133 761v12M133 783v8M133 907v4M133 937v2M135 747v4M135 785v12M135 933v2M135 941v4M137 801v8M137 849v2M137 855v2M137 969v2M137 981v4M139 803v2M139 849v4M143 845v2M143 853v2M143 891v6M145 837v2M145 841v4M145 955v6M145 963v4M147 961v2M147 971v2M147 975v2M149 805v2M151 939v4M151 947v2M153 947v2M153 977v2M155 945v2M155 957v2M157 955v2M159 943v6M159 955v2M159 959v2M161 933v2M161 939v2M163 777v2M165 769v2M165 775v2M169 973v2M179 919v2"/>
<path stroke="#f09e66" stroke-width="2" d="M47 731v2M47 737v2M49 749v4M49 805v2M49 817v20M49 865v8M49 927v2M49 983v2M51 719v6M51 765v2M51 791v2M51 863v12M51 933v4M51 971v6M53 733v2M53 741v4M53 897v24M55 727v2M55 735v4M55 755v2M55 803v2M55 851v2M55 929v2M55 981v2M57 727v2M57 731v4M57 767v4M57 773v8M57 925v2M57 929v2M57 935v6M57 959v6M59 735v2M59 769v2M61 731v2M61 739v10M61 757v24M61 951v2M63 731v2M63 739v2M63 759v2M63 763v8M63 865v4M63 873v4M63 879v2M63 945v2M63 957v4M65 757v2M65 761v2M65 851v4M65 869v2M65 943v2M65 961v2M67 719v2M67 759v2M67 763v2M67 949v4M67 957v2M67 977v8M69 831v6M69 845v6M71 721v12M73 733v2M73 955v2M75 917v2M75 957v4M75 963v2M79 927v8M81 929v4M83 723v8M85 731v4M85 773v2M85 781v2M85 851v2M85 855v2M87 843v4M87 859v2M89 833v2M89 855v2M91 847v4M91 925v2M91 929v2M93 957v4M93 973v4M95 957v10M101 935v2M103 851v18M105 763v8M105 937v2M107 847v2M107 851v2M107 855v2M109 769v2M109 847v2M109 851v2M109 857v4M111 855v2M111 895v2M111 911v2M111 943v2M115 917v2M117 915v2M117 925v2M119 919v2M119 929v8M119 951v2M121 743v2M121 937v4M123 939v2M123 943v2M123 965v6M123 977v2M125 941v4M125 961v4M129 855v4M131 751v2M131 757v2M133 747v14M133 773v10M135 751v10M135 771v14M135 935v2M135 939v2M137 851v4M137 971v8M143 849v4M145 839v2M145 961v2M145 973v6M147 977v6M151 943v2M153 943v4M153 981v2M155 983v2M157 957v2M159 957v2M161 937v2"/>
<path stroke="#eb8569" stroke-width="2" d="M47 733v4M49 719v4M49 727v22M49 759v2M49 807v10M49 873v12M49 903v24M51 725v26M51 763v2M51 793v2M51 845v18M51 875v4M51 921v12M51 977v6M53 727v4M53 745v6M53 769v20M53 809v26M53 849v26M53 889v8M53 921v8M55 757v4M55 777v8M55 797v6M55 931v4M55 939v14M55 979v2M57 729v2M57 771v2M57 923v2M57 941v18M59 727v4M59 771v4M59 779v2M61 733v4M61 949v2M63 721v2M63 725v2M63 737v2M63 869v2M63 941v4M63 947v2M63 953v4M65 733v2M65 737v2M65 765v2M65 847v4M65 947v2M67 721v4M69 727v2M69 737v2M69 851v2M71 733v4M73 957v2M73 961v2M75 965v2M81 721v8M81 733v2M81 935v4M85 775v6M85 849v2M87 773v2M87 777v4M87 841v2M87 847v2M89 839v2M89 843v4M89 853v2M93 961v12M103 869v2M107 853v2M109 777v2M109 853v2M111 897v2M111 905v2M111 909v2M111 945v2M115 919v2M115 923v2M117 917v2M119 921v2M121 941v4M121 957v2M123 941v2M123 945v2M123 961v4M125 945v2M125 949v4M135 761v10M143 847v2M145 967v6M147 983v2M151 945v2M161 935v2"/>
<path stroke="#e27263" stroke-width="2" d="M49 723v4M49 885v18M51 751v12M51 795v4M51 817v28M51 879v6M51 901v20M51 983v2M53 721v6M53 731v2M53 751v18M53 789v20M53 835v14M53 875v14M53 929v36M53 977v8M55 729v6M55 761v16M55 785v12M55 935v4M55 953v10M55 975v4M59 725v2M59 775v2M61 725v6M63 723v2M63 733v2M65 845v2M65 953v4M65 959v2M67 725v2M69 729v2M73 959v2M73 963v4M81 719v2M81 729v4M81 933v2M87 775v2M87 851v4M87 857v2M89 835v4M89 847v2M89 851v2M109 771v6M109 855v2M111 903v2M111 947v4M115 921v2M117 919v2M121 945v6M121 953v4M123 947v2M123 955v6M125 947v2M125 953v2M135 937v2M153 983v2"/>
<path stroke="#d6605a" stroke-width="2" d="M51 799v18M51 885v16M53 719v2M53 965v12M55 963v12M59 719v6M59 777v2M61 719v6M63 727v4M63 735v2M63 949v4M65 735v2M65 759v2M65 763v2M65 949v4M65 957v2M67 727v12M69 731v6M87 849v2M87 855v2M89 841v2M89 849v2M111 899v4M117 921v4M121 951v2M123 949v6M125 955v6"/>
</g></g>
<rect x="36" y="719.2" width="372.2" height="265" fill="none" stroke="#6a78d8" stroke-width="0.6"/>
<line x1="36.10" y1="719.00" x2="36.10" y2="984.50" stroke="#9a9aa8" stroke-width="0.9"/>
<g fill="none" stroke="#262626" stroke-width="0.75" stroke-linejoin="round">
<path d="M79.9,719.0 80.4,721.4 80.9,723.8 81.4,726.2 81.9,728.6 82.4,731.0 82.9,733.4 83.3,735.8 83.3,738.2 83.4,740.6 83.5,743.0 83.6,745.4 83.8,747.8 84.0,750.2 84.2,752.6 84.3,755.0 84.3,757.4 84.4,759.8 84.4,762.2 84.4,764.6 84.4,767.0 84.5,769.4 84.5,771.8 84.6,774.2 84.6,776.6 84.6,779.0 84.6,781.4 84.6,783.8 84.5,786.2 84.3,788.6 84.2,791.0 84.0,793.4 83.9,795.8 83.7,798.2 83.5,800.6 83.4,803.0 83.3,805.4 83.2,807.8 83.1,810.2 83.0,812.6 82.9,815.0 82.8,816.8"/>
<path d="M99.7,736.2 99.5,738.6 99.3,741.0 99.1,743.4 98.9,745.8 98.8,748.2 98.8,750.6 98.8,753.0 98.9,755.4 98.9,757.8 98.8,760.2 98.5,762.6 98.3,765.0 98.0,767.4 97.7,769.8 97.5,772.2 97.4,774.6 97.4,777.0 97.5,779.4 97.8,781.8 98.1,784.2 98.4,786.6 98.7,789.0 99.0,791.4 99.1,793.8 99.1,796.2 99.0,798.6 98.9,801.0 98.7,803.4 98.4,805.8 98.1,808.2 97.7,810.6 97.4,813.0 97.0,813.1"/>
<path d="M113.3,741.6 113.9,744.0 114.5,746.4 115.1,748.8 115.7,751.2 116.2,753.6 116.7,756.0 117.0,758.4 117.1,760.8 117.2,763.2 117.2,765.6 117.2,768.0 117.1,770.4 117.1,772.8 117.1,775.2 117.2,777.6 117.4,780.0 117.8,782.4 118.2,784.8 118.6,787.2 119.1,789.6 119.5,792.0 119.8,794.4 119.8,795.0"/>
<path d="M131.7,738.0 132.0,740.4 132.1,742.8 132.2,745.2 132.1,747.6 132.0,750.0 131.9,752.4 131.8,754.8 131.7,757.2 131.6,759.6 131.6,762.0 131.6,764.4 131.7,766.8 131.9,769.2 132.1,771.6 132.3,774.0 132.5,776.4 132.8,778.8 133.0,781.2 133.3,783.6 133.4,786.0 133.6,788.4 133.7,790.8 133.8,793.2 133.8,795.6 133.9,796.8"/>
<path d="M68.3,831.2 68.6,833.6 68.8,836.0 68.9,838.4 68.9,840.8 68.9,843.2 68.7,845.6 68.4,848.0 68.0,850.4 67.7,852.0"/>
<path d="M84.4,839.4 84.4,841.8 84.5,844.2 84.6,846.6 84.7,849.0 84.9,851.4 84.9,853.8 84.9,856.2 85.0,858.6 85.0,861.0 85.1,863.4 85.1,865.8 85.1,868.2 85.0,870.6 84.8,873.0 84.5,875.4 84.3,877.8 84.0,880.2 83.8,882.6 83.6,885.0 83.4,887.4 83.3,889.8 83.1,892.2 82.8,894.6 82.5,897.0 82.2,899.4 81.8,901.8 81.5,904.2 81.3,906.6 81.2,907.2"/>
<path d="M98.8,825.8 99.2,828.2 99.6,830.6 99.9,833.0 100.1,835.4 100.3,837.8 100.4,840.2 100.4,842.6 100.6,845.0 100.7,847.4 100.9,849.8 101.1,852.2 101.1,854.6 101.2,857.0 101.3,859.4 101.5,861.8 101.6,864.2 101.8,866.6 102.1,869.0 102.3,871.4 102.4,873.8 102.6,876.2 102.6,878.6 102.5,881.0 102.4,883.4 102.1,885.8 101.7,888.2 101.4,890.6 101.0,893.0 100.7,895.4 100.4,897.8 100.3,900.0"/>
<path d="M125.4,830.3 125.1,832.7 124.8,835.1 124.6,837.5 124.3,839.9 124.1,842.3 123.9,844.7 123.8,847.1 123.7,849.5 123.6,851.9 123.8,854.3 124.0,856.7 124.2,859.1 124.5,861.5 124.9,863.9 125.4,866.3 125.8,868.7 126.2,871.1 126.6,873.5 126.9,875.9 127.2,878.3 127.4,880.7 127.4,883.1 127.4,885.5 127.3,887.9 127.2,890.3 127.2,892.7 127.2,895.1 127.3,897.5 127.4,899.9 127.7,902.3 128.1,904.7 128.5,907.1 128.9,908.1"/>
<path d="M146.0,820.4 146.0,822.8 146.0,825.2 146.0,827.6 146.0,830.0 145.9,832.4 145.8,834.8 145.6,837.2 145.3,839.6 145.0,842.0 144.7,844.4 144.4,846.8 144.1,849.2 143.8,851.6 143.7,854.0 143.7,856.4 143.7,858.8 143.7,861.2 143.6,863.6 143.5,866.0 143.4,868.4 143.2,870.8 143.0,873.2 142.8,875.6 142.7,878.0 142.6,880.4 142.6,882.8 142.6,885.2 142.6,887.6 142.6,890.0 142.6,892.4 142.5,894.8 142.4,897.2 142.3,899.6 142.3,902.0 142.4,904.4 142.4,906.8 142.5,909.2 142.6,911.6 142.7,914.0 142.9,916.4 143.0,918.8 143.1,921.2 143.2,923.6 143.3,926.0 143.3,928.4 143.4,930.8 143.4,933.2 143.4,935.6 143.3,938.0 143.3,940.4 143.2,942.8 143.1,945.2 143.0,947.6 142.9,950.0 142.8,952.4 142.8,954.8 142.8,957.2 142.9,959.6 143.0,962.0 143.1,964.4 143.2,966.8 143.3,969.2 143.4,971.6 143.5,973.3"/>
<path d="M65.0,852.0 65.6,854.4 66.0,856.8 66.4,859.2 66.5,861.6 66.4,864.0 66.1,866.4 65.8,868.8 65.3,870.1"/>
<path d="M69.8,915.4 69.5,917.8 69.2,920.2 69.0,922.6 68.7,925.0 68.7,927.4 68.9,929.8 69.2,932.2 69.7,934.6 70.2,937.0 70.6,937.1"/>
<path d="M100.4,919.0 100.0,921.4 99.5,923.8 98.9,926.2 98.2,928.6 97.5,931.0 97.0,933.4 96.4,935.8 96.1,938.2 95.9,940.6 95.9,943.0 95.9,945.4 96.0,947.8 96.0,950.2 95.9,952.6 95.7,955.0 95.4,957.4 95.0,959.8 94.6,962.2 94.1,964.6 93.6,967.0 93.2,969.4 92.7,971.8 92.3,974.2 92.1,976.6 91.9,978.7"/>
<path d="M116.5,928.0 116.7,930.4 117.0,932.8 117.5,935.2 118.0,937.6 118.6,940.0 119.3,942.4 119.9,944.8 120.5,947.2 120.9,949.6 120.9,952.0 120.8,954.4 120.5,956.8 120.2,959.2 119.9,961.6 119.7,964.0 119.6,966.4 119.7,968.8 119.9,971.2 120.2,973.6 120.5,976.0 120.8,978.4 121.1,978.7"/>
<path d="M192.6,736.3 192.4,738.7 192.1,741.1 191.8,743.5 191.6,745.9 191.2,748.3 190.9,750.7 190.5,753.1 190.1,755.5 189.7,757.9 189.4,760.3 189.3,762.7 189.3,765.1 189.5,767.5 189.8,769.9 190.1,772.3 190.5,774.7 190.7,777.1 190.9,779.5 190.8,781.9 190.6,784.3 190.2,786.7 189.8,789.1 189.4,791.5 189.0,792.0"/>
<path d="M229.5,737.2 229.3,739.6 229.0,742.0 228.7,744.4 228.5,746.8 228.2,749.2 228.0,751.6 227.7,754.0 227.5,756.4 227.2,758.8 227.0,761.2 226.9,763.6 226.9,766.0 227.0,768.4 227.2,770.8 227.5,773.2 227.8,775.6 228.0,778.0 228.2,780.4 228.2,782.8 228.2,785.2 228.2,787.6 228.1,790.0 228.1,792.0"/>
<path d="M188.0,815.7 188.0,818.1 188.0,820.5 188.1,822.9 188.2,825.3 188.2,827.7 188.3,830.1 188.4,832.5 188.3,834.9 188.1,837.3 187.9,839.7 187.6,842.1 187.2,844.5 186.7,846.9 186.2,849.3 185.7,851.7 185.6,854.1 185.6,856.5 185.7,858.9 186.0,861.3 186.2,863.7 186.5,866.1 186.8,868.5 187.0,870.9 187.2,873.3 187.5,875.7 187.6,878.1 187.8,880.5 188.0,882.1"/>
<path d="M205.0,818.5 205.3,820.9 205.7,823.3 206.2,825.7 206.6,828.1 207.0,830.5 207.4,832.9 207.7,835.3 208.0,837.7 208.2,840.1 208.4,842.5 208.5,844.9 208.7,847.3 208.8,849.7 208.8,852.1 208.4,854.5 208.0,856.9 207.5,859.3 207.0,861.7 206.6,864.1 206.1,866.5 205.7,868.9 205.4,871.3 205.1,873.7 204.9,876.1 204.9,876.6"/>
<path d="M235.9,811.2 235.3,813.6 234.8,816.0 234.2,818.4 233.6,820.8 233.2,823.2 232.9,825.6 232.7,828.0 232.6,830.4 232.5,832.8 232.3,835.2 232.3,837.6 232.2,840.0 232.0,842.4 231.6,844.8 231.2,847.2 230.7,849.6 230.2,852.0 229.8,854.4 229.5,856.8 229.3,859.2 229.2,861.6 229.2,864.0 229.2,866.4 229.4,868.8 229.5,871.2 229.6,873.6 229.7,874.8"/>
<path d="M170.8,909.5 170.4,911.9 169.8,914.3 169.3,916.7 169.1,919.1 169.1,921.5 169.3,923.9 169.6,926.3 169.9,928.7 170.2,931.1 170.4,933.5 170.6,935.9 170.8,938.3 170.9,940.7 171.2,942.3"/>
<path d="M187.4,919.5 187.4,921.9 187.5,924.3 187.6,926.7 187.6,929.1 187.7,931.5 187.9,933.9 188.0,936.3 188.2,938.7 188.5,941.1 188.8,943.5 189.1,945.9 189.5,948.3 189.8,950.7 190.1,953.1 190.3,955.5 190.5,957.9 190.6,960.3 190.6,962.7 190.7,965.1 190.7,967.5 190.6,969.9 190.6,972.3 190.6,974.7 190.6,977.1 190.6,977.9"/>
<path d="M205.9,922.3 206.2,924.7 206.5,927.1 206.8,929.5 207.1,931.9 207.5,934.3 208.0,936.7 208.5,939.1 209.0,941.5 209.5,943.9 210.0,946.3 210.5,948.7 211.0,951.1 211.4,953.5 211.9,955.9 212.3,958.3 212.6,960.7 212.9,963.1 213.2,965.5 213.4,967.9 213.6,970.3 213.8,972.7 214.0,975.1 214.2,977.5 214.5,979.7"/>
<path d="M234.1,917.7 234.4,920.1 234.5,922.5 234.5,924.9 234.3,927.3 234.2,929.7 234.2,932.1 234.2,934.5 234.4,936.9 234.4,937.8"/>
<path d="M234.5,959.7 234.5,962.1 234.5,964.5 234.5,966.9 234.4,969.3 234.4,971.7 234.1,974.1 233.8,976.5 233.5,978.8"/>
<path d="M289.3,741.8 289.5,744.2 289.5,746.6 289.5,749.0 289.4,751.4 289.2,753.8 289.1,756.2 289.0,758.6 289.0,761.0 289.0,763.4 289.1,765.8 289.3,768.2 289.6,770.6 289.9,773.0 290.2,775.4 290.7,777.8 291.0,780.2 291.4,782.6 291.7,785.0 291.9,787.4 292.0,789.8 292.0,792.2 291.8,794.6 291.6,797.0 291.3,799.4 291.1,801.8 291.0,804.2 291.0,804.8"/>
<path d="M302.2,744.5 302.3,746.9 302.5,749.3 302.7,751.7 302.9,754.1 303.2,756.5 303.4,758.9 303.6,761.3 303.9,763.7 304.1,766.1 304.3,768.5 304.4,770.9 304.5,773.3 304.5,775.7 304.6,778.1 304.6,780.5 304.5,782.9 304.5,785.3 304.4,787.7 304.3,790.1 304.2,792.5 304.2,794.9 304.1,797.3 304.1,799.7 304.1,802.1 304.2,804.5 304.3,804.8"/>
<path d="M370.2,742.4 370.5,744.8 370.5,747.2 370.5,749.6 370.4,752.0 370.4,754.4 370.5,756.8 370.6,759.2 371.0,761.6 371.4,764.0 371.9,766.4 372.3,768.8 372.7,771.2 373.0,773.6 373.1,776.0 373.0,778.4 372.9,780.8 372.6,783.2 372.4,785.6 372.2,788.0 372.0,790.4 371.8,792.8 371.7,793.8"/>
<path d="M383.6,744.5 383.3,746.9 383.1,749.3 383.0,751.7 383.1,754.1 383.2,756.5 383.3,758.9 383.3,761.0"/>
<path d="M383.1,781.0 383.4,783.4 383.7,785.8 384.0,788.2 384.3,790.6 384.2,791.1"/>
<path d="M322.1,798.4 322.8,800.8 323.3,803.2 323.8,805.6 324.4,808.0 325.0,810.4 325.6,812.8 326.1,815.2 326.4,817.6 326.6,820.0 326.8,822.4 326.8,824.8 326.7,827.2 326.5,829.6 326.4,832.0 326.3,834.4 326.4,835.8"/>
<path d="M292.8,824.0 293.2,826.4 293.7,828.8 294.3,831.2 294.9,833.6 295.4,836.0 296.0,838.4 296.5,840.8 297.1,843.2 297.6,845.6 298.1,848.0 298.5,850.4 298.7,852.8 298.5,855.2 298.3,857.6 298.1,860.0 297.9,862.4 297.7,864.8 297.6,867.2 297.6,869.6 297.5,872.0 297.5,874.4 297.4,874.8"/>
<path d="M361.5,823.0 361.6,825.4 361.8,827.8 361.9,830.2 362.1,832.6 362.5,835.0 362.8,837.4 363.1,839.8 363.3,840.4"/>
<path d="M388.0,823.0 388.4,825.4 388.6,827.8 388.9,830.2 389.2,832.6 389.4,835.0 389.5,837.4 389.5,839.8 389.6,842.2 389.5,844.6 389.5,847.0 389.5,849.4 389.5,851.8 389.1,854.2 388.8,856.6 388.4,859.0 388.1,861.4 387.9,863.8 387.6,866.2 387.4,868.6 387.2,871.0 386.9,873.4 386.7,875.8 386.4,878.2 386.2,879.4"/>
<path d="M326.4,852.0 326.4,854.4 326.4,856.8 326.3,859.2 326.1,861.6 325.8,864.0 325.6,866.4 325.4,868.8 325.3,871.2 325.2,873.6 325.3,876.0 325.6,878.4 325.9,879.4"/>
<path d="M366.7,859.3 366.6,861.7 366.7,864.1 366.9,866.5 367.2,868.9 367.5,870.2"/>
<path d="M300.6,905.8 300.5,908.2 300.6,910.6 300.6,913.0 300.6,915.4 300.6,917.8 300.6,920.2 300.7,922.6 300.8,925.0 301.0,927.4 301.2,929.8 301.4,932.2 301.6,933.2"/>
<path d="M308.3,954.2 308.7,956.6 309.0,959.0 309.2,961.4 309.4,963.8 309.6,966.2 309.6,968.6 309.8,971.0 310.0,973.4 310.2,975.8 310.5,978.2 310.9,980.6 311.2,983.0 311.4,984.3"/>
<path d="M321.7,921.3 321.9,923.7 322.1,926.1 322.4,928.5 322.8,930.9 323.2,933.3 323.6,935.7 324.0,938.1 324.3,940.5 324.5,942.9 324.6,945.3 324.6,947.7 324.6,950.1 324.5,952.5 324.3,954.9 324.1,957.3 323.9,959.7 323.8,962.1 323.7,964.5 323.7,966.9 323.8,969.3 323.9,971.7 324.0,974.1 324.2,976.5 324.3,977.9"/>
<path d="M371.5,908.6 371.3,911.0 371.1,913.4 370.9,915.8 370.8,918.2 370.8,920.6 370.8,923.0 370.8,925.4 370.9,927.8 370.9,930.2 370.9,932.6 370.9,935.0 370.8,937.4 370.7,939.8 370.7,942.2 370.6,944.6 370.5,947.0 370.4,949.4 370.2,951.8 369.9,954.2 369.6,956.6 369.1,959.0 368.8,961.4 368.5,963.8 368.4,966.2 368.4,968.6 368.6,971.0 368.8,973.4 369.1,975.8 369.3,978.2 369.5,980.6 369.5,980.7"/>
<path d="M388.9,904.9 390.0,907.3 390.2,909.7 390.1,912.1 388.9,913.1"/>
<path d="M381.2,934.1 381.6,936.5 382.1,938.9 382.4,941.3 382.4,943.7 382.3,946.1 382.3,948.5 382.2,950.9 382.6,953.3 382.7,955.7 383.1,958.1 383.6,959.7"/>
</g>
<path d="M50.5,719.0 48.7,735.3 51.4,755.2 54.1,771.5 53.2,791.4 50.5,809.5 50.5,827.6 51.4,852.0 50.5,871.9 49.6,897.3 49.6,920.8 54.1,942.5 54.1,960.6 51.4,982.3 51.0,984.0" fill="none" stroke="#111" stroke-width="1.5" stroke-dasharray="3.3,1.1"/>
<ellipse cx="124.9" cy="804.9" rx="8.6" ry="9.6" fill="#e6e6e6" stroke="#333" stroke-width="0.8"/>
<text x="124.9" y="808.9" font-size="11.3" text-anchor="middle" font-weight="bold" font-style="normal" fill="#111">T</text>
<ellipse cx="228.3" cy="803.5" rx="8.6" ry="9.6" fill="#e6e6e6" stroke="#333" stroke-width="0.8"/>
<text x="228.3" y="807.5" font-size="11.3" text-anchor="middle" font-weight="bold" font-style="normal" fill="#111">O</text>
<ellipse cx="292.4" cy="813.9" rx="8.6" ry="9.6" fill="#e6e6e6" stroke="#333" stroke-width="0.8"/>
<text x="292.4" y="817.9" font-size="11.3" text-anchor="middle" font-weight="bold" font-style="normal" fill="#111">P</text>
<ellipse cx="324.8" cy="844.6" rx="8.6" ry="9.6" fill="#e6e6e6" stroke="#333" stroke-width="0.8"/>
<text x="324.8" y="848.6" font-size="11.3" text-anchor="middle" font-weight="bold" font-style="normal" fill="#111">P</text>
<ellipse cx="365.1" cy="848.8" rx="8.6" ry="9.6" fill="#e6e6e6" stroke="#333" stroke-width="0.8"/>
<text x="365.1" y="852.8" font-size="11.3" text-anchor="middle" font-weight="bold" font-style="normal" fill="#111">P</text>
<ellipse cx="383.6" cy="770.8" rx="8.6" ry="9.6" fill="#e6e6e6" stroke="#333" stroke-width="0.8"/>
<text x="383.6" y="774.8" font-size="11.3" text-anchor="middle" font-weight="bold" font-style="normal" fill="#111">P</text>
<ellipse cx="49.6" cy="861.2" rx="8.6" ry="9.6" fill="#e6e6e6" stroke="#333" stroke-width="0.8"/>
<text x="49.6" y="865.2" font-size="11.3" text-anchor="middle" font-weight="bold" font-style="normal" fill="#111">E</text>
<ellipse cx="195.0" cy="896.9" rx="8.6" ry="9.6" fill="#e6e6e6" stroke="#333" stroke-width="0.8"/>
<text x="195.0" y="900.9" font-size="11.3" text-anchor="middle" font-weight="bold" font-style="normal" fill="#111">O</text>
<ellipse cx="134.3" cy="916.3" rx="8.6" ry="9.6" fill="#e6e6e6" stroke="#333" stroke-width="0.8"/>
<text x="134.3" y="920.3" font-size="11.3" text-anchor="middle" font-weight="bold" font-style="normal" fill="#111">T</text>
<ellipse cx="234.8" cy="948.4" rx="8.6" ry="9.6" fill="#e6e6e6" stroke="#333" stroke-width="0.8"/>
<text x="234.8" y="952.4" font-size="11.3" text-anchor="middle" font-weight="bold" font-style="normal" fill="#111">O</text>
<ellipse cx="304.7" cy="944.2" rx="8.6" ry="9.6" fill="#e6e6e6" stroke="#333" stroke-width="0.8"/>
<text x="304.7" y="948.2" font-size="11.3" text-anchor="middle" font-weight="bold" font-style="normal" fill="#111">P</text>
<ellipse cx="384.1" cy="923.2" rx="8.6" ry="9.6" fill="#e6e6e6" stroke="#333" stroke-width="0.8"/>
<text x="384.1" y="927.2" font-size="11.3" text-anchor="middle" font-weight="bold" font-style="normal" fill="#111">P</text>
<text x="33.2" y="750.8" font-size="11.0" text-anchor="end" font-weight="normal" font-style="normal" fill="#444">10</text>
<text x="33.2" y="778.4" font-size="11.0" text-anchor="end" font-weight="normal" font-style="normal" fill="#444">20</text>
<text x="33.2" y="806.1" font-size="11.0" text-anchor="end" font-weight="normal" font-style="normal" fill="#444">30</text>
<text x="33.2" y="833.7" font-size="11.0" text-anchor="end" font-weight="normal" font-style="normal" fill="#444">40</text>
<text x="33.2" y="861.4" font-size="11.0" text-anchor="end" font-weight="normal" font-style="normal" fill="#444">50</text>
<text x="33.2" y="889.0" font-size="11.0" text-anchor="end" font-weight="normal" font-style="normal" fill="#444">60</text>
<text x="33.2" y="916.6" font-size="11.0" text-anchor="end" font-weight="normal" font-style="normal" fill="#444">70</text>
<text x="33.2" y="944.3" font-size="11.0" text-anchor="end" font-weight="normal" font-style="normal" fill="#444">80</text>
<text x="33.2" y="972.0" font-size="11.0" text-anchor="end" font-weight="normal" font-style="normal" fill="#444">90</text>
<text x="35.9" y="999.0" font-size="9.6" text-anchor="middle" font-weight="normal" font-style="normal" fill="#444">0</text>
<text x="73.1" y="999.0" font-size="9.6" text-anchor="middle" font-weight="normal" font-style="normal" fill="#444">1</text>
<text x="110.4" y="999.0" font-size="9.6" text-anchor="middle" font-weight="normal" font-style="normal" fill="#444">2</text>
<text x="147.6" y="999.0" font-size="9.6" text-anchor="middle" font-weight="normal" font-style="normal" fill="#444">3</text>
<text x="184.8" y="999.0" font-size="9.6" text-anchor="middle" font-weight="normal" font-style="normal" fill="#444">4</text>
<text x="222.0" y="999.0" font-size="9.6" text-anchor="middle" font-weight="normal" font-style="normal" fill="#444">5</text>
<text x="259.3" y="999.0" font-size="9.6" text-anchor="middle" font-weight="normal" font-style="normal" fill="#444">6</text>
<text x="296.5" y="999.0" font-size="9.6" text-anchor="middle" font-weight="normal" font-style="normal" fill="#444">7</text>
<text x="333.7" y="999.0" font-size="9.6" text-anchor="middle" font-weight="normal" font-style="normal" fill="#444">8</text>
<text x="371.0" y="999.0" font-size="9.6" text-anchor="middle" font-weight="normal" font-style="normal" fill="#444">9</text>
<text x="408.2" y="999.0" font-size="9.6" text-anchor="middle" font-weight="normal" font-style="normal" fill="#444">10</text>
<text x="222.0" y="1013.3" font-size="10.9" text-anchor="middle" font-weight="normal" font-style="normal" fill="#333">Frequency (cycles/m)</text>
<text x="12.6" y="850.0" font-size="10.9" text-anchor="middle" font-weight="normal" font-style="normal" fill="#333" transform="rotate(-90 12.6 850.0)">Depth (m)</text>
<text x="16.6" y="731.6" font-size="20" text-anchor="start" font-weight="bold" font-style="normal" fill="#333">h</text>
<defs><clipPath id="spi"><rect x="419.5" y="718.4" width="95.5" height="268.20000000000005"/></clipPath><filter id="blurspi" x="-2%" y="-2%" width="104%" height="104%"><feGaussianBlur stdDeviation="0.5"/></filter></defs>
<g clip-path="url(#spi)"><g filter="url(#blurspi)">
<rect x="417" y="716" width="100" height="273" fill="#0000a0"/>
<path stroke="#000078" stroke-width="1" d="M461.5 921v1M467.5 857v12M468.5 856v14M468.5 893v7M468.5 915v9M469.5 855v16M469.5 891v15M469.5 915v9M470.5 859v13M470.5 892v16M471.5 896v12M472.5 898v11M473.5 898v12M474.5 802v14M474.5 896v14M475.5 800v16M475.5 896v11M477.5 828v14M478.5 834v9M482.5 871v4M483.5 866v11M484.5 866v9M485.5 868v4"/>
<path stroke="#00008c" stroke-width="1" d="M421.5 781v3M422.5 782v4M444.5 911v11M445.5 911v10M446.5 913v5M449.5 876v8M449.5 910v3M449.5 957v6M449.5 968v11M450.5 875v10M451.5 873v9M451.5 927v4M451.5 940v6M452.5 866v15M452.5 923v9M452.5 938v6M453.5 859v23M453.5 922v9M454.5 857v26M454.5 919v8M454.5 982v5M455.5 855v30M455.5 897v6M455.5 907v20M455.5 977v10M456.5 850v36M456.5 890v37M456.5 972v13M457.5 846v82M457.5 949v32M458.5 801v6M458.5 826v37M458.5 876v53M458.5 948v19M458.5 973v5M459.5 799v11M459.5 824v38M459.5 876v55M459.5 949v17M460.5 798v16M460.5 824v26M460.5 873v61M460.5 951v24M461.5 796v24M461.5 829v17M461.5 861v4M461.5 870v51M461.5 922v12M461.5 954v25M462.5 795v26M462.5 859v75M462.5 954v26M463.5 773v7M463.5 796v21M463.5 854v81M463.5 953v28M464.5 770v14M464.5 800v11M464.5 851v51M464.5 910v24M464.5 953v30M465.5 770v13M465.5 804v6M465.5 826v14M465.5 851v51M465.5 911v20M465.5 955v27M466.5 771v11M466.5 798v15M466.5 826v16M466.5 850v81M466.5 969v9M467.5 745v4M467.5 770v14M467.5 792v23M467.5 826v17M467.5 848v9M467.5 869v66M468.5 767v51M468.5 823v33M468.5 870v23M468.5 900v15M468.5 924v13M469.5 766v89M469.5 871v20M469.5 906v9M469.5 924v12M470.5 765v94M470.5 872v20M470.5 908v26M470.5 981v6M471.5 765v131M471.5 908v25M471.5 978v9M472.5 766v15M472.5 787v41M472.5 844v54M472.5 909v22M472.5 980v7M473.5 766v14M473.5 784v46M473.5 845v53M473.5 910v20M473.5 984v3M474.5 764v38M474.5 816v19M474.5 842v54M474.5 910v19M475.5 760v40M475.5 816v80M475.5 907v22M475.5 984v3M476.5 757v173M476.5 977v10M477.5 754v74M477.5 842v90M477.5 966v21M478.5 743v91M478.5 843v96M478.5 961v26M479.5 718v5M479.5 741v73M479.5 818v47M479.5 866v77M479.5 960v27M480.5 718v4M480.5 743v73M480.5 829v33M480.5 867v74M480.5 961v26M481.5 761v59M481.5 833v99M481.5 962v7M482.5 762v14M482.5 786v40M482.5 835v36M482.5 875v55M483.5 762v12M483.5 788v40M483.5 838v28M483.5 877v21M483.5 902v27M484.5 762v12M484.5 790v36M484.5 841v25M484.5 875v23M484.5 905v26M485.5 761v17M485.5 791v19M485.5 841v27M485.5 872v25M485.5 911v20M486.5 759v22M486.5 793v13M486.5 839v55M486.5 921v5M487.5 759v24M487.5 795v16M487.5 827v64M488.5 760v7M488.5 795v45M488.5 855v26M489.5 795v40M489.5 861v17M490.5 796v31M490.5 861v17M491.5 800v22M491.5 858v20M491.5 935v6M492.5 853v22M492.5 898v13M492.5 930v13M493.5 849v21M493.5 894v46M494.5 718v4M494.5 849v17M494.5 897v42M495.5 718v4M495.5 850v17M495.5 909v31M496.5 853v16M496.5 913v28M497.5 859v12M497.5 916v25M497.5 971v9M498.5 772v1M498.5 867v3M498.5 918v7M498.5 968v15M499.5 767v7M499.5 816v10M499.5 968v19M500.5 767v5M500.5 820v5M500.5 970v17M501.5 718v4M501.5 974v13M502.5 718v6M502.5 840v5M502.5 967v6M502.5 982v5M503.5 718v9M503.5 840v6M503.5 964v10M504.5 718v14M505.5 718v16M506.5 718v15M506.5 773v4M507.5 718v12M507.5 774v2M508.5 718v12M509.5 718v13M510.5 718v13M511.5 718v13M512.5 718v11M513.5 718v8M513.5 840v5M514.5 718v4M514.5 746v10M514.5 836v11M514.5 932v5M514.5 963v5"/>
<path stroke="#0000b5" stroke-width="1" d="M419.5 787v18M419.5 810v2M419.5 822v16M419.5 844v6M419.5 854v2M419.5 872v4M419.5 895v1M419.5 901v1M419.5 912v6M419.5 928v2M419.5 932v3M419.5 939v8M419.5 963v11M420.5 753v1M420.5 762v1M420.5 791v4M420.5 812v21M420.5 835v4M420.5 843v1M420.5 856v2M420.5 861v3M420.5 871v1M420.5 876v9M420.5 893v1M420.5 904v4M420.5 919v9M420.5 936v1M420.5 961v2M420.5 981v3M421.5 754v1M421.5 792v2M421.5 823v6M421.5 837v8M421.5 856v2M421.5 859v2M421.5 865v5M421.5 888v2M421.5 892v2M421.5 926v3M421.5 937v3M421.5 953v2M421.5 957v6M421.5 985v2M422.5 722v1M422.5 735v4M422.5 791v2M422.5 801v2M422.5 825v2M422.5 855v2M422.5 860v1M422.5 867v2M422.5 889v4M422.5 925v2M422.5 928v2M422.5 939v2M422.5 943v11M422.5 960v5M423.5 750v1M423.5 753v1M423.5 790v2M423.5 799v5M423.5 852v2M423.5 862v2M423.5 866v2M423.5 889v4M423.5 924v1M423.5 929v1M424.5 720v1M424.5 752v1M424.5 783v1M424.5 789v2M424.5 798v7M424.5 849v4M424.5 864v5M424.5 876v3M424.5 889v4M424.5 914v4M424.5 923v1M424.5 929v1M425.5 750v1M425.5 790v2M425.5 794v12M425.5 811v5M425.5 827v1M425.5 847v1M425.5 865v11M425.5 879v2M425.5 889v7M425.5 912v3M425.5 920v4M425.5 929v2M426.5 728v1M426.5 731v1M426.5 744v2M426.5 755v1M426.5 784v1M426.5 803v6M426.5 817v1M426.5 824v2M426.5 828v6M426.5 837v2M426.5 842v2M426.5 882v11M427.5 784v1M427.5 797v1M427.5 811v1M427.5 843v1M427.5 917v8M428.5 725v7M428.5 743v7M428.5 756v1M428.5 772v2M428.5 790v1M428.5 797v1M428.5 859v1M428.5 862v27M428.5 932v3M429.5 718v1M429.5 749v2M429.5 752v1M429.5 936v1M430.5 718v2M430.5 750v2M430.5 797v1M431.5 718v2M431.5 750v1M431.5 796v1M431.5 819v1M431.5 821v1M431.5 853v3M432.5 718v2M432.5 750v1M432.5 848v1M433.5 718v2M433.5 750v2M433.5 855v1M434.5 718v2M434.5 750v2M434.5 849v1M435.5 718v1M435.5 749v2M435.5 851v1M436.5 744v6M436.5 765v6M436.5 852v1M436.5 956v31M437.5 745v1M437.5 762v1M437.5 766v9M437.5 855v1M438.5 761v1M438.5 766v8M439.5 941v1M440.5 778v1M440.5 855v1M441.5 852v1M441.5 939v1M441.5 952v19M442.5 857v1M442.5 944v28M443.5 891v34M443.5 938v24M444.5 753v1M444.5 854v5M444.5 864v1M444.5 887v14M444.5 930v1M444.5 939v20M445.5 753v1M445.5 853v6M445.5 864v5M445.5 886v15M445.5 939v13M446.5 853v5M446.5 864v7M446.5 888v12M446.5 929v2M446.5 940v47M447.5 778v1M447.5 855v3M447.5 864v5M447.5 891v7M447.5 926v5M447.5 940v4M447.5 986v1M448.5 777v1M448.5 796v1M448.5 856v1M448.5 862v4M448.5 924v7M448.5 940v46M449.5 775v1M449.5 782v1M449.5 815v1M449.5 857v1M449.5 860v1M449.5 927v2M449.5 939v1M450.5 779v3M450.5 786v1M450.5 802v1M450.5 806v1M450.5 820v1M450.5 858v2M450.5 931v1M450.5 939v1M451.5 822v1M451.5 841v1M451.5 844v1M451.5 938v1M452.5 829v1M452.5 838v1M452.5 933v1M452.5 936v1M453.5 718v3M453.5 747v4M453.5 753v1M453.5 832v4M453.5 956v5M454.5 720v1M454.5 750v3M455.5 751v1M457.5 753v1M458.5 718v1M461.5 753v1M462.5 753v1M463.5 753v1M464.5 752v1M465.5 718v1M465.5 751v1M466.5 720v7M466.5 730v6M466.5 742v1M467.5 719v1M467.5 740v1M467.5 750v1M468.5 718v1M468.5 741v1M468.5 749v2M469.5 718v1M469.5 741v1M470.5 718v1M470.5 741v1M471.5 718v1M471.5 741v1M472.5 718v1M472.5 741v1M472.5 941v6M473.5 718v1M473.5 741v1M473.5 942v5M473.5 968v3M474.5 719v1M474.5 740v5M475.5 720v26M483.5 949v1M484.5 948v6M485.5 950v6M485.5 978v6M486.5 950v7M486.5 973v2M487.5 943v2M487.5 967v2M487.5 972v1M488.5 942v1M488.5 969v1M488.5 972v1M489.5 942v1M489.5 969v1M489.5 971v1M490.5 773v2M490.5 782v2M490.5 942v1M490.5 969v1M490.5 971v1M491.5 772v1M491.5 784v1M491.5 943v2M491.5 967v2M491.5 971v1M492.5 772v1M492.5 784v1M492.5 972v1M493.5 772v1M493.5 784v1M493.5 972v1M494.5 772v1M494.5 784v1M494.5 949v9M494.5 973v2M495.5 761v2M495.5 772v1M495.5 784v1M495.5 950v8M495.5 978v6M496.5 772v1M496.5 784v1M497.5 727v6M497.5 773v2M497.5 782v2M498.5 725v8M500.5 887v7M501.5 745v13M501.5 885v9M502.5 742v19M502.5 886v6M503.5 743v19M503.5 789v42M504.5 745v16M504.5 786v3M504.5 831v3M504.5 872v52M505.5 785v2M505.5 833v2M505.5 869v3M505.5 924v3M505.5 943v12M506.5 784v2M506.5 834v2M506.5 868v2M506.5 926v2M506.5 942v14M507.5 784v1M507.5 835v1M507.5 867v2M507.5 927v2M507.5 945v5M508.5 784v1M508.5 835v1M508.5 867v2M508.5 927v2M508.5 976v11M509.5 784v1M509.5 835v1M509.5 855v4M509.5 867v1M509.5 928v1M509.5 976v11M510.5 784v1M510.5 835v1M510.5 855v3M510.5 867v1M510.5 928v1M511.5 784v2M511.5 834v2M511.5 867v2M511.5 927v2M512.5 785v1M512.5 834v1M512.5 868v1M512.5 927v1M513.5 785v2M513.5 833v2M513.5 868v2M513.5 926v2M514.5 768v12M514.5 787v46M514.5 870v56M514.5 946v7"/>
<path stroke="#0000cf" stroke-width="1" d="M419.5 752v2M419.5 755v1M419.5 765v1M419.5 778v1M419.5 805v5M419.5 850v4M419.5 896v5M419.5 930v2M420.5 752v1M420.5 754v2M420.5 763v1M420.5 795v9M420.5 811v1M420.5 833v2M420.5 844v5M420.5 855v1M420.5 872v4M420.5 894v1M420.5 902v2M420.5 908v4M420.5 916v3M420.5 928v2M420.5 934v2M420.5 963v1M420.5 974v7M421.5 718v1M421.5 751v1M421.5 755v5M421.5 780v1M421.5 794v1M421.5 800v4M421.5 813v2M421.5 821v2M421.5 829v3M421.5 834v3M421.5 845v4M421.5 855v1M421.5 861v4M421.5 870v2M421.5 875v8M421.5 885v3M421.5 924v2M421.5 929v2M421.5 935v2M421.5 955v2M421.5 963v1M421.5 983v2M422.5 733v2M422.5 739v2M422.5 749v1M422.5 754v1M422.5 793v2M422.5 799v2M422.5 803v2M422.5 823v2M422.5 827v2M422.5 840v6M422.5 847v8M422.5 861v2M422.5 864v3M422.5 869v2M422.5 876v4M422.5 888v1M422.5 893v1M422.5 924v1M422.5 930v2M422.5 938v1M422.5 954v2M422.5 957v3M422.5 965v2M422.5 985v2M423.5 721v1M423.5 782v1M423.5 792v7M423.5 804v2M423.5 825v4M423.5 848v4M423.5 864v2M423.5 868v2M423.5 876v3M423.5 888v1M423.5 893v1M423.5 923v1M423.5 930v1M423.5 939v1M424.5 750v1M424.5 791v7M424.5 805v2M424.5 812v4M424.5 826v3M424.5 848v1M424.5 869v2M424.5 874v2M424.5 879v2M424.5 888v1M424.5 893v2M424.5 911v3M424.5 918v2M424.5 922v1M424.5 930v1M425.5 749v1M425.5 753v1M425.5 792v2M425.5 806v5M425.5 816v2M425.5 824v3M425.5 828v3M425.5 833v4M425.5 845v2M425.5 881v2M425.5 887v2M425.5 896v16M425.5 931v2M425.5 935v2M426.5 719v1M426.5 732v1M426.5 743v1M426.5 756v1M426.5 818v2M426.5 822v2M426.5 839v3M427.5 718v1M427.5 726v1M427.5 732v1M427.5 742v1M427.5 772v3M427.5 798v2M427.5 801v3M427.5 810v1M427.5 816v1M427.5 834v2M428.5 742v1M428.5 757v1M428.5 770v2M428.5 784v6M428.5 812v3M428.5 842v1M428.5 860v2M428.5 889v30M428.5 925v7M429.5 719v14M429.5 741v8M429.5 766v1M429.5 790v1M429.5 841v1M429.5 935v1M430.5 720v30M430.5 820v1M430.5 840v1M430.5 936v1M431.5 720v30M431.5 751v1M431.5 789v1M431.5 842v1M432.5 720v30M432.5 751v1M432.5 846v2M432.5 853v1M433.5 720v30M433.5 752v3M433.5 848v1M434.5 720v30M434.5 755v1M434.5 848v1M435.5 719v30M435.5 757v1M435.5 850v1M436.5 728v4M436.5 743v1M436.5 759v1M436.5 764v1M436.5 771v1M436.5 851v1M436.5 940v16M437.5 760v2M437.5 775v1M437.5 852v1M437.5 856v1M438.5 749v1M439.5 778v1M440.5 856v1M440.5 940v1M442.5 925v5M442.5 938v1M443.5 864v27M444.5 849v1M444.5 938v1M445.5 777v1M446.5 778v1M446.5 858v1M447.5 752v1M447.5 799v3M447.5 851v1M447.5 863v1M447.5 944v42M448.5 807v1M448.5 857v1M448.5 939v1M449.5 776v1M449.5 780v2M449.5 785v1M449.5 793v1M449.5 816v3M449.5 828v2M449.5 858v2M450.5 752v1M450.5 776v1M450.5 849v1M451.5 753v1M451.5 788v3M451.5 803v1M451.5 805v1M451.5 823v2M451.5 827v1M451.5 845v2M451.5 932v1M452.5 746v3M452.5 753v1M452.5 837v1M452.5 934v2M453.5 721v1M453.5 746v1M453.5 751v1M454.5 749v1M455.5 720v1M456.5 752v1M457.5 719v1M458.5 753v1M459.5 753v1M460.5 753v1M463.5 752v1M465.5 719v1M465.5 750v1M466.5 727v3M466.5 736v1M466.5 741v1M467.5 720v20M468.5 719v3M468.5 738v3M469.5 719v2M469.5 739v2M470.5 719v2M470.5 739v2M471.5 719v2M471.5 739v2M472.5 719v2M472.5 739v2M473.5 719v3M473.5 738v3M474.5 720v20M486.5 975v12M487.5 945v22M487.5 973v2M488.5 943v2M488.5 967v2M488.5 973v1M489.5 943v1M489.5 968v1M489.5 972v2M490.5 775v7M490.5 943v2M490.5 967v2M490.5 972v2M491.5 773v2M491.5 782v2M491.5 945v22M491.5 972v2M492.5 773v1M492.5 783v1M492.5 973v1M493.5 773v1M493.5 783v1M493.5 973v2M494.5 773v1M494.5 783v1M494.5 975v12M495.5 773v1M495.5 783v1M496.5 773v2M496.5 782v2M497.5 775v7M504.5 789v42M505.5 787v2M505.5 831v2M505.5 872v52M506.5 786v2M506.5 832v2M506.5 870v2M506.5 924v2M507.5 785v2M507.5 833v2M507.5 869v2M507.5 925v2M508.5 785v2M508.5 833v2M508.5 869v1M508.5 926v1M509.5 785v2M509.5 833v2M509.5 868v2M509.5 926v2M510.5 785v2M510.5 833v2M510.5 868v2M510.5 926v2M511.5 786v1M511.5 833v1M511.5 869v1M511.5 926v1M512.5 786v2M512.5 832v2M512.5 869v2M512.5 925v2M513.5 787v7M513.5 826v7M513.5 870v7M513.5 919v7"/>
<path stroke="#0000e9" stroke-width="1" d="M419.5 718v1M419.5 751v1M419.5 754v1M420.5 804v3M420.5 809v2M420.5 849v3M420.5 853v2M420.5 895v1M420.5 901v1M420.5 912v4M420.5 930v4M420.5 964v10M421.5 719v3M421.5 748v3M421.5 760v1M421.5 795v2M421.5 798v2M421.5 804v2M421.5 810v3M421.5 815v6M421.5 832v2M421.5 849v6M421.5 872v3M421.5 883v2M421.5 894v1M421.5 903v6M421.5 917v7M421.5 931v4M421.5 964v2M421.5 979v4M422.5 723v2M422.5 732v1M422.5 741v2M422.5 747v2M422.5 755v1M422.5 781v1M422.5 795v4M422.5 805v2M422.5 810v5M422.5 822v1M422.5 829v3M422.5 836v4M422.5 846v1M422.5 863v1M422.5 871v2M422.5 874v2M422.5 880v3M422.5 886v2M422.5 894v1M422.5 905v3M422.5 923v1M422.5 932v6M422.5 956v1M422.5 967v2M422.5 982v3M423.5 748v2M423.5 754v1M423.5 806v10M423.5 824v1M423.5 829v2M423.5 842v3M423.5 847v1M423.5 870v2M423.5 874v2M423.5 879v3M423.5 886v2M423.5 894v1M423.5 905v4M423.5 911v8M423.5 922v1M423.5 931v1M423.5 938v1M423.5 940v20M424.5 749v1M424.5 753v1M424.5 807v5M424.5 816v1M424.5 824v2M424.5 829v2M424.5 846v2M424.5 871v3M424.5 881v1M424.5 886v2M424.5 895v1M424.5 903v8M424.5 920v2M424.5 931v1M425.5 720v1M425.5 730v2M425.5 746v3M425.5 754v1M425.5 818v2M425.5 822v2M425.5 831v2M425.5 837v8M425.5 883v4M425.5 933v2M426.5 727v1M426.5 757v1M426.5 820v2M427.5 758v1M427.5 771v1M427.5 800v1M427.5 804v1M427.5 825v4M427.5 833v1M427.5 836v1M427.5 842v1M428.5 718v1M428.5 724v1M428.5 732v1M428.5 767v3M428.5 774v1M428.5 815v1M428.5 919v6M429.5 733v1M429.5 739v2M429.5 753v1M429.5 765v1M429.5 767v2M429.5 863v25M429.5 934v1M430.5 752v1M430.5 819v1M430.5 821v1M431.5 818v1M431.5 822v1M432.5 752v1M432.5 784v11M432.5 820v1M432.5 845v1M432.5 854v2M433.5 755v1M433.5 856v1M434.5 756v1M435.5 758v1M435.5 849v1M435.5 857v1M436.5 718v1M436.5 726v2M436.5 732v2M436.5 763v1M436.5 857v1M437.5 744v1M437.5 851v1M437.5 940v1M438.5 748v1M438.5 777v1M438.5 851v2M438.5 855v2M438.5 940v1M439.5 750v2M439.5 855v2M439.5 940v1M440.5 854v1M442.5 850v1M442.5 892v33M442.5 930v1M443.5 849v1M443.5 858v1M443.5 930v1M444.5 752v1M445.5 849v1M445.5 931v1M446.5 850v1M446.5 931v1M446.5 939v1M447.5 798v1M447.5 802v1M447.5 809v2M447.5 939v1M448.5 778v1M448.5 795v1M448.5 803v1M448.5 851v1M448.5 861v1M449.5 806v1M449.5 819v1M449.5 827v1M449.5 830v1M449.5 931v1M450.5 777v2M450.5 791v1M450.5 821v1M450.5 828v2M450.5 938v1M451.5 804v1M451.5 825v2M451.5 828v1M451.5 840v1M451.5 937v1M452.5 745v1M452.5 749v1M452.5 830v1M453.5 722v1M453.5 745v1M453.5 752v1M454.5 721v1M454.5 747v2M455.5 750v1M456.5 720v1M458.5 719v1M459.5 718v1M461.5 752v1M462.5 752v1M464.5 718v1M464.5 751v1M465.5 720v5M465.5 732v4M465.5 743v7M466.5 740v1M468.5 722v16M469.5 721v18M470.5 721v18M471.5 721v18M472.5 721v18M473.5 722v16M487.5 975v12M488.5 945v22M488.5 974v3M488.5 985v2M489.5 944v24M489.5 974v1M490.5 945v22M490.5 974v1M491.5 775v7M491.5 974v1M492.5 774v4M492.5 779v4M492.5 974v3M492.5 985v2M493.5 774v2M493.5 781v2M493.5 975v12M494.5 774v2M494.5 781v2M495.5 774v4M495.5 779v4M496.5 775v7M505.5 789v42M506.5 788v3M506.5 829v3M506.5 872v52M507.5 787v2M507.5 831v2M507.5 871v3M507.5 922v3M508.5 787v2M508.5 831v2M508.5 870v2M508.5 924v2M509.5 787v1M509.5 832v1M509.5 870v2M509.5 924v2M510.5 787v2M510.5 831v2M510.5 870v2M510.5 924v2M511.5 787v3M511.5 830v3M511.5 870v3M511.5 923v3M512.5 788v44M512.5 871v54M513.5 794v32M513.5 877v42"/>
<path stroke="#0019f3" stroke-width="1" d="M419.5 766v1M420.5 764v1M420.5 778v1M420.5 807v2M420.5 852v1M420.5 896v1M420.5 900v1M421.5 722v26M421.5 761v1M421.5 779v1M421.5 797v1M421.5 806v4M421.5 895v1M421.5 902v1M421.5 909v4M421.5 914v3M421.5 966v6M421.5 976v3M422.5 725v7M422.5 743v4M422.5 807v3M422.5 815v2M422.5 821v1M422.5 832v4M422.5 873v1M422.5 883v3M422.5 895v1M422.5 903v2M422.5 908v15M422.5 969v2M422.5 979v3M423.5 722v1M423.5 730v6M423.5 741v7M423.5 816v1M423.5 822v2M423.5 831v2M423.5 839v3M423.5 845v2M423.5 872v2M423.5 882v4M423.5 895v1M423.5 903v2M423.5 909v2M423.5 919v3M423.5 932v6M423.5 960v12M423.5 979v8M424.5 721v1M424.5 730v3M424.5 744v5M424.5 754v1M424.5 817v1M424.5 823v1M424.5 831v7M424.5 840v6M424.5 882v4M424.5 896v7M424.5 932v5M425.5 728v2M425.5 732v2M425.5 743v3M425.5 755v1M425.5 820v2M426.5 733v1M426.5 742v1M426.5 773v2M427.5 805v1M427.5 809v1M427.5 817v1M427.5 824v1M427.5 829v1M427.5 832v1M427.5 837v2M427.5 841v1M428.5 719v1M428.5 723v1M428.5 758v1M428.5 766v1M428.5 783v1M428.5 798v1M428.5 811v1M429.5 734v5M429.5 764v1M429.5 769v4M429.5 798v1M429.5 803v1M429.5 858v1M429.5 862v1M429.5 888v30M429.5 929v5M430.5 760v8M430.5 818v1M430.5 822v1M430.5 857v1M430.5 935v1M431.5 752v1M431.5 788v1M431.5 797v1M431.5 841v1M431.5 856v1M432.5 753v4M432.5 782v2M432.5 795v1M432.5 819v1M432.5 821v1M433.5 756v2M433.5 784v1M433.5 847v1M434.5 757v2M435.5 759v1M435.5 767v2M435.5 848v1M435.5 940v47M436.5 719v7M436.5 734v2M436.5 742v1M436.5 760v1M436.5 762v1M436.5 772v1M436.5 850v1M437.5 729v4M437.5 776v1M437.5 857v1M438.5 747v1M438.5 853v2M439.5 779v1M440.5 779v1M441.5 778v1M441.5 857v1M441.5 929v2M442.5 777v1M442.5 864v28M444.5 848v1M444.5 863v1M445.5 752v1M445.5 848v1M445.5 859v1M445.5 863v1M445.5 938v1M446.5 752v1M446.5 863v1M447.5 779v1M447.5 797v1M447.5 808v1M447.5 811v1M447.5 858v1M447.5 862v1M447.5 931v1M448.5 779v1M448.5 782v1M448.5 813v1M448.5 858v1M448.5 860v1M448.5 938v1M449.5 751v1M449.5 777v1M449.5 779v1M449.5 803v1M449.5 938v1M450.5 787v1M450.5 803v1M450.5 805v1M450.5 827v1M450.5 842v1M451.5 737v2M451.5 829v1M452.5 719v3M452.5 737v3M452.5 744v1M452.5 750v1M452.5 831v1M452.5 836v1M453.5 723v1M453.5 731v2M453.5 743v2M454.5 722v2M454.5 745v2M455.5 721v1M455.5 749v1M456.5 751v1M457.5 720v1M457.5 752v1M460.5 718v1M460.5 752v1M461.5 718v1M461.5 751v1M462.5 718v1M462.5 751v1M463.5 718v1M463.5 751v1M465.5 725v2M465.5 731v1M465.5 736v1M465.5 741v2M466.5 737v3M488.5 977v8M489.5 975v12M490.5 975v12M491.5 975v12M492.5 778v1M492.5 977v8M493.5 776v5M494.5 776v5M495.5 778v1M506.5 791v38M507.5 789v42M507.5 874v48M508.5 789v42M508.5 872v52M509.5 788v44M509.5 872v52M510.5 789v42M510.5 872v15M510.5 893v31M511.5 790v40M511.5 873v14M511.5 893v30"/>
<path stroke="#0033fc" stroke-width="1" d="M419.5 719v1M419.5 750v1M420.5 718v1M420.5 751v1M420.5 765v1M420.5 897v3M421.5 762v1M421.5 896v1M421.5 901v1M421.5 913v1M421.5 972v4M422.5 756v1M422.5 780v1M422.5 817v4M422.5 896v1M422.5 902v1M422.5 971v2M422.5 977v2M423.5 723v7M423.5 736v5M423.5 755v1M423.5 781v1M423.5 817v2M423.5 821v1M423.5 833v6M423.5 896v1M423.5 901v2M423.5 972v1M423.5 978v1M424.5 722v1M424.5 727v3M424.5 733v3M424.5 740v4M424.5 755v1M424.5 818v5M424.5 838v2M424.5 937v22M425.5 727v1M425.5 734v1M425.5 741v2M425.5 756v1M425.5 783v1M426.5 720v1M426.5 726v1M426.5 758v1M426.5 771v2M426.5 775v1M427.5 719v1M427.5 725v1M427.5 770v1M427.5 775v1M427.5 806v3M427.5 818v1M427.5 823v1M427.5 830v2M427.5 839v2M428.5 720v1M428.5 722v1M428.5 741v1M428.5 799v1M428.5 801v3M428.5 816v1M428.5 834v1M428.5 841v1M429.5 754v2M429.5 763v1M429.5 773v1M429.5 802v1M429.5 804v1M429.5 840v1M429.5 918v11M430.5 753v1M430.5 758v2M430.5 768v1M430.5 789v1M430.5 804v1M430.5 839v1M430.5 863v29M430.5 934v1M431.5 753v1M431.5 756v11M431.5 782v3M431.5 787v1M431.5 936v1M432.5 757v7M432.5 781v1M432.5 818v1M432.5 822v1M432.5 844v1M432.5 856v1M433.5 758v4M433.5 782v2M433.5 785v2M433.5 846v1M434.5 759v2M434.5 847v1M434.5 857v1M435.5 760v1M435.5 766v1M435.5 769v1M435.5 847v1M435.5 939v1M436.5 736v1M436.5 761v1M436.5 858v1M436.5 939v1M437.5 718v1M437.5 728v1M437.5 733v2M437.5 743v1M437.5 850v1M437.5 858v2M438.5 730v4M438.5 746v1M438.5 850v1M438.5 857v1M439.5 780v2M439.5 854v1M440.5 780v3M440.5 853v1M441.5 851v1M441.5 889v40M442.5 849v1M443.5 848v1M443.5 863v1M443.5 937v1M444.5 777v1M444.5 847v1M444.5 859v1M444.5 931v1M444.5 937v1M445.5 846v2M445.5 862v1M446.5 779v1M446.5 849v1M446.5 859v1M446.5 862v1M446.5 938v1M447.5 796v1M447.5 803v1M447.5 861v1M447.5 938v1M448.5 780v2M448.5 783v1M448.5 794v1M448.5 806v1M448.5 827v4M448.5 859v1M448.5 931v1M449.5 778v1M449.5 820v1M449.5 831v1M449.5 841v1M449.5 850v1M450.5 751v1M450.5 826v1M450.5 830v1M450.5 841v1M450.5 843v1M450.5 932v1M450.5 937v1M451.5 735v2M451.5 739v2M451.5 752v1M451.5 839v1M451.5 933v1M451.5 936v1M452.5 718v1M452.5 722v1M452.5 735v2M452.5 740v4M452.5 752v1M452.5 835v1M453.5 724v2M453.5 729v2M453.5 733v10M454.5 724v2M454.5 730v7M454.5 742v3M455.5 722v3M455.5 732v5M455.5 744v5M456.5 721v2M456.5 749v2M457.5 721v1M458.5 720v2M459.5 719v2M459.5 752v1M460.5 751v1M464.5 719v2M464.5 749v2M465.5 727v1M465.5 730v1M465.5 737v1M465.5 739v2M510.5 887v1M510.5 892v1M511.5 887v1M511.5 892v1"/>
<path stroke="#0058ff" stroke-width="1" d="M419.5 720v30M419.5 767v1M420.5 766v1M421.5 763v1M421.5 778v1M421.5 897v4M422.5 757v2M422.5 779v1M422.5 897v1M422.5 900v2M422.5 973v4M423.5 756v1M423.5 780v1M423.5 819v2M423.5 897v4M423.5 973v2M423.5 976v2M424.5 723v4M424.5 736v4M424.5 756v1M424.5 782v1M424.5 959v28M425.5 721v6M425.5 735v6M425.5 757v1M425.5 775v2M425.5 937v6M426.5 721v5M426.5 734v8M426.5 770v1M426.5 776v1M427.5 720v5M427.5 733v9M427.5 769v1M427.5 783v1M427.5 822v1M428.5 721v1M428.5 733v8M428.5 765v1M428.5 800v1M428.5 804v1M428.5 825v3M428.5 833v1M428.5 835v1M429.5 756v7M429.5 774v2M429.5 789v1M429.5 799v1M429.5 801v1M429.5 805v1M429.5 839v1M430.5 754v4M430.5 769v9M430.5 798v1M430.5 803v1M430.5 805v1M430.5 823v1M430.5 836v3M430.5 862v1M430.5 892v29M430.5 933v1M431.5 754v2M431.5 767v11M431.5 781v1M431.5 785v2M431.5 817v1M431.5 823v1M431.5 863v11M432.5 764v14M432.5 796v1M433.5 762v15M433.5 781v1M433.5 787v3M434.5 761v15M434.5 846v1M434.5 939v48M435.5 761v5M435.5 770v6M435.5 858v1M436.5 737v2M436.5 741v1M436.5 773v4M436.5 849v1M436.5 859v2M437.5 719v1M437.5 727v1M437.5 735v1M437.5 777v1M437.5 860v1M437.5 939v1M438.5 728v2M438.5 734v2M438.5 744v2M438.5 858v3M439.5 730v4M439.5 749v1M439.5 782v1M439.5 857v1M440.5 857v1M440.5 907v14M440.5 939v1M441.5 780v2M441.5 863v26M441.5 938v1M442.5 848v1M442.5 858v1M442.5 863v1M442.5 937v1M443.5 777v1M443.5 846v2M443.5 859v1M443.5 861v2M444.5 844v3M444.5 860v3M445.5 778v1M445.5 781v1M445.5 843v3M445.5 860v2M445.5 932v1M445.5 937v1M446.5 780v1M446.5 799v4M446.5 842v7M446.5 860v2M447.5 780v2M447.5 795v1M447.5 807v1M447.5 812v1M447.5 850v1M447.5 859v2M448.5 784v1M448.5 804v1M448.5 831v1M448.5 840v3M449.5 750v1M449.5 786v1M449.5 792v1M449.5 804v2M449.5 826v1M449.5 840v1M449.5 842v1M449.5 937v1M450.5 739v1M450.5 790v1M450.5 804v1M450.5 822v1M451.5 734v1M451.5 741v1M451.5 743v5M451.5 830v1M451.5 838v1M451.5 934v2M452.5 723v2M452.5 731v4M452.5 751v1M452.5 832v3M453.5 726v3M454.5 726v4M454.5 737v5M455.5 725v7M455.5 737v7M456.5 723v26M457.5 722v30M458.5 722v31M459.5 721v31M460.5 719v1M460.5 750v1M461.5 719v1M461.5 750v1M462.5 719v1M462.5 750v1M463.5 719v1M463.5 750v1M464.5 721v28M465.5 728v2M465.5 738v1M510.5 888v4M511.5 888v4"/>
<path stroke="#0083ff" stroke-width="1" d="M419.5 768v1M420.5 719v1M420.5 750v1M420.5 767v2M421.5 764v2M422.5 759v3M422.5 777v2M422.5 898v2M423.5 757v2M423.5 777v3M423.5 975v1M424.5 757v1M424.5 776v6M425.5 758v1M425.5 771v4M425.5 777v2M425.5 943v16M426.5 759v1M426.5 769v1M426.5 783v1M427.5 759v1M427.5 768v1M427.5 819v3M428.5 759v1M428.5 775v1M428.5 805v1M428.5 810v1M428.5 817v1M428.5 824v1M428.5 828v1M428.5 832v1M428.5 836v2M428.5 840v1M429.5 783v1M429.5 800v1M429.5 812v2M429.5 824v2M429.5 834v5M429.5 861v1M430.5 802v1M430.5 806v1M430.5 817v1M430.5 834v2M430.5 921v1M430.5 932v1M431.5 780v1M431.5 798v1M431.5 840v1M431.5 862v1M431.5 874v14M431.5 934v2M432.5 780v1M432.5 843v1M433.5 790v2M434.5 776v1M434.5 782v2M435.5 776v1M435.5 846v1M435.5 938v1M436.5 739v2M436.5 848v1M436.5 935v4M437.5 720v7M437.5 736v1M437.5 849v1M437.5 935v1M438.5 718v1M438.5 727v1M438.5 736v1M438.5 743v1M438.5 778v1M438.5 780v2M438.5 939v1M439.5 727v3M439.5 734v3M439.5 747v2M439.5 849v2M439.5 858v3M440.5 718v1M440.5 729v8M440.5 749v2M440.5 892v15M440.5 921v1M441.5 779v1M441.5 782v1M441.5 849v2M441.5 862v1M441.5 931v1M442.5 847v1M442.5 861v2M443.5 845v1M443.5 860v1M443.5 931v1M443.5 936v1M444.5 932v1M444.5 936v1M445.5 779v2M445.5 842v1M445.5 933v1M446.5 781v2M446.5 798v1M446.5 932v1M447.5 782v2M447.5 794v1M447.5 804v1M447.5 806v1M447.5 828v1M447.5 840v5M448.5 805v1M448.5 814v1M448.5 826v1M448.5 839v1M448.5 937v1M449.5 832v1M449.5 932v1M450.5 737v2M450.5 740v7M450.5 750v1M450.5 788v1M450.5 823v3M450.5 831v1M450.5 840v1M450.5 844v1M450.5 848v1M450.5 936v1M451.5 722v1M451.5 732v2M451.5 742v1M451.5 748v2M451.5 837v1M452.5 725v1M452.5 729v2M460.5 720v3M460.5 747v3M461.5 720v1M461.5 749v1M462.5 720v1M462.5 749v1M463.5 720v3M463.5 747v3"/>
<path stroke="#00afff" stroke-width="1" d="M419.5 769v9M420.5 720v1M420.5 749v1M420.5 769v9M421.5 766v2M421.5 772v6M422.5 762v2M422.5 773v4M423.5 759v3M423.5 774v3M424.5 758v5M424.5 773v3M425.5 759v5M425.5 769v2M425.5 779v4M425.5 959v28M426.5 760v9M426.5 777v6M427.5 760v8M427.5 776v7M428.5 760v5M428.5 776v7M428.5 806v4M428.5 818v6M428.5 829v3M428.5 838v2M429.5 776v7M429.5 784v5M429.5 806v6M429.5 814v10M429.5 826v8M429.5 859v2M430.5 778v11M430.5 799v3M430.5 807v10M430.5 824v10M430.5 858v4M430.5 922v10M431.5 778v2M431.5 799v1M431.5 806v7M431.5 816v1M431.5 824v1M431.5 831v9M431.5 857v5M431.5 888v15M432.5 778v2M432.5 797v1M432.5 817v1M432.5 823v1M432.5 857v4M432.5 935v2M433.5 777v4M433.5 792v1M433.5 845v1M433.5 857v4M433.5 935v2M433.5 952v35M434.5 777v3M434.5 781v1M434.5 784v1M434.5 858v3M434.5 935v4M435.5 777v3M435.5 782v1M435.5 859v2M435.5 935v3M436.5 777v3M437.5 737v6M437.5 778v2M437.5 936v3M438.5 719v8M438.5 737v6M438.5 779v1M438.5 782v1M438.5 849v1M438.5 935v4M439.5 718v9M439.5 737v10M439.5 783v1M439.5 851v3M439.5 934v6M440.5 719v10M440.5 737v12M440.5 751v1M440.5 783v1M440.5 850v3M440.5 858v3M440.5 878v14M440.5 922v17M441.5 718v18M441.5 858v4M441.5 932v6M442.5 778v2M442.5 846v1M442.5 859v2M442.5 931v6M443.5 778v1M443.5 932v4M444.5 778v5M444.5 843v1M444.5 933v3M445.5 782v1M445.5 841v1M445.5 934v3M446.5 794v2M446.5 797v1M446.5 841v1M446.5 933v5M447.5 784v1M447.5 793v1M447.5 805v1M447.5 813v1M447.5 825v3M447.5 829v3M447.5 837v3M447.5 845v5M447.5 932v6M448.5 750v2M448.5 785v3M448.5 791v3M448.5 815v11M448.5 832v7M448.5 843v8M448.5 932v5M449.5 742v8M449.5 787v5M449.5 821v5M449.5 833v7M449.5 843v7M449.5 933v4M450.5 734v3M450.5 747v3M450.5 789v1M450.5 832v8M450.5 845v3M450.5 933v3M451.5 718v4M451.5 723v9M451.5 750v2M451.5 831v6M452.5 726v3M460.5 723v24M461.5 721v28M462.5 721v28M463.5 723v24"/>
<path stroke="#0bccf5" stroke-width="1" d="M420.5 721v28M421.5 768v4M422.5 764v1M422.5 771v2M423.5 762v1M423.5 773v1M424.5 763v1M424.5 772v1M425.5 764v5M431.5 800v6M431.5 830v1M431.5 903v15M431.5 933v1M432.5 798v1M432.5 934v1M433.5 793v1M433.5 819v4M433.5 934v1M433.5 941v11M434.5 780v1M434.5 785v1M435.5 780v2M435.5 783v1M436.5 780v3M436.5 847v1M437.5 780v3M437.5 848v1M437.5 934v1M438.5 783v1M438.5 934v1M439.5 848v1M439.5 933v1M440.5 849v1M440.5 863v15M441.5 736v6M441.5 783v1M441.5 848v1M442.5 782v1M443.5 779v1M443.5 844v1M444.5 783v1M444.5 842v1M445.5 783v1M446.5 783v1M446.5 793v1M446.5 796v1M446.5 803v1M446.5 809v2M446.5 840v1M447.5 785v1M447.5 820v2M447.5 832v5M448.5 748v2M448.5 788v1M448.5 790v1M449.5 740v2M450.5 727v7"/>
<path stroke="#1de2e6" stroke-width="1" d="M422.5 765v1M422.5 770v1M423.5 763v1M423.5 772v1M424.5 764v1M424.5 771v1M426.5 937v10M431.5 813v1M431.5 815v1M431.5 825v1M431.5 918v5M431.5 931v2M432.5 842v1M432.5 861v17M432.5 933v1M433.5 794v1M433.5 818v1M433.5 823v1M433.5 937v4M434.5 786v1M434.5 934v1M435.5 934v1M436.5 783v1M436.5 846v1M436.5 934v1M437.5 783v1M438.5 848v1M438.5 933v1M439.5 903v20M439.5 931v2M440.5 848v1M440.5 861v2M441.5 742v7M441.5 847v1M442.5 781v1M442.5 783v1M442.5 845v1M443.5 781v3M444.5 841v1M445.5 840v1M446.5 811v1M447.5 792v1M447.5 814v1M447.5 819v1M447.5 822v3M448.5 745v3M448.5 789v1M449.5 737v3M450.5 719v8"/>
<path stroke="#3df2c5" stroke-width="1" d="M422.5 766v1M422.5 769v1M423.5 764v1M423.5 771v1M424.5 765v1M424.5 770v1M426.5 947v40M431.5 814v1M431.5 829v1M431.5 923v8M432.5 799v1M432.5 816v1M432.5 824v1M432.5 831v3M432.5 878v21M432.5 932v1M432.5 959v28M433.5 795v2M433.5 817v1M433.5 844v1M433.5 933v1M434.5 787v4M434.5 845v1M435.5 784v1M435.5 845v1M436.5 784v1M436.5 845v1M437.5 784v1M437.5 847v1M437.5 933v1M438.5 784v1M438.5 847v1M438.5 932v1M439.5 784v1M439.5 847v1M439.5 881v22M439.5 923v8M440.5 784v1M440.5 847v1M441.5 749v3M441.5 784v1M441.5 846v1M442.5 718v23M442.5 780v1M442.5 784v1M442.5 844v1M443.5 780v1M443.5 784v1M443.5 843v1M444.5 784v1M444.5 840v1M445.5 784v1M446.5 784v1M446.5 792v1M446.5 808v1M446.5 812v1M446.5 826v2M446.5 839v1M447.5 749v3M447.5 818v1M448.5 741v4M449.5 728v9M450.5 718v1"/>
<path stroke="#7af684" stroke-width="1" d="M422.5 767v2M424.5 766v1M424.5 769v1M431.5 826v3M432.5 800v1M432.5 809v3M432.5 830v1M432.5 834v1M432.5 899v22M432.5 930v2M432.5 939v20M433.5 797v3M433.5 816v1M433.5 824v1M433.5 831v2M433.5 861v4M433.5 932v1M434.5 791v2M434.5 821v3M434.5 933v1M435.5 785v1M435.5 933v1M436.5 933v1M437.5 846v1M437.5 932v1M438.5 917v6M438.5 930v2M439.5 846v1M439.5 861v20M440.5 845v2M441.5 845v1M442.5 741v11M442.5 843v1M443.5 785v1M443.5 841v2M444.5 785v1M444.5 839v1M445.5 792v2M445.5 822v5M445.5 839v1M446.5 750v2M446.5 804v1M446.5 821v5M446.5 828v1M446.5 838v1M447.5 742v7M447.5 815v1M448.5 735v6M449.5 720v8"/>
<path stroke="#b6fa44" stroke-width="1" d="M423.5 765v1M423.5 770v1M424.5 767v2M427.5 937v14M432.5 808v1M432.5 812v2M432.5 815v1M432.5 841v1M432.5 921v9M432.5 937v2M433.5 800v1M433.5 815v1M433.5 825v1M433.5 830v1M433.5 833v1M433.5 865v8M433.5 931v1M434.5 793v2M434.5 816v5M434.5 824v9M434.5 844v1M434.5 931v2M435.5 786v2M435.5 844v1M435.5 932v1M436.5 785v1M436.5 844v1M436.5 931v2M437.5 785v1M437.5 845v1M437.5 930v2M438.5 785v1M438.5 846v1M438.5 909v8M438.5 923v7M439.5 785v1M440.5 785v1M440.5 844v1M441.5 785v1M441.5 843v2M442.5 785v1M442.5 841v2M443.5 718v23M443.5 750v2M443.5 786v1M443.5 838v3M444.5 750v2M444.5 786v1M444.5 821v5M444.5 838v1M445.5 750v2M445.5 785v1M445.5 791v1M445.5 794v1M445.5 800v3M445.5 821v1M445.5 827v1M445.5 838v1M446.5 748v2M446.5 785v1M446.5 807v1M446.5 820v1M446.5 829v1M446.5 837v1M447.5 741v1M447.5 786v1M447.5 816v2M448.5 732v3M449.5 718v2"/>
<path stroke="#daf522" stroke-width="1" d="M423.5 766v1M423.5 769v1M427.5 951v5M432.5 801v1M432.5 814v1M432.5 825v1M432.5 829v1M432.5 835v1M433.5 801v1M433.5 811v4M433.5 826v1M433.5 828v2M433.5 843v1M433.5 873v8M433.5 922v1M433.5 928v3M434.5 795v8M434.5 811v5M434.5 833v2M434.5 930v1M435.5 788v6M435.5 800v3M435.5 811v30M435.5 842v2M435.5 930v2M436.5 786v3M436.5 825v6M436.5 838v3M436.5 843v1M436.5 929v2M437.5 786v2M437.5 844v1M437.5 922v8M438.5 786v2M438.5 845v1M438.5 900v9M439.5 786v2M439.5 844v2M440.5 786v2M440.5 840v4M441.5 786v2M441.5 838v5M442.5 786v2M442.5 821v2M442.5 835v6M443.5 741v9M443.5 787v1M443.5 820v7M443.5 835v3M444.5 787v2M444.5 820v1M444.5 826v3M444.5 836v2M445.5 786v1M445.5 790v1M445.5 795v1M445.5 799v1M445.5 803v1M445.5 820v1M445.5 828v1M445.5 837v1M446.5 745v3M446.5 791v1M446.5 805v2M446.5 813v1M446.5 836v1M447.5 739v2M447.5 791v1M448.5 729v3"/>
<path stroke="#fef001" stroke-width="1" d="M423.5 767v2M427.5 956v31M431.5 959v28M432.5 802v6M432.5 826v3M432.5 836v5M433.5 802v9M433.5 827v1M433.5 834v9M433.5 881v9M433.5 923v5M434.5 803v2M434.5 808v3M434.5 835v3M434.5 840v4M434.5 922v1M434.5 928v2M435.5 794v1M435.5 803v1M435.5 810v1M435.5 841v1M435.5 922v1M435.5 928v2M436.5 789v4M436.5 811v4M436.5 818v7M436.5 831v7M436.5 841v2M436.5 922v3M436.5 926v3M437.5 788v3M437.5 837v7M438.5 788v3M438.5 844v1M438.5 891v9M439.5 788v3M439.5 838v6M440.5 788v3M440.5 801v3M440.5 805v4M440.5 817v4M440.5 837v3M441.5 788v3M441.5 800v26M441.5 834v4M442.5 788v7M442.5 797v24M442.5 823v12M443.5 788v32M443.5 827v8M444.5 741v9M444.5 789v31M444.5 829v7M445.5 742v8M445.5 787v3M445.5 796v3M445.5 804v16M445.5 829v8M446.5 741v4M446.5 786v5M446.5 814v6M446.5 830v6M447.5 736v3M447.5 787v4M448.5 725v4"/>
<path stroke="#ffc900" stroke-width="1" d="M431.5 952v7M433.5 890v11M434.5 838v2M434.5 923v5M435.5 799v1M435.5 923v5M436.5 802v2M436.5 810v1M436.5 815v3M436.5 925v1M437.5 791v1M437.5 820v12M437.5 836v1M438.5 838v6M438.5 880v11M439.5 818v4M439.5 837v1M440.5 804v1M440.5 809v8M440.5 821v5M441.5 826v1M442.5 795v2M444.5 724v17M445.5 733v9M446.5 733v8M447.5 730v6M448.5 720v5"/>
<path stroke="#ffa200" stroke-width="1" d="M431.5 944v8M433.5 901v13M434.5 805v1M434.5 807v1M436.5 801v1M437.5 818v2M437.5 832v4M438.5 837v1M438.5 867v13M439.5 791v1M439.5 802v6M439.5 815v3M439.5 822v2M440.5 800v1M440.5 826v1M440.5 836v1M441.5 791v1M444.5 718v6M445.5 721v12M446.5 722v11M447.5 720v10M448.5 718v2"/>
<path stroke="#fb7600" stroke-width="1" d="M428.5 937v6M431.5 937v7M433.5 914v7M434.5 806v1M434.5 861v13M435.5 795v1M435.5 797v2M435.5 804v6M436.5 793v1M436.5 800v1M436.5 804v1M436.5 809v1M437.5 802v4M437.5 808v10M437.5 907v15M438.5 791v1M438.5 817v6M438.5 827v4M438.5 861v6M439.5 801v1M439.5 808v7M439.5 824v7M440.5 791v1M441.5 792v1M441.5 797v3M441.5 828v4M441.5 833v1M445.5 718v3M446.5 718v4M447.5 718v2"/>
<path stroke="#f24700" stroke-width="1" d="M428.5 943v44M430.5 951v36M433.5 921v1M434.5 874v43M435.5 796v1M436.5 794v6M436.5 805v4M437.5 798v4M437.5 806v2M437.5 863v44M438.5 799v13M438.5 815v2M438.5 823v4M438.5 831v1M438.5 836v1M439.5 798v3M439.5 831v1M439.5 836v1M440.5 792v8M440.5 827v9M441.5 793v4M441.5 827v1M441.5 832v1"/>
<path stroke="#e31a00" stroke-width="1" d="M429.5 937v50M430.5 937v14M434.5 917v4M435.5 861v60M436.5 861v61M437.5 792v2M437.5 796v2M437.5 861v2M438.5 792v1M438.5 797v2M438.5 812v3M438.5 832v4M439.5 792v2M439.5 796v2M439.5 832v1M439.5 835v1"/>
<path stroke="#aa0000" stroke-width="1" d="M434.5 921v1M435.5 921v1M437.5 794v2M438.5 793v4M439.5 794v2M439.5 833v2"/>
</g></g>
<text x="459.3" y="664.3" font-size="20" text-anchor="middle" font-weight="bold" font-style="normal" fill="#333">i</text>
<text x="466.2" y="679.4" font-size="9.7" text-anchor="middle" font-weight="bold" font-style="normal" fill="#333">COCO*HoSL</text>
<text x="464.5" y="689.8" font-size="9.7" text-anchor="middle" font-weight="normal" font-style="normal" fill="#444">Sedimentation rate</text>
<text x="466.8" y="699.2" font-size="9.7" text-anchor="middle" font-weight="normal" font-style="normal" fill="#444">(cm/kyr)</text>
<text x="430.7" y="711.0" font-size="9.7" text-anchor="middle" font-weight="bold" font-style="normal" fill="#333">0.5</text>
<line x1="430.70" y1="718.40" x2="430.70" y2="721.40" stroke="#888" stroke-width="0.7"/>
<text x="459.3" y="711.0" font-size="9.7" text-anchor="middle" font-weight="bold" font-style="normal" fill="#333">1</text>
<line x1="459.30" y1="718.40" x2="459.30" y2="721.40" stroke="#888" stroke-width="0.7"/>
<text x="487.1" y="711.0" font-size="9.7" text-anchor="middle" font-weight="bold" font-style="normal" fill="#333">1.5</text>
<line x1="487.10" y1="718.40" x2="487.10" y2="721.40" stroke="#888" stroke-width="0.7"/>
<text x="515.0" y="711.0" font-size="9.7" text-anchor="middle" font-weight="bold" font-style="normal" fill="#333">2</text>
<line x1="515.00" y1="718.40" x2="515.00" y2="721.40" stroke="#888" stroke-width="0.7"/>
<text x="560.8" y="556.1" font-size="9.0" text-anchor="middle" font-weight="bold" font-style="normal" fill="#111">Null Hypothesis Significance Level</text>
<line x1="489.60" y1="571.00" x2="489.60" y2="601.10" stroke="#444" stroke-width="0.9"/>
<line x1="485.30" y1="571.00" x2="489.60" y2="571.00" stroke="#444" stroke-width="0.9"/>
<line x1="485.30" y1="577.02" x2="489.60" y2="577.02" stroke="#444" stroke-width="0.9"/>
<line x1="485.30" y1="583.04" x2="489.60" y2="583.04" stroke="#444" stroke-width="0.9"/>
<line x1="485.30" y1="589.06" x2="489.60" y2="589.06" stroke="#444" stroke-width="0.9"/>
<line x1="485.30" y1="595.08" x2="489.60" y2="595.08" stroke="#444" stroke-width="0.9"/>
<line x1="485.30" y1="601.10" x2="489.60" y2="601.10" stroke="#444" stroke-width="0.9"/>
<line x1="491.40" y1="602.50" x2="614.50" y2="602.50" stroke="#444" stroke-width="0.9"/>
<line x1="491.40" y1="602.50" x2="491.40" y2="606.70" stroke="#444" stroke-width="0.9"/>
<text x="491.4" y="618.9" font-size="8.6" text-anchor="middle" font-weight="normal" font-style="normal" fill="#333">0</text>
<line x1="522.18" y1="602.50" x2="522.18" y2="606.70" stroke="#444" stroke-width="0.9"/>
<text x="522.2" y="618.9" font-size="8.6" text-anchor="middle" font-weight="normal" font-style="normal" fill="#333">1</text>
<line x1="552.96" y1="602.50" x2="552.96" y2="606.70" stroke="#444" stroke-width="0.9"/>
<text x="553.0" y="618.9" font-size="8.6" text-anchor="middle" font-weight="normal" font-style="normal" fill="#333">2</text>
<line x1="583.74" y1="602.50" x2="583.74" y2="606.70" stroke="#444" stroke-width="0.9"/>
<text x="583.7" y="618.9" font-size="8.6" text-anchor="middle" font-weight="normal" font-style="normal" fill="#333">3</text>
<line x1="614.52" y1="602.50" x2="614.52" y2="606.70" stroke="#444" stroke-width="0.9"/>
<text x="614.5" y="618.9" font-size="8.6" text-anchor="middle" font-weight="normal" font-style="normal" fill="#333">4</text>
<text x="554.4" y="636.2" font-size="8.2" text-anchor="middle" font-weight="normal" font-style="normal" fill="#333">Sedimentation Rate (cm/ka)</text>
<text x="461.7" y="586.4" font-size="8.2" text-anchor="middle" font-weight="normal" font-style="normal" fill="#333" transform="rotate(-90 461.7 586.4)">Ho-SL (%)</text>
<text x="479.8" y="570.7" font-size="8.2" text-anchor="middle" font-weight="normal" font-style="normal" fill="#333" transform="rotate(-90 479.8 570.7)">1e+02</text>
<text x="479.8" y="600.5" font-size="8.2" text-anchor="middle" font-weight="normal" font-style="normal" fill="#333" transform="rotate(-90 479.8 600.5)">1e-03</text>
<line x1="491.40" y1="584.70" x2="619.00" y2="584.70" stroke="#222" stroke-width="0.8" stroke-dasharray="1,1.2"/>
<path d="M493.5,579.2 494.3,571.8 497.2,571.0 501.0,571.8 503.4,574.7 505.4,581.0 506.7,589.6 507.9,599.6 508.6,601.6 509.6,597.1 510.9,588.4 512.9,583.4 515.8,579.2 518.8,577.7 522.0,581.0 524.5,584.2 528.3,584.7 532.5,582.7 536.9,579.7 541.9,579.2 546.9,578.5 550.6,579.7 555.6,582.7 559.3,585.4 564.2,587.9 569.2,589.1 574.2,589.1 579.1,589.6 584.1,587.9 589.1,587.9 594.0,589.1 599.0,589.6 602.7,589.1 606.4,586.7 610.2,585.2 612.6,585.9 615.1,586.7" fill="none" stroke="#2525f0" stroke-width="1.7" stroke-linejoin="round"/>
<line x1="507.70" y1="566.00" x2="507.70" y2="602.50" stroke="#ff1111" stroke-width="1.3" stroke-dasharray="3,1.3,1.2,1.3"/>
<text x="486.5" y="568.7" font-size="7.8" text-anchor="start" font-weight="bold" font-style="italic" fill="#ee1111">0.571 cm/ka</text>
<text x="547.3" y="526.2" font-size="20" text-anchor="middle" font-weight="bold" font-style="normal" fill="#333">j</text>
<text x="656.4" y="525.5" font-size="15.5" text-anchor="middle" font-weight="bold" font-style="normal" fill="#111">ARM</text>
<rect x="540" y="718.9" width="112.5" height="116.70000000000005" fill="none" stroke="#666" stroke-width="0.9"/>
<line x1="540.00" y1="827.00" x2="542.20" y2="827.00" stroke="#666" stroke-width="0.7"/>
<line x1="540.00" y1="819.18" x2="542.20" y2="819.18" stroke="#666" stroke-width="0.7"/>
<line x1="540.00" y1="811.35" x2="542.20" y2="811.35" stroke="#666" stroke-width="0.7"/>
<line x1="540.00" y1="803.53" x2="542.20" y2="803.53" stroke="#666" stroke-width="0.7"/>
<line x1="540.00" y1="795.70" x2="542.20" y2="795.70" stroke="#666" stroke-width="0.7"/>
<line x1="540.00" y1="787.88" x2="542.20" y2="787.88" stroke="#666" stroke-width="0.7"/>
<line x1="540.00" y1="780.05" x2="542.20" y2="780.05" stroke="#666" stroke-width="0.7"/>
<line x1="540.00" y1="772.23" x2="542.20" y2="772.23" stroke="#666" stroke-width="0.7"/>
<line x1="540.00" y1="764.40" x2="542.20" y2="764.40" stroke="#666" stroke-width="0.7"/>
<line x1="540.00" y1="756.58" x2="542.20" y2="756.58" stroke="#666" stroke-width="0.7"/>
<line x1="540.00" y1="748.75" x2="542.20" y2="748.75" stroke="#666" stroke-width="0.7"/>
<line x1="540.00" y1="740.93" x2="542.20" y2="740.93" stroke="#666" stroke-width="0.7"/>
<line x1="540.00" y1="733.10" x2="542.20" y2="733.10" stroke="#666" stroke-width="0.7"/>
<line x1="540.00" y1="725.28" x2="542.20" y2="725.28" stroke="#666" stroke-width="0.7"/>
<text x="536.4" y="736.3" font-size="8.8" text-anchor="end" font-weight="normal" font-style="normal" fill="#333">0.4</text>
<text x="536.4" y="767.6" font-size="8.8" text-anchor="end" font-weight="normal" font-style="normal" fill="#333">0.2</text>
<text x="536.4" y="798.9" font-size="8.8" text-anchor="end" font-weight="normal" font-style="normal" fill="#333">0</text>
<text x="536.4" y="830.2" font-size="8.8" text-anchor="end" font-weight="normal" font-style="normal" fill="#333">-0.2</text>
<line x1="554.30" y1="835.60" x2="554.30" y2="833.40" stroke="#666" stroke-width="0.7"/>
<line x1="568.50" y1="835.60" x2="568.50" y2="833.40" stroke="#666" stroke-width="0.7"/>
<line x1="582.50" y1="835.60" x2="582.50" y2="833.40" stroke="#666" stroke-width="0.7"/>
<line x1="596.60" y1="835.60" x2="596.60" y2="832.40" stroke="#666" stroke-width="0.7"/>
<line x1="610.50" y1="835.60" x2="610.50" y2="833.40" stroke="#666" stroke-width="0.7"/>
<line x1="624.80" y1="835.60" x2="624.80" y2="833.40" stroke="#666" stroke-width="0.7"/>
<line x1="639.00" y1="835.60" x2="639.00" y2="833.40" stroke="#666" stroke-width="0.7"/>
<path d="M547.1,772.6 548.4,780.1 549.6,791.1 550.9,778.5 552.1,788.5 553.4,789.4 554.8,780.1 555.9,746.6 557.0,720.6 558.0,763.4 559.0,783.5 559.8,790.2 561.0,789.9 562.7,783.5 563.8,789.4 565.5,796.1 567.2,794.4 568.9,793.6 571.1,790.2 572.7,793.2 574.4,795.3 575.8,798.3 576.9,795.3 578.3,797.8 579.4,790.2 580.8,791.1 582.0,785.2 583.3,791.9 584.5,779.3 585.8,792.7 587.0,785.2 588.3,781.8 589.7,791.9 591.4,770.9 592.9,779.3 594.6,783.5 596.2,785.2 598.4,794.9 600.1,784.3 601.4,785.2 603.0,795.3 605.5,781.5 607.1,790.2 609.7,781.0 611.3,788.5 613.0,797.8 614.4,785.2 615.9,789.4 617.6,802.8 619.7,803.7 622.3,795.3 623.9,803.7 625.6,812.0 627.3,805.3 629.0,810.4 631.5,808.7 633.2,810.4 634.8,815.4 637.0,822.1 639.4,816.2 641.6,820.4 644.1,823.8 645.8,812.9 647.1,814.6 648.8,808.7 650.8,816.2 652.5,820.4" fill="none" stroke="#ff1a1a" stroke-width="0.95" stroke-linejoin="round"/>
<circle cx="556.8" cy="718.9" r="2.5" fill="#222" stroke="#f3efc0" stroke-width="0.7"/>
<text x="564.8" y="727.3" font-size="9.7" text-anchor="start" font-weight="bold" font-style="italic" fill="#333">0.61 cm/kyr</text>
<text x="564.8" y="736.2" font-size="9.7" text-anchor="start" font-weight="bold" font-style="italic" fill="#333"><tspan font-weight="normal" font-style="normal">ρ</tspan> = 0.486</text>
<text x="665.3" y="774.8" font-size="11" text-anchor="middle" font-weight="normal" font-style="italic" fill="#333" transform="rotate(-90 665.3 774.8)">ρ</text>
<text x="537.6" y="691.0" font-size="20" text-anchor="middle" font-weight="bold" font-style="normal" fill="#333">k</text>
<text x="594.3" y="701.4" font-size="9.8" text-anchor="middle" font-weight="bold" font-style="normal" fill="#111">Correlation coefficient</text>
<rect x="539.3" y="869.8" width="114.0" height="116.30000000000007" fill="none" stroke="#666" stroke-width="0.9"/>
<line x1="545.80" y1="888.20" x2="653.30" y2="888.20" stroke="#555" stroke-width="0.7" stroke-dasharray="1,1.5"/>
<line x1="545.80" y1="943.70" x2="653.30" y2="943.70" stroke="#555" stroke-width="0.7" stroke-dasharray="1,1.5"/>
<line x1="545.80" y1="953.60" x2="653.30" y2="953.60" stroke="#555" stroke-width="0.7" stroke-dasharray="1,1.5"/>
<line x1="539.30" y1="921.30" x2="653.30" y2="921.30" stroke="#666" stroke-width="1.4" stroke-dasharray="5,3"/>
<line x1="539.30" y1="905.80" x2="540.90" y2="905.80" stroke="#777" stroke-width="0.6"/>
<line x1="539.30" y1="896.73" x2="540.90" y2="896.73" stroke="#777" stroke-width="0.6"/>
<line x1="539.30" y1="890.29" x2="540.90" y2="890.29" stroke="#777" stroke-width="0.6"/>
<line x1="539.30" y1="885.30" x2="540.90" y2="885.30" stroke="#777" stroke-width="0.6"/>
<line x1="539.30" y1="881.23" x2="540.90" y2="881.23" stroke="#777" stroke-width="0.6"/>
<line x1="539.30" y1="877.78" x2="540.90" y2="877.78" stroke="#777" stroke-width="0.6"/>
<line x1="539.30" y1="874.79" x2="540.90" y2="874.79" stroke="#777" stroke-width="0.6"/>
<line x1="539.30" y1="872.16" x2="540.90" y2="872.16" stroke="#777" stroke-width="0.6"/>
<line x1="539.30" y1="966.59" x2="540.90" y2="966.59" stroke="#777" stroke-width="0.6"/>
<line x1="539.30" y1="955.18" x2="540.90" y2="955.18" stroke="#777" stroke-width="0.6"/>
<line x1="539.30" y1="947.09" x2="540.90" y2="947.09" stroke="#777" stroke-width="0.6"/>
<line x1="539.30" y1="940.81" x2="540.90" y2="940.81" stroke="#777" stroke-width="0.6"/>
<line x1="539.30" y1="935.68" x2="540.90" y2="935.68" stroke="#777" stroke-width="0.6"/>
<line x1="539.30" y1="931.34" x2="540.90" y2="931.34" stroke="#777" stroke-width="0.6"/>
<line x1="539.30" y1="927.58" x2="540.90" y2="927.58" stroke="#777" stroke-width="0.6"/>
<line x1="539.30" y1="924.27" x2="540.90" y2="924.27" stroke="#777" stroke-width="0.6"/>
<line x1="596.50" y1="986.10" x2="596.50" y2="983.10" stroke="#666" stroke-width="0.8"/>
<path d="M547.1,908.6 548.5,939.7 549.9,967.3 551.6,930.5 553.0,960.1 554.2,959.7 555.7,923.3 557.1,882.4 558.3,923.3 559.7,962.1 561.4,963.2 562.8,945.8 564.2,958.0 565.9,976.5 567.3,972.4 568.9,972.8 571.0,965.2 572.6,970.3 574.5,977.5 576.1,976.5 577.7,978.9 579.4,965.2 580.6,968.3 582.2,955.0 583.9,946.4 585.7,971.3 586.9,958.0 588.4,951.9 589.8,971.3 591.4,931.5 593.1,952.9 594.5,958.0 596.5,960.1 598.2,974.4 600.0,957.0 601.6,968.3 603.1,975.4 604.7,960.1 606.1,955.0 607.8,970.3 609.8,957.0 611.9,968.3 613.3,977.5 614.9,978.5 616.6,981.6 618.6,979.5 620.6,980.5 622.7,975.4 624.1,980.5 625.8,984.6 627.8,982.6 630.3,984.6 632.3,984.2 635.4,985.6 639.4,985.4 642.5,985.6 645.6,984.6 647.6,983.6 649.7,985.6 652.7,985.6" fill="none" stroke="#ff1a1a" stroke-width="0.95" stroke-linejoin="round"/>
<circle cx="557.1" cy="879.4" r="2.5" fill="#222" stroke="#f3efc0" stroke-width="0.7"/>
<text x="566.9" y="882.4" font-size="9.7" text-anchor="start" font-weight="bold" font-style="italic" fill="#333">0.61 cm/kyr</text>
<text x="566.9" y="891.3" font-size="9.7" text-anchor="start" font-weight="bold" font-style="italic" fill="#333">H<tspan font-size="6.5">0</tspan> = 0.0005</text>
<text x="663.3" y="923.3" font-size="9.8" text-anchor="middle" font-weight="normal" font-style="normal" fill="#333" transform="rotate(-90 663.3 923.3)">H<tspan font-size="7" dy="3">0</tspan><tspan dy="-3">significance level</tspan></text>
<line x1="596.50" y1="869.80" x2="596.50" y2="872.80" stroke="#666" stroke-width="0.8"/>
<line x1="654.60" y1="865.50" x2="654.60" y2="870.00" stroke="#666" stroke-width="0.8"/>
<text x="536.3" y="861.2" font-size="19" text-anchor="middle" font-weight="bold" font-style="normal" fill="#333">l</text>
<text x="600.4" y="860.1" font-size="9.8" text-anchor="middle" font-weight="bold" font-style="normal" fill="#111">Null hypothesis</text>
<text x="520.2" y="929.5" font-size="10" text-anchor="start" font-weight="normal" font-style="normal" fill="#333">10</text>
<text x="531.5" y="924.2" font-size="7" text-anchor="start" font-weight="normal" font-style="normal" fill="#333">-2</text>
<text x="520.2" y="996.2" font-size="10" text-anchor="start" font-weight="normal" font-style="normal" fill="#333">10</text>
<text x="531.5" y="990.8" font-size="7" text-anchor="start" font-weight="normal" font-style="normal" fill="#333">0</text>
<rect x="0.5" y="0.5" width="684" height="1033" fill="none" stroke="#5a5a5a" stroke-width="1"/>
<line x1="0.00" y1="506.50" x2="685.00" y2="506.50" stroke="#707070" stroke-width="1"/>
</svg>
</body></html>
